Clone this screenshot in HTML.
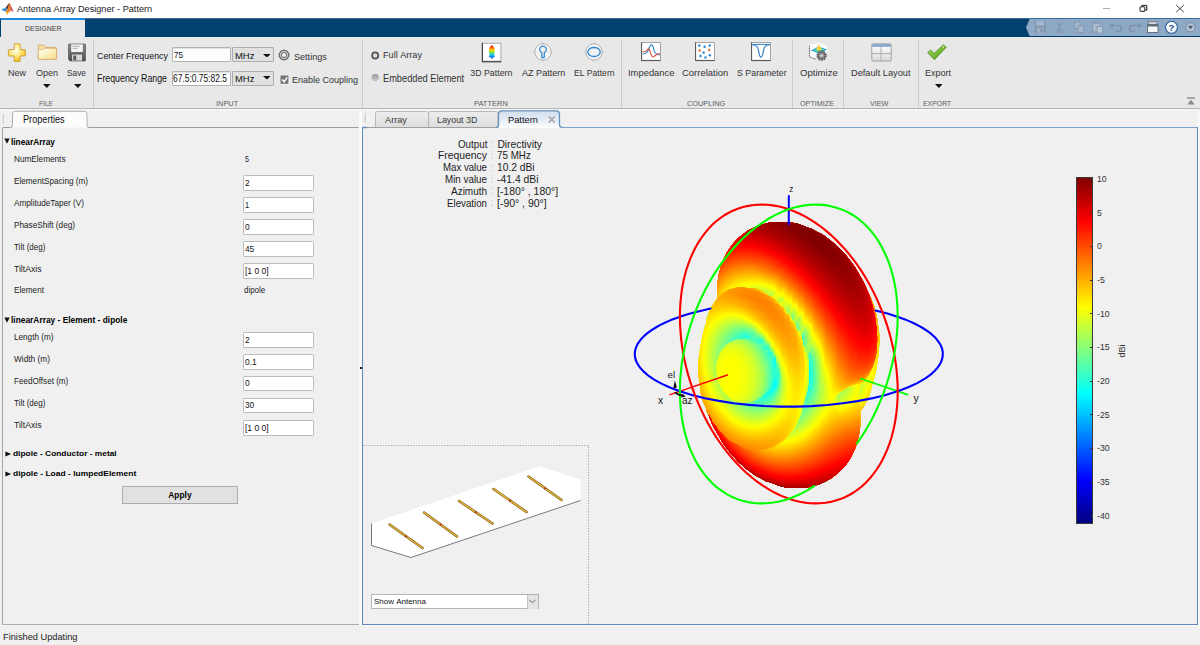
<!DOCTYPE html>
<html><head><meta charset="utf-8"><title>Antenna Array Designer - Pattern</title><style>html,body{margin:0;padding:0}body{width:1200px;height:645px;position:relative;overflow:hidden;background:#f0f0f0;font-family:"Liberation Sans",sans-serif}
.a{position:absolute;display:block}.t{position:absolute;white-space:nowrap;transform-origin:0 50%;font-family:"Liberation Sans",sans-serif}</style></head><body>
<div class="a" style="left:0px;top:0px;width:1200px;height:18px;background:#fff"></div>
<svg class="a" style="left:0;top:0" width="16" height="18" viewBox="0 0 16 18"><path d="M1.1 9.7L5.6 7.4L7.5 9.5L5.8 11.7Z" fill="#3d90d7"/><path d="M5.6 7.4C7.2 5.9 8.3 3.7 9.4 2.8L9.2 8L7.5 9.5Z" fill="#5a3a3a"/><path d="M9.4 2.8C10.2 4.5 10.4 8 10.6 10.5C9.6 11.5 8.6 12.7 7.2 14.7C6.6 13.4 6.2 12.4 5.8 11.7L7.5 9.5C8.3 7.3 8.8 4.8 9.4 2.8Z" fill="#ee8527"/><path d="M9.4 2.8C10.7 4.4 11.9 8.6 13.7 11.9C12.4 11.1 11.4 10.7 10.6 10.5C10.4 8 10.2 4.5 9.4 2.8Z" fill="#d5383b"/><path d="M5.8 11.7L7.2 14.7C7.6 13.7 8 13.1 8.5 12.4C7.4 12.4 6.6 12.1 5.8 11.7Z" fill="#f6c22e"/></svg>
<div class="t" style="left:17.0px;top:3.8px;font-size:8.90px;line-height:11px;color:#1a1a1a;transform:scaleX(1.0299);">Antenna&nbsp;Array&nbsp;Designer&nbsp;-&nbsp;Pattern</div>
<svg class="a" style="left:1095px;top:0" width="105" height="18" viewBox="1095 0 105 18" fill="none" stroke="#333" stroke-width="0.8"><path d="M1103 8.5h7.2" stroke="#999"/><rect x="1140.1" y="6.8" width="4.7" height="4.6" rx="0.5" stroke="#1a1a1a" stroke-width="1"/><path d="M1141.9 6.6v-1.2h4.9v4.8h-1.7" stroke="#1a1a1a" stroke-width="1"/><path d="M1176.2 5.1l7.6 7M1183.8 5.1l-7.6 7" stroke="#222" stroke-width="0.85"/></svg>
<div class="a" style="left:0px;top:18px;width:1200px;height:19px;background:#01406f"></div>
<div class="a" style="left:0px;top:17.7px;width:1200px;height:1.3px;background:#3d6f9e"></div>
<div class="a" style="left:1px;top:18.3px;width:84.3px;height:18.7px;background:#e8e8e8;border-top:2px solid #1f86dd;box-sizing:border-box"></div>
<div class="t" style="left:24.5px;top:23.8px;font-size:8.00px;line-height:10px;color:#3c3c3c;transform:scaleX(0.8735);">DESIGNER</div>
<svg class="a" style="left:1020px;top:18px" width="180" height="19" viewBox="1020 18 180 19"><path d="M1026 27.5 L1029.6 19 H1200 V36 H1029.6 Z" fill="#8ea9c6"/><g opacity="0.55"><rect x="1034.5" y="21.5" width="11.5" height="11.5" rx="1" fill="#7d8ea3"/><rect x="1036.5" y="21.5" width="7.5" height="4" fill="#b9c6d6"/><rect x="1037" y="28" width="6.5" height="5" fill="#a8b7c9"/><rect x="1040.5" y="29" width="2" height="3" fill="#6f8197"/></g><g stroke="#7f93ab" stroke-width="1" fill="none"><path d="M1057.5 22l3 8M1061.5 22l-3 8"/><circle cx="1057.6" cy="31.3" r="1.5"/><circle cx="1061.4" cy="31.3" r="1.5"/></g><g fill="#a9bace" stroke="#7f93ab" stroke-width="0.8"><rect x="1074.5" y="22" width="5.5" height="6.5"/><rect x="1078" y="26" width="5.5" height="6.5"/></g><g fill="#a9bace" stroke="#7f93ab" stroke-width="0.8"><rect x="1092.5" y="22.5" width="7.5" height="9.5"/><rect x="1094.5" y="21.3" width="3.5" height="2.2"/><rect x="1097" y="26.5" width="5.5" height="6.5" fill="#b9c8d9"/></g><g fill="none" stroke="#7f93ab" stroke-width="1.6"><path d="M1112 25.5h6.5a3 3 0 0 1 0 6h-3"/><path d="M1139 25.5h-6.5a3 3 0 0 0 0 6h3"/></g><path d="M1109 25.5l4-3.2v6.4z" fill="#7f93ab"/><path d="M1142 25.5l-4-3.2v6.4z" fill="#7f93ab"/><g><rect x="1148.5" y="21.5" width="8.5" height="7" fill="#c9d3df" stroke="#6b7785" stroke-width="0.8"/><rect x="1147.5" y="24.5" width="10.5" height="8" fill="#f4f6f8" stroke="#5d6a78" stroke-width="0.9"/><rect x="1147.5" y="24.5" width="10.5" height="2" fill="#5d6a78"/></g><circle cx="1171.5" cy="27.3" r="6" fill="#f4f7fb" stroke="#2d5f9a" stroke-width="1.1"/><text x="1171.5" y="30.6" font-family="Liberation Sans" font-weight="bold" font-size="9.5" fill="#1d4b85" text-anchor="middle">?</text><circle cx="1190.5" cy="27.3" r="4.6" fill="#b7c6d8" stroke="#6c7f96" stroke-width="0.9"/><path d="M1187.8 25.8h5.4l-2.7 3.6z" fill="#4b5b70"/></svg>
<div class="a" style="left:0px;top:37px;width:1200px;height:71px;background:#e8e8e8"></div>
<div class="a" style="left:0px;top:107.5px;width:1200px;height:1px;background:#b4b4b4"></div>
<div class="a" style="left:0px;top:108.5px;width:1200px;height:2px;background:#f5f5f5"></div>
<div class="a" style="left:93px;top:40px;width:1px;height:67.5px;background:#cbcbcb"></div>
<div class="a" style="left:361.5px;top:40px;width:1px;height:67.5px;background:#cbcbcb"></div>
<div class="a" style="left:621.2px;top:40px;width:1px;height:67.5px;background:#cbcbcb"></div>
<div class="a" style="left:792px;top:40px;width:1px;height:67.5px;background:#cbcbcb"></div>
<div class="a" style="left:842.8px;top:40px;width:1px;height:67.5px;background:#cbcbcb"></div>
<div class="a" style="left:917.8px;top:40px;width:1px;height:67.5px;background:#cbcbcb"></div>
<div class="t" style="left:8.0px;top:67.5px;font-size:8.80px;line-height:11px;color:#333333;transform:scaleX(1.0225);">New</div>
<div class="t" style="left:36.0px;top:67.5px;font-size:8.80px;line-height:11px;color:#333333;transform:scaleX(1.0218);">Open</div>
<div class="t" style="left:67.0px;top:67.5px;font-size:8.80px;line-height:11px;color:#333333;transform:scaleX(0.9472);">Save</div>
<svg class="a" style="left:43.2px;top:84px" width="7.6" height="4" viewBox="0 0 7.6 4"><path d="M0 0h7.6l-3.8 4z" fill="#111"/></svg>
<svg class="a" style="left:73.6px;top:84px" width="7.6" height="4" viewBox="0 0 7.6 4"><path d="M0 0h7.6l-3.8 4z" fill="#111"/></svg>
<div class="t" style="left:39.0px;top:98.6px;font-size:7.60px;line-height:10px;color:#5e5e5e;transform:scaleX(0.8722);">FILE</div>
<svg class="a" style="left:7px;top:42.5px" width="20" height="20" viewBox="0 0 20 20"><defs><radialGradient id="gn" cx="0.42" cy="0.36" r="0.7"><stop offset="0" stop-color="#fffef2"/><stop offset="0.35" stop-color="#fdf0a0"/><stop offset="0.75" stop-color="#f6cf3c"/><stop offset="1" stop-color="#e2a712"/></radialGradient></defs><path d="M7.2 1.3q0-0.5 0.5-0.5h5q0.5 0 0.5 0.5v5.3h4.6q0.5 0 0.5 0.5v5.4q0 0.5-0.5 0.5h-4.6v5q0 0.5-0.5 0.5h-5q-0.5 0-0.5-0.5v-5h-5.3q-0.5 0-0.5-0.5v-5.4q0-0.5 0.5-0.5h5.3z" fill="url(#gn)" stroke="#cf9d3a" stroke-width="0.9" stroke-linejoin="round"/></svg>
<svg class="a" style="left:37px;top:43.5px" width="22" height="17" viewBox="0 0 22 17"><defs><linearGradient id="gf" x1="0" y1="0" x2="1" y2="1"><stop offset="0" stop-color="#ffffff"/><stop offset="0.45" stop-color="#fdf3c4"/><stop offset="1" stop-color="#f3d983"/></linearGradient></defs><path d="M1.3 15V2.1q0-0.9 0.9-0.9h4.3q0.6 0 0.9 0.5l1 1.7h10.2q0.9 0 0.9 0.9V15z" fill="#f6e3a2" stroke="#d2a060" stroke-width="0.8" stroke-linejoin="round"/><path d="M1.6 15.3q-0.5-4.5-0.2-8.8q0.1-0.9 1-0.9h3.4l1.6-1.3h11.3q0.9 0 0.9 0.9v9.2q0 0.9-0.9 0.9z" fill="url(#gf)" stroke="#d6a868" stroke-width="0.8" stroke-linejoin="round"/></svg>
<svg class="a" style="left:67px;top:43px" width="20" height="20" viewBox="0 0 20 20"><defs><linearGradient id="gs" x1="0" y1="0" x2="0" y2="1"><stop offset="0" stop-color="#8a8a8a"/><stop offset="1" stop-color="#4f4f4f"/></linearGradient></defs><path d="M1.5 1.8q0-0.8 0.8-0.8h15.4q0.8 0 0.8 0.8v15.4q0 0.8-0.8 0.8h-14.6l-1.6-1.6z" fill="url(#gs)" stroke="#444" stroke-width="0.6"/><rect x="4.2" y="1.4" width="11.6" height="7.6" fill="#f4f4f4"/><path d="M5.6 3.4h7M5.6 5.4h5" stroke="#999" stroke-width="0.8"/><rect x="5" y="11.6" width="10" height="6" fill="#d8d8d8"/><rect x="6.2" y="12.6" width="3" height="4.6" fill="#5a5a5a"/></svg>
<div class="t" style="left:97.0px;top:50.5px;font-size:9.10px;line-height:11px;color:#111;transform:scaleX(0.9749);">Center&nbsp;Frequency</div>
<div class="t" style="left:97.0px;top:73.2px;font-size:10.00px;line-height:12px;color:#111;transform:scaleX(0.8805);">Frequency&nbsp;Range</div>
<div class="a" style="left:171.8px;top:47.2px;width:59px;height:14.6px;background:#fdfdfd;border:1px solid #b3b3b3;border-radius:1px;box-sizing:border-box;box-shadow:inset 0 1px 0 #e2e2e2"></div>
<div class="a" style="left:232px;top:47.2px;width:41.7px;height:14.6px;background:#e1e1e1;border:1px solid #adadad;border-radius:1px;box-sizing:border-box"></div>
<div class="t" style="left:234.8px;top:49.8px;font-size:9.80px;line-height:12px;color:#111;transform:scaleX(0.9633);">MHz</div>
<svg class="a" style="left:262.75px;top:53.85px" width="7.7" height="3.5" viewBox="0 0 7.7 3.5"><path d="M0 0h7.7l-3.85 3.5z" fill="#111"/></svg>
<div class="a" style="left:171.8px;top:71.2px;width:59px;height:14.6px;background:#fdfdfd;border:1px solid #b3b3b3;border-radius:1px;box-sizing:border-box;box-shadow:inset 0 1px 0 #e2e2e2"></div>
<div class="a" style="left:232px;top:71.2px;width:41.7px;height:14.6px;background:#e1e1e1;border:1px solid #adadad;border-radius:1px;box-sizing:border-box"></div>
<div class="t" style="left:234.8px;top:73.3px;font-size:9.80px;line-height:12px;color:#111;transform:scaleX(0.9633);">MHz</div>
<svg class="a" style="left:262.75px;top:76.45px" width="7.7" height="3.5" viewBox="0 0 7.7 3.5"><path d="M0 0h7.7l-3.85 3.5z" fill="#111"/></svg>
<div class="t" style="left:173.6px;top:49.0px;font-size:9.70px;line-height:12px;color:#111;transform:scaleX(0.8250);">75</div>
<div class="t" style="left:173.4px;top:71.8px;font-size:10.20px;line-height:13px;color:#111;transform:scaleX(0.8263);">67.5:0.75:82.5</div>
<svg class="a" style="left:278.4px;top:49.4px" width="12" height="12" viewBox="0 0 12 12"><circle cx="6" cy="6" r="4.7" fill="#c4c4c4" stroke="#646464" stroke-width="1.1"/><circle cx="6" cy="6" r="5.2" fill="none" stroke="#707070" stroke-width="0.7" stroke-dasharray="1.6 1.67"/><circle cx="6" cy="6" r="2.5" fill="#f4f4f4" stroke="#6a6a6a" stroke-width="1"/></svg>
<div class="t" style="left:293.8px;top:50.5px;font-size:9.30px;line-height:12px;color:#333333;transform:scaleX(0.9761);">Settings</div>
<svg class="a" style="left:279.5px;top:74.7px" width="10" height="10" viewBox="0 0 10 10"><rect x="0.5" y="0.5" width="8.2" height="8.4" rx="0.9" fill="#767676"/><path d="M0.9 9.2h8.1v-8" fill="none" stroke="#f6f6f6" stroke-width="0.7"/><path d="M2.2 4.6l1.9 2.2l3.1-4.4" fill="none" stroke="#fff" stroke-width="1.5"/></svg>
<div class="t" style="left:291.8px;top:74.1px;font-size:9.60px;line-height:12px;color:#333333;transform:scaleX(0.9381);">Enable&nbsp;Coupling</div>
<div class="t" style="left:215.8px;top:98.6px;font-size:7.60px;line-height:10px;color:#5e5e5e;transform:scaleX(0.9737);">INPUT</div>
<svg class="a" style="left:370px;top:50px" width="10" height="34" viewBox="0 0 10 34"><defs><linearGradient id="r2" x1="0" y1="0" x2="0" y2="1"><stop offset="0" stop-color="#9a9a9a"/><stop offset="1" stop-color="#cfcfcf"/></linearGradient></defs><circle cx="5.2" cy="6" r="3.6" fill="none" stroke="#f8f8f8" stroke-width="1"/><circle cx="5.2" cy="5.5" r="3.1" fill="#dedede" stroke="#505050" stroke-width="1.7"/><circle cx="5.2" cy="28.4" r="3.9" fill="#f8f8f8"/><circle cx="5.2" cy="27.9" r="3.8" fill="url(#r2)"/></svg>
<div class="t" style="left:382.8px;top:50.3px;font-size:8.80px;line-height:11px;color:#333333;transform:scaleX(1.0359);">Full&nbsp;Array</div>
<div class="t" style="left:382.8px;top:73.1px;font-size:10.00px;line-height:12px;color:#333333;transform:scaleX(0.9244);">Embedded&nbsp;Element</div>
<svg class="a" style="left:481px;top:42px" width="22" height="22" viewBox="0 0 22 22"><defs><linearGradient id="jet1" x1="0" y1="0" x2="0" y2="1"><stop offset="0" stop-color="#e00008"/><stop offset="0.2" stop-color="#ff6a00"/><stop offset="0.38" stop-color="#f0e000"/><stop offset="0.55" stop-color="#60e060"/><stop offset="0.72" stop-color="#20c8e8"/><stop offset="0.9" stop-color="#1070f0"/><stop offset="1" stop-color="#1040d0"/></linearGradient></defs><rect x="1.3" y="1.2" width="18.6" height="18.5" fill="#fff" stroke="#8a8a8a" stroke-width="0.7"/><path d="M1.3 0.9v18.9h18.9" fill="none" stroke="#2a2a2a" stroke-width="1"/><path d="M3.5 19v-0.9M6 19v-0.9M8.5 19v-0.9M11 19v-0.9M13.5 19v-0.9M16 19v-0.9M18.5 19v-0.9" stroke="#555" stroke-width="0.45"/><path d="M10.8 3.2c1.6 0.8 3 3.2 3 5.4c0 2-0.9 2.8-0.6 4.4c0.2 0.9 0.9 1.3 0.5 2c-0.4 0.6-1.4 0.4-1.9 0.3l-0.4 1.4h-1.2l-0.4-1.4c-0.5 0.1-1.5 0.3-1.9-0.3c-0.4-0.7 0.3-1.1 0.5-2c0.3-1.6-0.6-2.4-0.6-4.4c0-2.2 1.4-4.6 3-5.4z" fill="url(#jet1)"/></svg>
<div class="t" style="left:470.3px;top:67.5px;font-size:8.80px;line-height:11px;color:#333333;">3D&nbsp;Pattern</div>
<svg class="a" style="left:530.8px;top:39.8px" width="24" height="24" viewBox="-12 -12 24 24"><path d="M-9.8 0h19.6M0-9.8v19.6" stroke="#b0b0b0" stroke-width="0.6"/><circle r="8.2" fill="#f5f5f5" stroke="#a9a9a9" stroke-width="0.9"/><path d="M-8 0h16M0-8v16" stroke="#e1e1e1" stroke-width="0.5"/><circle r="4.6" fill="none" stroke="#e4e4e4" stroke-width="0.5"/><path d="M-1.25 5.6V0.5A3.3 3.3 0 1 1 1.25 0.5V5.6Z" fill="none" stroke="#2f86d1" stroke-width="1.25" stroke-linejoin="round"/></svg>
<svg class="a" style="left:581.5px;top:39.9px" width="24" height="24" viewBox="-12 -12 24 24"><path d="M-9.8 0h19.6M0-9.8v19.6" stroke="#b0b0b0" stroke-width="0.6"/><circle r="8.2" fill="#f5f5f5" stroke="#a9a9a9" stroke-width="0.9"/><path d="M-8 0h16M0-8v16" stroke="#e1e1e1" stroke-width="0.5"/><circle r="4.6" fill="none" stroke="#e4e4e4" stroke-width="0.5"/><ellipse rx="6.2" ry="4.5" fill="none" stroke="#2f86d1" stroke-width="1.3"/></svg>
<div class="t" style="left:521.7px;top:67.5px;font-size:8.80px;line-height:11px;color:#333333;transform:scaleX(1.0293);">AZ&nbsp;Pattern</div>
<div class="t" style="left:573.8px;top:67.5px;font-size:8.80px;line-height:11px;color:#333333;transform:scaleX(0.9743);">EL&nbsp;Pattern</div>
<div class="t" style="left:473.7px;top:98.6px;font-size:7.60px;line-height:10px;color:#5e5e5e;transform:scaleX(0.9843);">PATTERN</div>
<svg class="a" style="left:640.6px;top:42.4px" width="20.8" height="20" viewBox="0 0 20.8 20"><rect x="0.6" y="0.6" width="18.8" height="18" fill="#fff" stroke="#909090" stroke-width="0.8"/><path d="M0.6 0.4v18.2h19" fill="none" stroke="#4a4a4a" stroke-width="0.9"/><path d="M3 18.4v-1M6 18.4v-1M9 18.4v-1M12 18.4v-1M15 18.4v-1M18 18.4v-1" stroke="#666" stroke-width="0.45"/><path d="M1.5 12c3-0.3 4.6-0.6 6-4.5c1-3 1.9-4.6 2.9-4.6s1.9 1.8 2.5 5.1c0.6 3.3 2 4.6 6 5" fill="none" stroke="#2f7fc8" stroke-width="1.1"/><path d="M1.5 10c2.5 0 3.8-0.4 4.8-2.2c1-1.5 1.9-1.2 2.7 1.4c0.8 3.3 1.5 5.8 2.9 5.8c1.4 0 2.4-3.2 7-3.6" fill="none" stroke="#e34a33" stroke-width="1.05"/></svg>
<svg class="a" style="left:694.6px;top:42.4px" width="20.8" height="20" viewBox="0 0 20.8 20"><rect x="0.6" y="0.6" width="18.8" height="18" fill="#fff" stroke="#909090" stroke-width="0.8"/><path d="M0.6 0.4v18.2h19" fill="none" stroke="#4a4a4a" stroke-width="0.9"/><path d="M3 18.4v-1M6 18.4v-1M9 18.4v-1M12 18.4v-1M15 18.4v-1M18 18.4v-1" stroke="#666" stroke-width="0.45"/><circle cx="4.3" cy="3.4" r="1.25" fill="#2f86d1"/><circle cx="9.6" cy="4.8" r="1.25" fill="#2f86d1"/><circle cx="14.8" cy="3.6" r="1.25" fill="#2f86d1"/><circle cx="4.6" cy="8.6" r="1.25" fill="#e8743b"/><circle cx="8.6" cy="10.6" r="1.25" fill="#2f86d1"/><circle cx="14.2" cy="8" r="1.25" fill="#e8743b"/><circle cx="5.5" cy="14" r="1.25" fill="#2f86d1"/><circle cx="10.5" cy="15.4" r="1.25" fill="#2f86d1"/><circle cx="14.8" cy="13.2" r="1.25" fill="#2f86d1"/></svg>
<svg class="a" style="left:751px;top:42.4px" width="20.8" height="20" viewBox="0 0 20.8 20"><rect x="0.6" y="0.6" width="18.8" height="18" fill="#fff" stroke="#909090" stroke-width="0.8"/><path d="M0.6 0.4v18.2h19" fill="none" stroke="#4a4a4a" stroke-width="0.9"/><path d="M3 18.4v-1M6 18.4v-1M9 18.4v-1M12 18.4v-1M15 18.4v-1M18 18.4v-1" stroke="#666" stroke-width="0.45"/><path d="M1 2.4h18" stroke="#2f7fc8" stroke-width="1"/><path d="M1.5 3c4 0.1 5.4 1.6 6.2 6.6c0.6 3.6 1.2 5.6 2.3 5.6s1.7-2 2.3-5.6c0.8-5 2.2-6.5 6.2-6.6" fill="none" stroke="#2f7fc8" stroke-width="1.2"/></svg>
<div class="t" style="left:627.5px;top:67.5px;font-size:8.80px;line-height:11px;color:#333333;transform:scaleX(1.0678);">Impedance</div>
<div class="t" style="left:681.7px;top:67.5px;font-size:8.80px;line-height:11px;color:#333333;transform:scaleX(1.0756);">Correlation</div>
<div class="t" style="left:736.7px;top:67.5px;font-size:8.80px;line-height:11px;color:#333333;transform:scaleX(1.0040);">S&nbsp;Parameter</div>
<div class="t" style="left:686.7px;top:98.6px;font-size:7.60px;line-height:10px;color:#5e5e5e;transform:scaleX(0.9648);">COUPLING</div>
<svg class="a" style="left:806px;top:41px" width="24" height="23" viewBox="806 41 24 23"><path d="M809.5 45.8L818 42.6L827.2 45.6V56.5L818.5 60L809.5 57Z" fill="#fcfcfc"/><path d="M809.5 45.8V57L816.5 59.4" fill="none" stroke="#555" stroke-width="0.9" stroke-dasharray="1.6 0.7"/><path d="M810.8 50.4L818.6 46.4L827 49.4L819.4 53.6Z" fill="#2b9fd9"/><path d="M813 50.2L818.7 47.3L824.6 49.4L819.2 52.4Z" fill="#4fd0b0"/><path d="M816.2 49.6L818.8 44.2L821.8 49.4L819 50.8Z" fill="#f2d53a"/><circle cx="821.6" cy="55.6" r="4.5" fill="#9a9a9a" stroke="#5a5a5a" stroke-width="1.5" stroke-dasharray="1.75 1.05"/><circle cx="821.6" cy="55.6" r="3.3" fill="#a8a8a8" stroke="#4f4f4f" stroke-width="0.8"/><circle cx="821.6" cy="55.6" r="1.7" fill="#e0e0e0" stroke="#555" stroke-width="0.6"/></svg>
<div class="t" style="left:799.7px;top:67.5px;font-size:8.80px;line-height:11px;color:#333333;transform:scaleX(1.0887);">Optimize</div>
<div class="t" style="left:800.0px;top:98.6px;font-size:7.60px;line-height:10px;color:#5e5e5e;transform:scaleX(0.9473);">OPTIMIZE</div>
<svg class="a" style="left:870.5px;top:43px" width="21" height="19" viewBox="0 0 21 19"><defs><linearGradient id="gl" x1="0" y1="0" x2="0" y2="1"><stop offset="0" stop-color="#fdfdfd"/><stop offset="1" stop-color="#dcdcdc"/></linearGradient></defs><rect x="0.8" y="0.8" width="19.4" height="17.2" rx="1" fill="url(#gl)" stroke="#9a9a9a" stroke-width="0.9"/><rect x="1.2" y="1.2" width="18.6" height="2.6" fill="#7fa3d0"/><path d="M1 10.6h19M10 4v14" stroke="#a8a8a8" stroke-width="0.9"/></svg>
<div class="t" style="left:851.3px;top:67.5px;font-size:8.80px;line-height:11px;color:#333333;transform:scaleX(1.0483);">Default&nbsp;Layout</div>
<div class="t" style="left:870.3px;top:98.6px;font-size:7.60px;line-height:10px;color:#5e5e5e;transform:scaleX(0.9473);">VIEW</div>
<svg class="a" style="left:926px;top:43px" width="22" height="19" viewBox="0 0 22 19"><defs><linearGradient id="gc" x1="0" y1="0" x2="1" y2="1"><stop offset="0" stop-color="#a6e05a"/><stop offset="1" stop-color="#4f9a1e"/></linearGradient></defs><path d="M1.6 9.6l3-2.6l3.6 3.4l9-8.6l3 2.4l-11.8 12.6z" fill="url(#gc)" stroke="#4a8a20" stroke-width="0.8" stroke-linejoin="round"/><path d="M16.6 3.2l1.4 1.2" stroke="#e6f7c8" stroke-width="1.2"/></svg>
<div class="t" style="left:924.7px;top:67.5px;font-size:8.80px;line-height:11px;color:#333333;transform:scaleX(1.0261);">Export</div>
<svg class="a" style="left:934.9px;top:84px" width="7.6" height="4" viewBox="0 0 7.6 4"><path d="M0 0h7.6l-3.8 4z" fill="#111"/></svg>
<div class="t" style="left:922.5px;top:98.6px;font-size:7.60px;line-height:10px;color:#5e5e5e;transform:scaleX(0.9096);">EXPORT</div>
<svg class="a" style="left:1185.8px;top:96.6px" width="10" height="9" viewBox="0 0 10 9"><path d="M1 1h8" stroke="#777" stroke-width="1.2"/><path d="M5 2.8l3.6 4.6h-7.2z" fill="#8a8a8a"/></svg>
<div class="a" style="left:0px;top:110.5px;width:1200px;height:534.5px;background:#f0f0f0"></div>
<svg class="a" style="left:0;top:109px" width="362" height="20" viewBox="0 109 362 20"><path d="M2.5 127.5 H10.5 Q12.3 127.3 12.6 125.5 V114 Q12.8 111.3 15.5 111.3 H84 Q86.7 111.3 86.9 114 V125.5 Q87.2 127.3 89 127.5 H358.5" fill="none" stroke="#9d9d9d" stroke-width="1"/><path d="M12.9 127.5 V114 Q13 111.8 15.5 111.8 H84 Q86.4 111.8 86.5 114 V127.5 Z" fill="#fbfbfb"/><path d="M3.6 114v9.5" stroke="#cfcfcf" stroke-width="1.5"/><path d="M4.9 114v9.5" stroke="#fafafa" stroke-width="1"/></svg>
<div class="t" style="left:23.3px;top:114.0px;font-size:10.00px;line-height:12px;color:#111;transform:scaleX(0.9148);">Properties</div>
<div class="a" style="left:1.6px;top:127.5px;width:1.5px;height:497px;background:#a6a6a6"></div>
<div class="a" style="left:2px;top:623.8px;width:357px;height:1px;background:#adadad"></div>
<div class="a" style="left:358.5px;top:127.5px;width:1px;height:497px;background:#dcdcdc"></div>
<svg class="a" style="left:3.6px;top:138.4px" width="6" height="6" viewBox="0 0 6 6"><path d="M0.3 0.4h5.4l-2.7 5.4z" fill="#111"/></svg>
<div class="t" style="left:11.0px;top:136.7px;font-size:8.40px;line-height:10px;color:#000;font-weight:bold;transform:scaleX(0.9919);">linearArray</div>
<div class="t" style="left:13.5px;top:153.7px;font-size:8.80px;line-height:11px;color:#222;transform:scaleX(0.9319);">NumElements</div>
<div class="t" style="left:244.6px;top:153.7px;font-size:8.80px;line-height:11px;color:#222;transform:scaleX(0.8172);">5</div>
<div class="t" style="left:13.5px;top:175.9px;font-size:8.80px;line-height:11px;color:#222;transform:scaleX(0.9282);">ElementSpacing&nbsp;(m)</div>
<div class="a" style="left:243.3px;top:175.2px;width:70.5px;height:15.6px;background:#fff;border:1px solid #bcbcbc;border-radius:1.2px;box-sizing:border-box"></div>
<div class="t" style="left:244.8px;top:177.8px;font-size:9.00px;line-height:11px;color:#111;transform:scaleX(0.9389);">2</div>
<div class="t" style="left:13.5px;top:197.8px;font-size:8.80px;line-height:11px;color:#222;transform:scaleX(0.9293);">AmplitudeTaper&nbsp;(V)</div>
<div class="a" style="left:243.3px;top:197.2px;width:70.5px;height:15.6px;background:#fff;border:1px solid #bcbcbc;border-radius:1.2px;box-sizing:border-box"></div>
<div class="t" style="left:244.8px;top:199.8px;font-size:9.00px;line-height:11px;color:#111;transform:scaleX(0.8390);">1</div>
<div class="t" style="left:13.5px;top:219.8px;font-size:8.80px;line-height:11px;color:#222;transform:scaleX(0.9305);">PhaseShift&nbsp;(deg)</div>
<div class="a" style="left:243.3px;top:219.2px;width:70.5px;height:15.6px;background:#fff;border:1px solid #bcbcbc;border-radius:1.2px;box-sizing:border-box"></div>
<div class="t" style="left:244.8px;top:221.8px;font-size:9.00px;line-height:11px;color:#111;transform:scaleX(0.9389);">0</div>
<div class="t" style="left:13.5px;top:241.7px;font-size:8.80px;line-height:11px;color:#222;transform:scaleX(0.9158);">Tilt&nbsp;(deg)</div>
<div class="a" style="left:243.3px;top:241.2px;width:70.5px;height:15.6px;background:#fff;border:1px solid #bcbcbc;border-radius:1.2px;box-sizing:border-box"></div>
<div class="t" style="left:244.8px;top:243.8px;font-size:9.00px;line-height:11px;color:#111;transform:scaleX(0.9189);">45</div>
<div class="t" style="left:13.5px;top:263.5px;font-size:8.80px;line-height:11px;color:#222;transform:scaleX(0.9811);">TiltAxis</div>
<div class="a" style="left:243.3px;top:263.2px;width:70.5px;height:15.6px;background:#fff;border:1px solid #bcbcbc;border-radius:1.2px;box-sizing:border-box"></div>
<div class="t" style="left:244.8px;top:265.8px;font-size:9.00px;line-height:11px;color:#111;transform:scaleX(0.9473);">[1&nbsp;0&nbsp;0]</div>
<div class="t" style="left:13.5px;top:285.3px;font-size:8.80px;line-height:11px;color:#222;transform:scaleX(0.9292);">Element</div>
<div class="t" style="left:244.3px;top:285.3px;font-size:8.80px;line-height:11px;color:#222;transform:scaleX(0.9026);">dipole</div>
<svg class="a" style="left:3.6px;top:317px" width="6" height="6" viewBox="0 0 6 6"><path d="M0.3 0.4h5.4l-2.7 5.4z" fill="#111"/></svg>
<div class="t" style="left:11.0px;top:315.3px;font-size:8.40px;line-height:10px;color:#000;font-weight:bold;">linearArray&nbsp;-&nbsp;Element&nbsp;-&nbsp;dipole</div>
<div class="t" style="left:13.5px;top:332.3px;font-size:8.80px;line-height:11px;color:#222;transform:scaleX(0.9281);">Length&nbsp;(m)</div>
<div class="a" style="left:243.3px;top:332.2px;width:70.5px;height:15.6px;background:#fff;border:1px solid #bcbcbc;border-radius:1.2px;box-sizing:border-box"></div>
<div class="t" style="left:244.8px;top:334.8px;font-size:9.00px;line-height:11px;color:#111;transform:scaleX(0.9389);">2</div>
<div class="t" style="left:13.5px;top:354.0px;font-size:8.80px;line-height:11px;color:#222;transform:scaleX(0.9441);">Width&nbsp;(m)</div>
<div class="a" style="left:243.3px;top:354.2px;width:70.5px;height:15.6px;background:#fff;border:1px solid #bcbcbc;border-radius:1.2px;box-sizing:border-box"></div>
<div class="t" style="left:244.8px;top:356.8px;font-size:9.00px;line-height:11px;color:#111;transform:scaleX(0.9351);">0.1</div>
<div class="t" style="left:13.5px;top:376.1px;font-size:8.80px;line-height:11px;color:#222;transform:scaleX(0.9201);">FeedOffset&nbsp;(m)</div>
<div class="a" style="left:243.3px;top:375.7px;width:70.5px;height:15.6px;background:#fff;border:1px solid #bcbcbc;border-radius:1.2px;box-sizing:border-box"></div>
<div class="t" style="left:244.8px;top:378.3px;font-size:9.00px;line-height:11px;color:#111;transform:scaleX(0.9389);">0</div>
<div class="t" style="left:13.5px;top:397.9px;font-size:8.80px;line-height:11px;color:#222;transform:scaleX(0.9158);">Tilt&nbsp;(deg)</div>
<div class="a" style="left:243.3px;top:397.7px;width:70.5px;height:15.6px;background:#fff;border:1px solid #bcbcbc;border-radius:1.2px;box-sizing:border-box"></div>
<div class="t" style="left:244.8px;top:400.3px;font-size:9.00px;line-height:11px;color:#111;transform:scaleX(0.9189);">30</div>
<div class="t" style="left:13.5px;top:419.9px;font-size:8.80px;line-height:11px;color:#222;transform:scaleX(0.9811);">TiltAxis</div>
<div class="a" style="left:243.3px;top:420.2px;width:70.5px;height:15.6px;background:#fff;border:1px solid #bcbcbc;border-radius:1.2px;box-sizing:border-box"></div>
<div class="t" style="left:244.8px;top:422.8px;font-size:9.00px;line-height:11px;color:#111;transform:scaleX(0.9473);">[1&nbsp;0&nbsp;0]</div>
<svg class="a" style="left:4.6px;top:451.2px" width="7" height="6" viewBox="0 0 7 6"><path d="M0.4 0.5v5l5.8-2.5z" fill="#111"/></svg>
<div class="t" style="left:12.6px;top:449.2px;font-size:8.00px;line-height:10px;color:#000;font-weight:bold;transform:scaleX(1.0463);">dipole&nbsp;-&nbsp;Conductor&nbsp;-&nbsp;metal</div>
<svg class="a" style="left:4.6px;top:470.5px" width="7" height="6" viewBox="0 0 7 6"><path d="M0.4 0.5v5l5.8-2.5z" fill="#111"/></svg>
<div class="t" style="left:12.6px;top:468.5px;font-size:8.00px;line-height:10px;color:#000;font-weight:bold;transform:scaleX(1.0580);">dipole&nbsp;-&nbsp;Load&nbsp;-&nbsp;lumpedElement</div>
<div class="a" style="left:122.3px;top:485.5px;width:115.5px;height:18px;background:#e1e1e1;border:1px solid #adadad;box-sizing:border-box"></div>
<div class="t" style="left:168.3px;top:490.2px;font-size:8.40px;line-height:10px;color:#000;font-weight:bold;">Apply</div>
<div class="a" style="left:358.7px;top:110.5px;width:3.2px;height:515px;background:#fbfbfb"></div>
<div class="a" style="left:359.9px;top:367px;width:1.7px;height:1.7px;background:#222"></div>
<svg class="a" style="left:360px;top:108px" width="840" height="21" viewBox="360 108 840 21"><defs><linearGradient id="tg" x1="0" y1="0" x2="0" y2="1"><stop offset="0" stop-color="#ededed"/><stop offset="1" stop-color="#dddddd"/></linearGradient><linearGradient id="ta" x1="0" y1="0" x2="0" y2="1"><stop offset="0" stop-color="#d2dfee"/><stop offset="0.55" stop-color="#e6eef7"/><stop offset="1" stop-color="#ffffff"/></linearGradient></defs><path d="M375.5 127.5V113.5Q375.5 111.5 377.5 111.5H426.5Q428.6 111.5 428.6 113.5V127.5Z" fill="url(#tg)" stroke="#b2b2b2" stroke-width="0.9"/><path d="M428.6 127.5V113.5Q428.6 111.5 430.6 111.5H496Q498 111.5 498 113.5V127.5Z" fill="url(#tg)" stroke="#b2b2b2" stroke-width="0.9"/><path d="M367 127.5H498" stroke="#9f9f9f" stroke-width="1"/><path d="M499 128V114Q499.1 111.2 501.6 111.2H556.4Q558.9 111.2 559 114V128Z" fill="url(#ta)"/><path d="M362.6 127.5H367M496 127.5Q498.3 127.3 498.5 125.3V114Q498.7 110.8 501.6 110.8H556.4Q559.3 110.8 559.5 114V125Q559.8 127.3 562.5 127.5" fill="none" stroke="#6690bd" stroke-width="1.3"/><path d="M562 127.5H1197.5" stroke="#7da3cd" stroke-width="1.2"/><path d="M365.4 113.5v9" stroke="#d0d0d0" stroke-width="1.6"/><path d="M366.8 113.5v9" stroke="#fafafa" stroke-width="1"/><path d="M548.8 116.4l6 6.2M554.8 116.4l-6 6.2" stroke="#a9a9a9" stroke-width="1.6"/></svg>
<div class="t" style="left:384.6px;top:113.6px;font-size:9.40px;line-height:12px;color:#3a3a3a;transform:scaleX(0.9796);">Array</div>
<div class="t" style="left:436.6px;top:113.6px;font-size:9.40px;line-height:12px;color:#3a3a3a;transform:scaleX(0.9427);">Layout&nbsp;3D</div>
<div class="t" style="left:507.6px;top:113.6px;font-size:9.40px;line-height:12px;color:#111;transform:scaleX(0.9897);">Pattern</div>
<div class="a" style="left:362px;top:127px;width:1.2px;height:498px;background:#5d88b6"></div>
<div class="a" style="left:362px;top:623.8px;width:836.2px;height:1.3px;background:#5f8ab8"></div>
<div class="a" style="left:362px;top:625.1px;width:837px;height:1px;background:#fafafa"></div>
<div class="a" style="left:1197px;top:127px;width:1.3px;height:498px;background:#5f8ab8"></div>
<div class="a" style="left:1198.3px;top:110.5px;width:1.7px;height:516px;background:#f7f7f7"></div>
<div class="t" style="left:457.6px;top:137.8px;font-size:10.30px;line-height:13px;color:#1c1c1c;transform:scaleX(0.9508);">Output</div>
<div class="t" style="left:491.0px;top:138.2px;font-size:10.00px;line-height:12px;color:#b0b0b0;transform:scaleX(0.7196);">:</div>
<div class="t" style="left:497.4px;top:137.8px;font-size:10.30px;line-height:13px;color:#1c1c1c;">Directivity</div>
<div class="t" style="left:438.0px;top:149.0px;font-size:10.30px;line-height:13px;color:#1c1c1c;transform:scaleX(1.0068);">Frequency</div>
<div class="t" style="left:491.0px;top:149.5px;font-size:10.00px;line-height:12px;color:#b0b0b0;transform:scaleX(0.7196);">:</div>
<div class="t" style="left:497.4px;top:149.0px;font-size:10.30px;line-height:13px;color:#1c1c1c;transform:scaleX(0.9524);">75&nbsp;MHz</div>
<div class="t" style="left:443.0px;top:161.3px;font-size:10.30px;line-height:13px;color:#1c1c1c;transform:scaleX(0.9372);">Max&nbsp;value</div>
<div class="t" style="left:491.0px;top:161.8px;font-size:10.00px;line-height:12px;color:#b0b0b0;transform:scaleX(0.7196);">:</div>
<div class="t" style="left:497.4px;top:161.3px;font-size:10.30px;line-height:13px;color:#1c1c1c;transform:scaleX(0.9948);">10.2&nbsp;dBi</div>
<div class="t" style="left:445.0px;top:173.1px;font-size:10.30px;line-height:13px;color:#1c1c1c;transform:scaleX(0.9527);">Min&nbsp;value</div>
<div class="t" style="left:491.0px;top:173.6px;font-size:10.00px;line-height:12px;color:#b0b0b0;transform:scaleX(0.7196);">:</div>
<div class="t" style="left:497.4px;top:173.1px;font-size:10.30px;line-height:13px;color:#1c1c1c;transform:scaleX(1.0090);">-41.4&nbsp;dBi</div>
<div class="t" style="left:451.0px;top:184.6px;font-size:10.30px;line-height:13px;color:#1c1c1c;transform:scaleX(0.9675);">Azimuth</div>
<div class="t" style="left:491.0px;top:185.1px;font-size:10.00px;line-height:12px;color:#b0b0b0;transform:scaleX(0.7196);">:</div>
<div class="t" style="left:497.4px;top:184.6px;font-size:10.30px;line-height:13px;color:#1c1c1c;transform:scaleX(1.0124);">[-180°&nbsp;,&nbsp;180°]</div>
<div class="t" style="left:447.0px;top:196.6px;font-size:10.30px;line-height:13px;color:#1c1c1c;transform:scaleX(0.9440);">Elevation</div>
<div class="t" style="left:491.0px;top:197.1px;font-size:10.00px;line-height:12px;color:#b0b0b0;transform:scaleX(0.7196);">:</div>
<div class="t" style="left:497.4px;top:196.6px;font-size:10.30px;line-height:13px;color:#1c1c1c;transform:scaleX(1.0144);">[-90°&nbsp;,&nbsp;90°]</div>
<div class="a" style="left:1076px;top:177px;width:17px;height:347.3px;background:linear-gradient(to bottom,#800000 0.00%,#8f0000 1.56%,#9f0000 3.12%,#af0000 4.69%,#bf0000 6.25%,#cf0000 7.81%,#df0000 9.38%,#ef0000 10.94%,#ff0000 12.50%,#ff1000 14.06%,#ff2000 15.62%,#ff3000 17.19%,#ff4000 18.75%,#ff5000 20.31%,#ff6000 21.88%,#ff7000 23.44%,#ff8000 25.00%,#ff8f00 26.56%,#ff9f00 28.12%,#ffaf00 29.69%,#ffbf00 31.25%,#ffcf00 32.81%,#ffdf00 34.38%,#ffef00 35.94%,#ffff00 37.50%,#efff10 39.06%,#dfff20 40.62%,#cfff30 42.19%,#bfff40 43.75%,#afff50 45.31%,#9fff60 46.88%,#8fff70 48.44%,#80ff80 50.00%,#70ff8f 51.56%,#60ff9f 53.12%,#50ffaf 54.69%,#40ffbf 56.25%,#30ffcf 57.81%,#20ffdf 59.38%,#10ffef 60.94%,#00ffff 62.50%,#00efff 64.06%,#00dfff 65.62%,#00cfff 67.19%,#00bfff 68.75%,#00afff 70.31%,#009fff 71.88%,#008fff 73.44%,#0080ff 75.00%,#0070ff 76.56%,#0060ff 78.12%,#0050ff 79.69%,#0040ff 81.25%,#0030ff 82.81%,#0020ff 84.38%,#0010ff 85.94%,#0000ff 87.50%,#0000ef 89.06%,#0000df 90.62%,#0000cf 92.19%,#0000bf 93.75%,#0000af 95.31%,#00009f 96.88%,#00008f 98.44%,#000080 100.00%);border:1px solid #3a3a3a;border-top-width:0.6px;box-sizing:border-box"></div>
<div class="a" style="left:1089.6px;top:178.5px;width:3px;height:0.8px;background:#333"></div>
<div class="t" style="left:1097.2px;top:173.8px;font-size:9.00px;line-height:11px;color:#333;transform:scaleX(0.9650);">10</div>
<div class="a" style="left:1089.6px;top:212.18px;width:3px;height:0.8px;background:#333"></div>
<div class="t" style="left:1097.2px;top:207.5px;font-size:9.00px;line-height:11px;color:#333;transform:scaleX(0.9650);">5</div>
<div class="a" style="left:1089.6px;top:245.86px;width:3px;height:0.8px;background:#333"></div>
<div class="t" style="left:1097.2px;top:241.2px;font-size:9.00px;line-height:11px;color:#333;transform:scaleX(0.9650);">0</div>
<div class="a" style="left:1089.6px;top:279.54px;width:3px;height:0.8px;background:#333"></div>
<div class="t" style="left:1097.2px;top:274.8px;font-size:9.00px;line-height:11px;color:#333;transform:scaleX(0.9650);">-5</div>
<div class="a" style="left:1089.6px;top:313.22px;width:3px;height:0.8px;background:#333"></div>
<div class="t" style="left:1097.2px;top:308.5px;font-size:9.00px;line-height:11px;color:#333;transform:scaleX(0.9650);">-10</div>
<div class="a" style="left:1089.6px;top:346.9px;width:3px;height:0.8px;background:#333"></div>
<div class="t" style="left:1097.2px;top:342.2px;font-size:9.00px;line-height:11px;color:#333;transform:scaleX(0.9650);">-15</div>
<div class="a" style="left:1089.6px;top:380.58px;width:3px;height:0.8px;background:#333"></div>
<div class="t" style="left:1097.2px;top:375.9px;font-size:9.00px;line-height:11px;color:#333;transform:scaleX(0.9650);">-20</div>
<div class="a" style="left:1089.6px;top:414.26px;width:3px;height:0.8px;background:#333"></div>
<div class="t" style="left:1097.2px;top:409.6px;font-size:9.00px;line-height:11px;color:#333;transform:scaleX(0.9650);">-25</div>
<div class="a" style="left:1089.6px;top:447.94px;width:3px;height:0.8px;background:#333"></div>
<div class="t" style="left:1097.2px;top:443.2px;font-size:9.00px;line-height:11px;color:#333;transform:scaleX(0.9650);">-30</div>
<div class="a" style="left:1089.6px;top:481.62px;width:3px;height:0.8px;background:#333"></div>
<div class="t" style="left:1097.2px;top:476.9px;font-size:9.00px;line-height:11px;color:#333;transform:scaleX(0.9650);">-35</div>
<div class="a" style="left:1089.6px;top:515.3px;width:3px;height:0.8px;background:#333"></div>
<div class="t" style="left:1097.2px;top:510.6px;font-size:9.00px;line-height:11px;color:#333;transform:scaleX(0.9650);">-40</div>
<div class="t" style="left:1110px;top:344.5px;width:24px;height:12px;line-height:12px;font-size:9px;color:#333;text-align:center;transform:rotate(-90deg);transform-origin:center">dBi</div>
<div class="t" style="left:2.5px;top:631.7px;font-size:8.80px;line-height:11px;color:#222;transform:scaleX(1.0502);">Finished&nbsp;Updating</div>
<svg class="a" style="left:362px;top:440px" width="232" height="186" viewBox="362 440 232 186"><path d="M363 445.5H588.5V624" fill="none" stroke="#8c8c8c" stroke-width="0.8" stroke-dasharray="1.2 1.6"/><path d="M371.5 523.5 L540 466 L554 471 L580.5 479.5 V500.5 L411 557.5 L371.5 545.5 Z" fill="#fff"/><path d="M371.5 523.5V545.5L411 557.5L580.5 500.5" fill="none" stroke="#444" stroke-width="0.7"/><g stroke="#7a5a12" stroke-width="2.6" stroke-linecap="round"><path d="M389.5 524.5L422.5 548"/><path d="M424 512.5L457 536.5"/><path d="M459 501L492.5 523.5"/><path d="M493.5 489L526.5 512"/><path d="M528.5 476.5L561.5 500"/></g><g stroke="#e3b53c" stroke-width="1.5" stroke-linecap="round"><path d="M389.5 524.5L422.5 548"/><path d="M424 512.5L457 536.5"/><path d="M459 501L492.5 523.5"/><path d="M493.5 489L526.5 512"/><path d="M528.5 476.5L561.5 500"/></g><g fill="#c0281c"><circle cx="406" cy="536.3" r="1"/><circle cx="440.5" cy="524.5" r="1"/><circle cx="475.7" cy="512.2" r="1"/><circle cx="510" cy="500.5" r="1"/><circle cx="545" cy="488.2" r="1"/></g></svg>
<div class="a" style="left:370.5px;top:593.9px;width:168px;height:15.5px;background:#fff;border:1px solid #b5b5b5;box-sizing:border-box"></div>
<div class="a" style="left:526.5px;top:594.7px;width:11.3px;height:13.9px;background:#e4e4e4;border-left:1px solid #c4c4c4;box-sizing:border-box"></div>
<svg class="a" style="left:528px;top:598.4px" width="9" height="7" viewBox="0 0 9 7"><path d="M1.4 1.8l3 3l3-3" fill="none" stroke="#555" stroke-width="0.9"/></svg>
<div class="t" style="left:373.5px;top:596.8px;font-size:7.80px;line-height:10px;color:#111;transform:scaleX(1.0236);">Show&nbsp;Antenna</div>
<svg class="a" style="left:620px;top:165px" width="345" height="370" viewBox="620 165 345 370"><g fill-rule="evenodd" shape-rendering="geometricPrecision"><path fill="#00a7ff" d="M776.9 221.9l-9.5 1.2-8.5 2.5-3.3 1.3-8.2 4.2-7.5 5.8-3.3 3-5 5.5-5 7.5-4 8.5-1.5 4-2.7 10.7-0.5 5.8-0.5 2 0 13.2 0.2 1-4.7 7-3.3 6-2.5 7-1 5.5-1.7 5-1.8 6.8-2.2 11.5-1.8 13.5-0.2 15.2 0.5 2 0.5 5.5 1 4.3 0.7 7.7 2.3 7.5 2 3.3 1.7 6.7 1.5 2.3 3.8 9.5 5.5 10.2 1.5 2 4.2 7.5 6.8 9 4.2 4.3 3 3.7 9 8 8 5.8 11.3 6.2 16.2 5.5 6.3 1 12.5 0.5 9.2-1.2 7-2 4.3-1.5 8.7-4.5 7-5.3 5-4.7 3.3-3.5 5.5-8 4-8.5 1.5-4 2.7-10.3 0.3-3.7 0.7-4 0-4.8 0.3-0.2-0.3-10.3 4.8-7 0.5-1.7 2.5-3.8 2.7-7.7 1-5.5 2-5.8 1.8-7.2 2-10.8 1.5-11.5 0.2-7.7 0.3-0.3-0.3-9-2.5-18-2.2-8-4-10.5-2.3-4-2.5-6.5-5.7-11-5.5-9.2-6.8-9-6.5-7.3-9.5-8.7-7.5-5.5-12.2-7-7.3-2.3-6.2-2.5-4-1-5-0.7z"/><path fill="#00d9ff" d="M776.9 221.9l-9.5 1.2-8.5 2.5-3.3 1.3-8.2 4.2-7.5 5.8-3.3 3-5 5.5-5 7.5-4 8.5-1.5 4-2.7 10.7-0.5 5.8-0.5 2 0 13.2 0.2 1-4.7 7-3.3 6-2.5 7-1 5.5-1.7 5-1.8 6.8-2.2 11.5-1.8 13.5-0.2 15.2 0.5 2 0.5 5.5 1 4.3 0.7 7.7 2.3 7.5 2 3.3 1.7 6.7 1.5 2.3 3.8 9.5 5.5 10.2 1.5 2 4.2 7.5 6.8 9 4.2 4.3 3 3.7 9 8 8 5.8 11.3 6.2 16.2 5.5 6.3 1 12.5 0.5 9.2-1.2 7-2 4.3-1.5 8.7-4.5 7-5.3 5-4.7 3.3-3.5 5.5-8 4-8.5 1.5-4 2.7-10.3 0.3-3.7 0.7-4 0-4.8 0.3-0.2-0.3-10.3 4.8-7 0.5-1.7 2.5-3.8 2.7-7.7 1-5.5 2-5.8 1.8-7.2 2-10.8 1.5-11.5 0.2-7.7 0.3-0.3-0.3-9-2.5-18-2.2-8-4-10.5-2.3-4-2.5-6.5-5.7-11-5.5-9.2-6.8-9-6.5-7.3-9.5-8.7-7.5-5.5-12.2-7-7.3-2.3-6.2-2.5-4-1-5-0.7z"/><path fill="#00deff" d="M776.9 221.9l-9.5 1.2-8.5 2.5-3.3 1.3-8.2 4.2-7.5 5.8-3.3 3-5 5.5-5 7.5-4 8.5-1.5 4-2.7 10.7-0.5 5.8-0.5 2 0 13.2 0.2 1-4.7 7-3.3 6-2.5 7-1 5.5-1.7 5-1.8 6.8-2.2 11.5-1.8 13.5-0.2 15.2 0.5 2 0.5 5.5 1 4.3 0.7 7.7 2.3 7.5 2 3.3 1.7 6.7 1.5 2.3 3.8 9.5 5.5 10.2 1.5 2 4.2 7.5 6.8 9 4.2 4.3 3 3.7 9 8 8 5.8 11.3 6.2 16.2 5.5 6.3 1 12.5 0.5 9.2-1.2 7-2 4.3-1.5 8.7-4.5 7-5.3 5-4.7 3.3-3.5 5.5-8 4-8.5 1.5-4 2.7-10.3 0.3-3.7 0.7-4 0-4.8 0.3-0.2-0.3-10.3 4.8-7 0.5-1.7 2.5-3.8 2.7-7.7 1-5.5 2-5.8 1.8-7.2 2-10.8 1.5-11.5 0.2-7.7 0.3-0.3-0.3-9-2.5-18-2.2-8-4-10.5-2.3-4-2.5-6.5-5.7-11-5.5-9.2-6.8-9-6.5-7.3-9.5-8.7-7.5-5.5-12.2-7-7.3-2.3-6.2-2.5-4-1-5-0.7z"/><path fill="#00e3ff" d="M776.9 221.9l-9.5 1.2-8.5 2.5-3.3 1.3-8.2 4.2-7.5 5.8-3.3 3-5 5.5-5 7.5-4 8.5-1.5 4-2.7 10.7-0.5 5.8-0.5 2 0 13.2 0.2 1-4.7 7-3.3 6-2.5 7-1 5.5-1.7 5-1.8 6.8-2.2 11.5-1.8 13.5-0.2 15.2 0.5 2 0.5 5.5 1 4.3 0.7 7.7 2.3 7.5 2 3.3 1.7 6.7 1.5 2.3 3.8 9.5 5.5 10.2 1.5 2 4.2 7.5 6.8 9 4.2 4.3 3 3.7 9 8 8 5.8 11.3 6.2 16.2 5.5 6.3 1 12.5 0.5 9.2-1.2 7-2 4.3-1.5 8.7-4.5 7-5.3 5-4.7 3.3-3.5 5.5-8 4-8.5 1.5-4 2.7-10.3 0.3-3.7 0.7-4 0-4.8 0.3-0.2-0.3-10.3 4.8-7 0.5-1.7 2.5-3.8 2.7-7.7 1-5.5 2-5.8 1.8-7.2 2-10.8 1.5-11.5 0.2-7.7 0.3-0.3-0.3-9-2.5-18-2.2-8-4-10.5-2.3-4-2.5-6.5-5.7-11-5.5-9.2-6.8-9-6.5-7.3-9.5-8.7-7.5-5.5-12.2-7-7.3-2.3-6.2-2.5-4-1-5-0.7z"/><path fill="#00e8ff" d="M776.9 221.9l-9.5 1.2-8.5 2.5-3.3 1.3-8.2 4.2-7.5 5.8-3.3 3-5 5.5-5 7.5-4 8.5-1.5 4-2.7 10.7-0.5 5.8-0.5 2 0 13.2 0.2 1-4.7 7-3.3 6-2.5 7-1 5.5-1.7 5-1.8 6.8-2.2 11.5-1.8 13.5-0.2 15.2 0.5 2 0.5 5.5 1 4.3 0.7 7.7 2.3 7.5 2 3.3 1.7 6.7 1.5 2.3 3.8 9.5 5.5 10.2 1.5 2 4.2 7.5 6.8 9 4.2 4.3 3 3.7 9 8 8 5.8 11.3 6.2 16.2 5.5 6.3 1 12.5 0.5 9.2-1.2 7-2 4.3-1.5 8.7-4.5 7-5.3 5-4.7 3.3-3.5 5.5-8 4-8.5 1.5-4 2.7-10.3 0.3-3.7 0.7-4 0-4.8 0.3-0.2-0.3-10.3 4.8-7 0.5-1.7 2.5-3.8 2.7-7.7 1-5.5 2-5.8 1.8-7.2 2-10.8 1.5-11.5 0.2-7.7 0.3-0.3-0.3-9-2.5-18-2.2-8-4-10.5-2.3-4-2.5-6.5-5.7-11-5.5-9.2-6.8-9-6.5-7.3-9.5-8.7-7.5-5.5-12.2-7-7.3-2.3-6.2-2.5-4-1-5-0.7z"/><path fill="#00edff" d="M776.9 221.9l-9.5 1.2-8.5 2.5-3.3 1.3-8.2 4.2-7.5 5.8-3.3 3-5 5.5-5 7.5-4 8.5-1.5 4-2.7 10.7-0.5 5.8-0.5 2 0 13.2 0.2 1-4.7 7-3.3 6-2.5 7-1 5.5-1.7 5-1.8 6.8-2.2 11.5-1.8 13.5-0.2 15.2 0.5 2 0.5 5.5 1 4.3 0.7 7.7 2.3 7.5 2 3.3 1.7 6.7 1.5 2.3 3.8 9.5 5.5 10.2 1.5 2 4.2 7.5 6.8 9 4.2 4.3 3 3.7 9 8 8 5.8 11.3 6.2 16.2 5.5 6.3 1 12.5 0.5 9.2-1.2 7-2 4.3-1.5 8.7-4.5 7-5.3 5-4.7 3.3-3.5 5.5-8 4-8.5 1.5-4 2.7-10.3 0.3-3.7 0.7-4 0-4.8 0.3-0.2-0.3-10.3 4.8-7 0.5-1.7 2.5-3.8 2.7-7.7 1-5.5 2-5.8 1.8-7.2 2-10.8 1.5-11.5 0.2-7.7 0.3-0.3-0.3-9-2.5-18-2.2-8-4-10.5-2.3-4-2.5-6.5-5.7-11-5.5-9.2-6.8-9-6.5-7.3-9.5-8.7-7.5-5.5-12.2-7-7.3-2.3-6.2-2.5-4-1-5-0.7z"/><path fill="#00f2ff" d="M776.9 221.9l-9.5 1.2-8.5 2.5-3.3 1.3-8.2 4.2-7.5 5.8-3.3 3-5 5.5-5 7.5-4 8.5-1.5 4-2.7 10.7-0.5 5.8-0.5 2 0 13.2 0.2 1-4.7 7-3.3 6-2.5 7-1 5.5-1.7 5-1.8 6.8-2.2 11.5-1.8 13.5-0.2 15.2 0.5 2 0.5 5.5 1 4.3 0.7 7.7 2.3 7.5 2 3.3 1.7 6.7 1.5 2.3 3.8 9.5 5.5 10.2 1.5 2 4.2 7.5 6.8 9 4.2 4.3 3 3.7 9 8 8 5.8 11.3 6.2 16.2 5.5 6.3 1 12.5 0.5 9.2-1.2 7-2 4.3-1.5 8.7-4.5 7-5.3 5-4.7 3.3-3.5 5.5-8 4-8.5 1.5-4 2.7-10.3 0.3-3.7 0.7-4 0-4.8 0.3-0.2-0.3-10.3 4.8-7 0.5-1.7 2.5-3.8 2.7-7.7 1-5.5 2-5.8 1.8-7.2 2-10.8 1.5-11.5 0.2-7.7 0.3-0.3-0.3-9-2.5-18-2.2-8-4-10.5-2.3-4-2.5-6.5-5.7-11-5.5-9.2-6.8-9-6.5-7.3-9.5-8.7-7.5-5.5-12.2-7-7.3-2.3-6.2-2.5-4-1-5-0.7z"/><path fill="#00f7ff" d="M776.9 221.9l-9.5 1.2-8.5 2.5-3.3 1.3-8.2 4.2-7.5 5.8-3.3 3-5 5.5-5 7.5-4 8.5-1.5 4-2.7 10.7-0.5 5.8-0.5 2 0 13.2 0.2 1-4.7 7-3.3 6-2.5 7-1 5.5-1.7 5-1.8 6.8-2.2 11.5-1.8 13.5-0.2 15.2 0.5 2 0.5 5.5 1 4.3 0.7 7.7 2.3 7.5 2 3.3 1.7 6.7 1.5 2.3 3.8 9.5 5.5 10.2 1.5 2 4.2 7.5 6.8 9 4.2 4.3 3 3.7 9 8 8 5.8 11.3 6.2 16.2 5.5 6.3 1 12.5 0.5 9.2-1.2 7-2 4.3-1.5 8.7-4.5 7-5.3 5-4.7 3.3-3.5 5.5-8 4-8.5 1.5-4 2.7-10.3 0.3-3.7 0.7-4 0-4.8 0.3-0.2-0.3-10.3 4.8-7 0.5-1.7 2.5-3.8 2.7-7.7 1-5.5 2-5.8 1.8-7.2 2-10.8 1.5-11.5 0.2-7.7 0.3-0.3-0.3-9-2.5-18-2.2-8-4-10.5-2.3-4-2.5-6.5-5.7-11-5.5-9.2-6.8-9-6.5-7.3-9.5-8.7-7.5-5.5-12.2-7-7.3-2.3-6.2-2.5-4-1-5-0.7z"/><path fill="#00fcff" d="M776.9 221.9l-9.5 1.2-8.5 2.5-3.3 1.3-8.2 4.2-7.5 5.8-3.3 3-5 5.5-5 7.5-4 8.5-1.5 4-2.7 10.7-0.5 5.8-0.5 2 0 13.2 0.2 1-4.7 7-3.3 6-2.5 7-1 5.5-1.7 5-1.8 6.8-2.2 11.5-1.8 13.5-0.2 15.2 0.5 2 0.5 5.5 1 4.3 0.7 7.7 2.3 7.5 2 3.3 1.7 6.7 1.5 2.3 3.8 9.5 5.5 10.2 1.5 2 4.2 7.5 6.8 9 4.2 4.3 3 3.7 9 8 8 5.8 11.3 6.2 16.2 5.5 6.3 1 12.5 0.5 9.2-1.2 7-2 4.3-1.5 8.7-4.5 7-5.3 5-4.7 3.3-3.5 5.5-8 4-8.5 1.5-4 2.7-10.3 0.3-3.7 0.7-4 0-4.8 0.3-0.2-0.3-10.3 4.8-7 0.5-1.7 2.5-3.8 2.7-7.7 1-5.5 2-5.8 1.8-7.2 2-10.8 1.5-11.5 0.2-7.7 0.3-0.3-0.3-9-2.5-18-2.2-8-4-10.5-2.3-4-2.5-6.5-5.7-11-5.5-9.2-6.8-9-6.5-7.3-9.5-8.7-7.5-5.5-12.2-7-7.3-2.3-6.2-2.5-4-1-5-0.7z"/><path fill="#06fff9" d="M776.9 221.9l-9.5 1.2-8.5 2.5-3.3 1.3-8.2 4.2-7.5 5.8-3.3 3-5 5.5-5 7.5-4 8.5-1.5 4-2.7 10.7-0.5 5.8-0.5 2 0 13.2 0.2 1-4.7 7-3.3 6-2.5 7-1 5.5-1.7 5-1.8 6.8-2.2 11.5-1.8 13.5-0.2 15.2 0.5 2 0.5 5.5 1 4.3 0.7 7.7 2.3 7.5 2 3.3 1.7 6.7 1.5 2.3 3.8 9.5 5.5 10.2 1.5 2 4.2 7.5 6.8 9 4.2 4.3 3 3.7 9 8 8 5.8 11.3 6.2 16.2 5.5 6.3 1 12.5 0.5 9.2-1.2 7-2 4.3-1.5 8.7-4.5 7-5.3 5-4.7 3.3-3.5 5.5-8 4-8.5 1.5-4 2.7-10.3 0.3-3.7 0.7-4 0-4.8 0.3-0.2-0.3-10.3 4.8-7 0.5-1.7 2.5-3.8 2.7-7.7 1-5.5 2-5.8 1.8-7.2 2-10.8 1.5-11.5 0.2-7.7 0.3-0.3-0.3-9-2.5-18-2.2-8-4-10.5-2.3-4-2.5-6.5-5.7-11-5.5-9.2-6.8-9-6.5-7.3-9.5-8.7-7.5-5.5-12.2-7-7.3-2.3-6.2-2.5-4-1-5-0.7zM775.9 380.4l0.7 4-0.7 1-2 1.2-0.3-0.2 1.8-1.8 0-4zM808.9 376.4l0.2 0.2 0 3.3-0.2 0.2-0.3-0.2 0-3.3z"/><path fill="#10ffef" d="M776.9 221.9l-9.5 1.2-8.5 2.5-3.3 1.3-8.2 4.2-7.5 5.8-3.3 3-5 5.5-5 7.5-4 8.5-1.5 4-2.7 10.7-0.5 5.8-0.5 2 0 13.2 0.2 1-4.7 7-3.3 6-2.5 7-1 5.5-1.7 5-1.8 6.8-2.2 11.5-1.8 13.5-0.2 15.2 0.5 2 0.5 5.5 1 4.3 0.7 7.7 2.3 7.5 2 3.3 1.7 6.7 1.5 2.3 3.8 9.5 5.5 10.2 1.5 2 4.2 7.5 6.8 9 4.2 4.3 3 3.7 9 8 8 5.8 11.3 6.2 16.2 5.5 6.3 1 12.5 0.5 9.2-1.2 7-2 4.3-1.5 8.7-4.5 7-5.3 5-4.7 3.3-3.5 5.5-8 4-8.5 1.5-4 2.7-10.3 0.3-3.7 0.7-4 0-4.8 0.3-0.2-0.3-10.3 4.8-7 0.5-1.7 2.5-3.8 2.7-7.7 1-5.5 2-5.8 1.8-7.2 2-10.8 1.5-11.5 0.2-7.7 0.3-0.3-0.3-9-2.5-18-2.2-8-4-10.5-2.3-4-2.5-6.5-5.7-11-5.5-9.2-6.8-9-6.5-7.3-9.5-8.7-7.5-5.5-12.2-7-7.3-2.3-6.2-2.5-4-1-5-0.7zM775.6 379.6l1 0.8-0.2 0.5 0.2 4.5-1.2 1.5-6 4.2-0.3-0.2 5.3-5.5 0-3 0.5-2zM808.9 364.6l1 8.8 0 4.7-0.3 2.5-0.7 2 0 1.8-0.5 0.7-0.3-1 0.5-2.7 0-4.8 0.3-0.2 0-8.3-0.3-0.2 0-3zM808.6 363.1l0.3 0.3-0.3 1.2-0.2-0.2z"/><path fill="#1affe5" d="M776.9 221.9l-9.5 1.2-8.5 2.5-3.3 1.3-8.2 4.2-7.5 5.8-3.3 3-5 5.5-5 7.5-4 8.5-1.5 4-2.7 10.7-0.5 5.8-0.5 2 0 13.2 0.2 1-4.7 7-3.3 6-2.5 7-1 5.5-1.7 5-1.8 6.8-2.2 11.5-1.8 13.5-0.2 15.2 0.5 2 0.5 5.5 1 4.3 0.7 7.7 2.3 7.5 2 3.3 1.7 6.7 1.5 2.3 3.8 9.5 5.5 10.2 1.5 2 4.2 7.5 6.8 9 4.2 4.3 3 3.7 9 8 8 5.8 11.3 6.2 16.2 5.5 6.3 1 12.5 0.5 9.2-1.2 7-2 4.3-1.5 8.7-4.5 7-5.3 5-4.7 3.3-3.5 5.5-8 4-8.5 1.5-4 2.7-10.3 0.3-3.7 0.7-4 0-4.8 0.3-0.2-0.3-10.3 4.8-7 0.5-1.7 2.5-3.8 2.7-7.7 1-5.5 2-5.8 1.8-7.2 2-10.8 1.5-11.5 0.2-7.7 0.3-0.3-0.3-9-2.5-18-2.2-8-4-10.5-2.3-4-2.5-6.5-5.7-11-5.5-9.2-6.8-9-6.5-7.3-9.5-8.7-7.5-5.5-12.2-7-7.3-2.3-6.2-2.5-4-1-5-0.7zM775.1 378.9l2 1.5-0.5 1.2 0.3 3.8-0.5 1.2-1.5 1.8-1.8 1-1.7 2-3.5 2-1.5 1.5-1 0.5-0.3-0.3 8.5-9.2 0-3.3 1-3.5zM808.6 360.1l0.5 0.8 1 8 0.3 12.2-0.8 1.5-0.2 2.8-1.3 2-0.2-1 0.5-2.5 0.2-7.3 0.3-0.2 0-8.3-0.5-3.7 0-4zM775.4 358.4l0.5 0.7-0.3 5.5-0.2 0.8-0.5 0.2-0.5-1.5 0.2-5zM747.6 337.4l0.8-0.5 0.7 0.5-0.2 0.2z"/><path fill="#24ffdb" d="M776.9 221.9l-9.5 1.2-8.5 2.5-3.3 1.3-8.2 4.2-7.5 5.8-3.3 3-5 5.5-5 7.5-4 8.5-1.5 4-2.7 10.7-0.5 5.8-0.5 2 0 13.2 0.2 1-4.7 7-3.3 6-2.5 7-1 5.5-1.7 5-1.8 6.8-2.2 11.5-1.8 13.5-0.2 15.2 0.5 2 0.5 5.5 1 4.3 0.7 7.7 2.3 7.5 2 3.3 1.7 6.7 1.5 2.3 3.8 9.5 5.5 10.2 1.5 2 4.2 7.5 6.8 9 4.2 4.3 3 3.7 9 8 8 5.8 11.3 6.2 16.2 5.5 6.3 1 12.5 0.5 9.2-1.2 7-2 4.3-1.5 8.7-4.5 7-5.3 5-4.7 3.3-3.5 5.5-8 4-8.5 1.5-4 2.7-10.3 0.3-3.7 0.7-4 0-4.8 0.3-0.2-0.3-10.3 4.8-7 0.5-1.7 2.5-3.8 2.7-7.7 1-5.5 2-5.8 1.8-7.2 2-10.8 1.5-11.5 0.2-7.7 0.3-0.3-0.3-9-2.5-18-2.2-8-4-10.5-2.3-4-2.5-6.5-5.7-11-5.5-9.2-6.8-9-6.5-7.3-9.5-8.7-7.5-5.5-12.2-7-7.3-2.3-6.2-2.5-4-1-5-0.7zM774.6 377.9l3 2.5-0.7 2 0.2 3.2-0.5 1.5-1 1.5-2.2 1.8-2 2.5-2 1.2-1.3 0.3-2.7 2.2-1.8-0.2-0.2-0.3 1.7-1.2 7.5-8.3 0-2.5zM808.6 359.1l1 1.5 0.8 4.5 0.5 8.5 0.2 0.3 0 5.5-0.2 2.5-0.8 2.2 0 1.8-1.7 2.7 0 1-0.8 1.3-0.2-1.5 0.7-3.3 0.5-4.7 0-4.8 0.3-0.2 0-8.3-0.5-3.7 0-5zM775.1 357.9l0.8 1 0 3.2-0.3 0.3 0.3 2.5-1.3 3-1-3 0.3-2-0.3-3.8zM771.1 352.9l0.5 1.2-0.7 0.5-0.5-0.7zM744.9 337.9l2.5-1.8 0.7 0 1.5 1.5-0.2 0.5-1.8-0.2-2.5 0.2z"/><path fill="#2dffd2" d="M776.9 221.9l-9.5 1.2-8.5 2.5-3.3 1.3-8.2 4.2-7.5 5.8-3.3 3-5 5.5-5 7.5-4 8.5-1.5 4-2.7 10.7-0.5 5.8-0.5 2 0 13.2 0.2 1-4.7 7-3.3 6-2.5 7-1 5.5-1.7 5-1.8 6.8-2.2 11.5-1.8 13.5-0.2 15.2 0.5 2 0.5 5.5 1 4.3 0.7 7.7 2.3 7.5 2 3.3 1.7 6.7 1.5 2.3 3.8 9.5 5.5 10.2 1.5 2 4.2 7.5 6.8 9 4.2 4.3 3 3.7 9 8 8 5.8 11.3 6.2 16.2 5.5 6.3 1 12.5 0.5 9.2-1.2 7-2 4.3-1.5 8.7-4.5 7-5.3 5-4.7 3.3-3.5 5.5-8 4-8.5 1.5-4 2.7-10.3 0.3-3.7 0.7-4 0-4.8 0.3-0.2-0.3-10.3 4.8-7 0.5-1.7 2.5-3.8 2.7-7.7 1-5.5 2-5.8 1.8-7.2 2-10.8 1.5-11.5 0.2-7.7 0.3-0.3-0.3-9-2.5-18-2.2-8-4-10.5-2.3-4-2.5-6.5-5.7-11-5.5-9.2-6.8-9-6.5-7.3-9.5-8.7-7.5-5.5-12.2-7-7.3-2.3-6.2-2.5-4-1-5-0.7zM777.1 375.9l0.3 0.5-0.8 1.7 0 1 1.5 1.3-1 2.5 0.3 2.7-0.5 2-1.3 2-5.5 5.5-2.5 0.8-2.5 2-2.7-0.3-0.5-0.5 2-1.2 4.7-4.8 3-3.7 0-1.8 2-6.5 0.3-3.5 0.7-0.5zM774.9 357.4l1 1.2 0.2 6.5-1.5 3.8 0.5 0.5-0.5 2-0.5 0.2-0.2-0.2 0-2.5-1-3.3 0.2-5.2-0.5-1zM808.6 356.9l0.5 2 1.3 2 0 1.7 0.7 3.8 0.3 6.7 0.2 0.3 0 9-0.7 1.7-0.3 2.8-1.5 2.5-0.5 2-1.7 2.2-0.3-0.7 0.5-1 1-5.8 0.5-4.7 0-4.8 0.3-0.2 0-8.3-0.5-3.7 0-7.3zM770.9 351.9l1 2.2-1.5 1.3-0.8-1 0-0.8zM766.4 348.6l0-0.5 0.7-0.7 1.3 1-1.3 0.7zM760.1 341.6l0.5-0.2 3 0.5 0.3 0.5-0.5 0.5-0.8 0-2.2-0.8zM749.6 337.1l0 0.8-1.2 0.5-3.5-0.3-2.8 0.8-1.5-0.3 1.3-0.7 1.2-0.3 1.8-1.5 1.5-0.7 1.2 0z"/><path fill="#37ffc8" d="M776.9 221.9l-9.5 1.2-8.5 2.5-3.3 1.3-8.2 4.2-7.5 5.8-3.3 3-5 5.5-5 7.5-4 8.5-1.5 4-2.7 10.7-0.5 5.8-0.5 2 0 13.2 0.2 1-4.7 7-3.3 6-2.5 7-1 5.5-1.7 5-1.8 6.8-2.2 11.5-1.8 13.5-0.2 15.2 0.5 2 0.5 5.5 1 4.3 0.7 7.7 2.3 7.5 2 3.3 1.7 6.7 1.5 2.3 3.8 9.5 5.5 10.2 1.5 2 4.2 7.5 6.8 9 4.2 4.3 3 3.7 9 8 8 5.8 11.3 6.2 16.2 5.5 6.3 1 12.5 0.5 9.2-1.2 7-2 4.3-1.5 8.7-4.5 7-5.3 5-4.7 3.3-3.5 5.5-8 4-8.5 1.5-4 2.7-10.3 0.3-3.7 0.7-4 0-4.8 0.3-0.2-0.3-10.3 4.8-7 0.5-1.7 2.5-3.8 2.7-7.7 1-5.5 2-5.8 1.8-7.2 2-10.8 1.5-11.5 0.2-7.7 0.3-0.3-0.3-9-2.5-18-2.2-8-4-10.5-2.3-4-2.5-6.5-5.7-11-5.5-9.2-6.8-9-6.5-7.3-9.5-8.7-7.5-5.5-12.2-7-7.3-2.3-6.2-2.5-4-1-5-0.7zM774.6 356.9l1.3 1.5 0.2 1.2-0.2 3.8 0.5 0.7 0 1.3-1 3.2 1.2 1.3-1 3 2.8 0.7 0.7 1.3-0.2 2.5-0.8 1.7 0 0.8 0.5 0.2-1.2 3.5 0 3-0.5 2-2 3-1.3 0.8-3 3.7-3.5 1.3-1.7 1.5-3 0.2-2.3-1 3-1.7 5-5 2.8-3.5 0-1.8 1.7-5.5 0.8-5.2-0.3-5.8-1-3.5 0.3-5-0.5-1 0-1 1.7-1.7zM808.6 356.1l1 1.3 0 1.2 1.3 2 1.5 13.8 0 6.2-0.3 2.5-0.5 1-0.2 3.3-1.5 2.5-0.3 1.7-2.5 3.8-1 0.2-0.2-0.2 1.2-3.5 0.8-4 0.7-6.5 0-4.8 0.3-0.2 0-8.3-0.5-3.7 0-8zM770.6 350.9l1.5 3.2-2.2 2-0.8-0.7-0.5-1.8zM766.9 346.4l2 2-2.5 1.2-1-1-0.3-0.7zM758.1 341.1l1-0.5 1.3 0 1.2 0.5 2.3 0.3 0.5 0.5-1.5 1.5-3.3-1zM749.4 335.9l0.2 1.2-0.2 1-4 0.5-1.8-0.2-4 0.7-1.2-0.2 1-1.3 2.2-0.7 2.5-1.8 2-0.7 1 0.2 1 1z"/><path fill="#41ffbe" d="M776.9 221.9l-9.5 1.2-8.5 2.5-3.3 1.3-8.2 4.2-7.5 5.8-3.3 3-5 5.5-5 7.5-4 8.5-1.5 4-2.7 10.7-0.5 5.8-0.5 2 0 13.2 0.2 1-4.7 7-3.3 6-2.5 7-1 5.5-1.7 5-1.8 6.8-2.2 11.5-1.8 13.5-0.2 15.2 0.5 2 0.5 5.5 1 4.3 0.7 7.7 2.3 7.5 2 3.3 1.7 6.7 1.5 2.3 3.8 9.5 5.5 10.2 1.5 2 4.2 7.5 6.8 9 4.2 4.3 3 3.7 9 8 8 5.8 11.3 6.2 16.2 5.5 6.3 1 12.5 0.5 9.2-1.2 7-2 4.3-1.5 8.7-4.5 7-5.3 5-4.7 3.3-3.5 5.5-8 4-8.5 1.5-4 2.7-10.3 0.3-3.7 0.7-4 0-4.8 0.3-0.2-0.3-10.3 4.8-7 0.5-1.7 2.5-3.8 2.7-7.7 1-5.5 2-5.8 1.8-7.2 2-10.8 1.5-11.5 0.2-7.7 0.3-0.3-0.3-9-2.5-18-2.2-8-4-10.5-2.3-4-2.5-6.5-5.7-11-5.5-9.2-6.8-9-6.5-7.3-9.5-8.7-7.5-5.5-12.2-7-7.3-2.3-6.2-2.5-4-1-5-0.7zM774.1 356.1l1.3 1.3 0.7 1.7-0.2 3.8 1 2.2-1.3 3 2.5 2.3 0 0.7 0.8 0.8 0.2 1.7 0 5.5-0.2 1.8-1.3 3.5 0 2.2-0.7 2.8-2.3 3.5-4.5 4.7-3 1-1.5 1.3-1.5 0.5-2.5 0-2-0.8-1.2 0-0.3-0.2 0.3-0.5 3.5-1.8 3.5-3 4.5-5.2 0-1.3 1.7-5.5 0.8-5 0-5.2-0.3-0.3 0-2.5-0.7-2.2 0-5.8-0.5-2zM808.6 355.1l1.5 1.8 0.3 2 1.2 2.2 1.3 12 0 10.5-0.8 2 0 2-1.5 2.8-0.2 2-2.5 3.7-1 0.8 0.2 0.2-2 3.3 0 1-1 2-0.2-0.3 0.2-1.5 3-9.7 1.5-10.5 0-4.8 0.3-0.2 0-8.3-0.5-3.7 0-9zM770.4 349.9l1.2 3 1 1.2-3.2 2.8-1.5-1.8-0.3-1.5 2.3-3.5zM766.6 345.6l2.8 2.8-3.5 1.7-1.3-1-0.5-1.5zM756.1 340.4l3.8-0.8 1 0.8 2.5 0.2 1.2 1-2.5 2.3-1-0.8-2.7-0.7zM749.4 335.4l0.2 1.7-0.2 1-9.8 1-2.7 0-0.3-0.2 2-2.3 2.8-1 1.2-1 2.5-1 1.3 0 1.2 1.3 1.3 0z"/><path fill="#4bffb4" d="M776.9 221.9l-9.5 1.2-8.5 2.5-3.3 1.3-8.2 4.2-7.5 5.8-3.3 3-5 5.5-5 7.5-4 8.5-1.5 4-2.7 10.7-0.5 5.8-0.5 2 0 13.2 0.2 1-4.7 7-3.3 6-2.5 7-1 5.5-1.7 5-1.8 6.8-2.2 11.5-1.8 13.5-0.2 15.2 0.5 2 0.5 5.5 1 4.3 0.7 7.7 2.3 7.5 2 3.3 1.7 6.7 1.5 2.3 3.8 9.5 5.5 10.2 1.5 2 4.2 7.5 6.8 9 4.2 4.3 3 3.7 9 8 8 5.8 11.3 6.2 16.2 5.5 6.3 1 12.5 0.5 9.2-1.2 7-2 4.3-1.5 8.7-4.5 7-5.3 5-4.7 3.3-3.5 5.5-8 4-8.5 1.5-4 2.7-10.3 0.3-3.7 0.7-4 0-4.8 0.3-0.2-0.3-10.3 4.8-7 0.5-1.7 2.5-3.8 2.7-7.7 1-5.5 2-5.8 1.8-7.2 2-10.8 1.5-11.5 0.2-7.7 0.3-0.3-0.3-9-2.5-18-2.2-8-4-10.5-2.3-4-2.5-6.5-5.7-11-5.5-9.2-6.8-9-6.5-7.3-9.5-8.7-7.5-5.5-12.2-7-7.3-2.3-6.2-2.5-4-1-5-0.7zM774.1 355.6l1.8 2.3 0.2 1 0 4.2 1 2.3-1 2.2 2.5 2.3 0.8 4-0.3 7.5-1.2 3.7 0 1.8-0.8 3-3.7 5.5-3.5 3.5-6.3 2.7-2.7 0-1-0.5-2.3 0-1.2-1 4.2-2.2 3.8-3 4.5-5.3 2-7 0-1.7 0.7-3.8-0.2-7.2-0.8-2.5 0-5.5-0.7-2.5 2.7-2.8zM808.6 354.1l2.3 3 0 1.3 1.2 2.2 1.5 14.3-0.2 9.5-0.5 1-0.3 3.5-1.2 2-0.3 2-5.5 8.5 0 1-1 2.2-1.2 1.3-0.3-0.5 4-13.5 1.3-8 0.2-7.3 0.3-0.2 0-8.3-0.5-3.7 0-10zM770.1 348.9l1.3 3.2 1.5 2-4 3.5-1.8-2-0.2-2.5 2.5-3.7zM766.1 344.6l1.3 1.8 2.5 2-4.8 2.2-1.5-1.5-0.7-1.7zM753.1 339.4l2.3-0.5 0.2 0.5 3.8-0.5 1 0.7 2.5 0.3 1 0.5 0.7 1.2-2 2-1.2 0.8-1-1-3.3-1-2-2zM801.6 336.9l1 1 0.3 5 0.2 0.2-0.2 1-0.5-0.7-0.3-3.5-0.7-2.5zM750.9 336.6l0.2 1.8-0.2 0.2-5.3-0.2-3 0.5-5.7 0.2-2.5 1.3-0.8-0.3 4.3-4.5 6.2-2.7 1.8 0 1 1 2 0 0.5 2.2 1 0z"/><path fill="#55ffaa" d="M776.9 221.9l-9.5 1.2-8.5 2.5-3.3 1.3-8.2 4.2-7.5 5.8-3.3 3-5 5.5-5 7.5-4 8.5-1.5 4-2.7 10.7-0.5 5.8-0.5 2 0 13.2 0.2 1-4.7 7-3.3 6-2.5 7-1 5.5-1.7 5-1.8 6.8-2.2 11.5-1.8 13.5-0.2 15.2 0.5 2 0.5 5.5 1 4.3 0.7 7.7 2.3 7.5 2 3.3 1.7 6.7 1.5 2.3 3.8 9.5 5.5 10.2 1.5 2 4.2 7.5 6.8 9 4.2 4.3 3 3.7 9 8 8 5.8 11.3 6.2 16.2 5.5 6.3 1 12.5 0.5 9.2-1.2 7-2 4.3-1.5 8.7-4.5 7-5.3 5-4.7 3.3-3.5 5.5-8 4-8.5 1.5-4 2.7-10.3 0.3-3.7 0.7-4 0-4.8 0.3-0.2-0.3-10.3 4.8-7 0.5-1.7 2.5-3.8 2.7-7.7 1-5.5 2-5.8 1.8-7.2 2-10.8 1.5-11.5 0.2-7.7 0.3-0.3-0.3-9-2.5-18-2.2-8-4-10.5-2.3-4-2.5-6.5-5.7-11-5.5-9.2-6.8-9-6.5-7.3-9.5-8.7-7.5-5.5-12.2-7-7.3-2.3-6.2-2.5-4-1-5-0.7zM773.9 355.1l2 2.5 0.5 2.5-0.3 2.5 1.3 3-0.8 1.5 1.8 1.8 0.5 1 0.7 4.5-0.2 7.7-1.3 3.8-1 5-3.2 5-4.3 4.2-6.5 2.8-3 0-1-0.5-2.5 0-1.2-1-1.5-0.3 6.7-3.2 4.5-3.8 3-4 1.8-6.2 0.7-5 0-8.5-0.7-2.3 0-5.5-1-3.2 4.5-4.3zM808.6 353.1l2.5 3 0.5 2.8 1.3 2.2 1.2 12 0 11.8-0.5 0.7-0.2 3.8-1.3 2-0.5 2.7-5.5 8.5 0 1-1.2 2.5-2 1.5-0.3-0.2 4.5-15.5 1.3-8 0.2-7.3 0.3-0.2 0-8.3-0.5-3.7 0-10.3-0.3-0.2zM765.6 343.9l2.3 2.5 2.2 1.7 1 3.3 2 2.7-4.5 4.3-2.2-2.3-0.5-2 0-1 2.7-4-3.5 1.8-0.7 0-1.8-1.5-0.7-2 1.2-1.5zM801.6 335.9l1.3 0.7 0.5 2.5 0.2 4.8-0.7 1.5-0.8-3.8 0-1.7-0.7-2.5zM731.6 341.1l1.5-2.5 3.8-3.7 6.2-2.8 2.3 0 1 0.8 2.2 0 0.5 0.7 0 0.8 2.3 0 0.5 0.7 0.2 2.3 3-0.3 0.5 1.3 3.3-0.5 1 1 2.2 0.2 1.3 0.5 0.7 0.8 0.5 1.2-3.7 3.5-1.5-1.5-3-1-2.3-2-3.5-1.7-5-0.5-3 0.5-5.7 0.2-4.8 2.3z"/><path fill="#5fffa0" d="M776.9 221.9l-9.5 1.2-8.5 2.5-3.3 1.3-8.2 4.2-7.5 5.8-3.3 3-5 5.5-5 7.5-4 8.5-1.5 4-2.7 10.7-0.5 5.8-0.5 2 0 13.2 0.2 1-4.7 7-3.3 6-2.5 7-1 5.5-1.7 5-1.8 6.8-2.2 11.5-1.8 13.5-0.2 15.2 0.5 2 0.5 5.5 1 4.3 0.7 7.7 2.3 7.5 2 3.3 1.7 6.7 1.5 2.3 3.8 9.5 5.5 10.2 1.5 2 4.2 7.5 6.8 9 4.2 4.3 3 3.7 9 8 8 5.8 11.3 6.2 16.2 5.5 6.3 1 12.5 0.5 9.2-1.2 7-2 4.3-1.5 8.7-4.5 7-5.3 5-4.7 3.3-3.5 5.5-8 4-8.5 1.5-4 2.7-10.3 0.3-3.7 0.7-4 0-4.8 0.3-0.2-0.3-10.3 4.8-7 0.5-1.7 2.5-3.8 2.7-7.7 1-5.5 2-5.8 1.8-7.2 2-10.8 1.5-11.5 0.2-7.7 0.3-0.3-0.3-9-2.5-18-2.2-8-4-10.5-2.3-4-2.5-6.5-5.7-11-5.5-9.2-6.8-9-6.5-7.3-9.5-8.7-7.5-5.5-12.2-7-7.3-2.3-6.2-2.5-4-1-5-0.7zM773.4 354.4l2.5 3 0.5 2.5-0.3 2.2 1.5 3.8-0.2 1 0.7 0.7 1 2.5 0.8 4.5-0.3 8-2.5 9-2 3-0.5 1.5-3.2 3.8-2 1.5-2.5 1.2-4 1.5-7-0.2-0.8-0.5-2.7-0.3-1-0.7 0.5-0.5 8.2-3.8 3-2.2 2.5-2.8 2.3-4 1.2-4.7 0.8-5.8-0.3-8.5-0.5-1.5 0-2.7-0.2-0.3 0.2-2.2-1.2-4zM809.1 352.6l2.8 3.5 0.5 3 1 1.5 0.2 3.3 0.5 1.7 0.5 9.5 0.3 0.3-0.3 10.2-0.5 1.5-0.2 3.3-1 1.5-0.8 3.5-5.5 8.2 0 1-1.2 2.5-3 2.5-0.3-0.2 0.3-1.5 4.7-16 1-5.8 0.5-4.7 0-4.8 0.3-0.2 0-8.3-0.5-3.7 0-9.8-0.3-1zM765.4 342.9l1.2 1.7 3.5 3.3 0.8 2.5 2.2 3.5 0 0.5-5.2 5-2.5-3.3-0.5-3 2-3-3 1.3-2.3-2-0.7-2 0-0.8zM801.9 335.1l1.5 1 0.5 2.8 0 3 0.5 0.7-0.8 2.8-0.5 0.5-0.5-0.8-0.5-5.2-1-3.5zM729.6 342.1l1.8-3.5 4-4.2 3.7-2 3.8-1.3 2 0.3 0.7 0.5 3 0 0.3 0.5 3.2 0.2 0.8 0.5 0.5 2.5 1.5-0.2 1 2 2.7-0.3 1.5 1.3 2.3 0.2 1.5 1.3 0.7 1.2 0 0.5-4.2 4-1.8-1.7-3.5-1.3-2.2-2-3.3-1.5-3-0.5-9.7 0.5-7 3.3zM796.6 326.9l0.3 0.2-0.3 1.5-0.5-1z"/><path fill="#69ff96" d="M776.9 221.9l-9.5 1.2-8.5 2.5-3.3 1.3-8.2 4.2-7.5 5.8-3.3 3-5 5.5-5 7.5-4 8.5-1.5 4-2.7 10.7-0.5 5.8-0.5 2 0 13.2 0.2 1-4.7 7-3.3 6-2.5 7-1 5.5-1.7 5-1.8 6.8-2.2 11.5-1.8 13.5-0.2 15.2 0.5 2 0.5 5.5 1 4.3 0.7 7.7 2.3 7.5 2 3.3 1.7 6.7 1.5 2.3 3.8 9.5 5.5 10.2 1.5 2 4.2 7.5 6.8 9 4.2 4.3 3 3.7 9 8 8 5.8 11.3 6.2 16.2 5.5 6.3 1 12.5 0.5 9.2-1.2 7-2 4.3-1.5 8.7-4.5 7-5.3 5-4.7 3.3-3.5 5.5-8 4-8.5 1.5-4 2.7-10.3 0.3-3.7 0.7-4 0-4.8 0.3-0.2-0.3-10.3 4.8-7 0.5-1.7 2.5-3.8 2.7-7.7 1-5.5 2-5.8 1.8-7.2 2-10.8 1.5-11.5 0.2-7.7 0.3-0.3-0.3-9-2.5-18-2.2-8-4-10.5-2.3-4-2.5-6.5-5.7-11-5.5-9.2-6.8-9-6.5-7.3-9.5-8.7-7.5-5.5-12.2-7-7.3-2.3-6.2-2.5-4-1-5-0.7zM809.4 351.9l1 1 0 0.7 2.2 2.5 0.3 2.5 1.2 2.8 1.3 11.7 0 8 0.2 0.3-0.2 0.2 0 4.5-0.5 0.8-0.3 4-1 1.5-0.5 3.2-2 2.8-0.7 2-2.8 3.5-0.2 1.2-1.5 3-3.8 3-0.2-0.7 0.5-2.5 4.7-16 1-5.8 0.5-4.7 0-4.8 0.3-0.2 0-8.3-0.5-3.7-0.3-10.8zM765.1 342.1l1.8 2.5 3.2 2.8 0 0.7 1.3 3 4.5 6 0.5 2.5 0 2.8 3 7.7 0.7 4.8-0.2 8.5-1 2.7-0.3 2-1 2-0.5 2.5-1.2 1.8-1 2.5-4 4.5-5.3 3-3.2 1-7.8-0.3-3-0.7-3-1.8 3-0.5 8-3.7 3.5-2.5 3.8-6 1.2-4 1-8.8-0.2-6.5-0.5-1.2 0-2.8-0.3-0.2 0-3.3-1.2-3.7-1.8-2-0.7-1.5-0.5-2.8 1.5-2-2.3 0.8-2.2-2-1.3-3.3zM802.1 334.4l1.3 0.7 0.5 0.8 0.5 2.7 0 2.8 0.5 0.7 0 1-1.3 3.3-1-1.3-0.5-5.2-1-3.5zM727.4 343.6l2.5-5.2 3.5-4 1.2-1 4-2 3.3-1 1.5 0 1.5 0.5 3.5 0 3 0.7 2.5 1.3 1 1 1 2.5 2-0.3 1.7 1.5 2 0.3 1.5 0.7 1.8 2.8-5.3 4.7-2.2-2.2-1.3-0.3-2.5-1.2-2.2-1.8-3.5-1.5-4-0.5-7 0.5-8.3 3.8-1 1zM796.6 326.1l0.8 0.8 0 1.2-0.5 1.3-1-2.5z"/><path fill="#73ff8c" d="M776.9 221.9l-9.5 1.2-8.5 2.5-3.3 1.3-8.2 4.2-7.5 5.8-3.3 3-5 5.5-5 7.5-4 8.5-1.5 4-2.7 10.7-0.5 5.8-0.5 2 0 13.2 0.2 1-4.7 7-3.3 6-2.5 7-1 5.5-1.7 5-1.8 6.8-2.2 11.5-1.8 13.5-0.2 15.2 0.5 2 0.5 5.5 1 4.3 0.7 7.7 2.3 7.5 2 3.3 1.7 6.7 1.5 2.3 3.8 9.5 5.5 10.2 1.5 2 4.2 7.5 6.8 9 4.2 4.3 3 3.7 9 8 8 5.8 11.3 6.2 16.2 5.5 6.3 1 12.5 0.5 9.2-1.2 7-2 4.3-1.5 8.7-4.5 7-5.3 5-4.7 3.3-3.5 5.5-8 4-8.5 1.5-4 2.7-10.3 0.3-3.7 0.7-4 0-4.8 0.3-0.2-0.3-10.3 4.8-7 0.5-1.7 2.5-3.8 2.7-7.7 1-5.5 2-5.8 1.8-7.2 2-10.8 1.5-11.5 0.2-7.7 0.3-0.3-0.3-9-2.5-18-2.2-8-4-10.5-2.3-4-2.5-6.5-5.7-11-5.5-9.2-6.8-9-6.5-7.3-9.5-8.7-7.5-5.5-12.2-7-7.3-2.3-6.2-2.5-4-1-5-0.7zM809.6 351.1l1.3 1.3 0.2 1.2 2 2.3 0.5 3.2 1 1.5 1.5 15 0 9-0.7 4.3 0 2-1 2-0.5 3.2-2.3 3.3-0.7 2.2-3 3.8 0 0.7-1.5 3-4.5 3.8-0.3-1.3 0.8-3.7 4.7-16 1-5.8 0.5-4.7 0-4.8 0.3-0.2 0-8.3-0.5-3.7 0-8.5-0.5-2zM802.1 333.9l1.5 0.5 0.8 1 0.5 2.7 0 2.5 0.7 1.8-1.2 3.7-0.5 0.5-1.3-1.5-0.5-5.2-1-3.5 0-0.8zM737.4 330.6l1 0 2.5-1 2.5 0 1 0.5 4 0 2 0.5 4 2 0.7 0.8 0.8 2 1.7 0 1.8 1.5 1.7 0.2 1.5 0.8 1.3 1.5 0.7 1.7 1.8 2.5 3.5 3 1.2 3.8 2.5 3.2 0.5 1.3 1.8 2 0.5 2.5 0 2.7 3.2 8 0.8 5.3-0.3 8.5-1 3 0 1.5-1.2 2.2-0.5 2.5-1.3 1.8-1 3-4.5 4.7-1.7 1.3-4 2-1.3 0-1.7 0.7-8-0.2-4-1.3-2.5-1.2-0.8-0.8 1-0.5 4.8-0.7 5.2-2.5 4.3-2.8 1-1 3.7-6.5 0.8-2.7 0.7-6 0-9-0.5-1.3-0.2-6.2-0.5-1.8-1-1.5-0.3-1.5-2-2.5-0.5-3.7 0.8-1-1.3 0.5-2.7-2.3-1-3.2-2.8-3-0.7 0-2.5-1.3-1.8-1.5-5.5-2-5.7-0.2-3.8 0.5-7.5 3.5-3.2 3.2-0.3-0.5 1-3 2.3-4.5 4.2-4.7 1.3-1zM796.6 325.1l1 0.8 0 4.5-0.2 0.2-1.5-3.7 0-1zM792.4 319.1l1.2 0.5 0.3 0.5-0.3 1.3-1.5-2z"/><path fill="#7dff82" d="M776.9 221.9l-9.5 1.2-8.5 2.5-3.3 1.3-8.2 4.2-7.5 5.8-3.3 3-5 5.5-5 7.5-4 8.5-1.5 4-2.7 10.7-0.5 5.8-0.5 2 0 13.2 0.2 1-4.7 7-3.3 6-2.5 7-1 5.5-1.7 5-1.8 6.8-2.2 11.5-1.8 13.5-0.2 15.2 0.5 2 0.5 5.5 1 4.3 0.7 7.7 2.3 7.5 2 3.3 1.7 6.7 1.5 2.3 3.8 9.5 5.5 10.2 1.5 2 4.2 7.5 6.8 9 4.2 4.3 3 3.7 9 8 8 5.8 11.3 6.2 16.2 5.5 6.3 1 12.5 0.5 9.2-1.2 7-2 4.3-1.5 8.7-4.5 7-5.3 5-4.7 3.3-3.5 5.5-8 4-8.5 1.5-4 2.7-10.3 0.3-3.7 0.7-4 0-4.8 0.3-0.2-0.3-10.3 4.8-7 0.5-1.7 2.5-3.8 2.7-7.7 1-5.5 2-5.8 1.8-7.2 2-10.8 1.5-11.5 0.2-7.7 0.3-0.3-0.3-9-2.5-18-2.2-8-4-10.5-2.3-4-2.5-6.5-5.7-11-5.5-9.2-6.8-9-6.5-7.3-9.5-8.7-7.5-5.5-12.2-7-7.3-2.3-6.2-2.5-4-1-5-0.7zM810.1 350.4l1.5 1.7 0.3 1.5 2 2.3 0.5 3.5 1 2 1 8.5 0.2 7 0.3 0.2-0.3 10.3-0.5 1.2-0.2 3.8-0.8 1.2-0.5 3-0.5 1.3-1.2 1.5-1 2.7-3.3 4-1.7 4-4.5 3.8-1.8 2-0.2-0.5 1.2-2.8 0.8-4.7 4.7-16 0.8-4 0.7-6.5 0-4.8 0.3-0.2-0.5-20-0.5-2.8 1.7-3zM802.4 333.1l2.2 1 0.5 1.8 0.3 4.2 0.7 1.8-1.7 5.2-1.8-2-0.5-5.2-1-3.5 0-1.3zM736.6 329.6l1.5 0 1.8-0.7 3.5 0 0.2 0.2 3.8 0 3 0.8 3.7 2 1.5 1.5 0.5 1.2 1-0.2 1.5 1.5 1 0.5 1 0 2 1 4 6.2 3.3 2.5 1.2 4 2.5 3 0.3 1.3 2 2.2 0.7 3.8 0 2 1.8 3.5 0.2 1.5 1.3 2.7 0.7 6-0.2 8.3-1 3 0 2-1.8 3.2-0.2 1.5-1 1.5-1 3-5 5.3-2 1.5-3.8 1.7-1.2 0-2 0.8-7 0-4-1-2.8-1.3-3.5-2.5 0.3-0.2 1.5 0.2 6.5-1.2 3.7-1.8 4-2.5 1.8-1.5 4.2-7.5 1.3-10-0.8-14-1.7-3.2-0.3-2-1.7-2.3-0.8-4.2-3.2-2.8-0.8-2.5-1-0.7-0.2-1-1.8-1.8-3.5-1.5-1-1-2.2-0.7-1.5-1-3.8-0.8-3.2-0.2-3.8 0.5-7.5 3.5-5.2 5.2-0.3-0.2 1.8-5.8 2-4.2 3.7-4.5 2.5-2zM796.9 324.1l1 0.8 0.2 0.7 0 4-0.5 1.5-0.7-1.2-1.3-3.8 0-0.7zM792.4 318.1l1.5 0.5 0.2 1.8-0.5 1-2-2.5z"/><path fill="#86ff79" d="M776.9 221.9l-9.5 1.2-8.5 2.5-3.3 1.3-8.2 4.2-7.5 5.8-3.3 3-5 5.5-5 7.5-4 8.5-1.5 4-2.7 10.7-0.5 5.8-0.5 2 0 13.2 0.2 1-4.7 7-3.3 6-2.5 7-1 5.5-1.7 5-1.8 6.8-2.2 11.5-1.8 13.5-0.2 15.2 0.5 2 0.5 5.5 1 4.3 0.7 7.7 2.3 7.5 2 3.3 1.7 6.7 1.5 2.3 3.8 9.5 5.5 10.2 1.5 2 4.2 7.5 6.8 9 4.2 4.3 3 3.7 9 8 8 5.8 11.3 6.2 16.2 5.5 6.3 1 12.5 0.5 9.2-1.2 7-2 4.3-1.5 8.7-4.5 7-5.3 5-4.7 3.3-3.5 5.5-8 4-8.5 1.5-4 2.7-10.3 0.3-3.7 0.7-4 0-4.8 0.3-0.2-0.3-10.3 4.8-7 0.5-1.7 2.5-3.8 2.7-7.7 1-5.5 2-5.8 1.8-7.2 2-10.8 1.5-11.5 0.2-7.7 0.3-0.3-0.3-9-2.5-18-2.2-8-4-10.5-2.3-4-2.5-6.5-5.7-11-5.5-9.2-6.8-9-6.5-7.3-9.5-8.7-7.5-5.5-12.2-7-7.3-2.3-6.2-2.5-4-1-5-0.7zM810.4 349.6l1.7 2 0.3 1.5 1.7 2 0.5 1.3 0.3 2.5 1 1.7 1.5 15 0 10.3-0.8 6.5-0.7 1.7-0.8 4-1.5 2-1.2 3.3-3.5 4.2-1.5 3.8-3.5 2.7-4.5 4.5-0.3-0.7 2.5-5.3 0.8-4.7 4.7-16 0.8-4 0.7-6.5 0.3-13.3-0.5-3.7 0-7.3-0.8-3zM802.6 332.4l2 0.7 1 2.3 0.3 4.2 0.7 1.8 0 1-1.5 4.5-0.5 0.5-2-2.3-0.5-5.2-1.2-4.5zM736.1 328.6l1.8 0 2.2-0.7 0.3 0.2 6.2 0 2.8 0.8 4.2 2 2.3 2 0.2 0.7 0.3-0.2 2.5 2.2 1.2 0 2 1 1.3 1.5 0.5 1.3 1 0.7 0.2 1 1.3 1.8 3.5 2.7 0.5 2.3 1 2.2 1 1.5 1.5 1.3 0.2 1.5 1.8 2 0.7 3.7 0 1.8 2 3.7 0 1 1.5 3.5 0 2 0.8 4.8-0.3 8.2-0.7 2-0.3 3-2.5 5-1.5 4.3-5.5 5.7-2 1.5-3.5 1.8-2.5 0.2-1.7 0.8-0.5-0.3-6.5 0-4.3-1.2-3.5-1.8-3-2-1.2-1.2 1.5-0.3 3 0.5 5.7-1 5.5-2.7 2.3-1.5 1.7-1.8 4.3-7.5 1-6.5 0-10.5-0.5-3 0-3.2-2.3-3.8 0-1.7-1.5-2.3-0.5-3-0.7-1.7-2.8-2.3-0.7-2.2-1.5-1.3-0.8-1.7-1.2-1.3-8-4-5.5-1-3.5 0-8.3 3.8-6.2 6.2-0.8 1.5-0.2-0.2 0.5-3.8 1.5-4.5 2.7-5.5 2.3-2.7 2.7-2.5zM796.9 323.4l1 0.2 0.5 1 0 5.5 0.5 0.5-0.8 1-1-1-1.7-5.7zM792.4 317.1l1.2 0.3 0.8 1.2 0 1.3-0.8 1.5-2.2-3zM788.4 313.9l0.5-0.3 0.2 0.8-0.5 0.2z"/><path fill="#90ff6f" d="M776.9 221.9l-9.5 1.2-8.5 2.5-3.3 1.3-8.2 4.2-7.5 5.8-3.3 3-5 5.5-5 7.5-4 8.5-1.5 4-2.7 10.7-0.5 5.8-0.5 2 0 13.2 0.2 1-4.7 7-3.3 6-2.5 7-1 5.5-1.7 5-1.8 6.8-2.2 11.5-1.8 13.5-0.2 15.2 0.5 2 0.5 5.5 1 4.3 0.7 7.7 2.3 7.5 2 3.3 1.7 6.7 1.5 2.3 3.8 9.5 5.5 10.2 1.5 2 4.2 7.5 6.8 9 4.2 4.3 3 3.7 9 8 8 5.8 11.3 6.2 16.2 5.5 6.3 1 12.5 0.5 9.2-1.2 7-2 4.3-1.5 8.7-4.5 7-5.3 5-4.7 3.3-3.5 5.5-8 4-8.5 1.5-4 2.7-10.3 0.3-3.7 0.7-4 0-4.8 0.3-0.2-0.3-10.3 4.8-7 0.5-1.7 2.5-3.8 2.7-7.7 1-5.5 2-5.8 1.8-7.2 2-10.8 1.5-11.5 0.2-7.7 0.3-0.3-0.3-9-2.5-18-2.2-8-4-10.5-2.3-4-2.5-6.5-5.7-11-5.5-9.2-6.8-9-6.5-7.3-9.5-8.7-7.5-5.5-12.2-7-7.3-2.3-6.2-2.5-4-1-5-0.7zM810.6 348.9l2.3 2.5 0.2 1.7 2 2.5 0.5 3.8 0.8 1 1.5 12.7 0 4.3 0.2 0.2-0.2 11-0.5 1.8-0.3 3.5-0.5 0.7-0.7 4-1.5 2.3-0.8 2.5-4 5-1.7 4-3.8 3-4 4.2-1.7 1-0.3-0.5 3.5-7.5 0.8-4.7 4.7-16 0.8-4 0.7-6.5 0.3-13.3-0.5-3.7 0-6.8-0.8-3.7zM802.9 331.6l2.2 1 0.5 0.8 0.5 1.7 0.3 4 1 2.3-2.3 6.5-2.5-2.8-0.5-5.2-1.2-5zM735.4 327.6l2.2 0 1-0.5 1.8 0.3 3-0.3 0.2 0.3 2.8 0 3 0.7 4.5 2.3 4.7 4.5 1.5 0.2 2.3 1.3 1 2 1.5 1.2 1 2.3 2 2 2 1.2 1.2 4.3 1 1.5 1.8 1.5 0.5 2 1.5 2 0.7 5 2.3 4 0.2 2 1.3 3 0.7 10.2-0.2 0.3 0 4.7-0.8 2.3 0 2.7-2.2 4.3-2.3 5.7-4.5 4.8-3.2 2.5-4 2-1.8 0-2.2 0.7-1-0.2-3.3 0.2-0.2-0.2-2.8 0-2.7-0.8-5-2.2-7-5.3 1-0.2 2 0.7 5 0.5 5.7-1 3.5-1.7 2.8-1.8 2.7-2.7 3-5.5 1.5-4.3 0.3-5.7 0.2-0.3 0-8-0.7-6.2-2.3-3.5-0.2-3-1.3-1.8-0.5-2.7-1-1-0.2-1.3-2.3-2-0.5-1.5-2-1.7-1-2.3-0.7-0.7-3.3-1.5-1.2-1-1.8-0.5-1.7-1-2.8-0.8-5.2-0.5-8.3 3.8-6.2 6.2-2.5 4.8-0.3-0.3 0-2.2 1-5.5 1.3-3 0.2-1.5 2.3-4.8 4.5-5 2.5-2zM797.1 322.4l0.8 0.2 1 1.5 0 5.3 0.7 0.7-1.2 1.5-1.3-0.7 0-0.8-2-5.2 0-0.5zM792.4 316.4l1.5 0.2 1 2-1.3 2.8-2.5-3.3 0-0.5zM788.4 312.6l1 0.3-0.5 1.7-1.3-1.2z"/><path fill="#9aff65" d="M776.9 221.9l-9.5 1.2-8.5 2.5-3.3 1.3-8.2 4.2-7.5 5.8-3.3 3-5 5.5-5 7.5-4 8.5-1.5 4-2.7 10.7-0.5 5.8-0.5 2 0 13.2 0.2 1-4.7 7-3.3 6-2.5 7-1 5.5-1.7 5-1.8 6.8-2.2 11.5-1.8 13.5-0.2 15.2 0.5 2 0.5 5.5 1 4.3 0.7 7.7 2.3 7.5 2 3.3 1.7 6.7 1.5 2.3 3.8 9.5 5.5 10.2 1.5 2 4.2 7.5 6.8 9 4.2 4.3 3 3.7 9 8 8 5.8 11.3 6.2 16.2 5.5 6.3 1 12.5 0.5 9.2-1.2 7-2 4.3-1.5 8.7-4.5 7-5.3 5-4.7 3.3-3.5 5.5-8 4-8.5 1.5-4 2.7-10.3 0.3-3.7 0.7-4 0-4.8 0.3-0.2-0.3-10.3 4.8-7 0.5-1.7 2.5-3.8 2.7-7.7 1-5.5 2-5.8 1.8-7.2 2-10.8 1.5-11.5 0.2-7.7 0.3-0.3-0.3-9-2.5-18-2.2-8-4-10.5-2.3-4-2.5-6.5-5.7-11-5.5-9.2-6.8-9-6.5-7.3-9.5-8.7-7.5-5.5-12.2-7-7.3-2.3-6.2-2.5-4-1-5-0.7zM811.1 348.4l2.3 2.5 0.5 2.2 1.7 2 0.5 3.5 1 2 1.5 15 0 11.5-0.7 7-0.5 1-1 4.8-1.5 2.5-0.8 2.5-4.5 5.5-1.2 3-2.8 2.2-1.7 2-1.3 0.8-2.5 2.7-2.7 1.5-0.3-0.5 4.5-9.5 0.8-4.7 5-17.3 1-6.7 0.2-7.3 0.3-0.2 0-8.3-0.5-3.7 0-6.3-0.5-1.5-0.3-2.7 2.5-4.5zM803.1 330.9l2.8 1.5 0.7 2.2 0.3 4 1 2.3 0 0.7-2 5.5 0.7 0.8-1 1-0.5-1-2.2-2-0.8-6-1.2-4.5 0-0.8zM734.6 326.6l7.5-0.5 0.3 0.3 3.2 0 1.8 0.7 1 0 5.2 2.5 4.8 4.5 3.5 1.5 1.2 2 1.8 1.5 1.2 2.8 3.8 2.7 0.5 2.5 1 2.3 2.7 2.7 0.5 2.5 1 1 0.5 1.3 0.8 4.7 2.2 3.5 0.3 2.3 1.2 3.5 0.8 7.7-0.3 7.8-0.5 1-0.2 4-2 4 0 1-1.3 1.7-1.2 3.3-5 5.2-3.3 2.5-4 2-3.2 0.3-1 0.5-1.3-0.3-4.2 0.3-5.5-1.3-3.8-1.7-3.7-2.5-5.8-5 1-0.3 4.8 1.5 4.5 0.5 4.7-0.7 3-1 4-2.5 2.8-3 1.7-3 3-9.3 0-13-1-2.7-0.2-2-1.8-2.8-0.2-3.2-1-1.5-0.3-2-1.7-2-0.5-2-1.8-1.5-0.2-1.3-2.5-1.7-1.3-3-4.2-2.5-4.8-2-6-1-2 0.5-6.5 3-6.2 6.2-2.3 4-2 5.3-0.2-0.3 0.2-6 1-6 1.5-4 0-0.7 2.5-5.3 3.8-4.5 3.7-3zM797.4 321.4l1 0.5 0.7 1.2 0 5.3 1.3 1.2-1.8 2.3-1.5-1 0-0.8-2.2-6zM792.4 315.4l1.7 0.2 1 2.3-1.5 3.5-3-4zM787.4 311.9l2-0.3 0.5 0.5-1 2.5-1.8-2z"/><path fill="#a2ff5d" d="M776.9 221.9l-9.5 1.2-8.5 2.5-3.3 1.3-8.2 4.2-7.5 5.8-3.3 3-5 5.5-5 7.5-4 8.5-1.5 4-2.7 10.7-0.5 5.8-0.5 2 0 13.2 0.2 1-4.7 7-3.3 6-2.5 7-1 5.5-1.7 5-1.8 6.8-2.2 11.5-1.8 13.5-0.2 15.2 0.5 2 0.5 5.5 1 4.3 0.7 7.7 2.3 7.5 2 3.3 1.7 6.7 1.5 2.3 3.8 9.5 5.5 10.2 1.5 2 4.2 7.5 6.8 9 4.2 4.3 3 3.7 9 8 8 5.8 11.3 6.2 16.2 5.5 6.3 1 12.5 0.5 9.2-1.2 7-2 4.3-1.5 8.7-4.5 7-5.3 5-4.7 3.3-3.5 5.5-8 4-8.5 1.5-4 2.7-10.3 0.3-3.7 0.7-4 0-4.8 0.3-0.2-0.3-10.3 4.8-7 0.5-1.7 2.5-3.8 2.7-7.7 1-5.5 2-5.8 1.8-7.2 2-10.8 1.5-11.5 0.2-7.7 0.3-0.3-0.3-9-2.5-18-2.2-8-4-10.5-2.3-4-2.5-6.5-5.7-11-5.5-9.2-6.8-9-6.5-7.3-9.5-8.7-7.5-5.5-12.2-7-7.3-2.3-6.2-2.5-4-1-5-0.7zM838.6 393.1l0.3 0.5-0.8 0.8-0.2-0.5zM811.4 347.6l2.7 3 0.5 2.5 1.8 2.3 0.5 3.7 0.7 1.3 1.3 9.7 0.2 7.8 0.3 0.2-0.3 11.8-0.7 5.5-0.8 2.2-0.2 2.3-0.5 1.2-0.8 0.8-1 3.2-3.5 4.5-0.2 0.8-1.5 1.5-1 2.5-3 2.5-1.3 1.7-1.2 0.8-2.5 2.7-4.5 2.5-0.3-0.5 3-5.7 2.5-5.8 0.8-4.7 2.7-9 0.3-2.3 2-6 1-6.7 0.2-7.3 0.3-0.2 0-8.3-0.5-3.7 0-5.8-1-4.5 3.2-5.7zM803.4 330.1l2.2 1 0.8 0.8 0.7 2.5 0.3 3.7 1.2 2.8-2 5.5 3 1-3.5 3-1-1.5-0.2-1.3-2-1.7-0.8-6-1.5-5.3zM733.4 325.9l8-0.8 0.2 0.3 3.3 0 1.5 0.7 1.7 0.3 5 2.2 2.3 2.3 0.5 0 1.7 2.2 4.3 2 1 2 1.7 1 1.3 3 1.2 1.3 2.8 1.7 0.7 3.5 0.8 1.5 2.7 2.5 0.5 2.5 1.5 2.5 0.5 3.8 2.8 4.5 0.2 2.5 0.8 1.5 0.5 2.2 0 2 0.5 2.3 0 3.7 0.2 0.3-0.2 7.5-0.5 1.5-0.3 4-1.5 2.7-0.2 2-1.8 2.5-1 2.8-5.5 5.5-3.2 2.5-4.3 2.2-8 0.8-0.2-0.3-2.8 0-5-1.5-4-2-7-5.2-4-4.3 0.5-0.2 2 1 6.3 1.7 4.5 0.5 3.2-0.5 4-1.2 2.8-1.5 3.7-4 0.8-1.3 2-6.5 0.5-0.7 1.5-7.8 0-3.2-0.3-0.3 0-3.5-1.5-4.5 0-2-1.5-2.2-0.5-4.5-0.5-0.5-0.2-1.5-2.3-2.3-0.5-2.7-1.5-1.5 0-0.5-3-2.3-1.2-3-1.5-1.2-2.8-1.5-2.5-0.8-1.2-0.7-3.8-1-2.7 0-5.8 2-2 1-6.2 6.2-2.3 4-2.5 6.5-0.2 2.5-0.3 0.3-0.2-0.3-0.3-2 0.3-9 0.7-3.2 0-1.5 1.8-5.8 2.2-4.7 2.8-3.5 5.2-4.5zM797.1 320.6l1.3 0.3 1 1.2 0.2 5.5 1.3 1.3 0 0.5-2 2.5-1.8-1-0.2-1.5-2.3-6zM792.6 314.4l1.8 0.5 1 2.2-1.8 4.3-3.2-4.3zM786.6 311.1l1.5-0.5 1.8 0.3 0.2 0.5-1.2 3.2-2.5-3z"/><path fill="#a7ff58" d="M776.9 221.9l-9.5 1.2-8.5 2.5-3.3 1.3-8.2 4.2-7.5 5.8-3.3 3-5 5.5-5 7.5-4 8.5-1.5 4-2.7 10.7-0.5 5.8-0.5 2 0 13.2 0.2 1-4.7 7-3.3 6-2.5 7-1 5.5-1.7 5-1.8 6.8-2.2 11.5-1.8 13.5-0.2 15.2 0.5 2 0.5 5.5 1 4.3 0.7 7.7 2.3 7.5 2 3.3 1.7 6.7 1.5 2.3 3.8 9.5 5.5 10.2 1.5 2 4.2 7.5 6.8 9 4.2 4.3 3 3.7 9 8 8 5.8 11.3 6.2 16.2 5.5 6.3 1 12.5 0.5 9.2-1.2 7-2 4.3-1.5 8.7-4.5 7-5.3 5-4.7 3.3-3.5 5.5-8 4-8.5 1.5-4 2.7-10.3 0.3-3.7 0.7-4 0-4.8 0.3-0.2-0.3-10.3 4.8-7 0.5-1.7 2.5-3.8 2.7-7.7 1-5.5 2-5.8 1.8-7.2 2-10.8 1.5-11.5 0.2-7.7 0.3-0.3-0.3-9-2.5-18-2.2-8-4-10.5-2.3-4-2.5-6.5-5.7-11-5.5-9.2-6.8-9-6.5-7.3-9.5-8.7-7.5-5.5-12.2-7-7.3-2.3-6.2-2.5-4-1-5-0.7zM840.4 391.9l0.2 0.5-2.7 3.5-1 0.5-0.3-0.3 1.3-2.2zM811.6 347.1l2.8 3.3 0.5 2.5 1.7 2.2 0.5 3.8 1 2.5 1.5 15.5 0 10-1 9.2-1 4.5-1 1.5-1.5 4.3-5 6.2-1 2.3-8 7.7-5.2 3-0.3-0.5 3.5-6.7 2.5-5.8 0.8-4.7 2.7-9 0-1.5 2.3-7 1-6.5 0.2-7.3 0.3-0.2 0-8.3-0.5-3.7 0-5.5-1-5 3.5-6zM803.4 329.9l2.5 1 0.7 0.7 0.8 2.5 0.2 3.8 1.3 3-1.8 5.2 2.8 0.5 1 0.5-4.3 3.8-0.7-0.3-1-2 0-1-2-1.7-0.8-6-1.5-5.3zM733.1 325.4l8-0.8 0.3 0.3 3 0 3.2 1 5.5 2.5 2 2 0.5 0 2 2.5 3.8 1.7 1.5 2.3 1.7 1 1 2.7 1.5 1.5 2.8 1.8 1 4.2 3.2 3.3 0.5 2.5 1.3 1.7 0.7 4.5 2.8 4.3 0.5 3.5 1 2.2 0.7 7.5 0 9-0.5 1.3-0.2 4.5-1.5 3-0.3 2.2-2 2.8-1 2.5-5 5.2-4 3-4 2-8 1-1.7-0.5-2.3 0-4-1.2-3.2-1.5-4.3-2.8-4.2-3.5-4.8-5.2 0.5-0.3 3.5 1.8 6.3 1.7 5 0.5 4-1 4.5-1.7 3.5-3.5 1.2-1.8 3-9 1-6.2-0.2-7-1.3-3.8-0.2-3-1.3-2-0.5-4.7-0.5-0.5 0-0.8-2.5-2.7-0.7-3.3-1-0.7-0.8-1.3-2.5-1.7-1.2-2.8-2.5-2.2-2-1-2.5-0.8-1.3-0.7-4-1-1.2 0-8.3 3-6.2 6.2-2.3 4-2.5 6.5-0.7 5.8-0.3 0.2-0.2-0.2-0.3-6.3-0.2-0.2 0.2-7.5 1-6 1.8-5.5 2.2-4.5 3-3.8 4.8-4zM797.4 320.1l1.5 0.5 1 2 0 4.5 1.5 1.8-2.5 3.2-2-1.5 0-1.2-2.3-6 0-0.5zM792.6 313.9l1.8 0.5 1 2-0.3 1.7-1.5 3.3-3.5-4.5zM788.9 309.9l1.2 0.7 0 0.8-1 3-0.5 0.2-2.5-3.7z"/><path fill="#abff54" d="M776.9 221.9l-9.5 1.2-8.5 2.5-3.3 1.3-8.2 4.2-7.5 5.8-3.3 3-5 5.5-5 7.5-4 8.5-1.5 4-2.7 10.7-0.5 5.8-0.5 2 0 13.2 0.2 1-4.7 7-3.3 6-2.5 7-1 5.5-1.7 5-1.8 6.8-2.2 11.5-1.8 13.5-0.2 15.2 0.5 2 0.5 5.5 1 4.3 0.7 7.7 2.3 7.5 2 3.3 1.7 6.7 1.5 2.3 3.8 9.5 5.5 10.2 1.5 2 4.2 7.5 6.8 9 4.2 4.3 3 3.7 9 8 8 5.8 11.3 6.2 16.2 5.5 6.3 1 12.5 0.5 9.2-1.2 7-2 4.3-1.5 8.7-4.5 7-5.3 5-4.7 3.3-3.5 5.5-8 4-8.5 1.5-4 2.7-10.3 0.3-3.7 0.7-4 0-4.8 0.3-0.2-0.3-10.3 4.8-7 0.5-1.7 2.5-3.8 2.7-7.7 1-5.5 2-5.8 1.8-7.2 2-10.8 1.5-11.5 0.2-7.7 0.3-0.3-0.3-9-2.5-18-2.2-8-4-10.5-2.3-4-2.5-6.5-5.7-11-5.5-9.2-6.8-9-6.5-7.3-9.5-8.7-7.5-5.5-12.2-7-7.3-2.3-6.2-2.5-4-1-5-0.7zM842.9 390.4l0.2 0.2-2.7 2.8-2 2.7-1.8 1-0.2-0.5 1.5-2.7 1-1zM803.9 329.4l2.2 1.2 0.8 1 0.7 2.3 0.3 3.7 1.2 2.8-1.7 5.2 4.2 1 3 3.5 0.8 3 1.5 1.8 0.5 3.5 1 2.5 1.2 10.7 0 3.8 0.3 0.2-0.3 16-0.5 2.3 0 2-0.7 2.2-0.5 3.3-1 1.5-1.3 3.7-2.7 3.3-0.8 1.5-1.7 1.7-1 2.3-3.3 3-1 1.5-2 1.2-2 2.3-5.7 3.2-0.3-0.5 4-7.7 2.5-5.8 0.8-4.7 5.2-18.8 1-7.7 0.3-13.3-0.5-3.7 0-5-1-5.5 3.5-5.8-3.8 3.3-0.7 0.2-1.5-2.5 0-1.2-2-2-0.8-6-1.5-5.5 2.5-4.5zM732.9 324.9l8-0.8 0.2 0.3 2.8 0 4.7 1.5 4.3 2 2 2 0.5 0 2.2 2.7 4 2 1 1.8 1.3 0.5 0.7 0.7 1.5 3.5 3.8 2.5 1 4.3 3.5 3.5 0.5 3 1.2 2 0.5 3.2 0.8 0.8 0.2 1.2 2 3 0.3 2.5 1 2.5 1 11.5-0.3 0.3 0 6-0.5 2.7 0 2.5-1.2 2.3-0.5 3.2-2.5 3.5-0.5 1.5-5 5.5-4.3 3-4.2 2.3-4 0.2-2.3 0.5-5.2-0.2-5.5-1.8-3-1.5-3.8-2.5-4.2-3.5-2.8-2.7-4.2-5.3 0.2-0.5 2.3 2.3 4.2 2 6.3 1.7 5 0.5 8.2-2.7 4.5-5.5 2.5-7.3 1-6 0.3-3-0.3-0.2-0.2-6.3-1-2.7-0.3-3.5-1.2-2.3-0.3-3.7-0.5-1.5-2.7-2.8-0.8-3.5-1.5-1.7-2.7-2-1-2.3-1-0.5-2.3-2.5-4.7-2-3.8-1-1.2 0-8.3 2.8-6.2 6.2-2.3 4-2.5 6.5-1 6.3 0 2.5-0.2 0.2-0.3-0.2-0.7-6 0-10.3 1-6.7 1-2.3 0.7-3.2 2.5-5 2.8-3.5 1.7-1.8 3.8-2.7zM797.4 319.6l1.5 0.5 0.7 1 0.5 1.5-0.2 4 1.7 1.8 0 0.5-2.5 3.2-2.2-1.5-0.3-2-2.2-5.7zM792.6 313.4l2 0.5 1 2.5-2 5-3.5-4.5 0-0.8zM788.6 309.4l1 0.2 0.8 1-1.5 4-0.5-0.2-2.8-3.8z"/><path fill="#b0ff4f" d="M776.9 221.9l-9.5 1.2-8.5 2.5-3.3 1.3-8.2 4.2-7.5 5.8-3.3 3-5 5.5-5 7.5-4 8.5-1.5 4-2.7 10.7-0.5 5.8-0.5 2 0 13.2 0.2 1-4.7 7-3.3 6-2.5 7-1 5.5-1.7 5-1.8 6.8-2.2 11.5-1.8 13.5-0.2 15.2 0.5 2 0.5 5.5 1 4.3 0.7 7.7 2.3 7.5 2 3.3 1.7 6.7 1.5 2.3 3.8 9.5 5.5 10.2 1.5 2 4.2 7.5 6.8 9 4.2 4.3 3 3.7 9 8 8 5.8 11.3 6.2 16.2 5.5 6.3 1 12.5 0.5 9.2-1.2 7-2 4.3-1.5 8.7-4.5 7-5.3 5-4.7 3.3-3.5 5.5-8 4-8.5 1.5-4 2.7-10.3 0.3-3.7 0.7-4 0-4.8 0.3-0.2-0.3-10.3 4.8-7 0.5-1.7 2.5-3.8 2.7-7.7 1-5.5 2-5.8 1.8-7.2 2-10.8 1.5-11.5 0.2-7.7 0.3-0.3-0.3-9-2.5-18-2.2-8-4-10.5-2.3-4-2.5-6.5-5.7-11-5.5-9.2-6.8-9-6.5-7.3-9.5-8.7-7.5-5.5-12.2-7-7.3-2.3-6.2-2.5-4-1-5-0.7zM844.4 389.4l0.2 0.2-0.7 1.3-5.8 6.2-1.7 0.5-0.3-0.5 1.8-3.2 1-1zM804.1 329.1l2.8 1.5 1 3 0.2 3.5 1.3 3-1.5 5 4.2 1.3 0.3 0.7 2.7 3 0.5 2.8 1.5 1.7 0.8 4.8 0.7 1.2 1.3 10.5 0.2 8.3 0.3 0.2 0 5.3-0.3 0.2 0.3 5.8-2 10.2-1.3 2.5-1 3.3-2.7 3.2-0.8 1.8-2.2 2.2-1 2.3-1.8 1.2-2.5 3-2.2 1.5-1.8 2-4.7 2.8-1.5 0.5-0.3-0.3 4.5-8.7 2.5-5.8 0.8-4.7 2.2-7.3 0.3-2.5 1.5-4.2 0.2-2.3 1.3-4 0.7-6.2 0.3-13.3-0.5-3.7 0-4.8-1-5.7 2.2-3.8-2.7 2.3-0.5-0.3-1.5-2.7 0-1.5-2-2-0.8-6-1.5-5.3 2.3-4.5 0.7-1zM732.4 324.4l2.7 0 5.5-0.8 1 0.5 2.8 0 1.5 0.8 1.7 0.2 5 2.3 2 2 1 0.2 2.3 3 3.2 1.5 1 1 0.3 0.8 2.2 1.2 1.3 3.5 4 2.8 1 4.2 1.5 1.8 2 1.5 0.5 3.2 1 1.3 0.5 3.2 1.2 1.8 0.3 1.2 1.7 2.5 0.5 3.5 1 2.8 0.5 7.7 0.3 0.3 0 9-0.5 2 0 3-1.3 2.7-0.5 3.3-2.7 4-0.5 1.2-1.8 1.8-2.2 3.2-5 3.5-4.8 2.5-2 0-2.2 0.5-0.3-0.2-2.2 0.5-4-0.3-4.8-1.2-5.2-2.5-6-4.5-4-3.8-4.5-5.5-2-3 0.2-0.5 4.8 4.8 4.2 2 6.3 1.7 5.5 0.3 6.7-2.3 4-4.5 1.3-2.2 1.7-5 1.3-7.3-0.3-9.2-1-2.8 0-3.2-1.2-2.3-0.5-5-3-3-1-4.2-1.3-1.3-2.5-1.5-1-2.2-1.2-0.8-3-3.2-4.3-1.8-4.5-0.7-8.2 2.7-6 6-2.3 4-2.5 6.5-1 6.3 0.3 7-0.3 0.2-0.2-0.2-1.5-8.5-0.3-10.8 1-8 1-2.5 0.8-3.5 2.2-4.5 3.5-4.7 5.3-4zM797.4 319.1l1.5 0.5 0.7 0.8 0.5 1.5 0 4.2 2 2.3-3 3.7-2.2-1.5-0.3-2-2.2-5.7 0-0.5zM792.6 312.9l2.3 0.7 1 2.8-2.3 5-3.7-5zM785.1 309.1l0.8 0.8 2.7-1 1.5 0.5 0.3 1.2-1.5 4-0.5-0.2-3.5-4.8zM779.6 303.4l0.3-0.3 0.7 0.8-0.5 0.2zM769.4 295.9l0.7-0.3 1.3 0.8-0.8 0.5z"/><path fill="#b5ff4a" d="M776.9 221.9l-9.5 1.2-8.5 2.5-3.3 1.3-8.2 4.2-7.5 5.8-3.3 3-5 5.5-5 7.5-4 8.5-1.5 4-2.7 10.7-0.5 5.8-0.5 2 0 13.2 0.2 1-4.7 7-3.3 6-2.5 7-1 5.5-1.7 5-1.8 6.8-2.2 11.5-1.8 13.5-0.2 15.2 0.5 2 0.5 5.5 1 4.3 0.7 7.7 2.3 7.5 2 3.3 1.7 6.7 1.5 2.3 3.8 9.5 5.5 10.2 1.5 2 4.2 7.5 6.8 9 4.2 4.3 3 3.7 9 8 8 5.8 11.3 6.2 16.2 5.5 6.3 1 12.5 0.5 9.2-1.2 7-2 4.3-1.5 8.7-4.5 7-5.3 5-4.7 3.3-3.5 5.5-8 4-8.5 1.5-4 2.7-10.3 0.3-3.7 0.7-4 0-4.8 0.3-0.2-0.3-10.3 4.8-7 0.5-1.7 2.5-3.8 2.7-7.7 1-5.5 2-5.8 1.8-7.2 2-10.8 1.5-11.5 0.2-7.7 0.3-0.3-0.3-9-2.5-18-2.2-8-4-10.5-2.3-4-2.5-6.5-5.7-11-5.5-9.2-6.8-9-6.5-7.3-9.5-8.7-7.5-5.5-12.2-7-7.3-2.3-6.2-2.5-4-1-5-0.7zM845.4 388.6l0.2 0.8-1.5 2.5-5.2 5.5-2.8 0.7-0.2-0.5 2-3.7 1-1zM803.9 328.6l3.2 1.8 1 3.2 0.3 3.3 1.2 3 0 1-1.2 3.7 3 0.8 1.2 1 0.3 0.7 2.5 2.8 0.7 3.2 1.5 2 0.5 3.8 0.8 1.5 1.5 12.7 0.5 18.8-2.3 10-2.5 6-2 2.2-1 2-2.7 3-0.8 1.8-2 1.5-2.7 3.2-4.3 3.5-6.5 3.5-0.2-0.5 0.7-0.7 7-14.8 0.8-4.7 1.7-5.5 0.5-3.5 1.5-4.3 0.3-2.5 1.5-5 0.7-5.7 0.3-13.3-0.5-3.7 0-4.5-1.3-5.8 1.5-2.2-1.5 1.2-0.5-0.2-1.7-3.3-0.3-2-1.7-1.7-0.8-6-1.5-5.3 0.8-2zM732.1 323.9l2.8 0 5.5-0.8 1 0.5 2.5 0 4 1.3 4.7 2.2 1.8 1.8 1 0.2 2.2 3 3.5 1.8 1.3 1.7 1.7 0.8 0.5 0.5 1.3 3.5 4 3 1 4.2 3.5 3 0.5 3 1.2 2.5 0.3 2.3 1.2 1.5 0.3 1.2 2 3.3 0.5 3.7 0.7 1.5 0.8 7 0 4.3 0.2 0.2-0.2 0.3-0.3 10.2-0.2 1.8-1 2-0.5 3.5-3.3 5-4 5.2-5.2 3.8-5.5 2.5-2.3 0-4.5 0.7-4.5-0.5-4.7-1.5-4.5-2.2-3-2-6.8-6-5.2-6.5-3-4.8 0.2-0.5 6.8 6.8 5 2.2 5.5 1.5 2.5 0 0.2 0.3 2.3 0 6.2-2 4.3-4.8 1.5-2.5 1.5-4.5 1.2-7.5-0.2-9.2-0.8-1.8-0.2-4.2-1-1.8-0.5-4.7-3.3-3.8-1-4.2-3.5-2.5-1-2-1.7-1-2.5-3-4.8-2.3-6.2 0.3-6 2.2-5.5 5.5-2.3 4-2.7 7.5-0.8 5.3 0.3 7.2 0.2 0.3 0 3.2-0.2 0.3-0.3-0.3-1.7-7.5-1-9.5 0.2-8.7 0.5-1.8 0.3-3.2 1.7-6.3 2.5-5 1-1 2.3-3.5 5.5-4.2zM797.6 318.6l2 1 0.8 2 0 4.3 2 2-0.3 0.7-2.7 3.5-0.5 0-2-1.5-0.3-2-1.7-5-0.8-1.2zM792.6 312.6l2.3 0.5 1 2.5 0 0.8-2.3 5-4-5.3zM785.1 308.4l0.8 0.7 2.7-0.7 1.5 0.5 0.5 1.2-1.7 4.5-0.5-0.2-3.8-5.3zM779.1 303.1l0.8-0.5 1.2 0.8-1 0.7zM768.1 294.9l0.5-0.3 3.5 1.3-1.5 1z"/><path fill="#baff45" d="M776.9 221.9l-9.5 1.2-8.5 2.5-3.3 1.3-8.2 4.2-7.5 5.8-3.3 3-5 5.5-5 7.5-4 8.5-1.5 4-2.7 10.7-0.5 5.8-0.5 2 0 13.2 0.2 1-4.7 7-3.3 6-2.5 7-1 5.5-1.7 5-1.8 6.8-2.2 11.5-1.8 13.5-0.2 15.2 0.5 2 0.5 5.5 1 4.3 0.7 7.7 2.3 7.5 2 3.3 1.7 6.7 1.5 2.3 3.8 9.5 5.5 10.2 1.5 2 4.2 7.5 6.8 9 4.2 4.3 3 3.7 9 8 8 5.8 11.3 6.2 16.2 5.5 6.3 1 12.5 0.5 9.2-1.2 7-2 4.3-1.5 8.7-4.5 7-5.3 5-4.7 3.3-3.5 5.5-8 4-8.5 1.5-4 2.7-10.3 0.3-3.7 0.7-4 0-4.8 0.3-0.2-0.3-10.3 4.8-7 0.5-1.7 2.5-3.8 2.7-7.7 1-5.5 2-5.8 1.8-7.2 2-10.8 1.5-11.5 0.2-7.7 0.3-0.3-0.3-9-2.5-18-2.2-8-4-10.5-2.3-4-2.5-6.5-5.7-11-5.5-9.2-6.8-9-6.5-7.3-9.5-8.7-7.5-5.5-12.2-7-7.3-2.3-6.2-2.5-4-1-5-0.7zM846.1 388.1l0.3 0.3-0.3 1.7-2.2 3.3-4.8 4.7-2.7 0.5-0.5-1 2-3.7 1-1zM804.4 328.4l3 1.7 1 3.3 0.2 3.2 1.5 3.8-1.2 4 2.7 0.5 1 0.7 0.5 1.3 2.5 2.7 0.8 3.3 1.5 1.7 0.5 4 1 2.8 0.2 3.7 0.5 2 1.5 24.5-1 5.5-1.2 2.5-0.5 3-0.5 0.5-1.8 5-2 2.3-1.2 2.5-2.8 2.7-0.7 1.8-2.5 2.2-1.8 2.3-2 1.2-2.2 2.3-8 4.2-0.3-0.5 1.5-1.7 7-14.8 0.8-4.7 1.7-5.5 0.5-3.8 1.3-3.2 0.2-2.5 2.3-9 0.2-7.3 0.3-0.2 0-8.3-0.5-3.7 0-4.3-1.3-5.7 0.3-0.5-0.5-0.3-2-3.7-0.3-2.3-1.7-1.7-0.8-6-1.5-5.3 0-0.7 3.3-5.5zM731.9 323.4l2.5 0 1.2-0.5 1 0.2 3.5-0.5 1 0.5 2.3 0 4 1.3 5 2.2 1.7 1.8 1 0.2 1.3 1.3 1.2 2 3.5 1.7 1 1.5 2 1 0.5 0.5 1.3 3.5 4 3 1 4.3 3.5 3 0.7 3.7 0.8 1 0.5 2.8 1.5 1.7 0.2 1.8 2 3 0.3 3 1 3.2 0.5 8.5 0.2 0.3 0 8.5-0.2 0.2-0.3 5.5-0.7 1.3-0.8 4.5-7.5 10.5-5.2 3.7-1.8 0.5-3.2 1.8-7.8 1-1.7-0.5-2.3 0-6-2-3-1.5-3.7-2.5-6.5-5.8-5.5-6.7-3.8-6-3.7-8 0.2-0.8 0.5 0.5 4 8 7.3 7.3 4.2 2 5.3 1.5 6.5 0.2 4.5-1.5 2.7-2.5 3.8-5.2 1.2-4 1.3-8.5-0.3-8.3-0.7-1.7-0.3-4.8-0.7-1-0.3-3.5-1-1.7 0-0.8-2.5-2.5-1-4.2-0.5-0.8-3-2-1-1.7-2-1.3-2.5-2.7-5-2.3-5.5 0-5.2 1.8-6 5.7-2.3 4-2.5 6.5-1 6.3 0.5 11 1.5 6.2-0.2 0.3-2.3-6-2-8.8-0.7-5.5 0-4.7-0.3-0.3 0.3-7 1-6.2 0.7-1.8 0.8-3.5 2.7-5.5 3-4.2 5.3-4.3 1.7-0.5zM797.6 318.1l2.3 1.3 0.7 2 0 4 2.3 2.5-3.5 4.5-2.5-1.8-1.3-5-1.7-3.5zM792.6 312.1l2.3 0.5 1.2 3-2.5 5.8-4-5.3 0-0.7zM785.1 307.6l1 1 2.3-0.7 1.5 0.2 0.5 0.5 0.2 1.5-1.7 4.5-0.5-0.2-4-5.5zM778.9 302.9l0.7-0.8 2.5 0.5-1.7 1.5zM766.1 293.4l0.5-0.3 2.5 1.3 4 1.2-2.5 1.3z"/><path fill="#bfff40" d="M732.9 342.1l-4 1.3-2.5 1.7-4 4-2.3 4-2.5 6.5-1 6.3 0.5 11 1.5 6.2 3 5 1.5 3.5 7.3 7.3 4.2 2 5.5 1.5 2.3 0.2 4.2-0.2 3.5-1.3 3-2.7 3-4.3 1.5-3.2 1.3-7.3 0.2-4.5-0.2-0.2 0-6-0.8-2.3 0-3.2-0.7-2-0.3-2.8-1.2-1.7-0.3-1.8-2.2-2.2-0.8-3.8-1.5-2-2.7-2-0.3-1-2.5-1.2-1.7-2.3-4.5-2.2zM776.9 221.9l-9.5 1.2-8.5 2.5-3.3 1.3-8.2 4.2-7.5 5.8-3.3 3-5 5.5-5 7.5-4 8.5-1.5 4-2.7 10.7-0.5 5.8-0.5 2 0 13.2 0.2 1-4.7 7-3.3 6-2.5 7-1 5.5-1.7 5-1.8 6.8-2.2 11.5-1.8 13.5-0.2 15.2 0.5 2 0.5 5.5 1 4.3 0.7 7.7 2.3 7.5 2 3.3 1.7 6.7 1.5 2.3 3.8 9.5 5.5 10.2 1.5 2 4.2 7.5 6.8 9 4.2 4.3 3 3.7 9 8 8 5.8 11.3 6.2 16.2 5.5 6.3 1 12.5 0.5 9.2-1.2 7-2 4.3-1.5 8.7-4.5 7-5.3 5-4.7 3.3-3.5 5.5-8 4-8.5 1.5-4 2.7-10.3 0.3-3.7 0.7-4 0-4.8 0.3-0.2-0.3-10.3 4.8-7 0.5-1.7 2.5-3.8 2.7-7.7 1-5.5 2-5.8 1.8-7.2 2-10.8 1.5-11.5 0.2-7.7 0.3-0.3-0.3-9-2.5-18-2.2-8-4-10.5-2.3-4-2.5-6.5-5.7-11-5.5-9.2-6.8-9-6.5-7.3-9.5-8.7-7.5-5.5-12.2-7-7.3-2.3-6.2-2.5-4-1-5-0.7zM847.1 388.4l-0.2 2-2 3-2.8 3-2.7 2.5-1.5-0.3-1.3 0.5-0.7-1.5 2-3.7 1-1 7.5-5zM804.1 327.9l3.5 2 1 3.2 0.3 3.3 1.5 3.7-1.3 3.8 2.8 0.5 1.2 1.2 0.3 1 2.5 2.8 0.7 3.2 1.5 2 0.8 4.8 0.7 1.7 0.3 3.5 0.5 2 0.5 8.8 0.2 0.2 0 5.3 1 4.5 0 5.7 0.3 0.5-1 4 0 1.8-1.5 2.7-2.5 7.8-2.5 3.2-0.8 1.8-3.5 3.7-0.5 1.3-2 1.7-0.7 1.3-1.8 1.7-2 1.3-1.5 1.7-4.2 2.5-5.3 2.5-0.2-0.5 2.2-2.7 7-14.8 0.8-4.7 1.7-5.5 0.3-3 1.2-3.5 0.3-2.5 1.5-5.3 0-1.2 1.2-5.5 0.3-13.3-0.5-3.7 0-4-1.3-6.3-2.5-4.2 0-2.3-1.7-1.7-0.8-6-1.5-5.3 0.3-1.5zM731.4 322.9l2.2 0 1.3-0.5 1.5 0.2 1.7-0.5 5 0.5 5.8 2 3.5 1.8 1.5 1.5 1.5 0.5 2.7 3.5 3 1.5 1 1.5 1.8 0.7 0.7 0.8 1.3 3.5 4 3 1 4.2 3.5 3 0.7 3.8 0.8 1.2 0.5 2.5 1.7 2 0.3 1.8 1.7 2.7 0.5 3.8 0.8 1.7 0.7 7.8 0 13-0.2 0.2 0 2.8-0.8 1.7-0.7 4.5-3.5 5.5-4.3 5.5-5.7 4-2.3 0.5-2.5 1.5-6.2 0.8-2.8 0-1.7-0.5-1.5 0-3.5-1-5.8-2.8-4.7-3.5-3.5-3-3.8-4-4.7-6.5-2.3-3.7-3.5-7.3-2.7-8-1.8-7.2-1-8.3 0.3-11.7 0.7-5 0.8-1.8 0.7-3.5 2.8-5.7 3-4.3 1.7-1.7 3.8-2.8 2.5-0.7zM797.6 317.9l1.3 0.2 1 0.8 1 2.5 0 3.7 2.2 2.5-3.5 4.8-3-2-0.2-2.5-1.5-4.3-1-1.5 0-0.5zM792.6 311.6l2.3 0.5 0.5 0.5 0.7 2.3-0.2 1.5-2.3 5-4.2-5.8zM785.1 307.1l1 1 2.3-0.7 1 0 1 0.5 0.5 1.5-2 5.2-0.5-0.2-4.3-5.8zM778.4 302.4l1.2-1 1 0.5 1.5-0.3 1 0.3-2.7 2.2zM764.4 292.4l1-0.3 3.7 1.8 4 1 0.5 0.5-3 1.5-3.7-3z"/><path fill="#c4ff3b" d="M729.9 343.1l-1.8 0.8-5.7 5.2-2.3 4-2.5 6.5-1 6.3 0 3 0.3 0.2 0.2 7.8 1.5 6.2 3 5 1.5 3.5 7.3 7.3 4.2 2 5.8 1.5 2.5 0 0.2 0.2 4-0.5 1.5-0.5 3.8-3.2 4.2-6.3 1.5-9.2 0-9.8-0.5-1.2-0.2-5.3-0.5-0.7 0-1.5-1.8-2.8-0.5-2.7-2-2.3-0.5-2.5-1.2-1.2-0.5-1.5-2.5-2-0.3-0.8-2.7-1.5-1.8-2-4.7-2.2-5.5-0.3zM776.9 221.9l-9.5 1.2-8.5 2.5-3.3 1.3-8.2 4.2-7.5 5.8-3.3 3-5 5.5-5 7.5-4 8.5-1.5 4-2.7 10.7-0.5 5.8-0.5 2 0 13.2 0.2 1-4.7 7-3.3 6-2.5 7-1 5.5-1.7 5-1.8 6.8-2.2 11.5-1.8 13.5-0.2 15.2 0.5 2 0.5 5.5 1 4.3 0.7 7.7 2.3 7.5 2 3.3 1.7 6.7 1.5 2.3 3.8 9.5 5.5 10.2 1.5 2 4.2 7.5 6.8 9 4.2 4.3 3 3.7 9 8 8 5.8 11.3 6.2 16.2 5.5 6.3 1 12.5 0.5 9.2-1.2 7-2 4.3-1.5 8.7-4.5 7-5.3 5-4.7 3.3-3.5 5.5-8 4-8.5 1.5-4 2.7-10.3 0.3-3.7 0.7-4 0-4.8 0.3-0.2-0.3-10.3 4.8-7 0.5-1.7 2.5-3.8 2.7-7.7 1-5.5 2-5.8 1.8-7.2 2-10.8 1.5-11.5 0.2-7.7 0.3-0.3-0.3-9-2.5-18-2.2-8-4-10.5-2.3-4-2.5-6.5-5.7-11-5.5-9.2-6.8-9-6.5-7.3-9.5-8.7-7.5-5.5-12.2-7-7.3-2.3-6.2-2.5-4-1-5-0.7zM847.9 388.1l-0.3 2.3-2.5 4-5.2 5-0.8 0.2-1.2-0.5-1 0.5-1-2 2-3.7 1-1 8-5.3zM804.4 327.6l3 1.5 0.5 0.8 1 3 0.2 3.2 1.5 3.5-1 3.8 2.5 0.5 1.3 1.2 0.5 1.5 2.5 2.8 0.7 3.5 1.5 2.2 0.5 4 0.8 1.5 0.7 5.8 0.5 7.7 0.3 0.3 0 4.5 1.2 6.2 0.3 7.5-0.8 2.8 0 2.2-2 3.8-2.5 7.2-1.7 2-1.5 3-3 3-1 1.8-1.5 1.2-1.8 2.5-3.7 2.8-1.3 1.5-4.7 2.7-5.8 2.5-0.2-0.2 3.2-4 7-14.8 0.8-4.7 1.5-4.8 0.2-2.7 1.3-3.8 0.2-2.7 1.3-4.3 1.7-9.5 0.3-12-0.5-3.7 0-3.8-1.5-6.5-2.3-4-0.2-2.7-1.5-1.5-0.8-6-1.5-5.3 0-1.2 3-5.3zM731.1 322.4l6.8-0.8 4.7 0.5 5.3 1.8 4.2 2 2 1.7 1 0.3 3.3 4 2.2 1 1.3 1.5 2 1 0.7 0.7 1.3 3.8 3 1.7 1 1 1 4.3 3.5 3 1.7 6.7 2.3 2.8 0.2 2 1.8 2.7 0.5 4.5 0.5 0.8 0.7 6.2 0 3.8 0.5 1.7 0 7.5-0.5 1.3-0.2 4.7-0.5 0.8-0.8 4.7-2.5 3.5-1.2 2.5-4 5-6.5 4.5-2.5 0.5-2.3 1.3-2 0-1.2 0.5-3 0-0.3 0.2-5.2-0.5-7-2.5-5.8-3.5-6.2-5.5-4.5-5.2-3-4.3-2.3-3.7-3.5-7.3-2.7-7.7-1.8-7-1.2-10.5 0.2-10.3 0.5-1.7 0.3-3.3 1.5-5.5 2.7-6 3-4.2 2.3-2.3 3-2.2 1.7-1 1.8-0.3zM797.6 317.4l1.3 0.2 1.2 0.8 1 2.7-0.2 3.3 2.5 2.7 0 0.5-3.8 5-3-2.2-0.2-2.5-0.8-2.3-2-4zM792.6 311.1l2.5 0.5 1.3 3.3-2.8 6.5-4.5-6zM785.1 306.4l1.3 1.2 2-0.7 1.7 0.2 0.5 0.8 0.3 1.5-2 5.2-0.5-0.2-4.5-6.3zM777.9 302.1l1.7-1.2 1 0.5 1-0.3 2 0.3-3.2 2.7zM763.6 291.9l1.8-0.3 3.2 1.5 4.5 1.3 0.8 0.7-3.3 1.8-3.7-3z"/><path fill="#c9ff36" d="M729.9 343.4l-2.5 1.2-5 4.5-2.8 5.3-2 5.2-1 6.3 0 3 0.3 0.2 0.2 7.8 1.5 6.2 3 5 1.5 3.5 7.3 7.3 4.2 2 6.3 1.5 5.7-0.3 1.3-0.5 4-3.5 2.5-3.7 2-4.8 1-7.2 0-9.3-0.5-1-0.3-5.7-2.5-4.5-0.5-3-1.5-1.5-0.5-2.5-1.7-1.5-0.8-2.3-1.5-1-0.7-1.2-2.5-1.3-2-2-4.3-2-3.2-0.5zM776.9 221.9l-9.5 1.2-8.5 2.5-3.3 1.3-8.2 4.2-7.5 5.8-3.3 3-5 5.5-5 7.5-4 8.5-1.5 4-2.7 10.7-0.5 5.8-0.5 2 0 13.2 0.2 1-4.7 7-3.3 6-2.5 7-1 5.5-1.7 5-1.8 6.8-2.2 11.5-1.8 13.5-0.2 15.2 0.5 2 0.5 5.5 1 4.3 0.7 7.7 2.3 7.5 2 3.3 1.7 6.7 1.5 2.3 3.8 9.5 5.5 10.2 1.5 2 4.2 7.5 6.8 9 4.2 4.3 3 3.7 9 8 8 5.8 11.3 6.2 16.2 5.5 6.3 1 12.5 0.5 9.2-1.2 7-2 4.3-1.5 8.7-4.5 7-5.3 5-4.7 3.3-3.5 5.5-8 4-8.5 1.5-4 2.7-10.3 0.3-3.7 0.7-4 0-4.8 0.3-0.2-0.3-10.3 4.8-7 0.5-1.7 2.5-3.8 2.7-7.7 1-5.5 2-5.8 1.8-7.2 2-10.8 1.5-11.5 0.2-7.7 0.3-0.3-0.3-9-2.5-18-2.2-8-4-10.5-2.3-4-2.5-6.5-5.7-11-5.5-9.2-6.8-9-6.5-7.3-9.5-8.7-7.5-5.5-12.2-7-7.3-2.3-6.2-2.5-4-1-5-0.7zM848.4 387.9l0.2 1.7-0.5 1.5-2.2 3.5-2.3 2.5-3.7 3-1 0-0.8-0.5-1.2 0.5-1-2.5 2-3.7 1-1 8.2-5.5zM804.4 327.1l3 1.5 0.7 1 1 3.3 0.3 3 1.5 3.5 0 1-1 2.5 2.7 0.7 1.3 1.5 0.2 1.3 2.5 2.7 0.8 3.5 1.5 2.3 0.7 4.7 0.5 0.8 1.5 13 0 4.5 1.8 8 0.2 6.5-1.2 6.5-3 6-1.3 4-2 2.5-1.5 3-3.7 3.7-0.3 0.8-2.7 3.2-5.5 4.8-5.5 3.2-5.8 2.3-0.2-0.3 3.7-4.7 7-14.8 0.8-4.7 1.2-3.8 0.5-4 1-2.7 0.3-3 1.2-4.3 2.3-13.7 0-8.3-0.5-3.7 0-3.5-1.5-5 0-1.5-2.3-4-0.2-3-1.5-1.3-0.8-6.2-1.7-6.3zM730.9 321.9l1.7 0 2-0.8 0.5 0.3 4-0.3 1.3 0.5 2 0 6.2 2.3 1 0.7 2.3 0.8 2 1.7 1.5 0.5 3 4 2.2 1 1.3 1.5 2.5 1.3 1.5 4 4 3 1 4 1.2 1.5 2.5 2 1.5 6.5 2.3 2.5 0.5 2.5 1.5 2.5 0.5 3.7 0.7 2.5 0.5 7 1 4.3 0 7.5-1 3.7 0 2-1.2 5.8-2.3 3.2-0.7 2.3-5 6-5.3 3.7-2.2 1-1.8 0.3-1.7 1-2.3 0.2-1.2 0.5-3.8 0-0.2 0.3-4.5-0.5-4.8-1.5-4.7-2.3-5.3-3.7-4-3.5-3.2-3.5-5-6.8-2.3-3.7-3.7-7.8-2.8-8-2-8.7-0.2-3.3-0.5-1.7 0-4.8-0.3-0.2 0.3-8.5 1-6.3 1-2.7 0.2-1.8 2.8-6.2 3-4.3 2.7-2.7 4.5-3 2.5-0.5zM792.9 310.6l2.2 0.5 1.3 3 0 1-2.5 5.8 3.7-4 2.3 0.7 1.2 2.8 0 3.7 2.8 3-4.3 5.5-3-2.2-0.5-3.3-1.7-4.5-5.5-7.5zM785.1 305.6l1.3 1.5 1.7-0.7 1.3 0 1.2 0.7 0.5 1.5-2.2 6-0.5-0.2-4.8-6.5zM777.6 301.9l0.5-0.8 1.3-0.7 1.5 0.5 2.5-0.3 0.7 0.5-3.7 3zM762.1 291.1l0.3-0.2 3.2 0.2 3 1.5 4.8 1.3 1 1-3.8 2-3.7-3z"/><path fill="#ceff31" d="M728.4 344.1l-6 5-2.8 5.3-2 5.2-1 6.3 0 3 0.3 0.2 0.2 7.8 1.5 6.2 3 5 1.5 3.5 7.3 7.3 4.2 2 5 1.2 2.8 0.3 4.2-0.5 4.8-4 1.7-3 2.8-6.5 0.7-6.8 0-8.2-0.5-1.8-0.2-4.5-2.8-5-0.2-2.5-1.5-2.5-0.3-1.2-2.2-2.3-1-2.7-1.5-1.5-3.3-1.8-1-1.2-5-2.3-3.7-0.5zM776.9 221.9l-9.5 1.2-8.5 2.5-3.3 1.3-8.2 4.2-7.5 5.8-3.3 3-5 5.5-5 7.5-4 8.5-1.5 4-2.7 10.7-0.5 5.8-0.5 2 0 13.2 0.2 1-4.7 7-3.3 6-2.5 7-1 5.5-1.7 5-1.8 6.8-2.2 11.5-1.8 13.5-0.2 15.2 0.5 2 0.5 5.5 1 4.3 0.7 7.7 2.3 7.5 2 3.3 1.7 6.7 1.5 2.3 3.8 9.5 5.5 10.2 1.5 2 4.2 7.5 6.8 9 4.2 4.3 3 3.7 9 8 8 5.8 11.3 6.2 16.2 5.5 6.3 1 12.5 0.5 9.2-1.2 7-2 4.3-1.5 8.7-4.5 7-5.3 5-4.7 3.3-3.5 5.5-8 4-8.5 1.5-4 2.7-10.3 0.3-3.7 0.7-4 0-4.8 0.3-0.2-0.3-10.3 4.8-7 0.5-1.7 2.5-3.8 2.7-7.7 1-5.5 2-5.8 1.8-7.2 2-10.8 1.5-11.5 0.2-7.7 0.3-0.3-0.3-9-2.5-18-2.2-8-4-10.5-2.3-4-2.5-6.5-5.7-11-5.5-9.2-6.8-9-6.5-7.3-9.5-8.7-7.5-5.5-12.2-7-7.3-2.3-6.2-2.5-4-1-5-0.7zM848.9 387.6l0.5 0.5-0.3 2.8-3.2 5-3 3-2.3 1.7-1.5 0.3-1-0.8-1 0.3-0.5-1-1.2-0.8 2.5-4.7 1-1 8.7-5.8zM861.6 383.4l0.3 0.7-1.5 3.5-0.3-0.7 1-3zM804.6 326.9l3.5 2 1.3 3.7 0.2 3 1.5 3.5 0 1.3-0.7 2 2 0.5 1.5 1.5 0.7 2 2.3 2.5 1 4 1.2 1.5 0.8 5.2 0.7 2 0 1.8 0.8 4 0.5 9.2 1 3.3 0.5 4.2 0.5 1.5 0.2 7.8-0.5 1.5-0.2 3.5-2.8 6-1 1.2-1.2 4-1.5 1.8-1.5 3-4.5 4.7-3.3 4.3-3.5 2.5-1.7 1.7-7.3 4-4.7 1.8-0.3-0.3 4.5-5.7 6.8-14 0.7-4.5 1.3-3.8 0.5-4.2 1-2.8 0.2-3 1.3-4.5 0.2-3 1.3-5.5 1-9.2-0.5-11-1.8-6 0-1.8-2-3.5-0.2-3.2-1.5-1.3-0.8-6.2-1.7-6.3 3.5-6.2zM726.6 322.6l1.8-0.2 2-1 1.5 0 2.2-0.8 1 0.3 3.8-0.3 2 0.8 1.7 0 1.5 0.7 2.3 0.5 5.7 2.5 1.5 1.5 1.5 0.5 3.8 4.5 1.7 0.8 1 1.2 2.8 1.5 1.7 4.3 3.5 2.5 1 3.7 0.8 0.5 0.2 1 3 2.5 1.3 5.8 2.7 3.5 0.5 2.7 1.5 2.3 0.5 4.5 0.5 1 0.3 4 1.7 8.5 0 5.2-0.2 0.3 0.2 1.7-1.2 4.8-1 6-0.5 1.5-2 3-0.5 1.7-2.3 2.5-1.2 2-4.3 3.8-4.5 2.7-2.5 0.5-2 1-1.2 0-2.3 0.8-4.7 0.2-2.5-0.7-1.8 0-3.2-1-6-2.8-6.8-5-5.7-5.7-5-6.8-2.3-3.7-4-8.3-2.5-7.2-1.7-7-1-6.3-0.3-7.5-0.2-0.2 0.5-8.5 2-9.3 2.7-6.5 3-4.2 3.3-3.3zM792.9 310.1l2.7 1 1 3-2.5 6 3.8-3.7 2 0.7 1.5 3 0 3.5 2.7 3-0.7 1.5-3.5 4.5-3.3-2.2-0.5-3.3-1.7-4.5-5.5-7.5 0.7-1.5zM785.1 304.9l1.3 1.5 1.7-0.5 1.5 0 1 0.5 0.5 2.2-2.2 6-0.5-0.2-5-6.8zM777.1 301.4l2.5-1.8 1.3 0.8 1.7-0.5 1 0.2 0.8 0.8-4 3.2zM761.1 290.6l1.3-0.5 2.7 0.3 3 1.5 5.3 1.5 0.5 0.7 1.2 0.5-4.5 2.3-5.2-4z"/><path fill="#d3ff2c" d="M729.4 344.4l-1.8 0.7-5 3.8-3 5.5-2 5.2-1 6.3 0 3 0.3 0.2 0.2 7.8 1.5 6.2 3 5 1.5 3.5 7.3 7.3 4.2 2 5.3 1.2 5-0.2 5.7-4 4.8-11.3 0.2-5.5 0.3-0.2 0-6.5-0.3-0.3 0-3-1.2-3.5 0-1.5-2-3-0.5-3.7-1-1.5 0-0.8-3-3-1-3-1-1.2-2.5-1.3-2-1.7-4.5-2-2.5-0.5zM776.9 221.9l-9.5 1.2-8.5 2.5-3.3 1.3-8.2 4.2-7.5 5.8-3.3 3-5 5.5-5 7.5-4 8.5-1.5 4-2.7 10.7-0.5 5.8-0.5 2 0 13.2 0.2 1-4.7 7-3.3 6-2.5 7-1 5.5-1.7 5-1.8 6.8-2.2 11.5-1.8 13.5-0.2 15.2 0.5 2 0.5 5.5 1 4.3 0.7 7.7 2.3 7.5 2 3.3 1.7 6.7 1.5 2.3 3.8 9.5 5.5 10.2 1.5 2 4.2 7.5 6.8 9 4.2 4.3 3 3.7 9 8 8 5.8 11.3 6.2 16.2 5.5 6.3 1 12.5 0.5 9.2-1.2 7-2 4.3-1.5 8.7-4.5 7-5.3 5-4.7 3.3-3.5 5.5-8 4-8.5 1.5-4 2.7-10.3 0.3-3.7 0.7-4 0-4.8 0.3-0.2-0.3-10.3 4.8-7 0.5-1.7 2.5-3.8 2.7-7.7 1-5.5 2-5.8 1.8-7.2 2-10.8 1.5-11.5 0.2-7.7 0.3-0.3-0.3-9-2.5-18-2.2-8-4-10.5-2.3-4-2.5-6.5-5.7-11-5.5-9.2-6.8-9-6.5-7.3-9.5-8.7-7.5-5.5-12.2-7-7.3-2.3-6.2-2.5-4-1-5-0.7zM850.1 387.9l0 2-0.7 2-4 5.7-4.8 3.8-1.2 0.2-1-0.7-1 0-0.8-1-1.5-0.8 2-4 1.8-2.2 9.2-6zM862.6 382.4l0.3 0.7-1.3 3.8-2.2 4.7-0.3-1.7 2-6zM725.9 322.1l7.7-2 1.8 0.3 3.2-0.3 7.3 2 5.2 2.3 2.3 1.7 1.5 0.5 1.7 2.3 1.8 1.5 0.5 1 1.2 0.5 1.5 1.5 2.8 1.5 1 3 1 1 0 0.5 3.2 2.2 0.8 3 1.2 1.3 0.3 1.2 2.7 2.3 1.3 5.7 3 3.5 0.5 3 1.5 3 0.5 4.3 0.5 1.5 0 2 1 2.7 1.2 7.3 0 2.5-0.2 0.2 0.2 4.3-1.2 4.7 0 1.3-0.8 1.5-0.7 4.5-1.5 2-1.3 3.5-5.5 6.2-2.5 2-4.5 2.8-8.2 2.2-2.5-0.2-3 0.2-1.5-0.5-1.8 0-4-1.2-6.2-3-6-4.5-6-6-5-6.8-2.5-4.2-3.8-7.8-3.2-9.7 0-1-1.3-4.3-1-6.7-0.2-12 0.7-6.5 2-8 2.8-5.8 3.5-4.7 2.7-2.5zM785.1 304.4l0.8 0.5 0.5 1 2.5-0.8 1.5 0.5 1 2.3-2.3 6 3.8-4.3 2.5 0.8 1.2 3 0 1-2.2 5 3.5-3.5 2 0.7 0.7 0.8 1 2.5 0 3.5 2.8 3 3.5 1.7 0.7 1 1 3.3 0.3 3 1.7 4.2-0.7 2.3 1.7 0.5 2 2.2 0.3 1.5 2.5 2.8 0.7 4 1.3 1.2 0.7 5.3 0.8 1.7 1.2 11 0 3.3 1.3 4.2 1 5.5 0.2 6 0.3 0.3 0 1.7-0.8 3.3 0 2.2-2.7 6-1.8 2.5-1 3-1.2 1.5-1.8 3.5-4.2 4.3-3 4-6 5-5.8 3.2-6.7 2.8-0.5-0.3 5.2-6.7 7-14.8 0.3-2.5 1.5-5.2 0.2-3 1-3 0.3-3.3 1.2-4.5 0.3-3.2 1-4 1-7.8 0.2-9-0.7-6.5-1.5-4.7 0-1.8-2-3.7-0.3-3.3-1.2-1-0.8-6.2-1.7-6.3 3.2-5.7-3.5 4.7-0.5 0-3-2.2-0.5-3.3-1.7-4.5-10.3-14.2-1.2-1zM776.9 301.1l0.2-0.5 2.3-1.5 1.2 0.5 2-0.2 1.3 0.2 0.5 0.5 0 0.8-4 3.2zM759.4 289.9l0.2-0.3 5.5 0.3 3.8 1.7 4 1 1 1 1 0.3 0.2 0.7-4.5 2.3-5.2-4z"/><path fill="#d8ff27" d="M729.6 344.9l-3 1.5-4 3-1.2 1.7-3 6.5-1 3.3-0.3 3.2-0.5 1.8 0.5 11 1.5 6.2 3 5 1.5 3.5 7.3 7.3 6 2.5 4 0.7 2.7-0.2 2-1 4-3 2-3.5 2.5-6.3 1.5-8-0.2-0.2 0-6.3-1.5-4.5-0.3-3-1.5-2.2-1.2-6-3.3-3-1.2-3.5-1.3-1.5-3-1.5-0.5-0.8-4.5-2-3.5-0.7zM776.9 221.9l-9.5 1.2-8.5 2.5-3.3 1.3-8.2 4.2-7.5 5.8-3.3 3-5 5.5-5 7.5-4 8.5-1.5 4-2.7 10.7-0.5 5.8-0.5 2 0 13.2 0.2 1-4.7 7-3.3 6-2.5 7-1 5.5-1.7 5-1.8 6.8-2.2 11.5-1.8 13.5-0.2 15.2 0.5 2 0.5 5.5 1 4.3 0.7 7.7 2.3 7.5 2 3.3 1.7 6.7 1.5 2.3 3.8 9.5 5.5 10.2 1.5 2 4.2 7.5 6.8 9 4.2 4.3 3 3.7 9 8 8 5.8 11.3 6.2 16.2 5.5 6.3 1 12.5 0.5 9.2-1.2 7-2 4.3-1.5 8.7-4.5 7-5.3 5-4.7 3.3-3.5 5.5-8 4-8.5 1.5-4 2.7-10.3 0.3-3.7 0.7-4 0-4.8 0.3-0.2-0.3-10.3 4.8-7 0.5-1.7 2.5-3.8 2.7-7.7 1-5.5 2-5.8 1.8-7.2 2-10.8 1.5-11.5 0.2-7.7 0.3-0.3-0.3-9-2.5-18-2.2-8-4-10.5-2.3-4-2.5-6.5-5.7-11-5.5-9.2-6.8-9-6.5-7.3-9.5-8.7-7.5-5.5-12.2-7-7.3-2.3-6.2-2.5-4-1-5-0.7zM850.9 387.9l-0.3 3.2-4 6.3-4 3.5-3 1.5-4.5-2.5 0-1 2-3.8 1.8-2.2 9.7-6.3zM863.9 381.1l0.2 0.5-1.7 5.3-3.3 6.7-0.2-0.2 0.2-3.5 2-6zM725.9 321.4l3-0.5 5-1.5 1.5 0.5 3-0.3 2 0.8 1.5 0 5.5 2 4.5 2 1.2 1.2 2 0.8 4.3 5 5 3.2 1 3 1 0.8 1 1.5 2.2 1.5 0.8 3 1.5 1.2 0.2 1.3 2.8 2.7 1 5 3.2 4 0.5 3 1.3 2 0.5 4.5 0.5 1.3 0 2 1.5 4 1 5.5 0.2 8.7-1.2 4.8 0 1.7-1.3 2.5-0.5 3-3.2 6.5-2.3 2.3-1.5 2.2-4 3.3-4.5 2.7-8.5 2.3-2.2-0.3-3 0.3-7.3-1.8-6.7-3.2-6-4.5-5.8-5.8-2-2.5-4.7-7-5-10-3.5-11 0-1-1-3.2-1-7-0.3-10.3 1-9 1.8-6.7 3.2-6.8 2.5-3.5 3.8-3.5zM785.1 303.6l1.5 1.8 2.3-0.8 1.5 0.5 0.7 1.3 0.3 1.5-2 5.2 3.5-4 2 0.5 1 0.8 1 3.5-2.3 5 3.3-3.3 2.5 0.8 1.5 3.5 0 3 3.2 3.5 3.5 1.7 1.3 4 0.2 3 1.8 4.3-0.8 2.2 1.8 0.3 2 2.5 0.5 1.7 2.2 2.5 0.8 3.8 1.5 2.5 0.5 4 0.7 1.7 0.3 3.8 0.5 2 0.5 7.7 1.7 6.3 0.5 4.2 0.5 1.5 0 4 0.5 2.3-0.7 3.5 0 3-2.3 4.5-0.2 1.2-2.5 3.3-0.8 2.5-3.7 6-4.3 4.2-3.5 4.5-3.7 2.5-1.3 1.3-7.7 4.2-5.3 2-0.7-0.2 5.7-7.5 7-14.8 0.5-3.7 1-3 0.5-4.5 0.8-1.8 0.5-4.7 0.7-2.3 0.5-4.5 1-4 0-2 1-6 0.3-8.5-0.8-7-1.2-4 0-2.2-2-3.5-0.3-3.5-1.2-1.3-0.8-6.2-1.7-6.8 2.5-4-2.8 3.8-3.7-2.8-0.5-3.7-1.5-3.8-1.5-1.5 0-0.7-8.8-12-1.5-1.3zM776.4 300.6l3-2 1.2 0.5 1.3-0.2 2 0.2 0.7 1.3-0.7 1-3.5 2.7zM758.1 289.4l2-0.5 0.5 0.2 2.3-0.2 1 0.5 1.2 0 3.3 1.5 5 1.5 0.2 0.5 1.5 0.7 0.3 1-4.8 2.3-5.2-4z"/><path fill="#ddff22" d="M730.4 345.4l-4.3 2-2.5 1.7-2.5 2.8-1.7 3.2-2 6.3-0.8 5 0.5 10.5 1.5 6.2 3 5 1.5 3.5 7.3 7.3 5 2.2 4 0.8 1.7 0 3.5-1.8 2.8-2 2.7-4 1.8-4.5 1.7-9-0.2-7.2-1.3-3.8-0.2-3.5-1.3-2-0.7-5-3.8-3.7-1-3-1.7-1.5-1-1.5-3-1.8-3.8-1.5zM776.9 221.9l-9.5 1.2-8.5 2.5-3.3 1.3-8.2 4.2-7.5 5.8-3.3 3-5 5.5-5 7.5-4 8.5-1.5 4-2.7 10.7-0.5 5.8-0.5 2 0 13.2 0.2 1-4.7 7-3.3 6-2.5 7-1 5.5-1.7 5-1.8 6.8-2.2 11.5-1.8 13.5-0.2 15.2 0.5 2 0.5 5.5 1 4.3 0.7 7.7 2.3 7.5 2 3.3 1.7 6.7 1.5 2.3 3.8 9.5 5.5 10.2 1.5 2 4.2 7.5 6.8 9 4.2 4.3 3 3.7 9 8 8 5.8 11.3 6.2 16.2 5.5 6.3 1 12.5 0.5 9.2-1.2 7-2 4.3-1.5 8.7-4.5 7-5.3 5-4.7 3.3-3.5 5.5-8 4-8.5 1.5-4 2.7-10.3 0.3-3.7 0.7-4 0-4.8 0.3-0.2-0.3-10.3 4.8-7 0.5-1.7 2.5-3.8 2.7-7.7 1-5.5 2-5.8 1.8-7.2 2-10.8 1.5-11.5 0.2-7.7 0.3-0.3-0.3-9-2.5-18-2.2-8-4-10.5-2.3-4-2.5-6.5-5.7-11-5.5-9.2-6.8-9-6.5-7.3-9.5-8.7-7.5-5.5-12.2-7-7.3-2.3-6.2-2.5-4-1-5-0.7zM851.6 387.6l-0.2 3.8-5 7.5-4.5 3.5-1.3 0.5-1.2 0-4.3-2.5 0-1.5 2.8-5 1-1 9.7-6.3 0.8-0.2zM864.9 379.6l0.2 1-1.7 5.5-2 4.8-2.3 4-0.2-0.3 0.2-4.7 2-6 2.8-2.8zM725.4 320.9l8-2 2.2 0.5 2.5-0.3 2 0.8 1.3 0 6.2 2.2 4.3 2 1 1 2 0.8 1.5 2 2 1.5 1.2 2 4.8 2.7 1 3 1.2 1 0.8 1.5 2.2 1.5 0.8 2.8 1.5 1.2 0.5 1.8 2.5 2.5 0.7 4 0.8 1.5 2.5 2.7 0.5 1 0.5 3 1.2 2.5 0.8 6.3 1.7 4.2 1.3 6.8 0 8 0.2 0.5-1 3.7-0.2 3-1.8 3.8-0.2 1.7-0.8 1-1.7 4.8-4.8 5.5-4 3.2-5.2 3-8 2-2-0.2-3 0.2-7.3-1.7-6.5-3-6.5-4.8-6-6-5.5-7.5-2.2-3.7-4-8.3-3-8.7-1.8-7.5-0.7-5.3-0.5-10.2 0.2-0.3 0-5 0.5-1.7 0.5-4.8 1.5-5.2 3.3-7 2.5-3.5 5-4.5zM785.1 302.9l1.5 2 2.3-0.8 1.5 0.5 0.7 1 0.5 1.5-2 5.3 3.3-3.5 2.7 0.5 1.5 4-2 4.5 2.8-2.8 2.5 0.8 0.7 1 1 2.7-0.2 2.8 3.5 3.7 2.7 1.3 0.8 0.7 1.2 4 0 2 2 5-0.5 2 1.3 0.3 2.2 2.5 0.8 2.2 2 2.3 1 4.2 1.2 2 0.3 2.5 1.2 5 1 11 2.3 8.3 1.2 10 0 2.5-0.5 1.7 0 3.5-1.7 3.3-1 3-2.8 3.5-0.7 2.2-0.8 0.8-2.2 4.2-5.5 5.8-2 2.7-1.3 1.3-4 2.7-0.5 0.8-6.7 3.7-3.3 1.5-4.5 1.5-0.7-0.2 6.7-8.5 3.8-7.5 0.5-2 2.7-5.3 0-1.2 1.3-4.5 0.5-4.5 0.7-2.3 0.5-4.7 0.8-2 0.2-3.5 1.3-5.8 0-2 1-6.2 0.2-8-0.7-5 0.2-1.5-1.5-4.8 0-2.5-1.7-3-0.3-3.7-1.2-1.3-0.8-6.2-1.7-6.3 1.5-3-1.8 2.3-3.7-2.5-0.5-3.8-1.5-4-1.5-1.5-0.5-1.5-3.5-4.7-0.8-0.5 0-0.5-4-5.5-1.7-1.5zM784.1 298.6l0.5 2-4.2 3.5-4.3-3.7 0.3-0.5 3-2 1.5 0.7 0.7-0.2zM756.6 288.9l2.3-0.5 5.7 0.2 4.5 2 4 1 0.5 0.8 1 0.2 0.8 1.5 0.5 0.3-5.3 2.5-5.2-4-4.8-2.5z"/><path fill="#e2ff1d" d="M730.1 346.4l-5 2.2-1.7 1.3-4 5.2-2 6.5-0.8 5.8 0.5 9.5 1.5 6.2 2.5 4 2 4.5 7.3 7.3 4.2 2 2.3 0.5 3 0 5.7-3 3.5-4.5 0.8-1.8 1.5-6.2 0.7-5.3-0.2-7.5-1-2.7-0.3-4.5-1-1.8-0.2-2.5-1.3-1.7-0.5-1.8-2.5-2.5-0.5-1.7-2.2-1.8-2.3-3.2-5.2-2.3zM776.9 221.9l-9.5 1.2-8.5 2.5-3.3 1.3-8.2 4.2-7.5 5.8-3.3 3-5 5.5-5 7.5-4 8.5-1.5 4-2.7 10.7-0.5 5.8-0.5 2 0 13.2 0.2 1-4.7 7-3.3 6-2.5 7-1 5.5-1.7 5-1.8 6.8-2.2 11.5-1.8 13.5-0.2 15.2 0.5 2 0.5 5.5 1 4.3 0.7 7.7 2.3 7.5 2 3.3 1.7 6.7 1.5 2.3 3.8 9.5 5.5 10.2 1.5 2 4.2 7.5 6.8 9 4.2 4.3 3 3.7 9 8 8 5.8 11.3 6.2 16.2 5.5 6.3 1 12.5 0.5 9.2-1.2 7-2 4.3-1.5 8.7-4.5 7-5.3 5-4.7 3.3-3.5 5.5-8 4-8.5 1.5-4 2.7-10.3 0.3-3.7 0.7-4 0-4.8 0.3-0.2-0.3-10.3 4.8-7 0.5-1.7 2.5-3.8 2.7-7.7 1-5.5 2-5.8 1.8-7.2 2-10.8 1.5-11.5 0.2-7.7 0.3-0.3-0.3-9-2.5-18-2.2-8-4-10.5-2.3-4-2.5-6.5-5.7-11-5.5-9.2-6.8-9-6.5-7.3-9.5-8.7-7.5-5.5-12.2-7-7.3-2.3-6.2-2.5-4-1-5-0.7zM852.4 387.6l-0.3 4-4.5 7-5.2 4.3-1.8 0.7-1 0-1.7-1.2-2.8-1.3 0-2.2 2.8-5 1-1 9.7-6.3 1.5-0.2zM865.9 378.4l0.2 1-2.5 8-2.7 6-1.8 2.7-0.2-0.2 0.2-6 2-6 2.8-2.8zM725.1 320.1l2-0.2 2-0.8 0.5 0.3 3-1 1.5 0 1.5 0.5 2.3-0.3 9.2 3 7.5 3.8 2.3 2.5 1.5 1 1.2 2.2 4.8 2.8 0.7 2.5 1.5 1.2 0.5 1.5 2.5 1.8 0.5 2.2 2 1.8 0.5 2 2.3 2 0.7 4 1 1.7 2.8 3.3 0.7 4 1 1.5 0.8 5.7 2.2 5.5 1 5.5 0.3 11-0.8 2.8 0 2.5-2.2 5-2.3 6.2-1.2 1.8-4 4.5-4.3 3.5-5.2 3-8.3 2-1.7-0.3-2.8 0.3-5-1-3.7-1.3-6.3-3-6-4.5-6-6-5.5-7.5-2.5-4.2-3.7-7.8-3.3-9.5-1.5-6.2-1-7-0.2-13.8 1-7.5 1.7-6 2-4.7 3.5-5.3 4.5-4.2zM785.1 302.1l1.8 2.3 1.7-0.8 2.3 0.8 0.7 2.7-1.7 4.5 3-3.2 1 0 2 0.7 1.2 4.3-1.7 3.7 2.5-2.5 2.5 0.8 0.7 0.7 1 2.8 0 3 3.3 3.7 3 1.5 0.7 0.8 1.3 4 0 2 2 5-0.5 1.7 1.2 0.3 2.5 3 0.5 2 2.3 2.7 0.7 3.8 1.3 1.7 0.5 4 1 3.5 0.2 3.8 0.5 2 0.3 5.2 0.5 0.8 1.7 6.5 1.3 6.7 0 3.5 0.5 2.3-0.8 7.5-1.2 2.2-1.3 3.5-3.2 4.3-0.5 1.5-1 1.2-2 4-4.5 4.5-4 5-5 3.8-6 3.5-4.5 2-4.8 1.5-1-0.3 2-2 5.5-7.2 7-15 1.3-6 0.5-4.5 0.5-1 0.5-5 0.7-2 0.5-5.3 0.8-2.5 0-2 1.2-8.7 0.3-7-0.5-2.8 0-4.2-1.3-3.8-0.2-3.5-1.5-2.7-0.3-3.8-1.2-1.5-0.8-6.2-1.7-6.3 0.2-1-0.2 0.3-0.8-0.3-3.2-2.2-0.5-3.8-1.5-4-0.5-0.7-1.3-0.8-0.2-1.5-3.5-4.7-1-0.8-0.3-1-3.5-4.7-2.2-1.8zM775.9 298.1l0.2 0.3-0.2 1.2 3.5-2.2 1.5 0.7 2.5-0.2 1 0.5 0.5 2-4.8 3.7-5.2-4.7zM750.6 287.9l3.3-0.8 0.7 0.8 1 0.2 4.3-0.5 0.5 0.3 2.2-0.3 0.8 0.5 1.5 0 3 1.5 5.2 1.5 0.5 0.8 0.8 0 1.7 2.2-5.5 2.8-5.2-4-4.8-2.5-4.7-1.8z"/><path fill="#e7ff18" d="M729.4 347.9l-5.3 2-3.5 4-1.5 2.2-1.7 6-0.8 6 0.5 8.8 1.5 6.2 2.8 4.3 1.7 4.2 3.5 3 3.3 3.5 4.5 2.5 5-0.2 3-1 1.7-1 4.3-5.8 1.5-6.2 0.7-6-0.2-0.5 0-7-0.8-2.3-0.2-4.7-0.5-0.5-0.5-2.3-1.8-2.2-0.7-3-1.5-1.5-0.5-1.3-3.3-2.7-1.5-2.3-4.7-2.5zM776.9 221.9l-9.5 1.2-8.5 2.5-3.3 1.3-8.2 4.2-7.5 5.8-3.3 3-5 5.5-5 7.5-4 8.5-1.5 4-2.7 10.7-0.5 5.8-0.5 2 0 13.2 0.2 1-4.7 7-3.3 6-2.5 7-1 5.5-1.7 5-1.8 6.8-2.2 11.5-1.8 13.5-0.2 15.2 0.5 2 0.5 5.5 1 4.3 0.7 7.7 2.3 7.5 2 3.3 1.7 6.7 1.5 2.3 3.8 9.5 5.5 10.2 1.5 2 4.2 7.5 6.8 9 4.2 4.3 3 3.7 9 8 8 5.8 11.3 6.2 16.2 5.5 6.3 1 12.5 0.5 9.2-1.2 7-2 4.3-1.5 8.7-4.5 7-5.3 5-4.7 3.3-3.5 5.5-8 4-8.5 1.5-4 2.7-10.3 0.3-3.7 0.7-4 0-4.8 0.3-0.2-0.3-10.3 4.8-7 0.5-1.7 2.5-3.8 2.7-7.7 1-5.5 2-5.8 1.8-7.2 2-10.8 1.5-11.5 0.2-7.7 0.3-0.3-0.3-9-2.5-18-2.2-8-4-10.5-2.3-4-2.5-6.5-5.7-11-5.5-9.2-6.8-9-6.5-7.3-9.5-8.7-7.5-5.5-12.2-7-7.3-2.3-6.2-2.5-4-1-5-0.7zM853.1 387.4l-0.2 4.2-3 4.5-1.3 2.5-1.5 1.5-5 3.8-1.7 0.5-5.3-2.5 0-3 2.8-5 1-1 8.2-5.5 2.8-1.3 1 0zM866.9 377.1l0.2 1-2.5 8.5-2.7 6.3-2.8 4.5-0.2-0.3 0.2-7.2 2-6 2.8-2.8zM724.6 319.6l2.8-0.5 1-0.5 1.5 0 3.2-1 1.5 0.5 3 0 1.8 0.8 1.2 0 6.8 2.5 7.5 3.7 1.5 2 1.2 0.5 0.8 0.8 1 2 1 1 4 2.2 0.7 2.5 1.8 1.3 0.7 2 2 1.2 0.5 2.3 2.3 1.7 0.7 2.5 1.8 1.5 0.7 3.8 1 1 0.5 1.5 2.5 3 0.8 4 1 2 0.5 4.2 0.5 0.5 2 5.3 1.2 6.5 0.3 11-0.8 3 0 2.7-1.5 3-0.7 2.5-1 1.5-1.8 4.8-5.2 5.7-5 4-4.5 2.5-8.5 2-5.5-0.2-7.5-2-6.8-3.3-6-4.5-6-6-5.5-7.5-2.5-4.2-3.7-7.8-3.3-9.2-1.7-7.5-1-7.3-0.3-11.5 1-8.7 1.8-6.5 2-4.8 3.5-5.2 5-4.8zM785.1 301.6l1.8 2 2.2-0.5 1.8 0.8 1 2.5-1.8 4.5 2.8-3 2.5 0.5 0.7 0.7 1.3 3.5-1.8 4 2.5-2.5 2.8 1 1.5 3.5 0 3 3.7 4 2.8 1.3 0.5 0.7 1.2 4 0 2 2 5-0.2 1.5 0.7 0.3 2.8 3 0.7 2.5 2 2.2 1 4.5 1 1.3 0.8 5.2 0.5 1 0.5 3 0.7 8.5 0.8 1.5 2 7.5 0.2 2.8 0.8 2.7 0.2 5 0.5 2-0.5 2-0.2 4.8-2.8 6.5-4 5.2-2.7 5.3-6 6.2-1.8 2.5-1.5 1.5-4.7 3.5-2.5 1.3-2 1.5-6 2.7-5.3 1.5-1.2-0.2 2.7-2.8 5.5-7.2 3-6 0.5-2.3 2.5-4.5 0-0.7 1.3-3 1-5 0.2-3.3 0.8-2.5 0.2-3.7 0.8-2 0.2-4 1-4.3 0-2 1-6.2 0.3-8.8 0.2-0.2-0.5-2.8 0-4.7-1.2-3.8 0-3.2-1.5-2.5-0.5-4.8-1-1-0.8-6.2-1.7-6.8-4-2.7-0.5-3.8-1.5-4-2-1.7-0.3-1.5-3.2-4.5-1.3-0.8 0-1-3.5-4.7-2.5-1.8zM774.4 298.9l1.7-2 0.3 0.2-0.3 1.8 3-2 1.5 0.5 2.8 0 1 0.5 0.5 2.5-4.8 3.7zM746.9 287.6l2.5-0.5 0.5 0.3 3.2-1 0.8 0.2 0.5 0.8 8.2-0.3 0.8 0.5 1.5 0 3.2 1.5 4.5 1.3 1.3 1 0.7 0 0.5 1.2 1 0.8 0.3 0.7-5.8 2.8-5.2-4-6.5-3.3-5-1.5-6.8-0.2z"/><path fill="#ecff13" d="M728.6 349.4l-4.5 1.5-3.7 4.7-2 3.8-1 3-0.5 4.5 0.2 10 1.5 6.2 2.8 4 1.7 4.5 6 5.5 4.5 2.3 5 0 3.8-1.3 0.7-0.7 2.8-4.3 2-4.2 1.2-8.5-0.2-0.3 0-7.5-0.5-2-0.3-4.7-2.7-3.8-1-4-1.3-2-2.7-1.7-2.3-2.8-4.5-2.2zM776.9 221.9l-9.5 1.2-8.5 2.5-3.3 1.3-8.2 4.2-7.5 5.8-3.3 3-5 5.5-5 7.5-4 8.5-1.5 4-2.7 10.7-0.5 5.8-0.5 2 0 13.2 0.2 1-4.7 7-3.3 6-2.5 7-1 5.5-1.7 5-1.8 6.8-2.2 11.5-1.8 13.5-0.2 15.2 0.5 2 0.5 5.5 1 4.3 0.7 7.7 2.3 7.5 2 3.3 1.7 6.7 1.5 2.3 3.8 9.5 5.5 10.2 1.5 2 4.2 7.5 6.8 9 4.2 4.3 3 3.7 9 8 8 5.8 11.3 6.2 16.2 5.5 6.3 1 12.5 0.5 9.2-1.2 7-2 4.3-1.5 8.7-4.5 7-5.3 5-4.7 3.3-3.5 5.5-8 4-8.5 1.5-4 2.7-10.3 0.3-3.7 0.7-4 0-4.8 0.3-0.2-0.3-10.3 4.8-7 0.5-1.7 2.5-3.8 2.7-7.7 1-5.5 2-5.8 1.8-7.2 2-10.8 1.5-11.5 0.2-7.7 0.3-0.3-0.3-9-2.5-18-2.2-8-4-10.5-2.3-4-2.5-6.5-5.7-11-5.5-9.2-6.8-9-6.5-7.3-9.5-8.7-7.5-5.5-12.2-7-7.3-2.3-6.2-2.5-4-1-5-0.7zM853.9 387.4l-0.3 4.5-2.5 3.7-1.7 3.5-1.5 1.5-1.5 0.8-3.3 2.7-2.7 1-2-1.2-0.8 0.2-0.5-0.7-2-1 0-3.5 2.8-5 1-1 8.2-5.5 3.3-1.5 0.7 0.2 0.5-0.2zM867.9 375.9l0.2 1-2.7 9.7-2.8 6.3-3.5 5.7-0.2-0.2 0.2-8.5 2-6 2.8-2.8zM724.6 318.9l1.8-0.3 1.7-0.7 2.3 0 2-0.8 2.2 0.5 2.5 0 9.3 3 8.2 4 1.8 2 2 1.3 2 3.2 2.2 1 1.8 1.3 0.7 2.2 1.8 1.3 0.7 2 2 1.5 0.5 2 2.3 1.7 1 3 1.5 1.3 0.7 3.5 1.5 1.5 0.3 1.2 2.5 3.3 0.7 4 0.8 1.2 0.5 3.8 1 1.5 0.2 1.5 1.8 4 1.5 9.2 0 8.5-0.5 1.5-0.3 4.5-2 4.3 0 1.2-1.2 1.8-1.8 4.2-5.5 6-4.2 3.5-5.5 3.3-2.5 0.5-1.8 0.7-2 0-2.2 0.8-5.3-0.3-7.7-2-6.5-3-6.5-4.7-6-6-5.8-7.8-2.5-4.2-4.5-9.5-3.7-12.3-1.8-11-0.2-9.5 0.2-0.2 0-4.8 0.5-1.7 0.5-4.8 1.8-6 2-4.7 2.5-3.8 6-6zM785.1 300.9l1.8 2.2 2.5-0.5 1.7 1 0.8 2.8-1.3 3.5 2.3-2.5 2.5 0.5 0.7 0.5 1.3 4.2-1.5 3.3 2.2-2.3 2.8 1 0.5 0.5 1.2 3.5 0 2.5 3.3 3.3 0.5 1 2.7 1.2 0.5 0.8 1.3 4 0 2 2.2 5.5-0.2 0.7 2.7 2.8 0.8 1.2 0.5 2 2 2.3 1 4.7 1 1 1 6.3 0.5 1 1 9.7 1 2.3 2 7.5 0.5 4 0.7 2.5 0 3.5 0.5 2-0.5 7.7-0.7 1.3-1.5 4.5-5.3 7-2.5 4.7-3.5 3.5-0.7 1.3-2.3 2-2.2 3-5.5 4-6 3.5-4.8 2-5.5 1.5-1.5-0.3 3.5-3.5 5.5-7.2 2.5-5 0.8-2.8 2.2-4.2 0.3-1.8 1.7-4 0.8-6 0.7-2.7 0.3-3.8 0.7-2.5 0.3-4 0.7-2.7 1-8 0.3-6.8 0.2-0.2 0-6.3-0.2-0.2 0-5-1.3-4.3 0-3-1.5-2.5-0.2-4.5-1-1-0.8-6.2-1.5-6-0.7-1.3-3.5-2.2-0.8-4.5-1.2-3.3-2-1.5-0.3-1.7-3.2-4.5-1.3-0.8-0.5-1.7-3-4-2.7-2zM773.6 298.6l2.8-3.2 0.2 0.2-0.2 2.5 3-2 1.2 0.8 1.5-0.3 1.5 0.3 0.8 0.5 0.7 2.7-5 4-4-3.7zM744.9 287.4l1-0.5 4.5-0.3 2.2-0.7 0.8 0 0.7 0.7 1 0.3 4.5-0.5 4.8 0.5 3.7 1.7 4.8 1.3 0.5 0.7 1.5 0.5 0.2 1 1 0.5 0.5 1.3-6 3-5.2-4-6.5-3.3-5-1.5-6.8-0.2z"/><path fill="#f1ff0e" d="M727.9 350.9l-2.3 0.7-3.5 3-1.7 2.5-2.3 4.8-1.2 5.7 0.2 9.3 2 5.2 0.3 1.8 1.5 2.2 2.2 5.3 3.3 2.7 1.5 1.8 5.7 2.5 4.3 0 1.5-0.5 3-2.8 1.5-2.2 2-4.3 1.5-6 0-6.5 0.2-0.2-0.2-4-1.5-4-0.3-2.5-2-3-0.7-3.5-0.8-1.5-2.7-2-1.8-2-2.7-1-2-1.3zM776.9 221.9l-9.5 1.2-8.5 2.5-3.3 1.3-8.2 4.2-7.5 5.8-3.3 3-5 5.5-5 7.5-4 8.5-1.5 4-2.7 10.7-0.5 5.8-0.5 2 0 13.2 0.2 1-4.7 7-3.3 6-2.5 7-1 5.5-1.7 5-1.8 6.8-2.2 11.5-1.8 13.5-0.2 15.2 0.5 2 0.5 5.5 1 4.3 0.7 7.7 2.3 7.5 2 3.3 1.7 6.7 1.5 2.3 3.8 9.5 5.5 10.2 1.5 2 4.2 7.5 6.8 9 4.2 4.3 3 3.7 9 8 8 5.8 11.3 6.2 16.2 5.5 6.3 1 12.5 0.5 9.2-1.2 7-2 4.3-1.5 8.7-4.5 7-5.3 5-4.7 3.3-3.5 5.5-8 4-8.5 1.5-4 2.7-10.3 0.3-3.7 0.7-4 0-4.8 0.3-0.2-0.3-10.3 4.8-7 0.5-1.7 2.5-3.8 2.7-7.7 1-5.5 2-5.8 1.8-7.2 2-10.8 1.5-11.5 0.2-7.7 0.3-0.3-0.3-9-2.5-18-2.2-8-4-10.5-2.3-4-2.5-6.5-5.7-11-5.5-9.2-6.8-9-6.5-7.3-9.5-8.7-7.5-5.5-12.2-7-7.3-2.3-6.2-2.5-4-1-5-0.7zM854.6 387.1l-0.2 5-1.3 1.8-2.5 5-2.5 2.5-1.5 0.7-3.7 3-2.5 0.8-1.8-1.3-1 0.3-1-1-1.5-0.8 0-4.2 3-5.5 9-6 3.3-1.5 2.2-0.3 0.8 1zM868.9 374.4l0.2 1-0.7 3.5-2.5 8.2-3 6.5-2.5 4.5-1.3 1.5-0.2-0.2 0.2-9.5 2-6 2.8-2.8zM724.6 318.1l1 0 2.5-1 1.5 0.3 2.3-0.8 5 0.5 10.2 3.5 7.8 3.8 1.2 1.7 2.3 1.3 1.7 3.2 3.5 1.8 0.8 0.7 0.5 1.8 2.2 1.7 0.8 2.3 1.7 1.2 0.3 1.5 2.7 2.3 0.8 2.7 1.7 2 0.5 2.5 1.8 1.8 0.5 2 2 2.2 1 5 0.7 1.5 0.3 2.3 1.5 2.2 0.2 1.8 1.5 3.2 1.3 6.5 0.5 4.3 0 8-0.5 1.5 0 4-1.5 3.2-0.5 2.8-2 3-1.3 3.2-5 5.8-5.2 4.2-1.5 0.5-4 2.5-2.5 0.5-1.8 0.8-2.2 0-2.3 0.7-5-0.2-3.7-0.8-4.8-1.5-6.7-3.2-6-4.5-6-6-5.8-7.8-3.7-6.5-3.3-7.2-2.7-8-1-4-1.8-10.5-0.5-9.5 0.3-0.3 0-5.5 1-7 1.7-6.2 2-4.8 3.5-5.2 5-4.8zM776.6 294.1l0.3 0.8-0.5 2.7 2.7-2 1.8 0.8 1-0.3 2 0.3 0.7 1 0.8 3 1.7 2.2 1.3-0.5 2.5 0.5 1.2 3.3-1.5 3.7 2.3-2.7 3 0.7 1.7 4.3-1.5 3.5 2-2.3 2.8 1 0.7 0.8 1.3 3.5 0 2.5 3.2 3 0.3 1 3.2 1.7 1.5 4.8 0 1.7 2.3 5.5-0.3 0.8 0.5 0 3 3.5 0.8 2.7 2 2.5 0.7 4 1.3 2.3 0.7 5.2 0.5 0.8 1 9.5 1.3 2.7 1.7 6.3 1.5 7.7 0 2.8 0.8 4-0.5 7-2.5 6.2-5.8 7.5-1.7 3.5-3.8 4-0.7 1.3-2.8 2.5-2.2 2.7-9.5 6.5-6.3 2.8-4.5 1.5-2 0.2-1.7-0.2 4.2-4.3 5.5-7.2 2.3-4.5 0.7-3 1.8-3 0.2-2 2-4.8 0-1 0.8-1.7 1.2-7.8 0-1.7 0.8-3 0.2-4 0.8-2.8 0.2-4.2 1-6.8 0-5 0.3-0.2-0.3-10.5-1-3 0-3.5-1.5-3-0.2-4.8-1-1-0.8-6.2-1.5-5.8-0.7-0.7 0-0.8-3.5-2.2-0.8-4.5-1.2-3.3-2.3-1.7-0.5-2.3-2.7-3.7-1.5-1-0.3-1.5-3-4-3-2.3 0-0.5 3.8-5.2-4.8 3.7-5.5-5-1.5-0.7zM743.6 287.1l2.5-1 1 0.3 1.8-0.5 0.7 0.2 2.3-0.7 1.5 0 0.7 0.7 8.3-0.2 0.7 0.5 1.3 0 3.2 1.5 5.3 1.5 0.5 0.7 0.7 0 0.8 0.5 0.2 1 1 0.5 0.8 1.8-6.3 3-5.2-4-6.5-3.3-5-1.5-9-0.5z"/><path fill="#f6ff09" d="M726.9 352.6l-5.5 4.5-2.8 7-1 5.5 0.3 7.3 1.5 4 0.7 4 1.8 3.5 2.2 2.5 1.3 2.2 1.7 1.8 3.3 1.2 1.5 1 5 0.3 4.7-4.5 1-2.5 2-7.5 0.3-10.3-1.3-3.2-0.2-4.3-1-1.2-0.5-2.3-2-2-1.3-3-2-1.7-4-1.5-0.5-0.5zM776.9 221.9l-9.5 1.2-8.5 2.5-3.3 1.3-8.2 4.2-7.5 5.8-3.3 3-5 5.5-5 7.5-4 8.5-1.5 4-2.7 10.7-0.5 5.8-0.5 2 0 13.2 0.2 1-4.7 7-3.3 6-2.5 7-1 5.5-1.7 5-1.8 6.8-2.2 11.5-1.8 13.5-0.2 15.2 0.5 2 0.5 5.5 1 4.3 0.7 7.7 2.3 7.5 2 3.3 1.7 6.7 1.5 2.3 3.8 9.5 5.5 10.2 1.5 2 4.2 7.5 6.8 9 4.2 4.3 3 3.7 9 8 8 5.8 11.3 6.2 16.2 5.5 6.3 1 12.5 0.5 9.2-1.2 7-2 4.3-1.5 8.7-4.5 7-5.3 5-4.7 3.3-3.5 5.5-8 4-8.5 1.5-4 2.7-10.3 0.3-3.7 0.7-4 0-4.8 0.3-0.2-0.3-10.3 4.8-7 0.5-1.7 2.5-3.8 2.7-7.7 1-5.5 2-5.8 1.8-7.2 2-10.8 1.5-11.5 0.2-7.7 0.3-0.3-0.3-9-2.5-18-2.2-8-4-10.5-2.3-4-2.5-6.5-5.7-11-5.5-9.2-6.8-9-6.5-7.3-9.5-8.7-7.5-5.5-12.2-7-7.3-2.3-6.2-2.5-4-1-5-0.7zM855.6 387.1l-0.2 0.3-0.3 5-3.7 7-3.3 3-1 0.2-3.7 3-2.3 0.8-0.7 0-1.5-1-1.5 0.2-0.8-1-1.2-0.7-0.3-5 3-5.5 9-6 4.5-2 0.8 0.2 1-0.5 1 1.5zM869.9 372.4l0.2 0.2-0.2 2.8-1.3 5.5-1.7 5.5-3.3 7.2-2.2 4-2 2.8-0.5-0.8 0.2-9.7 2-6 2.8-2.8 4-5.2zM723.9 317.6l1.7-0.2 2.5-1 2 0.2 1.3-0.5 2 0 1.5 0.5 1.7 0 10.8 3.8 7.2 3.5 1.5 1.7 2.3 1.3 2.2 3.7 3 1.5 0.8 0.8 0.2 1.2 2.5 1.8 1.3 3.2 0.7 0.3 0.5 0.5 0.3 1.2 3 2.5 0.7 2.8 1.5 1.7 0.5 2.5 1.8 1.5 0.7 2.5 2 2.3 1 5.2 0.5 0.8 0 1.2 2.3 4 0.2 1.8 1.5 3.2 1 5.3 0.8 6-0.3 1.2 0.3 6.5-0.5 3 0 2.8-1.3 2.7-0.5 3.3-2.7 4-0.8 2-2.5 2.7-1.7 2.8-7 5.5-1.8 0.5-3.5 2-4.7 1.5-2.8 0-1.2 0.5-3.8-0.5-0.7 0.2-8.8-2.2-5.5-2.5-4.7-3-2.8-2.3-6.2-6.2-5.3-7-4.2-7.3-3.8-8.5-3.2-10.5-2-12-0.3-13 1-8.2 2.3-8 2-4.5 3-4.5 5-4.8 3.2-1.5zM745.6 285.6l4.5-0.2 2.3-0.8 2.2 1 1.3-0.2 1 0.2 2.5-0.5 1 0.5 2-0.2 0.7 0.5 2 0.2 4 1.8 3.3 0.7 1.2 1 0.8 0 0.7 1.5 1 0.5 0.8 1.5-0.3 3.5 2.5-1.5 1.8 0.8 0.7-0.3 2.3 0.3 0.7 1 0.5 2.5 2 2.7 1-0.5 2.8 0.5 1.2 2.8 0 1-1.2 3 2.2-2.5 2.8 0.7 0.5 0.5 1.2 3.5 0 1-1.2 2.5 2-2 3 1.3 1.7 4.2-0.2 2 3.5 3.5 0.7 1.3 2.8 1.5 1.5 4.7 0 1.8 2.2 6 3.3 3.7 0.7 2.8 2 2.5 1 4.7 1 1.3 0.5 4 1 4 0.8 7 1.5 3.5 1.7 6.2 1.8 8.8 0 3 0.7 3.7-0.5 3.3 0 3.2-2.5 6.3-4.2 6-1.8 1.7-2 3.8-2.7 2.7-1.8 2.5-3.2 3-1.3 1.8-10.5 7.2-6 2.5-4 1.3-3 0.5-2-0.3 5-5 5.5-7.2 1.8-3.5 0.7-3 1.8-3.3 0.2-2.2 1.8-4.3 0-1.2 2-6 3.5-27 0-5 0.2-0.3-0.2-10.2-1-3 0-4-1.3-2.3-0.2-4.2-1.3-2.8-0.5-5.2-1.2-5-1.3-1.3 0-1-3.5-2.5-0.5-4-1.2-3.5-2.5-1.7-0.3-2.3-2.7-3.7-1.8-1-0.2-1.8-2.8-3.7-3.2-2.3 0-0.7 3-4-3.8 2.7-4-3.7-3.5-2.5 2.8-3.3-4.8 2.3-5.2-4-6.5-3.3-5-1.5-11.5-0.7-0.3-0.3 0.5-0.5z"/><path fill="#fbff04" d="M729.9 355.4l-4 1.2-1.8 1.3-1.2 1.2-2.8 4.3-1.2 6.5 0 6.2 0.2 0.3 0 2.5 0.5 0.7 0.5 3.3 1 3.2 3 3 2 3.3 5.3 3 4.2-1.3 2.5-2.2 2.5-4.3 0.5-1.5 0.8-5.5 0-8.7-0.5-1.5-0.5-5.5-3.5-3.8-1.5-3-1.3-0.5-3.2-2.2zM776.9 221.9l-9.5 1.2-8.5 2.5-3.3 1.3-8.2 4.2-7.5 5.8-3.3 3-5 5.5-5 7.5-4 8.5-1.5 4-2.7 10.7-0.5 5.8-0.5 2 0 13.2 0.2 1-4.7 7-3.3 6-2.5 7-1 5.5-1.7 5-1.8 6.8-2.2 11.5-1.8 13.5-0.2 15.2 0.5 2 0.5 5.5 1 4.3 0.7 7.7 2.3 7.5 2 3.3 1.7 6.7 1.5 2.3 3.8 9.5 5.5 10.2 1.5 2 4.2 7.5 6.8 9 4.2 4.3 3 3.7 9 8 8 5.8 11.3 6.2 16.2 5.5 6.3 1 12.5 0.5 9.2-1.2 7-2 4.3-1.5 8.7-4.5 7-5.3 5-4.7 3.3-3.5 5.5-8 4-8.5 1.5-4 2.7-10.3 0.3-3.7 0.7-4 0-4.8 0.3-0.2-0.3-10.3 4.8-7 0.5-1.7 2.5-3.8 2.7-7.7 1-5.5 2-5.8 1.8-7.2 2-10.8 1.5-11.5 0.2-7.7 0.3-0.3-0.3-9-2.5-18-2.2-8-4-10.5-2.3-4-2.5-6.5-5.7-11-5.5-9.2-6.8-9-6.5-7.3-9.5-8.7-7.5-5.5-12.2-7-7.3-2.3-6.2-2.5-4-1-5-0.7zM727.9 315.6l2.5 0.3 2-0.5 2.5 0.7 0.7-0.2 7.5 2.2 11.3 5.3 1.2 1.5 2.3 1 3 4.5 3 1.5 0.7 2 2.5 1.5 1 2.7 1.5 1.5 0 0.8 3.3 2.7 1 3.3 1.2 1.5 0.3 1.7 2.5 2.5 0.7 2.8 1.8 2 1.5 7 2.5 4 0.2 1.7 1.5 3.8 1.5 9.5 0.3 9.5-0.3 0.2-0.2 6-1 2-0.5 3.8-8 11.7-7.3 5.5-3.5 1.3-2 1.2-4.5 1.5-3.2 0-2 0.5-4.8-0.5-6.2-1.5-8.3-3.7-6.5-4.8-6-6-6-8-4.7-8.5-2.8-6.5-2.7-8.2-1.8-8-0.2-3.5-0.8-3.8 0-4.2-0.2-0.3 0.2-10.7 0.8-3.8 0-1.7 1.7-7 2.5-5.8 3.3-5 2.5-2.5 3.7-3 2.3-0.7 2-1.3zM745.9 284.9l1 0.2 1.5-0.5 2 0 1.2-0.5 1.3 0 0.7 0.8 4.3 0 0.2-0.3 3.5 0.3 0.3-0.3 2.7 0.8 2.5 1.2 5.3 1.5 0.7 0.8 1.3 0.2 0.5 1 1.2 0.8 1 2-0.2 3 2.2-1.5 1.5 0.7 3.5 0.3 1 3.2 2 2.8 2.5-0.3 1.8 1 1 3-1.3 3 2-2.2 3 0.7 1.8 4.5-1 2.5 1.5-1.5 3.5 1.8 1.2 3.5 0 2.5 3.5 3.2 0.8 1.5 2.7 1.5 1.5 4.8 0 1.7 2 5.3 3.5 4.2 1 3.3 1.8 2 1 4.7 1 1.5 0.7 5.3 0.8 2.5 0.5 5.5 2.2 6 2.3 9 1.7 11.5 0 3.2-0.2 0.3 0.2 3 5.5-2 2.5-4.5 9-6 5.3-2.3 0.7 0.3 1-0.5 1 1.5 1.3 0.7-0.3 0.3 0 3 2-2.3 0.8 0 0.7 0.5 1.5-4.7 2.8-2.8 4-5.2 3-5.5 0.2 0.2-0.2 3-1.3 6.3-2.2 7-2.8 6.2-3 5.3-2.2 3-0.5-1.8 0-6.7 0.2-0.3 0-1.5-4 3-2.7 5.3-3.5 3.5-1.8 0.7-3.5 2.8-2.5 0.7-1.7-0.7-1.8 0.2-1.2-1.5-1-0.5-0.3-3.7-1.5 0.7-4.2 0-2.3 6-3 4.3-3.7 4.2-1.5 3-2.5 2.5-1.8 2.5-2.5 2-2.5 3-11 7.5-9.5 3.5-3.2 0.5-2.5-0.2 5.7-5.8 5.5-7.2 1.3-2.5 1-3.8 1.5-2.5 0.2-2.7 1.5-3.5 0-2 1.8-4.8 0-1.2 1.2-3.5 3-24.3 0.3-8.7-0.3-0.3 0-6.2-0.7-2-0.3-5.3-1-1.5-0.5-5.7-0.7-0.8-1-7.5-0.8-3-1.7-2 0-1.2-3.3-2.3-0.7-5-1-2.5-2.5-1.7-0.5-2.5-2.5-3.5-2-1-0.3-2-2.5-3.5-3.2-2.3-0.3-1 2-2.7-2.5 1.7-5.5-5-2-1-0.5-0.5 2-2.5-3.5 1.8-3.7-3-3.3-2-4.7-2.3-5-1.5-6.8-0.2-6.7-0.8-0.3-0.2z"/><path fill="#ffff00" d="M727.1 360.6l-2.7 2.5-1.8 3.5-1.2 5.3 0 8 1.5 2.7 0.7 3.3 1 2.5 5 2.7 2.5-0.2 2.5-2.5 1-2.3 1.3-4 0.5-3.5 0-7.5-1.3-2.5-0.7-5.2-0.8-0.8-4.5-2.2zM776.9 221.9l-9.5 1.2-8.5 2.5-3.3 1.3-8.2 4.2-7.5 5.8-3.3 3-5 5.5-5 7.5-4 8.5-1.5 4-2.7 10.7-0.5 5.8-0.5 2 0 13.2 0.2 1-4.7 7-3.3 6-2.5 7-1 5.5-1.7 5-1.8 6.8-2.2 11.5-1.8 13.5-0.2 15.2 0.5 2 0.5 5.5 1 4.3 0.7 7.7 2.3 7.5 2 3.3 1.7 6.7 1.5 2.3 3.8 9.5 5.5 10.2 1.5 2 4.2 7.5 6.8 9 4.2 4.3 3 3.7 9 8 8 5.8 11.3 6.2 16.2 5.5 6.3 1 12.5 0.5 9.2-1.2 7-2 4.3-1.5 8.7-4.5 7-5.3 5-4.7 3.3-3.5 5.5-8 4-8.5 1.5-4 2.7-10.3 0.3-3.7 0.7-4 0-4.8 0.3-0.2-0.3-10.3 4.8-7 0.5-1.7 2.5-3.8 2.7-7.7 1-5.5 2-5.8 1.8-7.2 2-10.8 1.5-11.5 0.2-7.7 0.3-0.3-0.3-9-2.5-18-2.2-8-4-10.5-2.3-4-2.5-6.5-5.7-11-5.5-9.2-6.8-9-6.5-7.3-9.5-8.7-7.5-5.5-12.2-7-7.3-2.3-6.2-2.5-4-1-5-0.7zM727.1 315.1l5.3-0.2 5 1.2 1.7 0 4.5 1.5 3.8 2.3 7.2 3.2 1.3 1.5 2.2 1 1.5 2.8 1.5 1.2 0.3 0.8 2.5 1.2 0.7 1.8 2.8 1.7 1.2 3.5 1 0.8 0 0.7 3.5 2.8 1 3.5 1 1.2 0.3 1.3 2.7 2.7 0.8 3 1.7 2.3 1 5.2 3 5 0.5 2.5 1.3 3 1.2 6.5 0.5 4.3 0 3.7 0.3 0.3-0.3 11-0.7 1.5-0.8 4.7-3.5 5.3-0.2 1-5.3 6.5-5 4-2.5 1.5-9.5 3.5-3.5 0-1.7 0.5-7.8-1-3.5-1-8.5-4-6.2-4.5-6-6-5.8-7.5-5.2-9.3-3-7-2.5-7.5-2-9.2-1-7.8 0-4.7-0.3-0.3 0.3-9.2 1-6.8 1.5-5.7 2.7-6.5 3-4.8 2.8-2.7 4.2-3.3zM745.1 284.4l2 0 1.5-0.5 1.3 0.2 2.2-0.7 1.8 1 5-0.3 0.2-0.2 1 0.5 2-0.3 0.8 0.5 1.2 0 3.8 1.8 4.7 1.2 0.5 0.8 1.3 0.2 0.5 1 1.2 0.8 0.5 1.5 0.8 0.7-0.5 2.8 2.2-1.5 1.5 0.7 3.5 0.3 0.5 0.7 0.5 2.5 2 2.8 2.5-0.3 1 0.3 0.8 0.7 1 2.8 0 0.7-1 2.3 1.7-2 2.8 0.7 0.7 0.8 1.3 3.5 0 1-0.8 1.7 1.3-1.2 0.5 0 3 1.5 1.5 3.7 0 2.3 1.7 2 1.8 1.2 0.5 1.5 1.7 0.8 1.3 1 1.5 4.7 0 1.5 2 5.5 3.7 4.5 0.8 3 1.7 2 1.3 5.5 0.7 0.8 0.8 5 0.7 2.5 0.5 5.5 2.3 5.5 2 7.2 1.7 8.8 0.5 6 2 4 3.8-1.3 1.7-3.2 9-6 5.8-2.5 1 0.2 1.2-0.5 0.5 0.5 0.3 0.8 1.2 1-0.2 2.2 4-5 3-3 4.7-6.2 3.3-6.5 0.2 0.2-1.5 10-2.5 8.3-2.7 6.2-1.3 1.8-2 4-2.7 3.7-0.5-3 0-6-0.8 0-2.7 2-2.5 4.5-3.8 3.5-2.2 1-3 2.5-3 0.8-1.3-0.8-2.2 0.3-1.3-1.8-0.7-0.2-0.3-2.5-2.5 1-3 0-1.5 3.7-4.2 6-3.5 3.8-0.8 1.7-1.7 1.8-2.8 3.7-2.5 2-3.2 3.5-9.3 6.5-6.2 2.8-1.8 0.2-3.2 1.3-5.8 0.7-1-0.2 7-6.8 5.5-7.2 0.8-1.5 1.2-4.3 1.3-2.5 0.2-2.7 1.3-2.8 0.2-3.5 1.3-3.2 0.2-2.8 2.3-6.5 2.2-18.7 0.5-10.5-0.2-0.3 0-6.7-0.8-2 0-5-1.2-2.3-0.3-5.2-0.7-0.5-1-7.8-0.8-2.5-1.7-2-0.3-2-3-2-0.7-5-1-2.5-2.8-1.7-0.7-3.3-2.3-3-2-1-0.2-2-2.3-3.2-3.5-2.5-0.2-1 1.2-1.8-1.5 1-5.5-5-3.2-1.7 1.2-1.5-2 1-5.2-4-6.5-3.3-5-1.5-6.8-0.2-8-1-0.2-0.3 2.2-1 1 0z"/><path fill="#fffa00" d="M776.9 221.9l-9.5 1.2-8.5 2.5-3.3 1.3-8.2 4.2-7.5 5.8-3.3 3-5 5.5-5 7.5-4 8.5-1.5 4-2.7 10.7-0.5 5.8-0.5 2 0 13.2 0.2 1-4.7 7-3.3 6-2.5 7-1 5.5-1.7 5-1.8 6.8-2.2 11.5-1.8 13.5-0.2 15.2 0.5 2 0.5 5.5 1 4.3 0.7 7.7 2.3 7.5 2 3.3 1.7 6.7 1.5 2.3 3.8 9.5 5.5 10.2 1.5 2 4.2 7.5 6.8 9 4.2 4.3 3 3.7 9 8 8 5.8 11.3 6.2 16.2 5.5 6.3 1 12.5 0.5 9.2-1.2 7-2 4.3-1.5 8.7-4.5 7-5.3 5-4.7 3.3-3.5 5.5-8 4-8.5 1.5-4 2.7-10.3 0.3-3.7 0.7-4 0-4.8 0.3-0.2-0.3-10.3 4.8-7 0.5-1.7 2.5-3.8 2.7-7.7 1-5.5 2-5.8 1.8-7.2 2-10.8 1.5-11.5 0.2-7.7 0.3-0.3-0.3-9-2.5-18-2.2-8-4-10.5-2.3-4-2.5-6.5-5.7-11-5.5-9.2-6.8-9-6.5-7.3-9.5-8.7-7.5-5.5-12.2-7-7.3-2.3-6.2-2.5-4-1-5-0.7zM722.4 315.9l0.7 0 4-1.5 3 0.2 1.3-0.5 4 1 4.2 0.5 5.3 2 3.7 2.5 5.8 2.5 1 1.3 2.7 1.2 1.5 2.8 1.5 1 0.5 1.2 2 1 1 1.8 2.8 1.7 2.2 5 3.5 2.5 1.3 4.3 1 2 3 3 1 3.5 1.2 1.2 1 5 0.8 0.8 0.5 1.5 2.2 3.5 0.5 2.7 1.3 3 1 5.3 1 10-0.3 11-0.5 1.2-0.7 5-2.3 3.3-1.2 3-2.3 2.2-1.7 2.8-1.5 1.5-5 4-3.5 2-9.3 3.2-3.7 0-1.5 0.5-8.3-1-4-1.2-4.5-2-7-4.3-2.7-2.2-5.8-5.8-6.7-9-4.8-8.5-2.7-6.5-2.8-8.2-1.7-8.3-1-7-0.3-8-0.2-0.2 0.5-9 0.7-5.3 1.5-6 2.8-6.7 3.2-5 4.8-4.5zM744.6 283.9l5.8-0.5 1.2-0.5 1.3 0.2 0.5 0.5 2.5 0 0.2-0.2 0.5 0.2 1.3-0.2 4.2 0.2 0.8 0.5 1.2 0 3.3 1.5 5.2 1.5 0.8 0.8 0.7 0 0.8 1.2 1.2 0.8 1.3 2.2-0.3 2.5 1.8-1.2 2 0.7 1.5-0.2 1.7 0.5 0.5 0.7 0.5 2.3 2.3 3 1.5-0.5 2.5 1 1.2 3.2-1 2.5 1.5-1.7 3.5 1.2 1.5 4.3-0.7 2 1-1 3 1 0.7 0.7 1.5 4 0 2 3.5 3.3 0.5 1.5 2.3 1 0.7 0.7 1.5 4.8 0 1.5 1.8 4.7 1.2 2 2.8 3 0.7 3 2 2.8 1 5 0.8 0.7 1 6.3 0.5 1.2 0.5 5 2.5 6 2 7.3 1.7 8.7 0.5 5.5 0.5 0.8 2.3 0.2 1 1.8 2-0.5 0.5-1.3 0.7-0.7 9-6 5.8-2.5 1 0.2 2-0.7 2 2.5-0.3 1 1.8-2.3 4.5-4.5 4.7-6.2 4-8 0.3 0.2-0.8 8-1.2 5.5-2 6-3.5 7.8-2.5 4.5-3.3 4.5-0.5-1-0.2-6.3-1 0-1.8 0.8-1 1-0.7 1.7-5.3 5-2 0.8-2.7 2.2-2.5 0.8-1.3 0-0.7-0.5-2.5 0.2-2-2.2 0-1.3-4.8 1.8-1.2 0-0.5 1.5-3.8 5.5-4.2 4.5-1 2-1.8 1.7-2.5 3.5-2.5 2-3 3.3-2.7 1.7-2.5 2.3-4.3 2.7-7.7 3.3-1.8 0.2-2.5 1-1.5 0-1.7 0.5-2.5 0-0.3 0.3-1.5-0.3 1.5-1 6.5-6.5 6-8.2 1.3-4.5 0.7-1 0.5-4 1-2.3 0.3-3.7 1.2-3.8 0-2.5 1.5-4 0.3-2.5 1.7-4.2 1.8-15.3 0.5-9.7-0.3-0.3 0-7.2-0.5-1-0.2-2 0-4-1-1.8-0.3-5-0.7-1.2-1-7.8-0.5-1.7-2.3-2.5-0.2-2.3-2.3-1.5-0.7-1-0.5-4.2-1-2.8-2-1-1-1-0.5-3-2.3-3-2-1-0.5-2.5-2-2.7-3.7-2.8-0.3-1.2 0.5-0.5-0.5 0.2-5.5-5-3.7-2 0.5-0.7-0.8 0.5-5.2-4-6.5-3.3-5-1.5-6.8-0.2-7.2-1-2 0-1.5 0.5-0.3-0.3 3.5-1.7 2.5-0.5z"/><path fill="#fff500" d="M776.9 221.9l-9.5 1.2-8.5 2.5-3.3 1.3-8.2 4.2-7.5 5.8-3.3 3-5 5.5-5 7.5-4 8.5-1.5 4-2.7 10.7-0.5 5.8-0.5 2 0 13.2 0.2 1-4.7 7-3.3 6-2.5 7-1 5.5-1.7 5-1.8 6.8-2.2 11.5-1.8 13.5-0.2 15.2 0.5 2 0.5 5.5 1 4.3 0.7 7.7 2.3 7.5 2 3.3 1.7 6.7 1.5 2.3 3.8 9.5 5.5 10.2 1.5 2 4.2 7.5 6.8 9 4.2 4.3 3 3.7 9 8 8 5.8 11.3 6.2 16.2 5.5 6.3 1 12.5 0.5 9.2-1.2 7-2 4.3-1.5 8.7-4.5 7-5.3 5-4.7 3.3-3.5 5.5-8 4-8.5 1.5-4 2.7-10.3 0.3-3.7 0.7-4 0-4.8 0.3-0.2-0.3-10.3 4.8-7 0.5-1.7 2.5-3.8 2.7-7.7 1-5.5 2-5.8 1.8-7.2 2-10.8 1.5-11.5 0.2-7.7 0.3-0.3-0.3-9-2.5-18-2.2-8-4-10.5-2.3-4-2.5-6.5-5.7-11-5.5-9.2-6.8-9-6.5-7.3-9.5-8.7-7.5-5.5-12.2-7-7.3-2.3-6.2-2.5-4-1-5-0.7zM719.4 316.1l7.7-2.5 1.5 0.3 2.8-0.3 1.5 0.5 5.5 0.5 4.7 1.5 4.3 2.3 1.7 1.5 5.5 2.5 0.8 1 2.7 1.2 1.3 2.3 1.7 1.2 1 2 1.5 0.8 1 1.5 3 2 1.5 4 0.5 0.7 3.8 2.8 1.7 5.5 3.5 3.5 1 3.7 1.3 1.5 0.7 4 1.3 1.3 0.5 1.7 2 3 1 4.3 0.7 1.5 1.3 6.5 0.5 5.5 0.7 1.5 0.5 5.5 0.5 2-0.7 3.5-0.3 3.2-0.7 1.3-0.8 4.7-1.5 2-1.5 4-3.5 3.5-2.2 3-5 4-5.3 3-9 3-4.5 0-0.2 0.3-8.5-1-4-1.3-4.5-2-7.3-4.5-2.7-2.2-5.3-5.3-5.7-7.2-6.3-10.8-3.2-7.7-1.8-5.3-2.5-10.7-1.2-11.3 0.2-12.2 1-7 0.5-1 1-4.8 2.5-6.2 3-4.5 5-5zM740.4 284.4l2-0.3 2.5-1 1.7 0 1.5-0.5 1.5 0.3 1.3-0.5 1.5 0 1 0.7 5.5-0.2 0.2-0.3 1 0.5 1.5-0.2 0.8 0.5 1.2 0 3.8 1.7 4.7 1.3 1.5 1 0.8 0 0.5 1.2 1.2 0.5 0.5 1.5 1 1-0.2 2.3 1.7-1.3 1.8 1 1-0.2 1.7 0.2 1 0.8 0.5 2.5 0.8 0.5 1.5 2.5 1.2-0.5 2.3 0.5 1 1.5 0.7 2.2-0.5 2 1-1 1 0 2.5 1 1.8 4.8-0.8 1.2 0.8-0.7 0.5 0 3.2 1.5 1.8 4.5 0 1.7 1.2 1.5 2.3 1.8 1 2 1.7 0.7 0.8 0.8 1.5 5 0 1.2 1.7 4.8 4 5 1 3.5 1.8 2 1 5 1 1.7 1.7 11 2.8 6.8 2.2 8.2 1.8 8.8 0.2 3.5 1.3 1.5 3.2 0.2 1.3 0.5 9.7-6.7 6.5-2.8 0.8 0.3 2.5-0.8 1.2 2 0.5 0.3 5.3-5.3 4.7-6.2 4-8 0.8-2.3 0.2 0.3 0 5-0.5 4-1.2 5.7-2.3 7-2.5 5.8-3.5 6.5-4 5.5-0.5-2-0.2-4.3-1 0.5-2.3 0.5-5.7 6-2.5 1-2.8 2.3-3.7 0.7-0.8-0.5-2.7 0.5-2-2.7-5.8 2-4 5.7-4.7 5-4 5.5-5 4.5-1 1.5-2.8 1.8-2.7 2.5-4.8 3-7.7 3.2-1 0-2.5 1-2.8 0.5-2.2 0-2.3 0.5-1.7-0.5 2.2-1.5 6.5-6.5 4.8-6.2 1.2-2.5 0.8-3 0.7-1.3 0.5-4.2 0.8-1.5 0.2-4.5 1-2.8 0-3.5 1.3-3.2 0-3 3.2-7.8 1.5-12.7 0-3.8 0.5-4-0.2-9.2-0.5-1-0.3-6.3-0.7-1-0.3-4.7-1-3.3-1-7.5-2.7-3.2-0.3-2.5-2.7-2-0.5-4.3-0.8-2.5-3.2-2.2-0.8-3.5-2-2.8-2.2-1-0.5-2.7-1.8-2.5-1.5-1.3-2-1-0.5-1 0-1-5.5-5-4-2-0.5-0.7-4.7-3.5-4.8-2.5-6.7-2.3-6.8-0.2-7.2-1-2 0-4.5 1.5-0.3-0.3 1.5-1.2z"/><path fill="#fff000" d="M776.9 221.9l-9.5 1.2-8.5 2.5-3.3 1.3-8.2 4.2-7.5 5.8-3.3 3-5 5.5-5 7.5-4 8.5-1.5 4-2.7 10.7-0.5 5.8-0.5 2 0 13.2 0.2 1-4.7 7-3.3 6-2.5 7-1 5.5-1.7 5-1.8 6.8-2.2 11.5-1.8 13.5-0.2 15.2 0.5 2 0.5 5.5 1 4.3 0.7 7.7 2.3 7.5 2 3.3 1.7 6.7 1.5 2.3 3.8 9.5 5.5 10.2 1.5 2 4.2 7.5 6.8 9 4.2 4.3 3 3.7 9 8 8 5.8 11.3 6.2 16.2 5.5 6.3 1 12.5 0.5 9.2-1.2 7-2 4.3-1.5 8.7-4.5 7-5.3 5-4.7 3.3-3.5 5.5-8 4-8.5 1.5-4 2.7-10.3 0.3-3.7 0.7-4 0-4.8 0.3-0.2-0.3-10.3 4.8-7 0.5-1.7 2.5-3.8 2.7-7.7 1-5.5 2-5.8 1.8-7.2 2-10.8 1.5-11.5 0.2-7.7 0.3-0.3-0.3-9-2.5-18-2.2-8-4-10.5-2.3-4-2.5-6.5-5.7-11-5.5-9.2-6.8-9-6.5-7.3-9.5-8.7-7.5-5.5-12.2-7-7.3-2.3-6.2-2.5-4-1-5-0.7zM718.9 315.4l8-2.5 8 0.5 1.5 0.5 1.7 0 4.8 1.5 4.5 2.2 3 2.5 4 1.8 0.5 0.7 3.2 1.5 1.3 2.3 2.2 1.7 0.8 1.8 1.5 0.7 0.7 1.3 2.3 1.2 1 1 1.7 4.5 3.8 2.8 1.7 5.5 3.8 3.5 1.2 4.5 1 1.2 0.5 2.8 1.8 2 0.5 2 2 3 1 4.5 0.7 1.5 1.3 8.2 2.2 5.5 0.3 3.8 0.7 2.5 0 2.2-0.5 2 0.3 3.8-3 5.2 0 0.8-2.8 6.5-4.5 4.2-1.5 2-5.7 4.5-4.8 2.8-4.7 1.7-2.3 0.3-2.5 1-9.2 0-6.8-1.5-6-2.5-7.5-4.8-2.5-2-5.5-5.5-6.2-8-5.8-10-3.2-7.7-1.8-5.3-2.7-11.7 0-1.8-1-5.7 0-7.3-0.3-0.2 0.5-9.3 0.8-3.7 0-1.8 1.5-6.2 2.5-6.5 3-4.5 5-5zM740.6 283.6l7.8-1.7 1.7 0.2 1.3-0.5 1.7 0.8 6.3-0.3 4.2 0.8 3.3 1.5 5.2 1.5 1 0.7 1.3 0.3 0.2 0.7 1.5 1 0.5 1.5 1 1-0.2 2 1.7-1 2 1 1.5-0.2 1.5 0.5 0.5 0.5 0.5 2.5 0.8 0.2 1.7 2.8 1.5-0.5 1.8 0.5 0.7 0.7 1.3 3.5-0.5 1.3 0.7-0.8 0.8 0 2.5 0.8 0.5 0.5 1.5 4.2 0 0.8-0.5 0.7 1-0.7 3.5 1.7 1.5 4 0.2 2.3 3.5 3 0.8 2 1.7 0.7 0.8 0.8 3 10 1.5 2 0.2 1 2.8 3 1.2 4 1.5 1.7 1.3 5.8 0.7 0.7 1.5 10 3.3 8 1.5 5.3 2.5 11.5 0.2 2.7 1.8 2.3 4.2 0.5 9-6 7.5-3 0.5 0.2 2.5-1 1.5 2.3 4.8-4.8 4.7-6.2 4-8 1.5-5.3 0.3-0.2 0.2 0.2 0 6.5-0.7 5.8-1.5 6.5-2.3 6.7-2.5 5.8-4.7 8.2-3.3 4-0.5-2.7 0-2.5-0.2-0.5-0.5 0-2.8 1.2-5.5 5.3-3.2 1.5-1.8 1.5-3.5 1-1.2-0.5-3 0.5-1.8-2-0.5 0-0.7 0.5-5 1.5-3.5 5.2-5 5.3-3.5 4.7-6.5 6.3-2.3 1.5-2.7 2.5-4.8 3-8.2 3.5-6.8 1.5-2.7 0-0.3 0.2-3.5 0-0.2-0.2 3.2-2.3 6.5-6.5 4-5.2 0.3-1.3 1.7-3 1-3 0.3-3 0.7-2.2 0.3-4.8 0.7-2 0-4.7 0.8-1.8 0.2-4.5 1.8-4 0.2-2.5 2.8-5.2 1-9.3 0.2-7.5 0.3-0.2-0.3-9-0.5-1.3 0-5.7-0.7-1-0.5-6.5-0.5-0.5-1-7.8-3.3-4-0.2-3-2.5-1.7-0.8-5.5-0.5-1.3-3.5-2.2-0.5-3.5-2-2.8-2.5-1.2-0.5-2.8-2.2-3-3.3-2 0-1-0.5-1-5-4.5-4-2-5.2-4.2-4.8-2.5-6.7-2.3-6.8-0.2-2.5-0.5-6.7-0.5-4 1.5-2.5 0.5-0.3-0.3 3-2.2z"/><path fill="#ffeb00" d="M776.9 221.9l-9.5 1.2-8.5 2.5-3.3 1.3-8.2 4.2-7.5 5.8-3.3 3-5 5.5-5 7.5-4 8.5-1.5 4-2.7 10.7-0.5 5.8-0.5 2 0 13.2 0.2 1-4.7 7-3.3 6-2.5 7-1 5.5-1.7 5-1.8 6.8-2.2 11.5-1.8 13.5-0.2 15.2 0.5 2 0.5 5.5 1 4.3 0.7 7.7 2.3 7.5 2 3.3 1.7 6.7 1.5 2.3 3.8 9.5 5.5 10.2 1.5 2 4.2 7.5 6.8 9 4.2 4.3 3 3.7 9 8 8 5.8 11.3 6.2 16.2 5.5 6.3 1 12.5 0.5 9.2-1.2 7-2 4.3-1.5 8.7-4.5 7-5.3 5-4.7 3.3-3.5 5.5-8 4-8.5 1.5-4 2.7-10.3 0.3-3.7 0.7-4 0-4.8 0.3-0.2-0.3-10.3 4.8-7 0.5-1.7 2.5-3.8 2.7-7.7 1-5.5 2-5.8 1.8-7.2 2-10.8 1.5-11.5 0.2-7.7 0.3-0.3-0.3-9-2.5-18-2.2-8-4-10.5-2.3-4-2.5-6.5-5.7-11-5.5-9.2-6.8-9-6.5-7.3-9.5-8.7-7.5-5.5-12.2-7-7.3-2.3-6.2-2.5-4-1-5-0.7zM718.4 314.6l4-1.5 2 0 2.5-1 3 0.5 5 0 1.2 0.5 2.8 0.3 5 1.7 3.7 2 3.5 3 3 1.3 1 1 2.8 1.2 1.5 2.3 2.2 1.5 1.3 2.5 1 0.5 0.2 0.7 2.8 1.5 1 1 0.7 2.3 1.5 2.5 3.5 2.7 1.5 4.8 4 4.2 1.3 4.3 1 1.7 0.2 1.8 2.3 2.5 0.5 2 2 3.2 1 4.8 0.7 1.7 0.8 4.8 0.7 1 3 8.2 0.3 3.3 1 3-0.5 3.5 0.5 1.5 0.2 2.7-2 3.5 0 3-3.2 2-1.5 4-6.3 6.3-6 4.7-5.7 3.3-4.8 1.7-1.7 0-2.5 1-9.8 0-6.7-1.5-5.5-2.2-8-5-2.8-2.3-5.2-5.2-6.5-8.3-5.8-10-4.5-11.2-3.2-13.3-1-7 0-5.5-0.3-0.2 0.3-11.3 1-7.7 1.5-6.3 2.7-6.5 2.8-4 4.7-4.7zM740.6 282.9l1.3 0 2.7-1 1.5 0 1.5-0.5 1.8 0.2 1.2-0.5 1 0 1.3 0.8 5.7-0.3 0.3-0.2 1 0.5 1.5-0.3 0.7 0.5 1 0 4.5 2 4.8 1.3 0.7 0.7 1.3 0.3 0.5 1 1.2 0.5 0.5 1.5 0.8 0.5 0.5 1-0.3 1.5 1.8-0.8 1.2 0.8 3.3 0.2 0.7 0.8 0.5 2.2 1 0.8 1.5 2.2 1.5-0.2 2.5 1 1.3 3.5-0.3 1.2 0.5-0.5 0.8 0 3 1 1.7 5-0.2 0.5 0.2-0.2 2.8 1 1.2 1 1.5 4 0 1.7 3.5 3 1 2.5 2.5 1.3 2.8 9.5 2.7 4.5 2.3 2.5 1 3.5 1.5 2 1.2 5.5 1 2.2 1.3 8.3 1.5 3 3.5 10.7 2.5 12.5 2.5 3.8 1.5 0.2 3.5-0.2 7.2-5 6.5-2.8 2.3-0.2 2.5-1 1.5 1.7 4-4 4.7-6.2 4-8 2.3-7.5 0.2-0.3 0.3 0.3 0.2 7-0.7 6.5-1.5 6.5-2.3 7-3 7-3.5 6.2-4.7 6-0.5-0.5-0.3-4.2-0.7-0.3-3.3 1.5-5 4.8-3 1.2-2 1.5-3.5 1-1-0.5-3.5 0.5-1.5-1.7-1.7 1-4.3 1.2-2.5 3.8-5.7 6-3.8 5-6.7 6.2-5.3 4.3-1.2 0.5-3.5 2.5-7.3 3-7.7 1.7-6.5 0.3-0.8-0.5 4-2.8 6.5-6.5 3-4 0.5-1.7 2.8-5 1.2-7.5 0-3.8 0.5-1 0-5.7 0.5-2 0-4.3 1-2 0.8-5 4.5-8.5 0.7-6.2 0-3.8 0.5-4-0.2-0.2 0.2-7.5-0.5-1.3-0.2-6.7-0.8-2-0.2-5.3-0.8-2-0.5-5.2-0.7-1.8-3-3.5-0.3-3-2.2-1.7-1.3-6.8-3.5-2.2-1-4.3-1.5-2-2.7-1.2-0.5-3.3-1.3-1.7-1.5-1.3-2-1-0.7-1 0-1-0.8-0.2 0-0.8-4.5-4-4-2-2.7-2.5-4.3-2.7-4.7-2.3-5-1.5-6.8-0.2-2.5-0.5-6.7-0.5-4 1.5-4.5 1-0.3-0.3 4.5-3.2z"/><path fill="#ffe600" d="M701.6 340.1l-1.7 10-1.3 10.3-0.2 15.2 0.5 2 0.5 5.5 1 4.3 0.5 6.5 2.5 8.7 2 3.3 1.7 6.7 1.5 2.3 3.8 9.5 5.5 10.2 1.5 2 3.7 6.8 7.3 9.7 4.2 4.3 3 3.7 9 8 8.8 6.3 5.5 2.7 4.5 2.8 7 2.2 5.5 2.3 8.2 2 9.3 0.5 0.2 0.2 5.3 0 7.7-1 4.5-1 8.3-2.7 9.5-5 6.2-4.8 8.3-8.2 5.5-8 4-8.5 1.7-4.8 2.5-9.5 0.3-3.7 0.7-4 0-4.8 0.3-0.2-0.3-10.3 4.8-7 0.5-1.7 2.5-3.8 2.7-7.7 0.8-4.3-2 5-4 7.3-2.8 3.2-1.2 2.3-1.5 1.2-0.5-1 0-2.5-0.5-0.7-0.8 0-3.5 1.7-3.7 3.8-4 1.7-1 1-3.5 1-2.3-0.2-2.7 0.7-1.5-1.7-3 1.7-2.8 0.8-1 0.7-1.5 2.5-7 7.3-2.5 3.5-2.2 2.2-9 7.8-5.5 3.5-6.3 2.7-6.5 1.8-6.2 0.7-4.8-0.2-0.2-0.3 5.2-3.5 6.5-6.5 2.3-3 0.5-2 2.5-4.5-0.3-0.7 1.5-4.8 0.5-10-0.7-2-6.5 4.3-0.3 1-6 6.2-0.7 0.3-5.5 4.5-6.5 3.7-5.5 2-2 0-2 0.8-3.5 0-0.3 0.2-3.2 0-6.5-0.7-6-2-4.5-2.3-6.5-4.2-2.5-2-5.5-5.5-5.8-7.3-4.7-7.7-5.5-12.3-2.8-9.5-0.2-2.2-1.3-4.8-0.7-6-0.3-15zM739.9 236.9l-3.3 3-5 5.5-5 7.5-4 8.5-1.5 4-2.7 10.7-0.5 5.8-0.5 2 0 13.2 0.2 1-4.7 7-3.3 6-2.5 7-1 5.5-1.7 5.5 1.5-3.5 3-4.5 4.7-4.5 5-3 4-1.5 2.5 0 1-0.5 8.8 0.3 1 0.5 2.7 0.2 1.5 0.8 2.3 0.5 5.5 2.7 3 2.3 1 1.2 6 3 1.7 2.3 2 1.2 1.5 3 1 1 3.8 2.3 1.2 3.5 1.3 1 0.5 1.2 3 2.3 1.2 4 4.5 5.2 2 6.5 2.8 3.3 0.7 2.7 1.5 2.3 1.8 6.2 0.5 3.5 1.7 2.3 3.3 8.5 0.2 2.7 1.5 5-0.2 1.8 1 4.5 0 2 0-2 1.2-6.5 1.8-3.3 1.5-4.2 3.2-5.3 0.3-6.2 0.2-0.3 0.3-11.2-0.5-1.3 0-5.7-0.8-2.3-0.2-5.2-0.8-2.8-0.5-4.7-0.5-0.8 0-0.7-3.2-3.8-0.5-3.7-2-1.5-1.3-6.8-3.7-2.2-0.5-3.3-0.8-1.7-0.7-1-3.3-1.8-0.7-3.7-1.5-1.8-3.5-2 0-1-1-1-0.3-1-4-3.5-5.2-2.7-2.5-2.5-6.3-3.5-6.7-2.3-6.8-0.2-7.2-1-2 0-4 1.5-4.8 1-1.5 1-0.5-0.3 4.5-3.7 5-2.8 4-1.5 1.5 0 1.8-0.7 1.2 0 2.8-0.8 2 0.3 1.2-0.5 1.5 0.7 2-0.2 2 0.2 2.5-0.2 0.8 0.5 1.5-0.3 5.7 2.3 5.3 1.5 1 0.7 0.7 0 0.8 1.3 1.2 0.5 0.5 1.5 0.5 0 0.8 1.2 0 1.5 1-0.7 2 1 3.2 0.2 0.5 0.5 0.5 2.5 1 0.5 1.5 2.5 1.5-0.2 2 0.5 0.5 0.5 1.5 4-0.2 0.5 1-0.3 1.7 0.5 1.5 1 1.5 4.3-0.2 1 1-0.3 3.2 1.5 1.8 4.8 0.2 1.7 3.5 3 1.3 2.5 2 1 2.7 9.5 2 2.5 0.5 1.5 2.5 2.8 1.3 4.2 1.5 2 1.2 5.8 0.8 1.5 1.2 7.7 2 4 3.3 10.3 2.5 12.2 2.7 3.5 2 0.5 1.5 0 1.8-0.5 7.7-5 4.3-1.7 2.5-0.8 1.2 0 2.3-1 0.5 0 1 1.5 3.5-3.5 4.7-6.2 4-8 3-10.3 0.5 0.5 0.3 1.5 0 8.5-0.5 3.3 2-11.5 1-8.3 0.2-7.7 0.3-0.3-0.3-9-2.5-18-2.2-8-4-10.5-2.3-4-2.5-6.5-5.7-11-5.5-9.2-6.8-9-6.5-7.3-9.5-8.7-9.2-6.8-8.3-4.2-2.2-1.5-7.3-2.3-6.2-2.5-4-1-5-0.7-12.5-0.5-11.5 1.7-8 2.5-10 5z"/><path fill="#ffe100" d="M700.1 348.6l-1.5 11.8-0.2 15.2 0.5 2 0.5 5.5 1 4.3 0.7 7.7 2.3 7.5 2 3.3 1.7 6.7 1.5 2.3 4 10 5.3 9.7 1.5 2 4.2 7.5 6.8 9 4.2 4.3 3 3.7 9 8 8.8 6.3 5.5 2.7 4.5 2.8 7 2.2 5.5 2.3 8.2 2 9.3 0.5 0.2 0.2 5.3 0 7.7-1 4.5-1 8.3-2.7 9.5-5 6.2-4.8 8.3-8.2 5.5-8 4-8.5 1.7-4.8 2.5-9.5 0.3-3.7 0.7-4 0-4.8 0.3-0.2-0.3-10.3 4.8-7 0.5-1.7 2.5-3.8 2.7-7.7 0.8-4.3-1.5 4.8-4 7.5-1.8 2-2.2 3.7-2 2-0.5-3.5-0.8-0.5-0.7 0-3.8 2-3 3-4 1.8-1.2 1-3.5 1-1.8-0.3-3.5 0.8-1-1.3-0.5 0-3.7 2.3-2 0.5-13.5 15.2-9 7.8-5.5 3.5-5.5 2.5-8 2.2-6.3 0.8-0.2-0.3-4.5 0-1-0.5 6.2-4 6.5-6.5 1.3-1.7 0.7-2.5 2-3.8 0-2.5 1-3-0.7-1.5 0-4-4.5-0.5-4 4.5-3.8 2-4 3.3-4.2 1.7-2.3 1.5-3.5 1.5-3.2 1-2.3 0-2 0.8-9 0-1.2-0.5-2.8-0.3-6-2-4.5-2.2-5.7-3.8-3.5-2.7-5.5-5.5-5.8-7.3-5-8.2-4.7-10.5-3.3-10.5-1.7-8.3-0.3-5-0.5-2.7 0-6.8-0.2-0.2zM738.4 238.1l-6.8 7.3-5 7.5-4 8.5-1.5 4-2.7 10.7-0.5 5.8-0.5 2 0 13.2 0.2 1-4.7 7-3.3 6-2.5 7-1.2 5.8 2.2-3.8 5-4.5 3.3-1.5 1.7-1.2 3.3-1.3 3.5-0.2 1-0.5 9 0.2 0.7 0.5 3 0.3 2 1 1.5 0.2 5.8 2.8 2.2 2 0.8 0.2 2 2 5 2.5 1.5 2 2.5 1.5 1 2.3 1.2 1.7 4 2.5 1 3 1.5 1.3 0.5 1.2 2.8 2.3 1.2 3.7 1.3 1 0.5 1.5 2.7 2.8 2 6.2 3.3 3.8 1 3.5 1.2 1.7 1.8 7.5 3 4.3 3.5 9.5 1.2 5.2 1.8-5 5.7-9.7 0.3-11 0.2-0.3 0-2.7-0.5-3 0-5-0.5-0.5-0.2-5.3-1-6.2-1.3-2.3 0-1.2-3-3.5-0.5-4.3-1-0.5-1-1.2-0.7-5.8-4.3-3-0.5-3.5-0.5-1.2-0.7-1-2.8-1.3-0.7-0.7-0.5-3.3-0.8-1.2-1.5-1.3-2.5-1.2-0.5-0.8 0-1-1.2-0.5-0.3-1.2-2-2-3.2-2.3-4.3-2-0.7-1.2-2.5-2-6.5-3.3-5-1.5-6.8-0.2-2.5-0.5-6.7-0.5-4 1.5-4.8 1-4.2 2.7-0.5-0.2 5-4.8 4-2.7 6.5-2.8 2.5-0.2 1-0.5 3.7-0.8 4-0.2 1.5 0.7 3-0.5 0.8 0.3 2.5-0.3 0.7 0.5 2 0 0.8 0.5 1 0 4.5 2 4 1 1 0.8 1.2 0.2 0.5 1 1.5 0.8 0.5 1.2 1 0.8 0.5 1-0.2 1.2 1.2-0.7 1.8 1 1.2-0.3 2 0.5 0.5 0.5 0.5 2.3 1 0.5 0.5 1.2 1.3 1.5 1.5-0.2 1.7 0.5 0.8 0.7 1.2 3.5-0.2 1 0.7-0.5 3.5 1.3 1.8 5.2 3 1 1 0.8 1.7 4.7 0 1.3 3.8 3.2 1 2.5 2.2 1.3 2.8 9.5 2 2.2 1 2.3 2.2 2.5 1 3.7 1.5 2 1.3 5.8 0.7 1.5 1 6.7 2.5 5.3 0.5 2.2 1.8 4.3 2.5 10 0.7 4.7 0.5 1 1.8 1.5 1.2 2 2.8 0.5 2.5-0.7 6.7-4.3 7.5-2.7 0.5 0.2 3.5-1.5 1 1.3 2.8-2.8 4.7-6.2 4-8 2.8-8.8 0.7-4.7 0.3-0.3 0.2 0.3 0.5 3 0.3 5.7 1.7-15.2 0-4 0.3-0.3-0.3-9-2.5-18-2.2-8-4-10.5-2.3-4-2.5-6.5-5.7-11-5.5-9.2-6.8-9-6.5-7.3-9.5-8.7-9.2-6.8-8.3-4.2-2.2-1.5-7.3-2.3-6.2-2.5-4-1-5-0.7-12.5-0.5-11.5 1.7-8 2.5-10 5z"/><path fill="#ffdc00" d="M699.4 353.6l-0.8 6.8 0 4.2-0.2 0.3 0 10.7 0.5 2 0.5 5.5 1 4.3 0.7 7.7 2.3 7.5 2 3.3 1.7 6.7 1.5 2.3 4 10 5.3 9.7 1.5 2 4.2 7.5 6.8 9 4.2 4.3 3 3.7 9 8 8.8 6.3 5.5 2.7 4.5 2.8 7 2.2 5.5 2.3 8.2 2 9.3 0.5 0.2 0.2 5.3 0 7.7-1 4.5-1 8.3-2.7 9.5-5 6.2-4.8 8.3-8.2 5.5-8 4-8.5 1.5-4 2.7-10.3 0.3-3.7 0.7-4 0-4.8 0.3-0.2-0.3-10.3 4.8-7 0.5-1.7 2.5-3.8 2.7-7.7 0-0.8-0.5 1.8-3.5 6.7-1.5 1.8-2.5 4-2.7 3-0.5-3-0.8-0.5-1 0-3.5 2-3 2.7-5.2 2.5-3.8 1-1.2-0.2-2.8 0.7-1 0-1-1-6.5 3.3-0.5 1-5 5.5-3.5 3.2-1.5 2.3-2 2-9.5 8.2-7.2 4.3-7 2.7-5.5 1.3-3.8 0.5-8.2-0.3-0.3-0.5 0.5-0.5 2.5-1.2 4-2.8 6.5-6.5 1.5-4.2 1.5-2.5-0.2-3 0.7-2.5-1.7-2.3 0-1.7-2-0.3-2.3 2.3-5 2.5-3 2.5-3.5 1.7-10.2 4.3-4 0.2-1 0.5-5.5 0.3-0.3-0.3-4 0-1.2-0.5-2.5-0.2-6.5-2.3-7.3-4-6.2-4.7-7.3-7.5-6.2-8.8-4.8-8.7-3.7-9.3-0.8-3.5-1.5-4.2-1.5-6.8-1-9.2zM738.4 238.1l-6.8 7.3-5 7.5-4 8.5-1.5 4-2.7 10.7-0.5 5.8-0.5 2 0 13.2 0.2 1-4.7 7-3.3 6-2.5 7-0.5 2.5 0.8-1.5 1.7-1.2 2.8-2.8 5.7-3 4.8-1.7 8.2-0.3 0.3 0.3 4 0 0.7 0.5 2.8 0.2 2 1 2.7 0.8 5 2.5 2 1.7 0.8 0.3 2.7 2.7 4.5 2.3 1 1.5 2.8 1.5 1.7 3.5 1.3 1.2 3.2 2 1 2.8 1.8 1.2 1 2.3 2.2 1.7 0.8 2.8 2 1.7 0.7 2 2.3 2.3 2 6 3.5 4 1 3.5 1.2 2 1.3 5.5 4 5.5 2.2 5.5 1.5 5 7.5-13.5 0.3-10-0.3-0.3 0-5-0.7-5-0.3-5.5-0.5-2.5-2-3.5 0-2-2.7-3.2-0.5-4.3-1.8-1.5-0.7-5.7-0.5-0.8-3.8-2.2-1-5-0.7-1-3.5-1.8-0.8-3.7-0.5-1-1.5-1.3-2.5-1.2-0.5-0.5-0.2-1.3-1.3-0.5-0.5-1.7-3-2.8-6.5-3.2-1.2-2-3.3-2-4.7-2.3-5-1.5-6.8-0.2-2.5-0.5-6.7-0.5-4 1.5-4.8 1-5.5 3.5-0.5-0.3 1-1.5 4.8-4.5 4-2.7 5.5-2.5 9-2 1.2 0.2 2.5-0.2 1 0.5 4.3-0.3 0.2 0.3 2.3-0.3 1 0.5 1.2-0.2 5.5 2.2 5.5 1.5 0.8 0.8 1.2 0.2 0.5 1 1.5 0.5 0.5 1.5 0.5 0 1 1.5 0 1.3 1-0.5 2 1 1-0.3 2.3 0.5 0.7 2.8 0.5 0 0.8 0.7 1.5 2.5 1.5-0.2 2.5 1 1.5 4.2-0.3 0.3 0.5-0.3 3.5 1.3 1.8 5.2 3 1 1.2 1 2 6.3 3.3 2.5 1.2 3 2.3 1.2 2.5 8.8 2.2 2.7 0.8 2 2.5 2.8 1.2 4.5 1.3 1.5 1.2 5.7 0.8 1.3 1 6.5 2.7 5.7 1.8 5 2.7 10.3 1 5.5 1.3 2 1 0.5 2 2.5 2.5 0 3.2-1 3.5-2.5 5.8-2.5 3.2-1 1 0 3.5-1.5 0.5 0 0.5 1 2.3-2.3 4.7-6.2 4-8 2.8-8.8 1-7.5 0.5-0.2 0.5 1 0.7 5.7 0-2 0.8-4.5 0.2-7.7 0.3-0.3-0.3-9-2.5-18-2.2-8-4-10.5-2.3-4-2.5-6.5-5.7-11-5.5-9.2-6.8-9-6.5-7.3-9.5-8.7-9.2-6.8-8.3-4.2-2.2-1.5-7.3-2.3-6.2-2.5-4-1-5-0.7-12.5-0.5-11.5 1.7-8 2.5-10 5z"/><path fill="#ffd700" d="M698.9 358.1l-0.3 6.5-0.2 0.3 0 10.7 0.5 2 0.5 5.5 1 4.3 0.5 6.5 2.5 8.7 2 3.3 1.7 6.7 1.5 2.3 4 10 5.3 9.7 1.5 2 4.2 7.5 6.8 9 4.2 4.3 3 3.7 9 8 8.8 6.3 5.5 2.7 4.5 2.8 7 2.2 5.5 2.3 8.2 2 9.3 0.5 0.2 0.2 5.3 0 7.7-1 4.5-1 8.3-2.7 9.5-5 7.7-6 7.5-8 4.8-7 4-8.5 1.5-4 2.7-10.3 0.3-3.7 0.7-4 0-4.8 0.3-0.2-0.3-10.3 4.8-7 0.5-1.7 2.5-3.8 2-5.7-2.8 5.7-4 6-3 3.5-0.5-0.5 0-2-1.5-0.7-4.5 2.5-1.7 1.7-5.3 2.5-4.5 1.3-0.7-0.3-4 1-1-1-6.5 3.5-5.5 6.3-3.3 2.7-1.7 2.5-11.3 10-5.7 3.5-6 2.8-8.8 2.2-5 0.5-8.2-0.5-0.3-0.2 4.5-2.5 4-2.8 6-6 1.3-4 1-1.7-0.3-3.8 0.5-1.5-2.5-3-0.5 0-6.2 3.3-1.8 1.5-5.5 2.7-10 3.8-7 0.7-6 0-5.7-1-6.3-2.2-7.2-4-6.3-4.8-7.5-7.7-6.2-8.8-5.5-10.5-2.8-6.7-1-4.3-1.7-5-1.5-8zM738.4 238.1l-6.8 7.3-5 7.5-4 8.5-1.5 4-2.7 10.7-0.5 5.8-0.5 2 0 13.2 0.2 1-4.7 7-2.5 4.5-3 8 4.5-3.7 5.5-2.8 0.7 0 3.8-1.5 3.7 0 4.8-0.5 1 0.5 3.2 0 2 0.8 1.5 0 2 1 2.8 0.7 5.2 2.5 1.3 1.3 2 1 3 3.2 3.7 1.8 0.8 1.2 2.5 1.3 0.7 0.7 1.5 3 1 0.8 0.3 0.7 2.7 1.5 0.8 0.8 0.7 2.2 2 1.3 1 2.5 2.3 2 0.7 2.5 2.3 1.7 0.7 2.3 2.3 2.5 1.2 4.2 1 0.8 0.3 1 3 3.5 1.2 4.2 1 1.8 0.8 3.5 2 1.7 0.5 1.3 2.2 3 2.3 5.2 0.7 2.8 4-7.5 2.3-3.5 1.2-3.8-0.2-12.5-0.5-1.7-0.5-6.8-2.5-4.7-0.3-2.8-2.5-3-0.5-4.7-1.5-1-0.7-5.8-1-1.2-3.5-2-0.8-4.8-0.7-1.2-3.8-1.8-1-4.7-1.5-1.3-2.5-1.2-0.7-0.8 0-0.7-1.8-1-0.2-1.5-1.3-1.5-3.2-2.3-3.8-2-1.2-0.2-1.8-2.5-5.5-3-6.7-2.3-6.8-0.2-2.5-0.5-6.7-0.5-4 1.5-4.8 1-6.7 4.2-0.5-0.2 1.5-2.3 5-5 4-2.7 3.5-1.8 4.2-1.5 2.5-0.2 5-1.3 0.5 0.3 2.5-0.3 0.8 0.5 3.2 0 0.3-0.2 3.2 0.2 0.5-0.2 0.8 0.5 1.7 0 0.8 0.5 1 0 3.2 1.5 6 1.7 1 0.8 0.8 0 1 1.2 0.7 0 1 1.8 1.3 1 0.5 1.5 0.5-0.3 1.7 1 1.8 0 2 0.5 0.7 2.5 1.3 0.8 1.5 2.5 1.7 0 1.8 0.5 0.5 0.5 1.5 4.2 3.5 1 0.5 0.5 1.5 4.8 0.5 0.5 3.7 1.5 1.8 4.7 0 1.3 3.7 3 1.3 3 2 1.2 2.7 9 2.5 2.8 0.8 2.2 2.2 2.5 1.3 4.3 1.5 2.2 1.2 6 0.5 0.5 0.8 5.3 2.7 5.7 2.3 6.3 2.7 10.2 0.8 4.5 1.7 2.8 2 1.2 1.3 1.8 1.7 0 4-1.3 2.5-1.7 5.8-2.5 5.7-1.5 3-1.5 0.8 0.7 1.5-1.5 4.7-6.2 4-8 2.8-8.8 1.5-9.2 0-1.8 0.2-0.2 0.3 0.2 0.2 1.8 0.8 1.7 0.2 2.3 0.5-10 0.3-0.3-0.3-9-2.5-18-2.2-8-4-10.5-2.3-4-2.5-6.5-5.7-11-5.5-9.2-8.3-10.8-5-5.5-7.5-7-11.2-8.5-8.3-4.2-2.2-1.5-7.3-2.3-6.2-2.5-7-1.5-6.5-0.2-2.8-0.5-5.2 0-11.5 1.7-8 2.5-10 5z"/><path fill="#ffd200" d="M698.6 361.1l-0.2 14.5 0.5 2 0.5 5.5 1 4.3 0.7 7.7 2.3 7.5 2 3.3 1.7 6.7 1.5 2.3 3.8 9.5 5.5 10.2 1.5 2 3.7 6.8 7.3 9.7 4.2 4.3 3.3 4 8.7 7.7 8.8 6.3 5.5 2.7 5 3 16.2 5.5 4 0.8 9.3 0.5 0.2 0.2 5.3 0 9.2-1.2 11.3-3.5 9.5-5 7.7-6 6.8-7 5.5-8 4-8.5 1.5-4 2.7-10.3 0.3-3.7 0.7-4 0-4.8 0.3-0.2-0.3-10.3 4.8-7 0.5-1.7 2.5-3.8 0.2-1-4.5 7.3-3.5 3.7-0.5-1.7-1.7-0.8-4 2.3-1.8 1.5-5.2 2.5-9.3 2-1.5-0.5-6.2 3.5-3 3.5-6.3 6-2.5 3-9.5 8.2-5.7 3.5-6.5 3-7.5 2-6.5 0.8-8.8-0.8-0.2-0.2 5.2-3 4-2.8 4.3-4.2 3-6.3-0.5-5.2-0.5-0.5-5.3 0.2-2.2 1.5-9.8 4.5-2.5 0.8-1.2 0-3.5 1.5-7.8 0.7-6.2-0.2-1.3-0.5-3.5-0.5-6.2-2.3-7.3-4-6.5-5-5.5-5.5-4.5-5.5-5.5-8.5-5.5-11.7-4-12.8-0.7-6-0.8-3zM738.4 238.1l-6.8 7.3-5 7.5-4 8.5-1.5 4-2.7 10.7-0.5 5.8-0.5 2 0 13.2 0.2 1-4.7 7-2.5 4.5-1.5 3.5 0.2 1 0.5 0.3 1-1 5.5-3 1.5-0.5 1.5 0 3-1.3 8.5-0.2 1.5 0.5 2.5 0 1.8 0.7 2.2 0.3 5.8 2.2 4 2 1 1 2 1 4 4 2.7 1.3 1.3 1.5 2.2 1 0.8 0.7 1 2.3 1.5 1.2 0.5 1.3 2.2 1.2 0.8 0.8 0.7 2 2.5 1.7 1.3 3 1.5 1.3 0.5 1.7 2.7 2.3 1.3 3.2 1.7 1.8 1 3.5 1.5 1.2 1.3 2.5 2 2.3 2.5 7.7 3 2.8 1.5 3 1.5 2 1.7 4.5 4.5-7.5 0.3-1.5 2.2-6 0-3 0.3-0.3-0.3-5.7-1.5-6.3 0.3-1-2.5-4.7-0.3-3.5-2-2.3-0.7-5.5-1.3-0.7-0.7-5-1-1 0-0.8-3.5-2.2-1-5.3-0.5-0.7-4-2-1-4.8-3.8-2.2-0.7-0.8-0.3-1-1.2-0.2-0.8-1-0.5-2-2-1.8-5.5-3-1.7-0.5-1-1-0.3-0.7-2.5-2-4.7-2.3-5-1.5-6.8-0.2-2.5-0.5-6.7-0.5-4 1.5-4.8 1-7 4.2-1.7 1.8-0.3-0.3 3.3-5 4.2-4.2 4.3-3 4-2 4.2-1.5 2.8-0.3 4-1 2 0.3 1.7-0.3 1 0.5 0.3-0.2 1 0.2 0.2-0.2 3.3 0 0.2 0.2 2-0.2 1 0.5 1-0.3 5.5 2.3 8 2.5 0.5 1 1.5 0.5 0.3 1 1.2 1 1 1.7 2.3 1 1.7 0 1.8 0.5 0.7 2.5 1.3 0.5 1.5 2.8 1.7 0 1.8 0.5 0.7 0.7 1.5 4.3 3.8 1 1.5 4.7 0.7 0.8 2.8 1 1 0.7 1.7 4.8 0 1 0.5 0.7 3.3 2.3 1.2 3.2 2 1.3 2.5 8.2 2.8 3.3 0.7 2.2 2.3 2.5 1.5 5 1.2 1.5 0 1 2 7 0.5 3.5 3.3 6.8 2.5 7.2 3 12.8 2 3 3.5 2.7 0.7 0.3 5-1.5 3-1.8 4.3-1.7 5.7-1.5 3.8-1.8 0.7 0.3 5.5-7 4-8 2.8-8.8 1.5-9.2 0-5.5 0.2-0.3 0.5 0.8 1.3 5 0.5-7.8-0.3-0.2 0-7.3-0.5-2-0.5-5.5-1.5-10.5-2.2-8-4-10.5-2.3-4-2.5-6.5-5.7-11-5.5-9.2-8.3-10.8-5-5.5-7.5-7-11.2-8.5-8.3-4.2-2.2-1.5-7.3-2.3-6.2-2.5-7-1.5-6.5-0.2-2.8-0.5-5.2 0-11.5 1.7-8 2.5-10 5z"/><path fill="#ffcd00" d="M698.4 364.9l0 10.7 0.5 2 0.5 5.5 1 4.3 0.7 7.7 2.3 7.5 2 3.3 1.7 6.7 1.5 2.3 4 10 5.3 9.7 1.5 2 3.7 6.8 7.3 9.7 4.2 4.3 3.3 4 8.7 7.7 8.8 6.3 5.5 2.7 5 3 16.2 5.5 4 0.8 9.3 0.5 0.2 0.2 5.3 0 9.2-1.2 11.3-3.5 9.5-5 7.7-6 6.8-7 5.5-8 4-8.5 1.5-4 2.7-10.3 0.3-3.7 0.7-4 0-4.8 0.3-0.2-0.3-10.3 1.3-1.5 3.7-6.2-1 1.7-2.7 2.3-1.3 1.5-0.5-1-1 0-1-0.5-5.5 3.5-4.7 2.2-9.3 2-1.5-0.2-6.7 3.7-2.8 3.3-5.7 5.2-1 1.5-5.5 5.3-2.5 1.7-3.3 3-8.7 5-7.3 2.8-7.5 1.5-8.2 0-5-0.8-0.3-0.2 1.8-0.8 7.7-4.7 3.8-3.5 3.2-6.3-0.7-4.2-6 0-1.8 0.5-6 3-4.2 1.5-2.8 0.2-3.5 1.3-9 0.7-1.7-0.5-3 0-2.3-0.7-1.5 0-5.2-1.8-5.8-2.7-3.2-2-6.5-5-5.8-5.8-3.7-4.5-6.3-9.5-3.7-7.5-3.3-8.5-2.7-9.5-0.3-4-1-4.5zM738.4 238.1l-6.8 7.3-5 7.5-4 8.5-1.5 4-2.7 10.7-0.5 5.8-0.5 2 0 13.2 0.2 1-4.7 7-2.5 4.5-0.3 1 0.5 1.3 0.8 0 1.7-1.3 4.8-2 2 0 1.7-0.7 8.5-0.5 1 0.5 2.8 0 8.5 2.7 6.2 3 1.8 1.5 1 0.3 4.5 4.5 2.2 1 1 1.2 3 1.5 1.5 2.8 1.8 1.2 0.7 1.8 2.5 1.7 0.5 1.5 2.8 1.8 1.5 3.7 1.2 1 0.3 1.3 3.2 2.5 1.3 3.5 1.5 1.7 0.7 2.5 2.3 1.8 1 2.7 2 2.3 2 6.2 4.2 3.8 1.8 3.7 2 3.3 2-3.3 1-3.7 2.2-4.5 0-4.5 0.5-4.8-1.2-4.5 0.2-2.7-2.2-4 0-3.8-2-2.5-0.8-5.5-1-0.7-0.5-3.8-1.5-1.7-0.2-1.5-3.3-2-1.2-6-3.5-1.5-0.8-0.8-1-4.7-4.2-2.5-0.5-1.3-1.5-0.5-0.5-0.5-0.8-2.7-1.5-1.3-5.5-3-2.5-0.7-1-1.8-2-1.7-4.7-2.3-5-1.5-6.8-0.2-2.5-0.5-6.7-0.5-4 1.5-4.8 1-7 4.2-2.7 2.8-0.3-0.3 0.3-1.2 3-4.5 4.7-5 4.3-3 4.5-2.3 4.5-1.5 3-0.2 3.7-1 1.3 0.2 1.7-0.2 0.8 0.5 3 0 0.2-0.3 3.8 0.3 0.5-0.3 0.7 0.5 1.8 0 5.5 2.3 5.2 1.5 1 0.7 1.5 0.3 0.5 1 0.8 0 0.7 0.5 0.3 1 1.2 0.7 1 2 2.5 1 1.5 0 1.8 0.5 0.7 2.3 1.3 0.5 1.7 3 0.8-0.3 3 1 1.5 4.3 0.5 0.5 3 0.7 0.7 0.8 1.3 4 0.7 0.5 0.3 0.7 2.5 0.8 1 0.7 1.5 3.8 0.5 2.2 3.7 3 1.5 3.5 1.8 1 2.5 8.3 2.7 3 1 2.7 2.3 2.5 1.5 5.3 1 1 1.5 6.7 0.5 1 0.2 2.5 4 8.5 3 9.5 2 9 2.5 3.8 3.8 2.7 0.7 0 5.8-1.7 6.2-3 5-1 4.8-2.3 0.2 0.3 5-6.5 4-8 2.8-8.8 1.5-9.2 0.2-8.3 0.3-0.2 1.2 2.7 0.5 2.5 0-2.7 0.3-0.3-0.3-9-2-13 0-1.7-0.5-3.3-2.2-8-4-10.5-2.3-4-2.5-6.5-5.7-11-5.5-9.2-8.3-10.8-5-5.5-7.5-7-11.2-8.5-8.3-4.2-2.2-1.5-7.3-2.3-6.2-2.5-7-1.5-6.5-0.2-2.8-0.5-5.2 0-11.5 1.7-8 2.5-10 5z"/><path fill="#ffc800" d="M698.4 368.6l0 7 0.5 2 0.5 5.5 1 4.3 0.7 7.7 2.3 7.5 2 3.3 1.7 6.7 1.5 2.3 3.8 9.5 4 7.5 7.2 12.2 6.8 9 4.2 4.3 3 3.7 9 8 10 7 4.3 2 5 3 16.2 5.5 4 0.8 9.3 0.5 0.2 0.2 5.3 0 9.2-1.2 11.3-3.5 9.5-5 7.7-6 6.8-7 5.5-8 4-8.5 1.5-4 2.7-10.3 0.3-3.7 0.7-4 0-4.8 0.3-0.2-0.3-10.3 1.3-1.5 3.7-6.2-0.7 1.5-2.5 2.2-1.8 2.5-0.5-0.7-2-0.3-5 3-5.2 2.5-4.5 0.8-1 0.5-1.8 0-3 0.7-0.2-0.2-6.3 3.5-5 5.2-3 2.5-8 8-2 1.3-3.7 3.2-5.8 3.5-5.5 2.5-4.5 1.5-8 1.5-6.7 0-6.8-1-0.5-0.5 0.3-0.2 1.5-0.3 4.5-2.5 4.2-2.7 2-1.8 3.5-6.5-1-1.2-0.2-2.3-0.3-0.2-3.2 0-5.3 1.2-1.7 1-5.8 2-3 0.3-2 0.7-3.2 0.3-1.8 0.5-0.7-0.3-5.3 0.3-0.2-0.3-3 0-8.5-2.2-7-3.3-3.3-2-6.7-5.2-5.5-5.5-4.5-5.5-5-7.5-4.5-8.8-3.8-10.2-2-7.3zM738.4 238.1l-6.8 7.3-5 7.5-4 8.5-1.5 4-2.7 10.7-0.5 5.8-0.5 2 0 13.2 0.2 1-5.7 8.8-0.8 1.5 0.3 1.2 1.5 0 1.7-1 3.5-1.2 2.8 0 0.7-0.5 2.8 0 0.2-0.3 2 0.3 4-0.3 1 0.5 2.3 0 8.2 2.8 6 2.7 1.8 1.5 2 0.8 2.2 2.5 0.8 0.2 1 1 0.7 1.3 5.3 3 1.2 1.5 0.5 1.2 2 1.3 1 2.2 1.8 1 0.5 1.3 3.5 2.7 1.2 3.3 1.3 1.5 0 0.5 3.7 3 1.3 3.7 1.2 1.5 0.5 1.8 3 2.5 1.3 3.2 1.7 2.3 1.3 4.2 0.7 0.3 1.8 2 2.7 2.2 2.8 5 3.7-8.5 0-4.5 1-3-0.5-3.2-0.7-2.3 0.5-3.2-2-3.8 0-4.2-1.8-2-0.7-6-0.8-0.5-0.5-3.3-2-2-0.2-2-3-2-1-5.7-4.3-2-1-5-4.2-2.5-0.8-1.3-1.7-0.5-1-3.2-1.3-1.3-5.5-3-3-1-0.7-1.2-2.8-2.5-3.7-1.8-5-1.5-6.8-0.2-7.2-1-2 0-4 1.5-4.8 1-7 4.2-3.5 3.5-0.2-0.2 0.7-2.8 4.3-6 2.7-2.7 5.5-4 4.8-2.3 3.2-1 4-0.5 2.8-0.7 2.5 0.2 0.5-0.2 1 0.2 5.2-0.2 1 0.5 2-0.3 0.8 0.5 1-0.2 6 2.5 7.2 2.2 0.8 0.5 0 0.5 1.2 0.3 0.8 1.2 1.2 0.8 1.3 2.2 2.2 1 0.8-0.2 2.5 0.7 0.5 0.8 0.2 1.5 1.5 0.7 1.5 2.8 0.8-0.3 2.7 0.8 0.5 0.5 1.3 3.7 1 1 3 0.8 1.5 4.2 1 0.8 0.2 0.7 3.5 1.5 2 6 3.8 3 1.5 3.5 1.7 1.3 2.3 7.5 3.2 3.7 1 2.8 2.3 3 1.2 4.5 1.3 2 1.2 5.7 0.5 1 0.3 2.5 2 3.5 0.2 1.3 2 4 0.8 3 1.5 3.7 1.7 6.5 0.8 4.3 3 4.5 3.2 2.5 1 0.2 6.5-2 6.3-3 4.2-0.7 1.8-1 3-1 4.7-6 4-8 2.3-7 2-11 0.2-11.8 0.3-0.2 0.2 0.2 0 0.8 1.8 4.5-0.3-8.8-2-13 0-1.7-0.5-3.3-2.2-8-4-10.5-2.3-4-2.5-6.5-5.7-11-5.5-9.2-8.3-10.8-5-5.5-7.5-7-11.2-8.5-8.3-4.2-2.2-1.5-7.3-2.3-6.2-2.5-7-1.5-6.5-0.2-2.8-0.5-5.2 0-11.5 1.7-8 2.5-10 5z"/><path fill="#ffc300" d="M698.4 371.6l0 4 0.5 2 0.5 5.5 1 4.3 0.5 6.5 2 7.2 1 2.5 1.5 2.3 1.7 6.7 1.5 2.3 3.8 9.5 5.5 10.2 1.5 2 4.2 7.5 6.8 9 4.2 4.3 3 3.7 9 8 10 7 4.3 2 5 3 16.2 5.5 4 0.8 9.3 0.5 0.2 0.2 5.3 0 9.2-1.2 11.3-3.5 9.5-5 7.7-6 6.8-7 5.5-8 4-8.5 1.5-4 2.7-10.3 0.3-3.7 0.7-4 0-4.8 0.3-0.2-0.3-10.3 4.3-6.2-4.3 5.5-0.7-0.5-2 0-3.8 2.2-5.7 2.8-7.3 1.7-3.2 0.3-6.8 3.7-3.5 3.8-5.5 4.7-6.7 6.8-2.8 1.7-2.7 2.5-5.8 3.5-3.7 1.8-6.8 2.5-9 1.5-7.7-0.3-6.8-1.2-0.2-0.3 0.2-0.2 2.5-0.5 1.8-0.8 5.7-3.5 3-2.5 2.8-5 0-0.5-1.5-2-0.3-1.2-2.5 0.2-3.5 1-3 0.3-5.5 2-3.2 0.2-6.3 1.3-0.7-0.3-4.5 0.3-2-0.5-3.5-0.3-7.3-2-7-3.2-3.2-2-6.8-5.3-5.5-5.5-4.7-5.7-5-7.5-5-10-1.3-4.3-2-4.7-0.5-2.5-0.7-1.8 0-1.7-1-3.8zM738.4 238.1l-6.8 7.3-5 7.5-4 8.5-1.5 4-2.7 10.7-0.5 5.8-0.5 2 0 13.2 0.2 1-5.7 8.8 0.2 0.5 1.3-0.3 1.2 0.5 4.3-1.5 3.2 0 2.3-0.5 2.5 0.3 3.2-0.3 1.8 0.8 2 0 8 2.7 10 5 2.5 2.5 0.7 0.3 2.5 3 4.5 2.5 0.8 0.7 0.5 1.3 2.5 1.7 1.5 3 1 0.5 1 1.5 3.2 2.3 2 4.7 4.3 3.5 1.7 4.8 0.8 0.7 0.2 1 3.5 2.8 1.3 3.5 1.7 2.5 0.8 2.7 1.7 0.5 1.3 1 1 1.8 2.2 2 1.5 3 2.3-4.5 0.2-3.8 1.5-5-1-3.5 0.5-4.7-1.5-2.8-0.2-5.5-1.5-1.5-0.8-6.5-0.7-0.7-0.3-2-2.5-2.5-0.2-2.5-2.5-1.5-1.3-6-4.2-2.3-0.8-3.7-1-1.8-3.2-1.7-0.8-1.3-1.7-0.5-0.8-0.7-0.7-3-0.8-0.8-5.5-3-3.5-1.2-0.7-1.3-1.3-0.5-1.7-2-3-1.5-5-1.5-6.8-0.2-7.2-1-2 0-4 1.5-4.8 1-7 4.2-4 4-0.2-0.2 0-0.8 1.7-4.5 5-6.2 2.5-2.3 4-2.7 5.3-2.5 3.2-1 4.3-0.5 2.7-0.8 3.8 0.5 0.5-0.2 2 0.2 0.5-0.2 2.7 0 0.3 0.2 1.7-0.2 0.8 0.5 1.5 0 5.5 2.2 8 2.5 0.5 1 1.7 0.5 0.3 1 1.5 1 1.2 2 2.3 1 0.5-0.2 2.2 0.5 0.8 1 0.2 1.2 1.5 0.8 1.8 3 0.7-0.3 2.5 0.8 0.5 0.5 1.3 3.5 1.2 1.2 2.8 0.8 1.5 4 1.2 1 0.3 0.7 3.2 1.5 2.3 6.3 3.7 2.7 1.5 3.8 1.8 1 2.2 7.5 3.3 3.7 1.2 3.3 2 2.5 1.5 5.2 1 1.3 2 8.7 2.3 4 4.5 12.3 2.5 10.2 3.2 4.8 3.3 2.5 1.7 0 5.8-1.8 6.2-3 4.3-0.7 1-1 3.5-1.3 4.2-5.2 4-8 2.8-8.8 1.5-9.2 0-5.5 0.2-0.3-0.2-9.5 0.2-0.2 2 5.2 0-5-0.5-2-1.7-14.5-2.5-9.5-4-10.5-2.3-4-2.5-6.5-5.7-11-5.5-9.2-8.3-10.8-5-5.5-7.5-7-11.2-8.5-8.3-4.2-2.2-1.5-7.3-2.3-6.2-2.5-7-1.5-6.5-0.2-2.8-0.5-5.2 0-11.5 1.7-8 2.5-10 5z"/><path fill="#ffbe00" d="M698.6 376.1l0.8 7 1 4.3 0.5 6.5 2.5 8.7 2 3.3 1.7 6.7 1.5 2.3 3.8 9.5 5.5 10.2 1.5 2 3.7 6.8 7.3 9.7 4.2 4.3 3 3.7 7 6.3 10.8 8 5.5 2.7 4.5 2.8 7 2.2 7.7 3 6 1.3 9.3 0.5 0.2 0.2 5.3 0 10.5-1.5 10-3.2 9.5-5 7.7-6 6.8-7 5.5-8 4-8.5 1.5-4 2.7-10.3 0.3-3.7 0.7-4 0-4.8 0.3-0.2 0-7-0.3-0.3 0-2.5-0.5-0.5-2.2-0.2-3.3 2-7.7 3.5-3.5 0.5-1.5 0.7-3.3 0.3-2 0.7-6.2 3.8-4 4.2-3 2.5-5.8 5.8-7.2 5.7-5.8 3.5-6.5 3-4.5 1.5-7 1.3-3.7 0-0.3 0.2-5.5-0.2-5.7-1-2.8-1 0.3-0.3 3.7-0.7 4.8-2.5 4.5-3.5 2.5-4.3-2.3-3-1.2 0-3.3 0.8-4.2 0.2-3 1.3-3 0.5-3.8 0.2-3.2 0.8-1-0.3-3.8 0-0.2 0.3-1.8-0.5-3.5-0.3-8.2-2.2-7-3.3-4.3-2.7-6-4.8-5.2-5.2-4.3-5-6-9-4.7-9.5-1-3.8-1.8-4-1.2-4-0.3-3.2zM716.9 298.9l-3.5 5.5-0.3 0.7 0.5 0.3 1.3 0 1.2 0.5 1.8-0.8 6-0.2 2-0.5 1.2 0.5 3.3 0 1.7 0.7 1.8 0 7.7 2.8 10.8 5.2 1.7 2 1.3 0.5 1.2 1.3 1.5 2.2 4.3 2.3 1.5 2.2 1.7 0.8 0.8 0.7 1.5 3.3 1.5 1.5 3.5 2.2 2 4.8 4.5 3.7 2 5.3 4.5 4 1.2 3.5 1.5 2.5 0.3 1.2 3.7 1.3 3 4.5 0.8 0.5 0.2 0.7 0.3-0.2 2.5-9 0-1.5-0.5-1.3 0.5-6.2-1.3-2.3-0.2-6-1.3-1.7-0.5-5.3-0.7-1.5 0-1.2-3-3-0.5-3.3-2.3-1.5-0.7-4.5-1-1.2 0-0.5-3.8-1.8-0.7-4-1-0.5-0.3-1.2-3.2-1.8-0.5-1-2.5-1-1.3-4-5.5-3-3.7-1.2-1.5-1.8-1-0.2-1.8-1.8-3.7-2-4.5-1-5.8-0.2-7.2-1-2 0-4 1.5-4.8 1-7 4.2zM738.4 238.1l-6.8 7.3-5 7.5-4 8.5-1.5 4-2.5 9.5-1.2 9 0 13.2 2-5.7 2.7-3.8 4.5-4.5 3.5-2.5 5-2.5 4.5-1.5 4.8-0.5 2.5-0.7 2 0.5 0.2-0.3 0.8 0.3 6-0.3 0.7 0.5 1.8-0.2 0.7 0.5 3 0.5 4.5 2 7.3 2.2 0.5 0.8 1.5 0.5 0.5 1 1.5 1 1.5 2.2 1.5 0.8 3.5 0.5 0.7 2 1.5 0.7 1.8 3.3 0.7-0.3 2.8 0.8 1.5 3.7 1 0.8 0.2 0.7 2.8 0.8 0.5 0.5 1 3.2 1.5 1.3 0.7 1.2 1.8 0.5 1 0.8 2 5.7 4 3 1.7 4.3 1.5 1 2 6.7 3.5 4 1.5 3.8 1.8 2 1.5 5.2 1 1.3 1.7 8 2.8 5 0.5 2 2 4 0.7 3.2 1.8 4.8 1.7 7.5 4 5.7 2.5 2 2 0.3 6-1.8 5.8-2.7 4.5-1 1.7-1.5 3.3-1.3 3.2-4.2 4-8 2.8-8.8 1.5-9.2 0.2-12.5-0.2-0.3-0.3-5.5 0.3-0.2 2.2 5-2.2-18.3-2.5-9.5-4-10.5-2.3-4-2.5-6.5-5.7-11-5.5-9.2-8.3-10.8-5-5.5-7.5-7-11.2-8.5-8.3-4.2-2.2-1.5-7.3-2.3-6.2-2.5-7-1.5-6.5-0.2-2.8-0.5-5.2 0-11.5 1.7-8 2.5-10 5z"/><path fill="#ffb900" d="M700.1 386.1l1 9 2.3 7.5 2 3.3 1.7 6.7 1.5 2.3 4 10 5.3 9.7 1.5 2 4.2 7.5 6.8 9 4.2 4.3 3 3.7 7 6.3 10.8 8 5.5 2.7 5 3 16.2 5.5 4 0.8 9.3 0.5 0.2 0.2 5.3 0 9.2-1.2 10-3 10.8-5.5 7.7-6 6.8-7 5.5-8 4-8.5 1.7-4.8 2.5-9.5 0.3-3.7 0.7-4 0.3-12-0.3-1.5-0.7-0.8-1-0.2-1.3 0.2-4.5 2.5-6.5 2.8-2.2 0.2-3.3 1.3-3.2 0.2-3 2-3.8 2-14.2 13.5-2.8 1.8-3.2 2.7-6.3 3.8-4.7 2.2-6.5 2.3-7 1.2-8.3 0-4-0.5-6.2-1.5-0.3-0.5 5.8-1.5 2.7-1.5 2.3-2 1.7-1 2.5-3.7-2.2-2.8-8.5 0.8-2 0.7-4.5 0.8-1.8-0.3-3.2 0.8-6-0.3-1.8-0.5-2 0-9-2.5-9-4.5-5-3.5-3.2-2.7-5.3-5.3-5-6-4.5-6.7-5.5-10.8zM717.1 298.6l-2.7 4.8 1.5 0.2 1.2 0.8 1-0.5 2.3-0.3 3.2 0.3 2.8-0.5 1.7 0.7 2-0.2 2.5 1 1.3 0 1.5 0.7 2.2 0.5 10 4.3 2.3 1.5 2.7 1.2 1.8 1.8 1.2 0.5 3.5 4.2 3.5 1.8 1 1.7 1.8 0.8 1.2 1 1.3 2.7 1.2 1.8 3.3 2 1 1 1.5 3.7 0.7 0.3 0.8 1.5 3.5 2.7 1.5 4.3 5 4.5 2.5 6 5.2 2 2.5 3.7 1.8-6-0.5-2.5 0.7-6.5-1-1.7-0.2-6.5-1-1.5-0.5-5.5-0.5-1.8-3.5-3.2-0.5-4-1.8-1-0.7-4-1.5-1.5 0-1.3-3.5-1.7-0.5-3-1.5-1-0.5-2-2.5-1.3-0.3-0.7-3-1.3-1-3.5-1-1-4.5-2.5-4.2-1.5-1.3-1.5-1.2-0.2-1.8-1.8-1-0.2-1.7-1.3-3-1-2.8-0.2-1.5-0.5-3.5 0-7.2-1-2 0-4 1.5-4.8 1-7 4.2zM738.4 238.1l-6.8 7.3-5 7.5-4 8.5-1.5 4-2.5 9.5-1.2 9 0 12.5 1.5-5.3 3.2-4.5 3.8-3.7 3.7-2.8 5.5-2.7 4.5-1.5 5-0.5 1.5-0.5 2.3 0.2 6.7 0 0.3-0.2 1 0.5 1.5-0.3 1.5 0.8 0.7-0.3 5.3 2.3 6 1.7 2.5 1 0.5 0.8 1.5 0.2 0.5 1.3 1.5 0.7 1.5 2.5 1.7 0.8 3.3 0.5 0.7 2 1 0.2 1 1 1.3 2.5 2.7 0.5 1.3 0.8 1 3.2 0.7 0.3 1 1.5 2.8 0.7 1 3.5 1.5 1 0.7 1.5 2.3 0.8 0.7 0.7 2 5.8 4 3 1.5 3.7 1.8 1.5 1.7 6.3 4 4.5 1.3 3.5 1.7 2 1.8 6 1 1.5 1.5 6.7 3 5.3 0.7 2.7 1.8 3.5 1 4 1.5 4 1.5 6.5 4.5 6.5 1.7 1.5 2.8 0.8 4.2-1.5 1.8-0.3 5.7-2.7 4.3-1 2.2-2 2.8-1 2.7-3.5 4-8 2.8-8.8 1.5-9.2 0-5.5 0.2-0.3 0-6.7-0.2-0.3-0.5-9 0.2-0.2 2.3 5.2-2-15-2.5-9.5-4-10.5-2.3-4-2.5-6.5-5.7-11-5.5-9.2-8.3-10.8-5-5.5-7.5-7-11.2-8.5-8.3-4.2-2.2-1.5-7.3-2.3-6.2-2.5-7-1.5-6.5-0.2-2.8-0.5-5.2 0-11.5 1.7-8 2.5-10 5z"/><path fill="#ffb400" d="M700.4 388.4l0.7 6.7 2.3 7.5 2 3.3 1.7 6.7 1.5 2.3 4 10 5.3 9.7 1.5 2 4.2 7.5 6.8 9 4.2 4.3 3 3.7 7 6.3 10.8 8 5.5 2.7 5 3 16.2 5.5 4 0.8 9.3 0.5 0.2 0.2 5.3 0 9.2-1.2 10-3 10.8-5.5 7.7-6 6.8-7 5.5-8 4-8.5 1.7-4.8 2.5-9.5 0.3-3.7 0.5-2 0.2-6.8 0.3-0.2 0-7-1-1.3-2.8 0.3-3.2 2-1.3 0.2-2.7 1.5-3.5 1.3-3 0.5-2.3 1-3.5 0.5-6.5 4-8 7.5-1.5 1-4.5 4.5-2.7 1.7-3 2.5-5.8 3.5-5.7 2.8-6.5 2.2-7.5 1.3-7 0-4.3-0.5-5.7-1.3-2.5-1 1.5-0.7 5.5-1.3 2.2-1.2 2.8-2.3 2.2-2.7-2.5-3-2 0.5-6.5 0.2-4.2 1-3.3-0.2-1.7 0.5-3.8-0.5-1.7 0.2-3.3-0.7-1.5 0-8-2.3-6.7-3-5.3-3.2-6-4.8-5.2-5.2-4.5-5.3-5-7.5-4.8-9zM718.9 296.9l-2.8 4-0.2 0.7 2.2 1 4-0.5 1.3 0.5 3.2-0.2 1.8 0.7 2 0 2.5 1 1 0 13 5.3 5.7 3 1.5 1.5 2.3 1 1.7 2.5 2.5 2.5 1.8 0.7 1.5 1.8 3 1.7 2 4 1 1 3.7 2.5 1.3 3.3 1.2 0.5 1.3 2.2 2.7 2.3 1.3 3.5 1.7 0.7 1 2 3 2.5 1.8 4.5 2-0.2 1.7 2 3 1 1 1.5 0.8-2.5-0.3-2 0.8-6.8-0.8-1.2 0-6.3-1-2.5-0.5-5.2-0.5-1.3-3.7-3.5-0.5-4.5-1.5-1-0.5-3-2-1.7-0.3-2-2.2-1-0.8-0.8-0.5-2.7-1.2-0.5-0.8-0.8-0.2-2-2-1-0.8-1-2.5-0.7-0.5-0.5-0.7-3-1-0.5-0.5-1.3-3.8-2-5-1.7-0.7-1.3-1.5-0.2-1.5-1.5-1.5-0.5-1.8-1.3-0.7 0-2.3-1-2.7-0.2-1.5-0.5-3.3 0-6.7-1-2 0-4 1.5-4.8 1-7 4.2zM738.4 238.1l-6.8 7.3-5 7.5-4 8.5-1.5 4-2.5 9.5-1.2 9 0 11 1.5-4.8 2.5-3.5 4-4.2 4.5-3.3 5.2-2.5 4.8-1.5 5-0.5 1.5-0.5 3 0.5 0.7-0.2 8 0.2 0.8 0.5 1.2 0 1.3 0.8 1.5 0.2 4 1.8 4.7 1.2 0.5 0.5 1.5 0.3 1 1 1.3 0.2 0.5 1.3 1 0.2 2.2 3 1.5 0.8 3.3 0.5 0.7 1.7 1.3 0.5 0.7 0.8 1.5 2.7 3.8 1 1 3.3 0.7 0.2 1.3 1.8 2 0.5 0.7 0.7 0.8 2.8 1.7 1.2 1 1.8 2.5 1 2 5.7 4.3 3.3 1.7 4.2 1 0.5 0.5 0.8 1.5 5.5 4.3 5 1.5 4 1.7 2 1.8 6 0.7 1.2 1.3 5.5 3.5 6.5 1 3.3 1.2 2.2 2.5 7.8 1.5 6.5 5 7.2 2 1.8 3.3 0.2 2.5-1 3.5-0.7 6.2-3 2.3-0.3 3.5-2.7 1.7-0.5 2.5-3 4-8 2.8-8.8 1.5-9.2 0-5.5 0.2-0.3-0.2-10.7-1-8.5 0.2-0.3 2.3 5-1.8-13-2.2-8-4-10.5-2.3-4-2.5-6.5-5.7-11-5.5-9.2-6.8-9-6.5-7.3-9.5-8.7-7.5-5.5-12.2-7-7.3-2.3-6.2-2.5-9-1.7-12.5-0.5-9.5 1.2-4.5 1.3-7.3 2.5-8.2 4.2z"/><path fill="#ffaf00" d="M700.6 390.6l0.5 4.5 2.3 7.5 2 3.3 1.7 6.7 1.5 2.3 3.8 9.5 5.5 10.2 1.5 2 3.7 6.8 7.3 9.7 4.2 4.3 3.3 4 8.7 7.7 8 5.8 11.3 6.2 6.5 2 5.5 2.3 8.2 2 9.3 0.5 0.2 0.2 5.3 0 7.7-1 4.5-1 8.3-2.7 9.5-5 6.2-4.8 8.3-8.2 5.5-8 4-8.5 1.5-4 2.7-10.3 0.3-3.7 0.7-4 0-4.8 0.3-0.2 0-6-1.3-1.3-1.2 0-9.8 4.5-2.2 0.8-2.3 0.2-3.5 1.5-2.7 0.3-7.5 4.7-13 12-4.5 3-1.3 1.3-5.5 3.2-7.5 3.5-5.2 1.8-7.8 1.2-6.2 0-4.5-0.5-9-2.2-0.5-0.5 0.2-0.3 7.8-2 5-4 0-0.5-2.3-2.7-8 0.2-1.7 0.5-5.8 0-0.2 0.3-8-0.8-6.3-1.2-4.5-1.5-9.5-4.8-8.5-6.5-5-5-5.7-7-5.5-8.7-2.8-5.5zM717.4 299.6l0.5 0.5 1.2 0.3 0.8 0.7 3.2-0.2 1.5 0.7 2-0.2 11.5 3.2 3.5 1.5 1.8 1.3 5.5 2.2 4.2 2.3 0.8 1 2.7 1.2 1.3 1.8 2.2 1.7 1.3 2 1.2 0.5 1 1.3 3 1.5 0.8 0.7 1.2 2.8 1.5 1 0.5 1.2 3.3 2.3 0.7 2.2 2.8 1.8 1 2.5 2.2 2 0.8 2.2 3 1.5 1.5 3.3 2 1.7 1 2.8 4.5-1 3.2 3 0.5-5-0.5-4.3 0-5.7-0.5-0.5-0.5-3.8-1.7-2.2 0.2-2-3-2.8-0.7-5.2-1.3-0.8-0.5-2.7-2.2-1.5-0.3-2.5-2.5-1.5-0.5-2.5-1.7-0.8-0.8-0.7-0.2-2-0.8-1-0.7-0.3-1-1-3-1.2-0.8-2.8-1.2-0.5-0.5-1.7-3.3-1.8-5.5-2-0.7-1-1.8-0.5-1.2-1.2-1.3-0.3-1.7-1.2-3.8-1.3-2.7-0.2-1.3-0.5-3 0-1.5-0.5-6.7-0.5-4.8 1.7-1 0-4 1.3-6 3.7zM738.4 238.1l-6.8 7.3-5 7.5-4 8.5-1.5 4-2.7 10.7-0.5 5.8-0.5 2 0 9.7 1.7-5 2-2.7 3.8-4 4.5-3.3 5.7-2.7 4-1.3 4-0.7 1 0.2 2.8-0.7 1.5 0.5 2.5-0.3 2 0.3 2.5-0.3 1 0.5 1.2-0.2 1.5 0.7 0.5-0.2 6 2.5 8.3 2.5 0.2 0.7 1.5 0.3 1 1.5 0.8 0 1.2 2 1.5 1.5 4.3 1 0.5 0.5 0.2 1.2 2 1 1.5 3 3.5 0.8 1.3 3.2 1 0.5 1.5 2 2 0.5 1 3 2 1.5 1 1.8 2.5 1.2 1.7 5.3 4.5 3.5 1.8 4.5 1 0.5 0.5 0.7 1.2 4.8 1 1 0.8 1.5 3 3.2 1.2 3.8 1.8 2 1.7 6 0.8 1.2 1 4.8 4.2 8 0.5 2 1.5 3 2.5 7.7 1.3 5.5 5.5 8 1.7 1.5 3.3 0.5 3.5-1.2 2.7-0.5 6.3-3 2-0.3 1-0.5 2.7-2.5 1.5-0.5 2-2.2 4-8 2.8-8.8 0.7-4.5 0-1.5 0.8-3.2 0.2-12.5-0.2-0.3-0.3-7.5-1.2-8 0.2-0.2 2.3 4.5-1.3-9.3-2.2-8-4-10.5-2.3-4-2.5-6.5-5.7-11-5.5-9.2-6.8-9-6.5-7.3-9.5-8.7-7.5-5.5-12.2-7-7.3-2.3-6.2-2.5-9-1.7-12.5-0.5-9.5 1.2-4.5 1.3-7.3 2.5-8.2 4.2z"/><path fill="#ffaa00" d="M700.9 392.9l0.2 2.2 2.3 7.5 2 3.3 1.7 6.7 1.5 2.3 3.8 9.5 5.5 10.2 1.5 2 3.7 6.8 7.3 9.7 4.2 4.3 3.3 4 8.7 7.7 8.8 6.3 5.5 2.7 5 3 6.5 2 7.7 3 6 1.3 9.3 0.5 0.2 0.2 5.3 0 10.5-1.5 8.7-2.7 10-5 8.5-6.5 6.8-7 5.5-8 4-8.5 1.7-4.8 2.5-9.5 0.3-3.7 0.7-4 0.3-10-1-1-1-0.3-2 0.5-3 1.8-2 0.5-2.8 1.5-3 1-2 0.2-4.2 1.8-1.8 0-7.5 4.7-12 11-6.5 4.8-5.7 3.5-7 3.2-6.3 2-8.5 1.3-7.5-0.3-8.7-1.7-3.8-1.3-0.2-0.5 3.5-1.2 4.7-1 1.8-1 1.7-2.3-1.7-2.5-4.3 0.3-2.2-0.5-1.5 0.5-3.3 0-0.2-0.3-3.3 0.3-9-1-4.2-1-5.8-2-4.7-2.3-6.3-3.7-6.2-5-5-5-6.3-7.8-6-9.7zM719.1 298.1l1.3 0.3 0.7 1.2 2-0.2 2 1 1.8 0 2.7 1 3.8 0.5 0.7 0.5 3.5 0.7 4.5 2 4.5 3 6.5 3 1 1 2.8 1.3 2 2.5 1 0.2 1 1 1.2 2.3 0.8 0.2 0.5 0.8 3.5 1.7 0.7 0.8 1 2.2 2.3 1.5 0.7 1.8 2.5 2 1 2 2.3 1 0.7 0.7 1.5 3.5 1.3 1 0.5 1.5 4 1.8 2 4.5 1 0.7 0.5 1.5 6.2-1.7 0.8 0 0.5 0.5-0.3-9.5-0.2-1-3-4.3 0.2-3.2-2.5-2.5-0.7-5.8-0.8-0.5-0.5-2-2.7-1.7-0.5-3.5-2-1.3-0.3-1.5-0.5-0.5-1.7-0.7-0.8-0.8-0.5-3.2-2.5-1.5-2.2-0.8-0.5-0.5-0.5-2.2-1.3-0.3-0.5-0.5-0.7-2.2-2.3-1.3-5.7-2-0.8-1-2-0.5-1.2-1.2-1.3-0.3-2-1.2-1.5-0.3-1.5-0.7-5-1-2.7 0-1.3-0.5-6.2-0.5-5.5 2-2.3 0.2-2 0.8-6 4zM738.4 238.1l-6.8 7.3-5 7.5-4 8.5-1.5 4-2.7 10.7-0.5 5.8-0.5 2 0 8.5 1-3.3 1.2-2.2 1.5-2 4.3-4.3 3.5-2.5 5-2.5 5.2-1.7 4-0.8 1.3 0.3 1.5-0.5 2 0.2 4.5-0.2 0.2 0.2 5.3 0.3 0.7 0.5 1.3 0 7.2 3 6.8 2 0.5 0.7 1.5 0.3 0.5 1.2 1.2 0.3 1 1.7 1.8 1.8 1 0.5 0.2-0.3 2.3 0.5 1 0.8 0.5 1.2 1.2 0.3 2.3 3.7 2.5 0.5 1.2 0.8 0.8 2.5 1.7 1.2 0.8 1.5 1.5 0.3 0.7 0.5 0.8 2.5 2.2 1.7 1 2 1.8 0.5 0.7 0.8 1.5 4.5 1.5 1.7 3.3 2.5 1.7 4.3 1.3 1 1.5 5 4.7 5.7 1.5 4.3 1.8 2.2 1.7 6 0.5 0.5 1 4.5 1.3 1.8 3 6 1 3.2 1.5 3 0.7 3.3 1.5 4 1 4.5 3.3 5.2 3.2 4.3 1.8 0.7 3.5 0.3 1.7-0.8 3.8-0.7 6.2-3 2.5-0.5 4-3.5 1-0.3 1-1.2 4-8 2.8-8.8 1.5-9.2 0.2-12.5-0.2-0.3-0.3-7.5-1.5-9.5 0.3-1.5 0.7 1.8 1 0.5-0.5-4.3-2.2-8-4-10.5-2.3-4-2.5-6.5-5.7-11-5.5-9.2-6.8-9-6.5-7.3-9.5-8.7-7.5-5.5-12.2-7-7.3-2.3-6.2-2.5-9-1.7-12.5-0.5-9.5 1.2-4.5 1.3-7.3 2.5-8.2 4.2z"/><path fill="#ffa600" d="M701.4 395.6l2 7 2 3.3 1.7 6.7 1.5 2.3 4 10 5.3 9.7 1.5 2 3.7 6.8 7.3 9.7 4.2 4.3 3.3 4 8.7 7.7 8.8 6.3 5.5 2.7 5 3 6.5 2 7.7 3 6 1.3 9.3 0.5 0.2 0.2 5.3 0 10.5-1.5 8.7-2.7 10-5 8.5-6.5 6.8-7 5.5-8 4-8.5 1.7-4.8 2.5-9.5 0.3-3.7 0.7-4 0-4.8 0.3-0.2 0-3.8-1.3-1.2-1.5 0-9.7 4.2-4.3 1-3.5 1.5-3.5 1-6.2 4-5.3 5-3.7 2.8-3 3-6.3 4.5-6 3.7-7.7 3.5-5.8 1.8-6.5 1-8.5 0-4-0.5-6.5-1.5-3.5-1.3-1-0.7 4.8-1.5 3.7-0.8 0.5-0.5 0.3-1.2 1-1.3-0.5-1-2 0-3.3-0.7-3.7 0.2-0.3-0.2-8.2-0.3-9-1.7-4.5-1.5-5-2.3-6-3.5-6-4.5-6.8-6.5-7-8.7-6.2-10.8-0.8-2.7zM721.6 295.1l-0.5 1.3 0.8 0.5 0.5 1.5 1.2-0.3 2.5 1.3 7.8 1.2 1.2 0.8 2.5 0.5 5.5 2.5 3 1.7 2.5 2.3 8.5 4.2 1.5 2 2.5 1.3 2 3.5 4.3 2.2 1.7 2.8 2.3 1 1.5 3.2 1.5 1 0.5 1.3 3.7 2 2 4.5 1.3 1.5 3.5 1.2 1 0.8 2.5 5.2 5.5-8.5-2.8-3.7 0.5-4.8-2-2-0.7-6.2-0.5-0.3-0.3-1.2-3.5-2.3-0.5-4.2-1.5-0.8-0.2-1.5-3.3-1.7-0.7-3.8-1.3-1-3-1-0.7-1-0.3-1.2-2.2-1.3-0.5-2-0.8-1-6.7-2.5-1.3-1-2.2-0.7-1-1-1.5-0.3-2-1.2-8-2-2.3 0-5.2-1-2 0-6 2.2-3 0.5zM738.4 238.1l-6.8 7.3-5 7.5-4 8.5-1.5 4-2.7 10.7-0.5 5.8-0.5 2 0 7.2 0.7-2.5 1.5-2.7 5.3-5.8 4.2-3 5.3-2.5 0.7 0 4-1.5 3-0.5 2.8 0 1.5-0.5 6.7 0.3 0.3 0.2 2-0.2 1 0.5 1-0.3 1.5 0.8 1 0 5.2 2.2 6.3 1.8 0.5 0.5 2 0.5 0.7 0.7 1.3 0.3 0.5 1 1 0.2 3 3.8 3.7 0.7 0.8 0.5 0.2 1.3 1.8 0.5 2 3.7 3.2 0.8 0.8 1 0.5 2 1.2 0.5 1.5 2.2 1.8 0.5 0.5 0.5 0.5 2 2.5 2 1 2 2.2 1 1.5 4.5 1 0.8 1 1.5 3 2.2 2 4.8 1 0.7 1.3 4.3 1.5 1.5 0.7 1.7 2.8 3 1.2 3.5 2 3 0.8 3 1.7 4.5 0.5 2.8 2 3 3 6.2 0.8 2.8 1.5 3 3 10.7 4.2 6.8 2.8 3.5 1 0.5 4 0.5 5.5-1.5 6-2.8 2.7-0.7 4-3.5 1-0.5 4.5-8.5 2.8-8.8 1.5-9.2 0.2-12.5-0.2-0.3-0.3-7.5-0.5-2-1-9-0.7-2.7 0.2-0.8 1 1.8 0.8-0.5 0-0.8-2-7-4-10.5-2.3-4-2.5-6.5-5.7-11-5.5-9.2-6.8-9-6.5-7.3-9.5-8.7-7.5-5.5-12.2-7-7.3-2.3-6.2-2.5-9-1.7-12.5-0.5-9.5 1.2-4.5 1.3-7.3 2.5-8.2 4.2z"/><path fill="#ffa100" d="M702.4 398.9l1 3.7 2 3.3 1.7 6.7 1.5 2.3 3.8 9.5 5.5 10.2 1.5 2 4.2 7.5 6.8 9 4.2 4.3 3 3.7 9 8 10 7 4.3 2 5 3 16.2 5.5 4 0.8 9.3 0.5 0.2 0.2 5.3 0 9.2-1.2 11.3-3.5 9.5-5 7.7-6 6.8-7 5.5-8 4-8.5 1.5-4 2.7-10.3 0.3-3.7 0.7-4 0.3-7.5-1.3-1.5-1 0-2 0.5-2 1.2-2 0.5-3 1.5-5.5 1.5-4.7 2-1 0-7.5 4.8-4.5 4.2-4.8 3.5-2.5 2.5-6.2 4.5-6 3.8-7.3 3.2-6.7 2-6.5 1-7.5 0-7-1-7-2-3-1.5 8.2-2.2 0.8-2.3-0.5-0.5-5.8-1-8.7-0.2-1.3-0.5-3.5-0.3-1.7-0.7-2.3-0.3-5.7-2-5.8-2.7-5-3-4.5-3.3-8.2-7.7-7-8.8-3-5.5-2.5-3.7zM723.1 294.4l0.3 1.7 0.5 0.8 2.7 0.5 1.3 0.7 3 0.3 1 0.7 2.5 0.3 1.7 1 1.8 0.2 9 4.5 4 3.5 6.5 3.3 1.5 1.7 2 0.8 1 1 1.5 2.7 1.2 1.3 3 1.5 1.5 2.2 3 1.5 1.8 3.8 1 1.2 4.5 2.3 2 4.7 0.7 0 0.3 0.8 4.5 1.7 0.5 0.5 1.5 3.3 3.2-5-0.2-1-1.3-1.5 0.5-6.5-1.5-1.8-0.5-5.7-1.2-1.8-3.3-2.2-0.5-4.8-0.5 0-0.7-0.7 0-0.8-3.8-2-0.7-4.5-4.5-1.7-0.5-1.8-2-0.7-0.8-0.8-1-3.2-7-2.5-1.2-1-2-0.5-1-1-2.3-0.5-2.5-1.3-4.5-1.2-9.2-1.5-1.5 0-0.8 0.5-2.7 0.5-3.8 1.5-2 0.2zM738.4 238.1l-6.8 7.3-5 7.5-4 8.5-1.5 4-2.7 10.7-0.5 5.8-0.5 2 0 6.2 0.5-2 2.2-4 4.3-4.5 4.2-3 5-2.5 5.8-1.7 2.7-0.5 3 0 1.5-0.5 1.3 0.5 2.2-0.3 4.5 0.3 0.5-0.3 1 0.5 1.5 0 0.8 0.5 1 0 5.2 2.3 9 2.7 0.5 0.8 1.5 0.2 0.8 1.3 0.7 0 1 0.7 0.3 0.8 1.5 1.2 0.7 1.3 3.8 0.7 1 1.8 1.2 0.2 0.8 0.8 1.7 3.2 3.3 0.8 1 2.7 1.2 0.5 0.8 0.8 1 2 2 0.5 0.7 2.5 1.5 0.7 1 1 1.3 2.3 2 1 1.2 4 1.5 1.2 1 1.5 2.8 2 2 5 1 0.8 1 3.5 2 2.2 0.7 1.8 2.8 3 1.2 3.7 1.8 2.5 1 3.8 1.5 3.7 0.2 1.8 1.8 2.7 3.5 7 1.2 4 1.3 2.5 2.7 9.8 4.5 7.2 3 3.8 3.5 0.7 2.3 0 1-0.5 3.7-0.7 7.3-3.3 1 0 5.5-4.7 3.7-7.5 2.8-8.8 1.5-9.2 0.2-12.5-0.2-0.3-0.3-7.5-0.5-2-1-9-1.5-6.2 0.3-1 1 2 0.5 0.2 0.2-0.5-1.2-4.5-4-10.5-2.3-4-2.5-6.5-5.7-11-5.5-9.2-6.8-9-6.5-7.3-9.5-8.7-7.5-5.5-12.2-7-7.3-2.3-6.2-2.5-9-1.7-12.5-0.5-9.5 1.2-4.5 1.3-7.3 2.5-8.2 4.2z"/><path fill="#ff9c00" d="M705.9 407.9l1.2 4.7 1.5 2.3 3.8 9.5 5.5 10.2 1.5 2 4.2 7.5 6.8 9 4.2 4.3 3 3.7 9 8 10 7 4.3 2 5 3 6.5 2 7.7 3 4.5 1 3.8 0.5 7 0.3 0.2 0.2 5.3 0 9.2-1.2 11.3-3.5 9.5-5 7.7-6 6.8-7 5.5-8 4-8.5 1.5-4 2.7-10.3 0.3-3.7 0.7-4 0.3-6.3-1.8-1.7-2.7 0.7-6.3 2.8-6 1.7-6.5 2.5-6.5 4.3-4 3.7-4.7 3.5-2 2-6.5 4.8-6 3.7-7.5 3.5-7.5 2.3-7 1-6.5 0-4.5-0.5-8.5-2-5.8-2.5 0.3-0.3 1 0 2.7-1.2 2 0 1.8-0.5 0.2-0.8-1.5-0.2-2.2-1.5-4.5-0.3-1-0.5-3.3 0-2-0.7-1.7 0-4.3-1.3-1 0-8.5-3.2-4.7-2.5-5-3.3-4.5-3.5-7-6.7-7.3-9.3zM727.4 291.4l0 1-1.3 2.2 0.3 0.5 1.7 0.3 0.8 1.2 2 0 1.7 1.3 2.3 0.2 1.5 1 2.2 0.5 1.5 1 3.8 1.5 1.7 1.3 2.3 1 2.2 2 0.5 0 2.3 2.5 4.7 2.2 1 1.3 3 1.2 1.8 2.8 1.7 1 1 2 1.8 0.7 1.2 1.8 3.5 1.5 2.8 5.2 4.7 2.5 1.5 3.3 3-0.8 0.8 1.3 0.7 2.5 2 0.7 0.8 1.5 1.2-2-0.7-1.2 1-7.5-1-0.8-0.5-5-1.3-1.2 0.3-1.3-3.8-2.7-0.7-5.5-1-1-3.5-1.8-1.3-5.2-4-1.5-0.7-1.8-2.5-0.7-1-3-1-1 0-0.5-6.5-2.3-0.8-0.7-2.7-0.8-0.5-0.7-2.5-0.5-1.8-1-5.5-1.5-8.2-1.5-1.5 0.2-4 1.8-3 0.2-2.3 0.8zM738.4 238.1l-6.8 7.3-5 7.5-4 8.5-1.5 4-2.7 10.7-0.5 5.8-0.5 2 0 5 0.2-1.3 1.8-3.5 5.5-5.7 3.5-2.5 3.5-1.8 3.2-1.2 5.8-1.5 4.7-0.5 1.8 0.2 5.2-0.2 0.3 0.2 2.5 0 1 0.5 0.7-0.2 8.3 3.2 8.2 2.5 0.8 0.8 1.5 0.2 0.5 1 1.7 0.8 0.5 1.2 0.8 0.3 1.5 2 3.5 0.7 0.7 1.5 1.8 0.5 1.7 3.3 0.8 0.7 3 0.8 0.7 1.2 0.3 1.3 2.2 1.5 1 2 1.3 0.2 0.7 0.8 0.5 1.7 1.5 0.8 1.3 1.2 0.7 1.8 2.3 1.5 1.2 3.5 1.8 1.7 0.5 1 3 2.3 2.2 5.2 1 1 0.8 3 2.2 2.3 0.8 2 2.7 3 1.5 4.2 1.5 2 1.3 4.5 1.2 3 0 1 2.5 4 3.5 7.3 1 3.5 2 4.7 1.8 6.8 5 7.7 2.7 3.5 1.5 0.5 4.5 0.5 5.5-1.5 6.5-3 0.8 0 4-3.2 1.2-1.5 3.5-7 2.8-8.8 1.5-9.2 0.2-12.5-0.2-0.3-0.3-7.5-0.5-2-1-9-2.2-10 0.2-0.5 1.5 2.5 0.3-0.2-4.5-12.3-2.3-4-2.5-6.5-5.7-11-5.5-9.2-6.8-9-6.5-7.3-9.5-8.7-7.5-5.5-12.2-7-7.3-2.3-6.2-2.5-9-1.7-12.5-0.5-9.5 1.2-4.5 1.3-7.3 2.5-8.2 4.2z"/><path fill="#ff9700" d="M706.4 409.9l0.7 2.7 1.5 2.3 3.8 9.5 5.5 10.2 1.5 2 3.7 6.8 7.3 9.7 4.2 4.3 3.3 4 8.7 7.7 8 5.8 10.8 6 7 2.2 7.7 3 6 1.3 9.3 0.5 0.2 0.2 5.3 0 10.5-1.5 10-3.2 9.5-5 7.7-6 6.8-7 5.5-8 4-8.5 1.5-4 2.7-10.3 0.3-3.7 0.7-4 0-4.8 0.3-0.2-1.3-1.8-1 0-20.2 7.3-7.8 5-2.7 2.7-13.3 10.3-6.5 4-7 3.2-8.2 2.5-5 0.8-7 0.2-0.3-0.2-5.2-0.3-8-1.7-4.3-1.5-3.2-1.8 3.5-1.7 2.2-0.3-2-1.2-2 0-2.7-1-2.3 0-3.2-1-1.5 0-9.8-3-7.2-3.5-6.3-4-7.7-6.5-5.3-5.5-4.7-6.3zM729.6 290.4l-1.2 2.7 1 0 1 2 1.5 0 1.7 1.5 1.8 0.3 2 1.2 4.5 1.8 6.2 3.2 2 1.8 1.5 0.5 3 3.5 3.3 1.5 1 1 3 1.2 2 2.8 1.5 0.2 0.7 0.8 1.3 2.7 1 0.5 0.7 1 3.8 1.5 2.2 4 1.5-0.2 0.5 0.5 0.5 2 2.8 1.2 1.2 2.5 5.5-1.7 1.5 3.7 0.3-0.2 0-2.3 0.5-2.5-0.5-0.7 0-1.5-0.8-1-2.7-1.5 1-4-2.8-2-1-6.5-3.7-1.8-0.8-0.7-0.5-3-0.5-0.8-0.7-0.2-0.3-1.5-2.7-1-0.8-1.5-2.7-0.8-1-2.7-1.5-0.8-0.5-1.7-2.3-1-3-0.8-0.7-0.7-3-0.8-0.8-0.7-2.5-0.5-1.7-1-1.8-0.3-2.7-1-8.8-1.7-6.7 3zM738.4 238.1l-6.8 7.3-5 7.5-4 8.5-1.5 4-2.5 9.5-1.2 9 0 3.7 2-4.5 5-5.2 2.7-2 6.3-3.3 9-2.2 3.5 0 0.2-0.3 0.8 0.3 5.5-0.3 1 0.5 1.7-0.2 1 0.5 1.3 0 1.5 0.7 0.2-0.2 5 2.2 9 2.8 1 0.7 1.8 0.5 0.7 1 1 0.3 1 1.5 0.8 0.2 2 2.5 3.2 0.5 0.8 1.5 1.7 0.5 1.5 3 1 1 2.8 0.8 0.5 0.5 0.5 1.7 2.2 1.5 1.5 2.5 0.8 0 0.7 0.5 0.5 1.8 2.5 1.5 1.5 3 2 1 1 3.2 2 1.8 0.5 1.2 3.3 2.8 2 5 1 1 0.5 2.2 2.7 3 0.8 2 2.5 2.8 1.7 4.7 1.5 2.3 2.3 7.5 2.7 4.2 1.3 3.3 2 3.5 3.5 9.7 1.2 5 7 10.5 1.8 1.5 5.2 1 6.5-1.7 6.8-3 1.5-1.3 3.2-3.7 3-6 2.8-8.8 1.5-9.2 0.2-12.5-0.2-0.3-0.3-7.5-0.5-2-1-9-2-9.7-1-3 0.3-0.8 1.2 1.5-3.2-8.5-2.3-4-2.5-6.5-5.7-11-5.5-9.2-6.8-9-6.5-7.3-9.5-8.7-7.5-5.5-12.2-7-7.3-2.3-6.2-2.5-9-1.7-12.5-0.5-9.5 1.2-4.5 1.3-7.3 2.5-8.2 4.2z"/><path fill="#ff9200" d="M707.1 412.1l0 0.5 1.5 2.3 4 10 5.3 9.7 1.5 2 3.7 6.8 7.3 9.7 4.2 4.3 3.3 4 8.7 7.7 8 5.8 10.8 6 7 2.2 7.7 3 8.3 1.5 12.5 0.5 7.7-1 4.5-1 8.3-2.7 9.5-5 7.7-6 6.8-7 5.7-8.5 3.8-8 1.7-4.8 2.5-9.5 0.3-3.7 0.7-4 0-4.3-1.2-1.5-3.3 0.8-5.5 2.2-6.5 2-5.5 2.3-8 5.2-1.7 1.8-13.3 10.2-8.7 5.3-6.3 2.7-6.7 2-9.3 1.3-6.5-0.3-7.7-1.2-5.3-1.5-6.7-3.3 0.7-1.2 3.3-0.5-4-1.3-1.5 0-9.8-2.5-7.2-2.7-7.5-4-7-5-10-9.8-3.5-4.7-1.3-2.5-2.2-2.8zM730.6 290.9l1 2.7 0.8 0 1.7 1.5 1.3 0.3 2.2 1.5 1.3 0.2 10 5 1.7 1.5 1.8 0.5 2 2.5 1.5 0.8 1 1.7 1.2 0.5 0.8 0.8 3.7 1.5 1.3 2 2.7 0.7 2.5 4.8 4.5 1.7 1.5 2.8 3.5 0 0.3 0.2 1 3.8 1.7 1.5 0 0.5 1.8-0.8 2.5-0.5-2.8-2 1.8-6.5-2-1.7-0.5-4.3-0.8 0-0.7-0.5 0.2-2-2.7-1.2-0.8-0.8-0.5-2.7-1.5-0.3-0.7-0.7 0-2.5-1.8-0.5-0.5-1-3.5-1.3-0.7-2-0.5-0.5-1 0-0.8-0.5-1-3-4.2-1.2-0.3-0.5-3.2-0.8-0.8-0.7-2.5-0.5-1.2-0.8-11.3-2.7-1 0-4.5 2.5-4.2 0.5zM738.4 238.1l-6.8 7.3-5 7.5-4 8.5-1.5 4-2.5 9.5-1.2 9 0 2.7 2-4.5 4.2-4.5 4-3 5-2.5 6-1.7 4-0.8 10.3 0 2.5 0.3 1 0.5 0.7-0.3 7.8 3.3 8.5 2.5 0.7 0.7 1.8 0.3 0.2 0.7 0.8 0.5 0.7 0 1 1.5 1 0.5 2 2.5 3 0.5 0.5 1.3 1.8 0.5 0.7 0.7 1 2.3 1.5 1.5 2.5 0.5 0.8 2 2.5 1.7 1 2 1.7 1 0.8 1.8 2.5 1.5 1.5 3 1.7 1 1 3 2.3 2 0.7 1.5 3 2.5 1.8 4.5 1.2 2 0.3 1.2 3 3.3 1 2.5 2.5 2.7 2 5.5 1 1 2 7 3.5 5.5 0.7 2.3 2.5 4.7 1 3.5 1.5 3.3 1.8 6.5 7.2 11 1 1 1.8 0.7 5.2 0.8 5.8-1.5 6.2-2.8 5-5.7 2.5-5 2.8-8.8 1.5-9.2 0.2-12.5-0.2-0.3-0.3-7.5-0.5-2-1-9-2.5-11.7-2-5.8 0.3-0.5 0.7 0.8-1.2-3.3-2.3-4-2.5-6.5-5.7-11-5.5-9.2-8.3-10.8-5-5.5-7.5-7-11.2-8.5-8.3-4.2-2.2-1.5-7.3-2.3-6.2-2.5-7-1.5-6.5-0.2-2.8-0.5-5.2 0-11.5 1.7-8 2.5-10 5z"/><path fill="#ff8d00" d="M708.6 415.1l4 9.8 5.3 9.7 1.5 2 3.7 6.8 7.3 9.7 4.2 4.3 3.3 4 8.7 7.7 8 5.8 10.8 6 7 2.2 7.7 3 8.3 1.5 12.5 0.5 7.7-1 4.5-1 8.3-2.7 9.5-5 7.7-6 6.8-7 5.7-8.5 3.8-8 1.7-4.8 2.5-9.5 0.3-3.7 0.7-4 0-3-1.2-1.5-3.8 0.7-10 3.5-7.5 3.3-7.2 4.7-15.3 12-7 4.3-3.7 1.7-6.5 2.5-7.3 1.8-4 0.5-8.2 0-8.3-1.3-6-1.7-7.5-3.8-1.2 0-0.8-1 1.3-1-0.3-0.2-3.7-0.8-8.8-2.7-4.7-2-6-3.3-7.8-5.5-7.2-7-6-7.2-0.5-1.8zM733.6 292.4l1.8 1.7 14.2 7 1 1 2.3 0.8 1.7 2 2 0.5 2 3.7 4.3 1.8 1.7 1.7 2.8 0.8 2 3.5 1.5-0.3 0.5 0.8 0 1.5 2.7 1.2 0.8 0.8 0.2 1 5.3-0.3 1.2 4 0.3 0 1.5-5.7-1-1-0.3-2-2.7-0.5-1-0.5 1.2-4.5-1.7-0.8-0.8-0.7-0.2-1.8-3.3-1 0-4-1.7-1.2-3.3-1-1-2-1.7-0.3-1-0.7-0.8-2.8-0.7-0.2-0.3-1-1.5-0.3-10.5-3.7-9-2.3-2.2 2zM738.4 238.1l-6.8 7.3-5 7.5-4 8.5-1.5 4-2.5 9.5-1.2 10.5 2-4.3 3.7-4 4-3 5.5-2.7 3-1 7.3-1.5 12.2 0.2 4.8 1.5 4.5 2 9.2 2.8 0.3 0.5 2 0.5 0.7 1 1.3 0.2 0.7 1.3 1.8 1.2 1 1.8 3.2 0.7 0.8 1.3 1.7 0.5 1.8 3 1.5 1.5 2.2 0.5 0.8 1.7 2.7 2 1.3 2.5 1 0.3 1.2 2 2.5 1.5 1.8 3.5 1.5 0.7 1 2.8 1.7 1.2 1.3 2.3 2.7 2.2 2.5 6 0.5 0.3 0.5 1.7 3 3.3 1.3 2.7 2.5 3 1.5 4.3 1.5 2.5 1.5 5.5 0.7 0.7 0.8 1.8 2.5 3.7 1.2 3.5 1.8 3 1.7 5.5 1.3 2.8 1.2 4.7 7.5 11.5 0.8 0.8 2.2 1 3.8 0.7 1.7 0 5.5-1.2 6-3 5-6 2-4 2.8-8.8 0.7-4.5 0-1.5 0.8-3.2 0.2-12.5-0.2-0.3-0.3-7.5-0.5-2-1-9-2-9.7-4-13-5.5-12.3-9.2-16.2-6.8-9-6.5-7.3-9.5-8.7-7.5-5.5-12.2-7-7.3-2.3-6.2-2.5-9-1.7-12.5-0.5-9.5 1.2-4.5 1.3-7.3 2.5-8.2 4.2z"/><path fill="#ff8800" d="M708.6 415.1l4 9.8 5.3 9.7 1.5 2 3.7 6.8 7.3 9.7 4.2 4.3 3.3 4 8.7 7.7 8 5.8 10.8 6 7 2.2 7.7 3 8.3 1.5 12.5 0.5 7.7-1 4.5-1 8.3-2.7 9.5-5 7.7-6 6.8-7 5.7-8.5 3.8-8 1.7-4.8 2.5-9.5 0.3-3.7 0.7-4 0-1.8-0.7-1.2-1.8-0.3-10.7 3.5-9 3.8-8.3 5.5-13.7 10.7-6.3 3.8-8 3.7-5.5 1.8-7.2 1.5-10 0.2-8.5-1.2-7.5-2.3-4.3-2-3-2-4-0.2-3.7-2.5-3.5-1.8-4.8-1.7-6.7-3.5-6.5-4.5-7-6.3-7.3-8.2-1-3zM741.6 293.4l0 2.5 8.3 4 1.2 1 2.8 1 1.5 1.5 2.2 0.5 1.8 3 1-0.3 0.7 0.3 0.5 2.5 2 0.7 1 1 3.8 1 1.2 2.5 3.8-1 0.5 0.8 0.2 4 0.3 0.7 0.7 0.3 0.3 0.5 5.7-0.5-3-0.5-2-0.8 1.8-6.2 0-1-1.3-0.8 0-0.7-4.2-1.5 0-5.3-4.3-1.5-1-1.5-3-0.7-1-2.5-2-0.3-0.5-2.5-0.7-0.7-15.5-4.5zM738.4 238.1l-6.8 7.3-5 7.5-4 8.5-1.5 4-2.5 9.5-1.2 9.5 2.5-4.8 3.7-3.7 3.8-2.8 5-2.5 2.2-0.7 8.3-1.8 1.7 0.3 8-0.3 1 0.5 1.3-0.2 1.5 0.7 0.5-0.2 5 2.2 1.5 0.3 2.5 1.2 9.7 3 0.8 1 1.2 0.3 1.5 1.7 0.5 0 2.5 3 2 0.3 0.8 0.5 0.2 0.7 2.3 0.8 1.5 2.7 1.7 1.8 2 0.5 0.5 0.5 0.3 1.2 2 1 1.2 1.5 1 2 1.3 0.5 0.2 1.3 3.3 2 1.7 3.5 1.5 1 0.8 2.2 2.5 2 1.2 2.5 2.3 1.5 3.2 7.5 3.3 3.5 1.5 3.3 2 2.2 2 5.3 1.2 2 1.3 4.5 4.7 7.7 1 3 2 3.8 3.5 10.7 8 12.8 3.3 1.7 3.5 0.8 1.7 0 5.5-1.3 5.5-2.7 5.5-6.5 1.5-3 2.8-8.8 0.7-4.5 0-1.5 0.8-3.2 0.2-12.5-0.2-0.3-0.3-7.5-0.5-2-1-9-2-9.7-2.7-9.3-4-10.2-2.8-5.8-9.2-16.2-6.8-9-6.5-7.3-9.5-8.7-7.5-5.5-12.2-7-7.3-2.3-6.2-2.5-9-1.7-12.5-0.5-9.5 1.2-4.5 1.3-7.3 2.5-8.2 4.2z"/><path fill="#ff8300" d="M708.6 415.1l4 9.8 5.3 9.7 1.5 2 3.7 6.8 7.3 9.7 4.2 4.3 3.3 4 8.7 7.7 8 5.8 10.8 6 7 2.2 7.7 3 8.3 1.5 12.5 0.5 7.7-1 4.5-1 8.3-2.7 9.5-5 7.7-6 6.8-7 5.7-8.5 3.8-8 1.7-4.8 2.5-9.5 0.3-3.7 0.7-4-0.2-1-1-1.3-1.8 0.3-12 4-6.2 2.7-8.8 5.5-5.7 4.8-3.5 2.2-4.8 3.8-6.2 3.7-8 3.8-7.5 2.2-5.5 1-3 0-0.3 0.3-8.7-0.3-6.3-1-6.7-2-4.3-1.7-5.5-3.3-4.5-0.5-4-1-3.7-2.2-1 0-3-2.5-5.8-3-5-3.5-5.7-4.8-3.8-4-0.7-1.7-4.8-5.3-0.7-2.7zM750.1 290.1l0.3 1.3-0.8 2 4-1.3 0.8 0.3-5.3 4.2-1 1.3 3.5 1.7 3 1 0.8 1 3.2 0.8 1.5 2 3-0.3 0.5 0.8 0.5 4.5 4.5 1.2 1 0.8 0.3 0.7 5-1.2 1.2 0.2 0.3-0.2-0.3-0.5-4.7-1.3-0.3-0.2 0-3.3-5.7 3-0.3-0.2 4.8-6.5-2.8-0.8-0.2-0.7-4-1-0.5-1.5-3.3-0.3-0.5-0.5-0.2-2-3 0.8-0.3-0.3 0.3-4zM738.4 238.1l-6.8 7.3-5 7.5-2.5 5.2-3 7.3-2.7 10.7-0.8 6.8 1.3-2.8 2-2.5 2-2 4-3 3.7-2 4.8-1.7 7.7-1.5 1 0.2 3.5 0 0.3-0.2 3.7 0.2 0.8-0.2 1 0.5 1.7 0 2.5 0.7 2.5 1.3 4 1 3.5 1.7 8.3 2.5 0.7 1 1.3 0.3 1 1.5 1 0.2 2.5 3 1.7 0.3 1.3 1.2 2 0.5 1.5 2.8 0.7 0.2 1.3 1.8 2 0.5 0.7 1.7 2.3 1 2 3.5 1.2 1 0 0.5 3.5 2.3 1.8 3.5 1.2 0.7 0.5 1.8 3.3 3 1.2 2.5 2.3 1.7 2.7 6.5 3.8 4.3 1.5 3.2 2 2.3 2 5.5 1 1.5 1 3.7 4.5 7.3 2 5 1.5 2.5 3.5 10 0 0.7 8.2 13 4.3 2 4 0.5 5.7-1.2 5.8-3 5.2-6.5 1-2 2.8-8.8 1.5-9.2 0.2-12.5-0.2-0.3-0.3-7.5-2.5-16-1.5-6.7-3.2-10.3-5.8-13-9.2-16.2-6.8-9-6.5-7.3-9.5-8.7-7.5-5.5-12.2-7-7.3-2.3-6.2-2.5-9-1.7-12.5-0.5-9.5 1.2-4.5 1.3-7.3 2.5-8.2 4.2z"/><path fill="#ff7e00" d="M708.6 415.1l4 9.8 5.3 9.7 1.5 2 3.7 6.8 7.3 9.7 4.2 4.3 3.3 4 8.7 7.7 8 5.8 10.8 6 7 2.2 7.7 3 8.3 1.5 12.5 0.5 7.7-1 4.5-1 8.3-2.7 9.5-5 6.2-4.8 8.3-8.2 5.5-8 4-8.5 1.7-4.8 2.5-9.5 0.3-3.7 0.5-2 0-1.5-1-1.5-1.3 0-3 0.7-9.7 3.5-4.5 2.3-2.3 0.7-7.7 5-4.5 3.8-5.3 3.5-3.7 3-4.3 2.2-2.5 1.8-7.5 3.5-7.2 2.2-6.8 1.3-3 0-0.2 0.2-7.8-0.2-7.7-1.3-7.8-2.5-4.2-2-5-3.2-3.3-0.3-5.5-1.5-8-4.5-2.7-1-5.8-4-6.7-6.5-2.3-1.7-1.7-3.5-4.8-5.3-0.7-2.7zM753.9 298.9l2.5 1.2 3.2 0.8 1 1 5-0.3 0.3 1 1-1.2-0.8-0.5-4-0.8-1-1-4.2 0-0.5-0.7zM738.4 238.1l-6.8 7.3-5.5 8.5-5 11.5-2.5 9.5-0.7 6.5 1.2-2.5 3-3.5 4.5-3.5 5-2.5 3.8-1.3 8-1.5 0.2 0.3 6-0.3 0.3 0.3 5 0.2 5 2 1 0 4 1.3 3.7 2 4.8 1.2 0.5 0.5 2 0.5 0.5 0.8 1.7 0.5 0.5 1 1.3 0.5 2.7 3.2 1.8 0.3 0.7 1 2.3 0.7 1.5 2.5 0.7 0.3 1.5 2 1.8 0.5 0.7 1.5 2.5 1.2 2 3.5 1 0.8 0 0.5 3.5 2.2 2.3 4.3 1 0.5 0.5 1.5 3 2.5 1.5 3 2 1.5 2.7 6.5 4 4.2 1.8 3.8 1.7 2 2.3 6 0.7 1 0.8 3 2 2.7 1.2 2.8 2 3 1.8 4.5 1.7 3.2 3 9.3 2 2.7 6.5 10.8 4.3 2 3.7 0.5 6-1.3 1.8-1.2 4-1.8 5.7-7.7 2.8-8.8 1.5-9.2 0.2-12.5-0.2-0.3-0.3-7.5-2.5-16-1.5-6.7-3.2-10.3-5.8-13-9.2-16.2-6.8-9-6.5-7.3-9.5-8.7-7.5-5.5-12.2-7-7.3-2.3-6.2-2.5-9-1.7-12.5-0.5-9.5 1.2-4.5 1.3-7.3 2.5-8.2 4.2z"/><path fill="#ff7900" d="M708.6 415.1l4 9.8 5.3 9.7 1.5 2 3.7 6.8 7.3 9.7 4.2 4.3 3.3 4 8.7 7.7 8 5.8 10.8 6 7 2.2 7.7 3 8.3 1.5 12.5 0.5 7.7-1 4.5-1 8.3-2.7 9.5-5 6.2-4.8 8.3-8.2 5.5-8 4-8.5 1.7-4.8 2.5-9.5 0.5-4 0-2.7-0.5-0.8-2 0-12 4-7.5 3.5-7.7 5-4.5 3.8-4.8 3-3.5 2.7-6.7 4-7 3.3-7 2.2-6.5 1.3-11.8 0.2-8.7-1.5-9-3-9.5-5.5-2.5-0.2-4.3-1.3-8-4.5-6.2-2.7-9-8.8-2.3-1.7-1.7-3.5-4.8-5.3-0.7-2.7zM738.4 238.1l-6.8 7.3-5.5 8.5-5 11.5-2.5 9.5-0.7 5.7 1-2.2 1.2-1.8 2.8-2.7 3.2-2.5 4.8-2.5 3.5-1.3 7.7-1.5 7.5-0.2 0.3 0.2 3 0 0.7 0.5 1-0.2 4.3 1.7 4 0.8 3.7 1.5 2.3 1.5 4 1 1.2 0.7 1.5 0.3 0.5 0.7 2 0.5 0.5 1 1.3 0.5 3 3.5 1.7 0.3 0.8 1 2 0.5 1.5 2.5 0.7 0.2 2 2.5 1.3 0.3 1 1.5 2.5 1.2 2.2 4 4.3 3 2.2 4.3 1 0.7 0.3 1 3.2 2.8 1.8 3.2 1.7 1.3 2.3 5.5 4.7 5.5 2 4.2 1.3 1.3 3.5 9 3 4.5 1 2.5 2.5 4 1.5 4.2 1.5 2.8 2.2 7 8.8 14.2 4.7 2.5 3 0.5 6.3-1.2 5.7-3 5.5-7 2.8-8.8 1.5-9.2 0.2-12.5-0.2-0.3-0.3-7.5-2.5-16-1.5-6.7-3.2-10.3-5.8-13-9.2-16.2-6.8-9-6.5-7.3-9.5-8.7-7.5-5.5-12.2-7-7.3-2.3-6.2-2.5-9-1.7-12.5-0.5-9.5 1.2-4.5 1.3-7.3 2.5-8.2 4.2z"/><path fill="#ff7400" d="M708.6 415.1l4 9.8 5.3 9.7 1.5 2 3.7 6.8 7.3 9.7 4.2 4.3 3.3 4 8.7 7.7 8 5.8 10.8 6 7 2.2 7.7 3 8.3 1.5 12.5 0.5 7.7-1 4.5-1 8.3-2.7 9.5-5 6.2-4.8 8.3-8.2 5.5-8 4-8.5 1.7-4.8 2.5-9.5 0.5-4-0.5-2.2-2.5 0-11.7 4-6.5 3-8.3 5.2-4.2 3.5-5.5 3.5-1.8 1.5-6.7 4-8.5 4-9 2.8-6.5 1-11.5-0.3-6.8-1.2-10.2-3.5-3.3-1.8-6-4-6-1.5-8-4.5-4.5-1.7-2.5-1.5-8.2-8.3-2.3-1.7-1.7-3.5-4.8-5.3-0.7-2.7zM738.4 238.1l-6.8 7.3-5.5 8.5-5 11.5-2.5 9.5-0.5 4.2 2.3-3.7 6-5 5-2.5 3.7-1.3 7.3-1.2 6.7 0 0.5-0.3 1.3 0.5 1.7-0.2 1 0.5 1.3 0 2.7 1.2 6 1.3 4 1.7 2.3 1.5 3.2 0.8 0.5 0.5 2.3 0.5 0.5 0.7 1.5 0.3 1 1.2 1.2 0.5 3 3.5 1.5 0.3 0.5 0.7 2.5 0.8 1.3 2.2 1.2 0.5 1.8 2.5 1 0.3 1 1.2 2.2 1 2.5 4.3 1 1 2.8 1.5 0.7 0.7 2.3 4.3 0.7 0.5 0.3 1 3.5 2.7 1.7 3.5 1.8 1.3 2 5 5 5.7 1.7 4 1.8 2 3.5 9 2.7 3.8 1.3 3 2.2 3.5 1.5 4.2 1.5 2.8 2.3 7 2 2.7 6.7 11.3 3 2 2.3 1 2.5 0.5 6.5-1.3 6-3.2 3.7-4.8 1.5-2.7 2.3-7.3 1.5-9.2 0.2-12.5-0.2-0.3-0.3-7.5-0.5-2-1-9-2-9.7-4.2-13.5-3.3-7.8-5.7-11-5.5-9.2-6.8-9-6.5-7.3-9.5-8.7-7.5-5.5-12.2-7-7.3-2.3-6.2-2.5-9-1.7-12.5-0.5-9.5 1.2-4.5 1.3-7.3 2.5-8.2 4.2z"/><path fill="#ff6f00" d="M708.6 415.1l4 9.8 5.3 9.7 1.5 2 3.7 6.8 7.3 9.7 4.2 4.3 3.3 4 8.7 7.7 8 5.8 10.8 6 7 2.2 7.7 3 6 1.3 9.3 0.5 0.2 0.2 5.3 0 10.5-1.5 10-3.2 9.5-5 7.7-6 6.8-7 5.5-8 4-8.5 1.5-4 2.7-10.3 0.3-2-0.3-3-0.5-0.2-2.5 0.2-3.5 1-8 3-7.2 3.5-7.8 5-2.2 2-9.3 6.3-6 3.5-8.5 4-8 2.5-4.5 0.5-1.5 0.5-2.2 0.2-10.5-0.2-7.8-1.5-11.2-4-10-6.3-3.8-1-8-4.5-4.5-1.7-2.5-1.5-8.2-8.3-2.3-1.7-1.7-3.5-4.8-5.3-0.7-2.7zM738.4 238.1l-6.8 7.3-5 7.5-4 8.5-1.5 4-2.5 9.5-0.2 2.7 3-4.2 4.5-3.5 4.7-2.5 5.3-1.8 6.5-1 8 0 0.2 0.3 1.8-0.3 1 0.5 1.2 0 2.8 1.3 2.5 0.2 4.5 1.3 4.7 2.2 1.8 1.3 2.5 0.5 0.5 0.5 2 0.5 0.2 0.5 2 0.5 1 1.2 1 0.3 1.3 1.7 1 0.5 1.2 1.5 1 0.3 0.8 0.7 2 0.5 1.5 2.3 1.2 0.5 1.8 2.5 1.2 0.5 0.5 1 2.8 1.2 2.5 4.3 4.5 3.2 3 5.3 3.7 3.2 2 3.8 1.5 1.2 1.8 4.3 5.5 6.5 2 4.5 1.2 1.2 3 7.8 3.5 5 1.5 3.5 2 3 1.5 4.2 1.8 3.5 1.5 5 3.2 4.8 5.8 9.7 2.2 1.8 3 1.5 2.5 0.7 6.8-1.2 6-3.3 3-4 2.2-4.2 1.8-5.8 1.5-9.2 0.2-12.5-0.2-0.3-0.3-7.5-0.5-2-1-9-2-9.7-4.2-13.5-3.3-7.8-5.7-11-5.5-9.2-6.8-9-6.5-7.3-9.5-8.7-7.5-5.5-12.2-7-7.3-2.3-6.2-2.5-9-1.7-12.5-0.5-9.5 1.2-4.5 1.3-7.3 2.5-8.2 4.2z"/><path fill="#ff6a00" d="M708.6 415.1l4 9.8 5.3 9.7 1.5 2 3.7 6.8 7.3 9.7 4.2 4.3 3.3 4 8.7 7.7 8 5.8 10.8 6 7 2.2 7.7 3 6 1.3 9.3 0.5 0.2 0.2 5.3 0 10.5-1.5 10-3.2 9.5-5 7.7-6 6.8-7 5.5-8 4-8.5 1.5-4 2.7-10.3-0.2-4-3.3 0.3-10.7 3.7-8 4-17.3 11.8-7.2 4.2-8 3.8-6.8 2.2-10.7 1.8-5.8 0-0.2-0.3-5.5-0.2-6.8-1.5-10.5-3.8-12-7.5-2-0.5-8-4.5-4.5-1.7-2.5-1.5-8.2-8.3-2.3-1.7-1.7-3.5-4.8-5.3-0.7-2.7zM738.4 238.1l-6.8 7.3-5 7.5-4 8.5-1.5 4-2.7 11.5 2-3.3 5.2-4.5 5.5-2.7 7-2 4.5-0.5 10.3 0.2 3.5 1.3 5.7 1 5.3 2 3.7 2.5 4.8 1.2 0.2 0.5 1.8 0.5 1 1.3 1.2 0.2 1.5 2 0.5 0 2 2.3 3.5 1.2 1.3 2 1.2 0.5 2 2.8 1 0.5 0.5 0.7 2.8 1.3 2.7 4.5 1.5 1.2 2 1 1 1 2.5 4.8 4.3 3.5 2 4 1.5 1.2 1.5 3.8 5.7 6.7 2.3 5 1.2 1.3 2.5 6.7 3.8 5.3 1.7 4 2 3 2 5.5 1 1.7 1.5 4.8 5 7.5 4 7 2.3 1.7 4.7 2.5 2.5 0 4.5-0.7 6.5-3.5 2.3-2.8 3-5.7 1.5-4.8 1.5-9.2 0.2-12.5-0.2-0.3-0.3-7.5-0.5-2-1-9-2-9.7-4.2-13.5-3.3-7.8-5.7-11-5.5-9.2-6.8-9-6.5-7.3-9.5-8.7-7.5-5.5-12.2-7-7.3-2.3-6.2-2.5-9-1.7-12.5-0.5-9.5 1.2-4.5 1.3-7.3 2.5-8.2 4.2z"/><path fill="#ff6500" d="M708.6 415.1l4 9.8 5.3 9.7 1.5 2 3.7 6.8 7.3 9.7 4.2 4.3 3.3 4 8.7 7.7 8 5.8 10.8 6 7 2.2 7.7 3 6 1.3 9.3 0.5 0.2 0.2 5.3 0 10.5-1.5 10-3.2 9.5-5 7.7-6 6.8-7 5.5-8 4-8.5 1.5-4 2.7-10.3-0.5-2.7-2.5 0-5 1.5-6.5 2.5-8.2 4.2-16 10.8-5 3-10.8 5.2-8 2.5-7.5 1.3-7.2 0.2-0.3-0.2-5.7-0.3-7.8-1.7-9.7-3.5-2.5-1.3-1.5-1.2-0.5 0-1.5-1.3-1.3-0.5-1-1-2.2-1-4-2.7-3.8-1.8-4-2.5-4.5-1.7-2.5-1.5-8.2-8.3-2.3-1.7-1.7-3.5-4.8-5.3-0.7-2.7zM738.4 238.1l-6.8 7.3-5 7.5-4 8.5-1.5 4-2.5 10 2.8-3.8 5-3.7 4-2 5.2-1.8 7-1 10 0.3 3.5 1.2 1.5 0 5.5 1.3 6.3 2.7 2.7 2 0.8 0 0.7 0.5 2.3 0.5 0.2 0.5 2 0.5 0.8 1 1.5 0.5 1.2 1.8 1 0.2 1.8 2.3 3.5 1.2 1 1.8 2 1 2 3 3.7 2 2.5 4.2 4.8 3.5 2.5 4.8 4.2 3.5 2.3 4.2 1.2 1 1.3 3.3 2.2 2.2 1 2 3 3.3 2.3 5 1.2 1.5 1.8 5 4.5 6.5 2 4.5 2 3.2 1.5 4.3 1.5 3 0.7 2.7 5 7.5 4.3 7.5 1 1 6.5 3.8 6.7-0.8 6.5-3.5 1.8-2.5 3.5-6.7 1-3.3 1.5-9.2 0.2-12.5-0.2-0.3-0.3-7.5-0.5-2-1-9-2-9.7-4.2-13.5-3.3-7.8-5.7-11-5.5-9.2-6.8-9-6.5-7.3-9.5-8.7-7.5-5.5-12.2-7-7.3-2.3-6.2-2.5-9-1.7-12.5-0.5-9.5 1.2-4.5 1.3-7.3 2.5-8.2 4.2z"/><path fill="#ff6000" d="M708.6 415.1l4 9.8 5.3 9.7 1.5 2 3.7 6.8 7.3 9.7 4.2 4.3 3.3 4 8.7 7.7 8 5.8 10.8 6 7 2.2 7.7 3 6 1.3 9.3 0.5 0.2 0.2 5.3 0 10.5-1.5 10-3.2 9.5-5 7.7-6 6.8-7 5.5-8 4-8.5 1.5-4 2.5-9.3-0.5-2.5-2.8 0-10.7 3.8-7 3.5-16.3 10.7-8 4.8-8.2 3.7-6.8 2.3-5.7 1.2-4 0.5-12.5-0.2-8.8-2-10.7-4-9.5-6.3-3-1.5-1.5-1.7-2.8-1.3-4-2.5-4.5-1.7-2.5-1.5-8.2-8.3-2.3-1.7-1.7-3.5-4.8-5.3-0.7-2.7zM738.4 238.1l-6.8 7.3-5 7.5-4 8.5-1.5 4-2.2 8.7 3.2-4 3.3-2.5 4.7-2.5 6.5-2 6.3-0.7 9.7 0.2 2.5 1 4 0.5 4 1 4.5 1.8 3.8 2.2 1 1 3.2 0.8 1 0.7 1.8 0.5 0.5 0.8 1.5 0.5 1.5 1.7 1.5 1 1.2 1.8 3.3 1 1 1.7 2.2 1.3 2 3 3.5 1.7 2.5 4 1.8 1.8 2 1 1.2 1.2 2 4 5 4.5 2 4 1.3 1 1 2.8 2.5 2.5 1 2 3 3.2 2.5 5.5 1.2 1.8 1.3 3.7 1.5 1.8 0.5 1.2 3.5 5 1.5 3.8 2 3.2 3.5 9.3 5.5 8.2 3.7 6.8 1.8 1.5 6.5 3.7 7-1 5.5-3.2 5.5-10 2-11 0.2-12.5-0.2-0.3-0.3-7.5-0.5-2-1-9-2-9.7-4.2-13.5-3.3-7.8-5.7-11-5.5-9.2-6.8-9-6.5-7.3-9.5-8.7-7.5-5.5-12.2-7-7.3-2.3-6.2-2.5-9-1.7-12.5-0.5-9.5 1.2-4.5 1.3-7.3 2.5-8.2 4.2z"/><path fill="#ff5b00" d="M708.6 415.1l4 9.8 5.3 9.7 1.5 2 3.7 6.8 7.3 9.7 4.2 4.3 3.3 4 8.7 7.7 8 5.8 10.8 6 7 2.2 7.7 3 6 1.3 9.3 0.5 0.2 0.2 5.3 0 10.5-1.5 10-3.2 9.5-5 7.7-6 6.8-7 5.5-8 4-8.5 1.5-4 2.2-8.3-0.2-2-3-0.2-5 1.5-5 2-8 4-15.3 10-7.2 4.2-8.5 4-8.5 2.8-9 1.5-9.3 0-4.5-0.5-9.5-2.5-9-3.5-3-1.8-1-1-1.2-0.5-1-1-2.3-1-1-1-3-1.5-2-2.2-2.5-1.8-10.5-5.2-8.2-8.3-2.3-1.7-1.7-3.5-4.8-5.3-0.7-2.7zM738.4 238.1l-6.8 7.3-5 7.5-4 8.5-1.5 4-2 7.7 1.3-2 2.2-2.2 3-2.3 4.3-2.2 6.7-2 6.5-0.8 7.3 0 1.2 0.5 0.8-0.2 2.5 1 3 0.2 5.2 1.3 6.5 2.7 3.8 2.8 2.5 0.5 0.2 0.5 2.3 0.5 0.7 1 1.3 0.2 1.5 1.8 0.7 0.2 1.3 1.3 1 1.5 3 1 1 1.5 1.7 0.7 3 4 3.3 1.5 2.2 3.8 1.8 1.7 3 1.8 2.2 4.2 1.5 1.8 3.5 2.7 2.5 4.8 1 1 0.8 2 3 3 1.2 2.5 2.8 3 2.5 5.5 0.7 0.7 1.5 4 1.5 1.8 1.3 2.5 2.7 3.7 2 4.8 1.8 2.7 3 8 2.7 3.8 6.8 11.7 2.5 2 5.5 3.3 7.5-0.5 5.7-4 5.3-10.3 1.5-9.2 0-5.5 0.2-0.3 0-6.7-0.2-0.3-0.3-7.5-0.5-2-1-9-2.5-11.7-3.2-10.3-3-7.2-6.5-12.8-5.5-9.2-6.8-9-8.7-9.5-7.3-6.5-9.2-6.8-8.3-4.2-2.2-1.5-7.3-2.3-6.2-2.5-9-1.7-12.5-0.5-9.5 1.2-4.5 1.3-7.3 2.5-8.2 4.2z"/><path fill="#ff5600" d="M708.6 415.1l4 9.8 5.3 9.7 1.5 2 3.7 6.8 7.3 9.7 4.2 4.3 3.3 4 8.7 7.7 8 5.8 10.8 6 7 2.2 7.7 3 6 1.3 9.3 0.5 0.2 0.2 5.3 0 10.5-1.5 10-3.2 9.5-5 7.7-6 6.8-7 4.5-6.5 5-10 1.7-4.8 1.8-7-0.3-1.2-2.7-0.3-5.8 1.8-5 2-7.7 4-4 2.7-3.8 2-6.5 4.5-3.5 1.8-3 2-9.5 4.5-8.7 2.7-9.3 1.5-8 0-5-0.5-5.5-1.2-7-2.3-8.2-3.5-3-2.2-0.5 0-1.3-1.3-6.5-3.7-4.5-4.5-10-5-8.2-8.3-2.3-1.7-1.7-3.5-4.8-5.3-0.7-2.7zM738.4 238.1l-6.8 7.3-5 7.5-4 8.5-1.5 4-1.7 6.5 1.5-2.3 3.5-3 6-3.2 8.7-2.3 11.3-0.2 4.5 1.2 2 0 4.7 1 0.8 0.5 3 0.8 4.7 2.2 3.3 2.5 2 0.5 2 1 0.7 0 1 1 1.5 0.5 1.3 1.5 1 0.3 2.5 3 2.5 0.7 1 1.5 1.7 0.8 3.5 4.2 2.8 1.3 0.7 0.7 1.3 2.5 2.7 2.8 2.5 1.5 2 3.7 2.5 2.8 3 2.5 4 7.2 3 3 1.5 2.8 2.5 2.7 3.5 7 0.8 2.3 2 2.5 1.7 3.2 2.5 3.5 3.5 7 2.8 7.3 4 5.7 6 10.5 2.2 1.8 6 3.5 6.8-0.5 6.2-4.3 4.8-9.2 1.5-9 0-5.5 0.2-0.3 0-6.7-0.2-0.3-0.3-7.5-0.5-2-1-9-2.5-11.7-3.2-10.3-3-7.2-6.5-12.8-5.5-9.2-6.8-9-8.7-9.5-7.3-6.5-9.2-6.8-8.3-4.2-2.2-1.5-7.3-2.3-6.2-2.5-9-1.7-12.5-0.5-9.5 1.2-4.5 1.3-7.3 2.5-8.2 4.2z"/><path fill="#ff5200" d="M708.6 415.1l4 9.8 5.3 9.7 1.5 2 3.7 6.8 7.3 9.7 4.2 4.3 3.3 4 8.7 7.7 8 5.8 10.8 6 7 2.2 7.7 3 6 1.3 9.3 0.5 0.2 0.2 5.3 0 10.5-1.5 10-3.2 9.5-5 7.7-6 6.8-7 4.5-6.5 5-10 1.7-4.8 1.5-6.2-0.2-0.8-3.5 0-4.3 1.3-5 2-8 4-12.7 8.2-5.3 2.8-3 2-9.2 4.2-9 2.8-7.3 1.2-9 0.3-0.2-0.3-5.3-0.2-8.2-2-13-5-4.8-3.5-6.7-4-4.5-4.5-3.8-2.8-3.5-1.2-2.5-1.5-8.2-8.3-2.3-1.7-1.7-3.5-4.8-5.3-0.7-2.7zM738.4 238.1l-6.8 7.3-5 7.5-4 8.5-1.5 4-1.2 5 0.7-1.3 3.3-3 6.2-3.5 6-1.7 1.5 0 3-0.8 6.5 0 0.3-0.2 0.2 0.2 2.8 0 3.2 1 3.3 0.3 6.5 1.5 6.5 2.7 4.5 3.3 4 1.2 0.5 0.8 1.7 0.5 1.3 1.5 1 0.2 2 2.5 1.5 1 1.7 0.5 0.8 1.3 2 0.7 3.5 4.5 2.7 1.3 1.8 2.7 2.2 2 0.8 1.3 2.5 1.5 1.7 3.5 3.5 3.5 2 1.5 2.8 5.2 0.7 0.8 0 0.5 4 4.2 1.8 3.3 1.7 1.7 4.3 9 3 3.8 1.2 2.7 2.3 3 3.7 7.5 2.3 6 4.5 6.5 5.5 9.8 2.5 2.2 5.7 3.5 7-0.2 6.3-4.3 4.7-9.7 1.3-7.5 0-5.5 0.2-0.3 0-6.7-0.2-0.3-0.3-7.5-0.5-2-1-9-2.5-11.7-3.2-10.3-3-7.2-6.5-12.8-5.5-9.2-6.8-9-8.7-9.5-7.3-6.5-9.2-6.8-8.3-4.2-2.2-1.5-7.3-2.3-6.2-2.5-9-1.7-12.5-0.5-9.5 1.2-4.5 1.3-7.3 2.5-8.2 4.2z"/><path fill="#ff4d00" d="M708.6 415.1l4 9.8 5.3 9.7 1.5 2 3.7 6.8 7.3 9.7 4.2 4.3 3.3 4 8.7 7.7 8 5.8 10.8 6 7 2.2 7.7 3 6 1.3 9.3 0.5 0.2 0.2 5.3 0 10.5-1.5 10-3.2 9.5-5 7.7-6 7.5-8 4.8-7 4-8.5 2.5-7.5 0-1.5 0.5-1-0.3-0.5-3.2 0-5 1.5-5 2-7.8 4-7.5 4.5-4.2 3-4 2-3.5 2.2-9 4.3-9.3 3-8.7 1.5-5.8 0.2-0.2-0.2-7.8-0.3-5.7-1.2-5.8-1.8-11.2-4.7-4-3-1.3-0.5-1-1-4.7-2.8-3.3-3.5-3-2-2.2-2.2-2.8-1-2.5-1.5-8.2-8.3-2.3-1.7-1.7-3.5-4.8-5.3-0.7-2.7zM738.4 238.1l-6.8 7.3-5 7.5-4 8.5-2.5 7.7 4.3-4.2 7-3.5 4.2-1.3 1.8 0 3-0.7 7.2-0.3 1.3 0.5 1.5-0.2 2.2 0.5 0.8 0.5 3.7 0.2 7 1.8 6.3 2.7 4.5 3.3 3.2 1 0.8 0.7 1.7 0.5 1 1.3 1.5 0.5 3 3.5 2.3 0.7 0.5 1 2 0.8 4 4.7 2.2 1 0.8 0.8 1 2 1.2 0.7 2.5 3 2 1.3 1.5 3 2.3 2 1 1.5 2.5 2 3.2 6 4.3 4.5 1.7 3.2 2 2.3 3.8 8 3.2 4 1.8 3.5 2.5 3.5 1.2 3.2 2 3.5 2 5.3 4.8 6.7 5.5 9.8 3.7 3 4.3 2.5 7.2-0.3 6.5-4.7 2.8-5.5 1.5-4 1-6 0-5.5 0.2-0.3 0-6.7-0.2-0.3-0.3-7.5-0.5-2-1-9-2.5-11.7-3.2-10.3-3-7.2-6.5-12.8-5.5-9.2-6.8-9-8.7-9.5-7.3-6.5-9.2-6.8-8.3-4.2-2.2-1.5-7.3-2.3-6.2-2.5-9-1.7-12.5-0.5-9.5 1.2-4.5 1.3-7.3 2.5-8.2 4.2z"/><path fill="#ff4800" d="M708.6 415.1l4 9.8 5.3 9.7 1.5 2 3.7 6.8 7.3 9.7 4.2 4.3 3.3 4 8.7 7.7 8 5.8 10.8 6 7 2.2 7.7 3 6 1.3 9.3 0.5 0.2 0.2 5.3 0 10.5-1.5 10-3.2 9.5-5 7.7-6 7.5-8 4.8-7 4-8.5 1.7-4.8 0.5-3.5 0.5-1-3.5 0-4.2 1.3-5 2-8.8 4.5-18.7 11.2-8.8 4-7.5 2.5-10.7 2-13-0.2-8-1.8-6-2-9.5-4-3.5-2.7-7.8-4.8-3.2-3.5-3-2-2.8-3-4.5-2.2-8.2-8.3-2.3-1.7-1.7-3.5-4.8-5.3-0.7-2.7zM738.4 238.1l-6.8 7.3-5 7.5-4 8.5-2 6.2 4-3.7 4.5-2.5 7.5-2.3 2 0 1.8-0.5 7.5-0.2 1.2 0.5 1.3-0.3 2.2 0.8 7.3 1 5.7 1.7 5.3 2.5 4.7 3.5 2.3 0.5 1.5 1 1.2 0.3 1 1.2 1.5 0.5 1.8 2.3 0.7 0.2 1 1.3 1.5 0.5 0.8 1 2.5 1 2 3 2.2 2 1.8 0.7 1.5 2.3 2.5 2 1.2 2 2.3 1.5 1.2 2.5 1.8 1.2 1.2 2 3 2.5 3 5.8 4.8 5 2 3.7 1.5 1.5 3.2 7 4.3 5.5 2 4 1.7 2.3 5 11.2 5.3 7.5 5.2 9.3 5 4 3.3 2 7-0.3 6.5-4.7 2-4 2.2-6.3 0.8-4.2 0-5.5 0.2-0.3 0-6.7-0.2-0.3-0.3-7.5-0.5-2-1-9-2.5-11.7-3.2-10.3-3-7.2-6.5-12.8-5.5-9.2-6.8-9-8.7-9.5-7.3-6.5-9.2-6.8-8.3-4.2-2.2-1.5-7.3-2.3-6.2-2.5-9-1.7-12.5-0.5-9.5 1.2-4.5 1.3-7.3 2.5-8.2 4.2z"/><path fill="#ff4300" d="M708.6 415.1l4 9.8 5.3 9.7 1.5 2 3.7 6.8 7.3 9.7 4.2 4.3 3.3 4 8.7 7.7 10 7 4.3 2 5 3 6.5 2 7.7 3 4.5 1 3.8 0.5 7 0.3 0.2 0.2 5.3 0 9.2-1.2 10-3 10-5 8.5-6.5 7.5-8 4.8-7 4-8.5 2-5.8 0.2-1.7-0.2-0.5-2.8 0-6.2 2-11.5 5.5-9.8 6-10 5.5-7.7 3.5-6.8 2.2-4 1-8.5 1.3-9.2 0-4-0.5-7.5-1.8-4.5-1.5-10.8-4.5-3.5-2.7-1.2-0.5-1.3-1.3-4.7-2.7-3.8-3.8-4.5-3.5-2-2.5-3.5-1.7-8.2-8.3-2.3-1.7-1.7-3.5-4.8-5.3-0.7-2.7zM736.6 239.9l-5 5.5-5 7.5-4 8.5-1.7 5.2 3.5-3.5 5.2-2.7 4.5-1.5 6.3-1 7.7-0.3 1.3 0.5 1-0.2 2 0.7 5.2 0.5 8 2.3 6.8 3.2 3.7 3 4.8 1.8 1.2 1.2 1 0.3 4.3 4.2 4 2 1.7 2.5 2.5 2.5 1.8 0.8 1.5 2.2 2.7 2 1.3 2 2 1.5 1 2 2.5 2 1.7 2.8 2.3 1.7 2.5 4.8 5.2 5.7 2 3.8 1.8 2 2.5 5.5 5.2 7 1.5 3.2 2 2.8 4.5 10 2 2.5 1.5 2.7 3 4.3 4 7.2 8.3 6.5 7.5-0.2 6.2-4.5 1.8-3.8 2.5-7 0.5-2.7 0-5.5 0.2-0.3 0-6.7-0.2-0.3-0.3-7.5-0.5-2-1-9-2.5-11.7-3.2-10.3-3.8-9-5.7-11-5.5-9.2-8.3-10.8-5-5.5-9.5-8.7-9.2-6.8-8.3-4.2-2.2-1.5-7.3-2.3-8-3-7.2-1.2-4.5 0-2.8-0.5-5.2 0-9.5 1.2-10 3-10 5-7.5 5.8z"/><path fill="#ff3e00" d="M708.6 415.1l4 9.8 5.3 9.7 1.5 2 3.7 6.8 7.3 9.7 4.2 4.3 3.3 4 8.7 7.7 10 7 4.3 2 5 3 16.2 5.5 4 0.8 9.3 0.5 0.2 0.2 5.3 0 10.5-1.5 8.7-2.7 10-5 8.5-6.5 6.8-7 5.5-8 4-8.5 1.5-4 0.2-2.5-0.7-0.3-1.8 0-4.5 1.3-5.5 2.2-7.5 3.8-7.7 4.7-12.5 6.8-6 2.7-8 2.8-10 2-3.3 0-0.2 0.2-7.5 0-7-1-9-2.5-12.8-5.5-2.7-2.2-1.3-0.5-1.2-1.3-1.8-0.7-1-1-2-1-4-4-4.5-3.5-0.7-1.3-2.3-2.2-2-1-8.2-8.3-2.3-1.7-1.7-3.5-4.8-5.3-0.7-2.7zM736.6 239.9l-5 5.5-5 7.5-4 8.5-1.5 4 4-3.5 4.3-2.3 4.5-1.5 3.5-0.7 2.5 0 2.7-0.5 2.8 0 0.2 0.2 2.8-0.2 1.2 0.5 8.3 1 6.5 1.7 6.5 2.8 0.7 0.7 1 0.3 1 1 0.8 0.2 2.2 2 4.3 1.5 1.2 1.3 1.5 0.5 3.8 4 4 2 2 2.7 0.7 0.3 2.3 2.5 1.2 0.5 1.8 2.2 2.2 1.5 2 3 1.5 1 0.8 1.5 3 2.5 1.5 2.5 2.5 2.3 2.2 4.2 5.3 5.5 2.5 4.8 1.2 1.2 2.3 5 6 8 1.7 3.8 1.3 1.5 4.2 9.2 2.5 3.3 4.5 7 3.5 6.5 9 7.2 7-0.2 6.3-4.5 3.7-9.8 0.8-2.7 0.2-12.5-0.2-0.3-0.3-7.5-0.5-2-1-9-2-9.7-2.7-9.3-4.8-12-5.7-11-5.5-9.2-8.3-10.8-5-5.5-7.5-7-11.2-8.5-8.3-4.2-2.2-1.5-7.3-2.3-8-3-7.2-1.2-4.5 0-2.8-0.5-5.2 0-9.5 1.2-10 3-10 5-7.5 5.8z"/><path fill="#ff3900" d="M708.6 415.1l4 9.8 5.3 9.7 1.5 2 3.7 6.8 7.3 9.7 4.2 4.3 3.3 4 8.7 7.7 10 7 4.3 2 5 3 16.2 5.5 4 0.8 9.3 0.5 0.2 0.2 5.3 0 10.5-1.5 8.7-2.7 10-5 8.5-6.5 6.8-7 5.5-8 4-8.5 1.2-3.5 0.3-1.5-1.5-0.5-3.8 0.7-3.5 1.3-12 5.7-7 4.3-10.7 5.7-7.3 3.3-8 2.7-10.5 2-5 0-0.2 0.3-7.5-0.3-5.8-1-8-2.2-13.2-5.8-4.5-3.5-5.8-3.5-2.7-3-2-1.2-1.3-1.5-1.5-1-4.5-5-1-0.5-8.2-8.3-2.3-1.7-1.7-3.5-4.8-5.3-0.7-2.7zM736.6 239.9l-5 5.5-5 7.5-5 11.2 2-2 4-2.5 6.8-2.5 7-1 4.7 0 0.3 0.3 2.2-0.3 1.3 0.5 5.7 0.5 1.3 0.5 3.5 0.5 0.7 0.5 1 0 5 1.8 6 3 4 3.2 3.8 1.3 1 1 1.5 0.5 4.7 4.7 3.3 1.5 2.2 2.8 0.8 0.2 2.5 2.8 0.7 0.2 1 1 0.3 0.8 3 2 1.7 2.7 1.8 1.5 0.2 0.8 3.5 3 1.5 2.5 2.3 2 2 3.7 5.7 6.3 3 5.5 1 1 1.5 3.5 2 2.2 1.3 2.3 3 3.7 2.5 5 1 1.3 3.5 7.7 4 5.3 1.7 3.2 2.8 4 2.5 4.8 8.7 7.2 2.3 0.3 5.2-0.3 3.3-2.2 3-2.8 4-11.2 0.2-12-0.2-0.3-0.3-7.5-0.5-2-1-9-2.5-11.7-3.2-10.3-5.8-13-9.2-16.2-8.3-10.8-5-5.5-7.5-7-11.2-8.5-8.3-4.2-2.2-1.5-7.3-2.3-8-3-7.2-1.2-4.5 0-2.8-0.5-5.2 0-9.5 1.2-10 3-10 5-7.5 5.8z"/><path fill="#ff3400" d="M708.6 415.1l4 9.8 5.3 9.7 1.5 2 3.7 6.8 7.3 9.7 4.2 4.3 3.3 4 8.7 7.7 10 7 4.3 2 5 3 16.2 5.5 4 0.8 9.3 0.5 0.2 0.2 5.3 0 10.5-1.5 8.7-2.7 7.3-3.5 3.5-2 6.2-4.8 8.3-8.2 5.5-8 4.7-10.5 0.3-1.8-2.8-0.2-3.7 1-5.5 2.2-8 4-4.8 3-4.2 2-7.5 4.3-7.8 3.5-8 2.7-6.7 1.5-5.5 0.8-5.8 0-0.2 0.2-0.5-0.2-4.8 0-6-1-10.2-3-11.8-5.3-4.5-3.5-5.7-3.5-2.8-3-5.2-4.2-2.8-3-1-1.8-9.2-9-2.3-1.7-1.7-3.5-4.8-5.3-0.7-2.7zM736.6 239.9l-5 5.5-5 7.5-4.5 10 2-2 3.8-2.3 6.2-2.2 6.8-1 8 0 2.7 0.7 6.8 0.8 7.5 2.2 7 3.3 5.2 4 2.5 0.7 1.3 1 2 0.8 5 5 3 1.2 1 1.5 1.7 1.3 2.5 3 0.8 0.2 1.5 1.8 2.5 1.5 2.7 4 1 0.7 0.3 0.8 3.5 2.7 2.2 3.5 1.8 1.5 1.5 3 2 1.8 1 1.7 3.2 3.3 2.5 4.7 1.3 1.5 1.5 3.3 2.2 2.5 1.8 3 2.7 3.5 2 4.2 1.8 2.5 2.5 5.8 5 6.7 6.2 10.8 8.8 7.2 7.5 0.5 6-5.2 2.5-6.5 1.5-5 0.2-10.5-0.2-0.3-0.3-7.5-0.5-2-1-9-2.5-11.7-3.2-10.3-5.8-13-9.2-16.2-6.8-9-6.5-7.3-9.5-8.7-9.2-6.8-8.3-4.2-2.2-1.5-7.3-2.3-8-3-7.2-1.2-4.5 0-2.8-0.5-5.2 0-9.5 1.2-10 3-10 5-7.5 5.8z"/><path fill="#ff2f00" d="M708.6 415.1l4 9.8 5.3 9.7 1.5 2 3.7 6.8 7.3 9.7 4.2 4.3 3.3 4 8.7 7.7 10 7 4.3 2 5 3 16.2 5.5 4 0.8 9.3 0.5 0.2 0.2 5.3 0 10.5-1.5 8.7-2.7 7.3-3.5 3.5-2 6.2-4.8 8.3-8.2 5.5-8 4.5-10-0.3-1-2-0.3-6.2 2-12 5.8-1.8 1.2-12.7 6.8-7.8 3.5-9.7 3.2-9 1.8-3 0-0.3 0.2-9.5 0-6.5-1-9.7-2.7-12.5-5.5-4.5-3.5-1.3-0.5-1.7-1.5-3.5-2-5.5-5.5-3-2.3-2.5-3.5-5.3-5.2-0.2-0.8-4-4-2.3-1.7-1.7-3.5-4.8-5.3-0.7-2.7zM731.6 245.4l-5 7.5-4 8.7 1.8-1.7 3.7-2.3 5.8-2 5.7-1 4.8 0 0.2-0.2 4.5 0.2 1.3 0.5 2 0 6.2 1 7.3 2.3 7.2 3.2 0.8 0.8 1.2 0.5 3.5 3 2.5 0.7 0.8 0.8 2 0.7 1.2 1.5 1.3 0.5 3 3.3 2.5 1 1.5 2 1.5 0.7 2.2 2.8 1.5 1 0.3 0.7 2.5 1.5 1.2 1.3 3.3 4.5 4 3.2 2 3.3 1.5 1.2 1.2 2.5 6.8 7.5 4.7 8.5 3.3 3.8 1.2 2.5 2.8 3.5 2.7 5.5 1 1.2 2.3 5 6 8.3 5 8.7 1.7 1.8 7.5 6.2 2.5 0 0.3 0.3 4.7 0.2 6-5.2 2.8-7.5 1-4 0.2-9-0.2-0.3-0.3-7.5-0.5-2-1-9-2.5-11.7-3.2-10.3-5.8-13-9.2-16.2-6.8-9-6.5-7.3-9.5-8.7-9.2-6.8-8.3-4.2-2.2-1.5-7.3-2.3-6.2-2.5-4-1-5-0.7-12.5-0.5-11.5 1.7-8 2.5-10 5-7.5 5.8-3.3 3z"/><path fill="#ff2a00" d="M708.6 415.1l4 9.8 5.3 9.7 1.5 2 3.7 6.8 7.3 9.7 4.2 4.3 3.3 4 8.7 7.7 10 7 4.3 2 5 3 16.2 5.5 4 0.8 9.3 0.5 0.2 0.2 5.3 0 10.5-1.5 8.7-2.7 7.3-3.5 3.5-2 6.2-4.8 8.3-8.2 5.5-8 4.2-9.5-2.7-0.3-3.8 1-6 2.5-7.5 3.8-13.7 7.5-7.8 3.5-9.5 3.2-8.5 1.8-5.2 0.2-0.3 0.3-8.2 0-9-1.5-9-2.8-12.3-5.5-4-3.2-1.2-0.5-1.3-1.3-4.2-2.5-1.5-2-1.3-0.7-1.7-2-2.8-2-2-2-1.5-2.5-4.7-4.5-1.3-2.5-5.5-5-1.7-3.5-4.8-5.3-0.7-2.7zM731.6 245.4l-5 7.5-3.5 7.5 1.5-1.5 5-2.8 4.8-1.5 7.2-1 7.8 0.3 1.5 0.5 2.5 0 5.5 1 7.7 2.5 6.8 3 1 1 1 0.2 2 1.5 1.7 1.8 2 0.5 0.8 0.7 2 0.8 1.5 1.5 1.2 0.5 2 2.5 3.3 1.7 1.7 2 1.3 0.5 4.2 4.8 2.5 1.5 1.3 1.2 2.5 3.8 4.7 4 4.3 6.2 3.5 3.5 1.5 2.5 2.5 2.5 4.2 7.8 3.8 4.2 1.2 2.5 2.8 3.5 5 10 6.7 9.3 5.5 9.2 8.8 7.5 7.7 0.3 5.8-5 2-5.5 1.7-7 0-6.5-0.2-0.3-0.3-7.5-0.5-2-1-9-2-9.7-3.7-12.3-5.8-13-9.2-16.2-6.8-9-6.5-7.3-9.5-8.7-9.2-6.8-8.3-4.2-2.2-1.5-7.3-2.3-6.2-2.5-4-1-5-0.7-12.5-0.5-11.5 1.7-8 2.5-10 5-7.5 5.8-3.3 3z"/><path fill="#ff2500" d="M708.6 415.1l4 9.8 5.3 9.7 1.5 2 3.7 6.8 7.3 9.7 4.2 4.3 3.3 4 8.7 7.7 10 7 4.3 2 5 3 16.2 5.5 4 0.8 9.3 0.5 0.2 0.2 5.3 0 10.5-1.5 8.7-2.7 7.3-3.5 3.5-2 6.2-4.8 8.3-8.2 5.5-8 3.7-8-2-0.5-5.2 1.5-4.3 1.7-13 6.5-4.7 2.8-12.8 5.7-9.5 3-7.5 1.5-6 0.3-0.2 0.2-6.5 0-11.8-2-8.2-2.7-11.8-5.5-5.7-4.5-4.5-2.8-5.3-5.2-3.7-3-1.5-2.5-4.8-4.5-2.7-4.8-4.3-3.7-1.7-3.5-4.8-5.3-0.7-2.7zM731.6 245.4l-5 7.5-2.7 6 3-2.3 2.5-1.2 5.7-1.8 1.8 0 3.2-0.7 7.3 0 4.5 0.7 2.2 0 8.5 2 8.3 3.3 4.2 2.2 4.8 3.8 4.2 1.7 1 1.3 1.3 0.5 3.7 3.7 2.3 1 1.5 1.8 1.2 0.5 3.3 4 3.5 2.2 3.7 5 4.8 4 4 6 3.5 3.3 2 3.2 2.7 3 3.3 6 4.5 5.3 1.2 2.5 3.3 4.5 4 8 3.2 4 1.5 2.7 3 4 4 7 9.5 8.5 7.5 0.3 6-5 1.3-3.5 2.2-9-0.5-12.8-0.5-2-1-9-2-9.7-3.7-12.3-5.8-13-9.2-16.2-6.8-9-6.5-7.3-9.5-8.7-9.2-6.8-8.3-4.2-2.2-1.5-7.3-2.3-6.2-2.5-4-1-5-0.7-12.5-0.5-11.5 1.7-8 2.5-10 5-7.5 5.8-3.3 3z"/><path fill="#ff2000" d="M708.6 415.1l4 9.8 5.3 9.7 1.5 2 3.7 6.8 7.3 9.7 4.2 4.3 3.3 4 8.7 7.7 10 7 4.3 2 5 3 16.2 5.5 6.3 1 12.5 0.5 10.5-1.5 10-3.2 8.7-4.5 8.5-6.5 7.5-8 4.8-7 3-6.5-0.8-0.5-1.5 0-4.2 1.2-5.5 2.3-18 9.2-8.3 3.8-12.2 4-7.8 1.5-7.2 0.2-0.3 0.3-6.5-0.3-9-1.5-8.2-2.5-12-5.5-2.3-1.2-5-4-4.7-3-4.3-4.5-4.5-3.8-1-1.7-4.7-4.8-2.5-4.2-2.8-3.3-2-1.7-1.7-3.5-4.8-5.3-0.7-2.7zM731.6 245.4l-5 7.5-2.2 4.7 4.7-3 6.8-2 7.7-0.7 0.3 0.2 4.2 0 2.3 0.5 4.2 0.3 6.5 1.5 10.5 4 2 1 0.8 0.7 1 0.3 1.5 1.2 0.5 0 3 2.8 3.7 1.5 1.3 1.2 1.2 0.5 4 4 1.8 0.8 1 1.2 2 1 3.7 4.5 3 1.8 3 4 5.5 5 3.5 5.2 4.5 4.5 2 3.3 2 2 3 5.5 5.3 6.2 2 3.8 2 2.5 3.7 7.5 4.3 5.2 8.5 13.5 9 8 7.5 0.3 6-5 3.2-12.5-0.5-11.3-0.5-2-1-9-2-9.7-3.7-12.3-5.8-13-9.2-16.2-6.8-9-6.5-7.3-9.5-8.7-9.2-6.8-8.3-4.2-2.2-1.5-7.3-2.3-6.2-2.5-4-1-5-0.7-12.5-0.5-11.5 1.7-8 2.5-10 5-7.5 5.8-3.3 3z"/><path fill="#ff1b00" d="M708.6 415.1l4 9.8 5.3 9.7 1.5 2 3.7 6.8 7.3 9.7 4.2 4.3 3.3 4 8.7 7.7 10 7 4.3 2 5 3 6.5 2 7.7 3 8.3 1.5 12.5 0.5 10.5-1.5 10-3.2 8.7-4.5 8.5-6.5 7.5-8 4.8-7 2.2-4.8 0-0.5-1.2-0.5-4.5 1.3-5 2-17.5 8.7-8.3 3.8-10 3.5-1 0-3.2 1-1.3 0-3.7 1-5 0.2-0.3 0.3-9.5 0-7-1-6.5-1.5-6.2-2.3-12.5-6-5-4-5-3.2-3.8-4-4.5-3.5-1.7-2.8-3.8-3.5-1.7-2.2-1.3-2.5-4.7-5.5-2-4-4.8-5.3-0.7-2.7zM731.6 245.4l-5 7.5-1.5 3.2 3.8-2.2 5-1.8 2.7-0.5 2 0 2.3-0.5 4.2 0 0.3 0.3 2-0.3 1.7 0.5 2.5 0 5 0.8 8.3 2.5 9 3.7 0.7 0.8 3 1.5 4.3 3.5 2.7 1 0.5 0.7 1.8 0.8 4.2 4.2 1.3 0.5 1.2 1.3 2 1 3 3.7 3.8 2.5 2.7 3.8 6 5.5 3 4.7 4.8 4.5 2.5 4 2 2.3 1.7 3.5 6.3 7.5 2.5 4.5 1.5 1.7 3.2 6.5 5 6.3 1.5 2.7 2.8 3.8 2.7 5 9.8 9 1 0.2 6.7 0.3 5.8-5 3.2-13.3-0.5-9-0.5-2-1-9-2-9.7-3.7-12.3-5.8-13-9.2-16.2-6.8-9-6.5-7.3-7.5-7-4-3.2-7.2-5.3-8.3-4.2-2.2-1.5-7.3-2.3-5.5-2.2-4.7-1.3-5-0.7-12.5-0.5-11.5 1.7-8 2.5-10 5-7.5 5.8-3.3 3z"/><path fill="#ff1600" d="M708.6 415.1l4 9.8 5.3 9.7 1.5 2 3.7 6.8 7.3 9.7 4.2 4.3 3.3 4 8.7 7.7 10 7 4.3 2 5 3 6.5 2 7.7 3 8.3 1.5 12.5 0.5 10.5-1.5 10-3.2 8.7-4.5 8.5-6.5 7.5-8 4.8-7 1.7-3.8-1.5-0.5-4.5 1.3-8.7 3.7-10.8 5.5-9.5 4.3-10 3.5-4 1-9 1.5-10.7 0.2-6.3-0.7-6.2-1.3-8.3-2.7-10-4.8-4-2.2-3.5-3-5.7-3.8-4-4.2-4.3-3.5-1-1.8-6-6.5-1.5-2.7-4.2-5-2-4.5-4.8-5.3-0.7-2.7zM731.6 245.4l-5 7.5-1 2.2 4.3-2.5 3.7-1.2 3.8-0.8 7.2-0.5 9.8 1 5.5 1.3 12 4.5 4 2 1 1 1 0.2 3.7 3.3 2.8 1 1 1 1.7 0.7 1.8 2 0.7 0.3 2.5 2.5 3.8 2.2 4.5 5 2.5 1.5 2.5 3.5 1.2 0.8 1.3 1.7 3 2.3 3 4.7 5 4.8 3 4.7 1.5 1.5 1.5 3 7 8.5 4.7 7.8 1.5 3.2 6.3 8 1.5 2.8 3 4.2 1.2 2.5 1.5 1.8 9 8.2 1.8 0 3.5 0.8 2.5 0 5.7-5.8 2.8-12.2 0-4-0.8-7.5-1.2-8.5-2.3-10.5-3.2-10.3-3.8-9-5.7-11-5.5-9.2-6.8-9-8.7-9.5-7.3-6.5-7.5-5.5-12.2-7-7.3-2.3-6.2-2.5-9-1.7-12.5-0.5-11.5 1.7-8 2.5-10 5-7.5 5.8-3.3 3z"/><path fill="#ff1100" d="M708.6 415.1l4 9.8 5.3 9.7 1.5 2 3.7 6.8 7.3 9.7 4.2 4.3 3.3 4 8.7 7.7 10 7 4.3 2 5 3 6.5 2 7.7 3 8.3 1.5 12.5 0.5 10.5-1.5 10-3.2 8.7-4.5 8.5-6.5 6.8-7 5.5-8 1-2.5-1.8-0.3-4.2 1.3-8.3 3.5-8.2 4.2-11.3 5-9.2 3.3-6.3 1.5-5.5 1-6.2 0.2-0.3 0.3-5.7 0-6.5-0.8-8.5-1.7-8.8-3.3-11.5-5.7-3.7-3.3-5.8-3.7-3.7-4-1.3-0.8-3.7-3.5-1-1.7-2.8-2.5-0.5-1-2.5-2.8-1-2-3.7-4.2-4-7.5-3.8-4.3-0.7-2.7zM731.6 245.4l-5 7.5-0.5 1.2 2.8-2 5-1.7 4.5-0.8 7.5-0.2 9.2 1 6.5 1.7 12 4.8 4.5 2.5 4.5 3.7 1.8 0.5 0.7 0.8 2.3 1 1.5 1.7 0.7 0.3 3 3 3.5 2 2.8 3.2 2.5 2.3 1.7 1 1.8 2.5 4.5 4.5 1.7 1.2 2.8 4.3 5.7 5.7 3 4.8 1.5 1.7 0.5 1.3 3.3 3.5 1.5 2.5 2.5 2.7 4.5 7.3 1.5 3.2 2.5 2.8 1 1.7 3.2 4 3.3 5.5 1.2 1.5 1.3 2.5 10 9.5 8 1 5.7-5.7 1.8-7 0.5-4.8 0.5-1.7-0.8-8.5-1.2-8.3-2.3-10.7-3.2-10.3-3.8-9-5.7-11-5.5-9.2-6.8-9-6.5-7.3-9.5-8.7-9.2-6.8-8.3-4.2-2.2-1.5-7.3-2.3-8-3-7.2-1.2-4.5 0-2.8-0.5-7.5 0.2-7.2 1-8.5 2.5-3.3 1.3-8.2 4.2-9 7z"/><path fill="#ff0c00" d="M708.6 415.1l4 9.8 5.3 9.7 1.5 2 3.7 6.8 7.3 9.7 4.2 4.3 3.3 4 8.7 7.7 10 7 4.3 2 5 3 6.5 2 7.7 3 8.3 1.5 12.5 0.5 10.5-1.5 10-3.2 8.7-4.5 8.5-6.5 6.8-7 5.7-8.5 0-0.5-1.7-0.3-4.3 1.3-5.5 2.2-8.5 4.3-4.5 1.7-6.7 3.3-10.8 3.7-8.7 2-6.5 0.8-7.3 0.2-9.2-1-8-1.7-8.5-3.3-11.8-6-3.7-3.2-6-4-2.3-2.8-1.5-1-4.5-4.2-0.5-1-2.7-2.8-0.5-1-3-3.2-1.5-2.5-2.3-2.5-2-3-2-4.3-2.5-3.7-2-2.3-0.7-2.7zM731.6 245.4l-5.2 8 1.2-1.3 2.3-1.2 4.7-1.5 4.5-0.8 8.3 0 0.2 0.3 0.5-0.3 7.8 1 4.5 1.3 13.5 5.2 2.5 1.3 0.7 0.7 1 0.3 5.3 4.2 4.2 2 1.3 1.5 1.2 0.5 3 3.3 3.3 1.7 2.2 2.8 1 0.5 2 2.2 1.8 1 1.5 2.3 1.5 1 2.7 3.2 2.3 1.8 2.2 3.5 6.3 6.2 5 7.8 2.7 2.7 2.5 3.8 2.3 2.5 4.7 7.7 0.8 1.8 3.5 4 1.5 2.5 2.5 3 5 8.2 10 9.5 8 1.3 5.7-6 1.3-4.8 1.2-8.2 0-3.3-1-7-3-15.7-3.2-10.3-3.8-9-5.7-11-5.5-9.2-6.8-9-6.5-7.3-9.5-8.7-9.2-6.8-8.3-4.2-2.2-1.5-7.3-2.3-8-3-7.2-1.2-4.5 0-2.8-0.5-7.5 0.2-7.2 1-8.5 2.5-3.3 1.3-8.2 4.2-9 7z"/><path fill="#ff0700" d="M708.6 415.1l4 9.8 5.3 9.7 1.5 2 3.7 6.8 7.3 9.7 4.2 4.3 3.3 4 8.7 7.7 10 7 4.3 2 5 3 6.5 2 7.7 3 8.3 1.5 12.5 0.5 10.5-1.5 8.7-2.7 10-5 8.5-6.5 6.8-7 5-7.3-0.5-0.5-1.3 0-4.2 1.3-24.8 11-8.5 3-10.7 2.5-7 0.7-4 0-0.3 0.3-4.5-0.3-9.5-1.2-6.2-1.5-7.8-3-12-6.3-5.7-4.7-3.8-2.3-3.2-3.5-4.3-3.7-1.7-2.3-1.8-1.5-1-1.7-3.5-3.8-0.7-1.5-2.3-2.5-1-2-1.7-2.2-1.5-3.3-4.8-7-0.7-2.7zM731.6 245.4l-4.2 6.5 1.2-1.3 5.3-2 6.2-1 6.8 0 2.5 0.5 4.5 0.3 1 0.5 1.5 0 3.5 1 16.2 6.5 1.3 1 1 0.2 1 1 1.2 0.5 3.5 3 3.8 1.8 1 1.2 1.2 0.5 3 3.3 3.3 1.7 2 2.5 1.5 0.8 2.7 3 1 0.5 0.8 1.2 2.5 2 2.2 2.8 2.8 2.5 1.5 2.5 6.7 6.7 4.3 6.8 4.5 4.7 2 3.3 2.2 2.5 4.3 7.5 4.2 5 4.5 6.2 4.3 7 3.5 3 5 5.3 1.7 1.5 7.8 1 5.7-5.8 0.8-2.5 1.7-11.7-1.2-8.8-2.8-14.2-3.2-10.3-3.8-9-5.7-11-5.5-9.2-6.8-9-6.5-7.3-9.5-8.7-9.2-6.8-8.3-4.2-2.2-1.5-7.3-2.3-8-3-7.2-1.2-4.5 0-2.8-0.5-7.5 0.2-7.2 1-8.5 2.5-3.3 1.3-8.2 4.2-9 7z"/><path fill="#ff0200" d="M708.6 415.1l4 9.8 5.3 9.7 1.5 2 3.7 6.8 7.3 9.7 4.2 4.3 3.3 4 8.7 7.7 10 7 4.3 2 5 3 6.5 2 7.7 3 8.3 1.5 12.5 0.5 10.5-1.5 8.7-2.7 10-5 8.5-6.5 6.8-7 4-6.3-1.5 0-4.3 1.3-21 9.2-11.2 4-9.5 2.3-9 1-6.8 0-10.5-1.3-8-2-8.2-3.5-3.3-2-7.5-3.7-5-4.3-4.2-2.7-5.3-5.5-2-1.5-3.2-3.5-1.3-2-3.7-4-0.3-0.8-2-2.2-1.2-2.5-2.5-3.3-1-2.5-4-5.7-1.8-5zM731.6 245.4l-3.5 5.2 1.8-1.5 5.5-1.7 6.7-0.8 9 0.5 1.5 0.5 2 0 5.5 1.5 14 5.5 6.5 3.5 3.8 3.3 3.2 1.5 1.3 1.2 1.7 0.8 3.5 3.7 2.5 1.3 8.5 8.5 3 2.2 2 2.8 2 1.7 1 1.8 3.5 3.2 1 1.5 3 3 3.5 5.5 5 5.3 2.5 4 2 2.2 3.5 6.3 5 5.7 2.5 4 2.8 3.5 2.7 4.8 3.8 3.2 6.7 6.8 8 1 5.5-5.5 2-12.5 0-3.5-0.5-1.8-0.7-6.5-1.5-6.5-0.3-2.5-3.7-12.5-3.8-9-5.7-11-5.5-9.2-6.8-9-6.5-7.3-9.5-8.7-9.2-6.8-8.3-4.2-2.2-1.5-7.3-2.3-8-3-7.2-1.2-4.5 0-2.8-0.5-7.5 0.2-7.2 1-8.5 2.5-3.3 1.3-8.2 4.2-9 7z"/><path fill="#fd0000" d="M708.6 415.1l4 9.8 5.3 9.7 1.5 2 3.7 6.8 7.3 9.7 4.2 4.3 3.3 4 8.7 7.7 10 7 4.3 2 5 3 6.5 2 7.7 3 8.3 1.5 12.5 0.5 10.5-1.5 8.7-2.7 10-5 7-5.3 8.3-8.2 3.2-4.8-1.7 0-4 1.3-18.5 8-10.3 3.7-12 3-9.7 1-8.3-0.2-9.2-1.3-6.5-1.7-5-1.8-15.3-8-4.2-3.7-4.8-3.3-5-5.2-2-1.5-2.5-2.5-1.7-2.8-4-4.2-2-2.8-1.8-3.2-2.2-2.8-0.8-2-3.5-5-1.5-3.2-1-3.3zM731.6 245.4l-2.5 3.7 1-1 3.5-1.2 6-1 8 0 2.5 0.5 2.5 0 1.3 0.5 3.5 0.5 5 2 3 0.7 5.2 2.5 6 2.3 4.5 2.5 4.3 3.7 2.5 1 1.2 1.3 1.8 0.7 4 4 2 1 1.7 2 1.5 0.8 4.5 5 3.5 2.5 3 4 1.3 1 0.5 1 3.5 3 1.7 2.5 2.8 2.7 3 4.8 6 6.5 2.5 4 1.7 2 2.5 4.5 6.5 7.7 5 7.3 1.5 2.7 6.5 6 4.3 4.5 8 1.5 5.7-6.2 1.5-10 0-3.5 0.3-0.3-1-7.7-3.3-14.8-2.2-7-3.8-9-5.7-11-5.5-9.2-6.8-9-6.5-7.3-9.5-8.7-9.2-6.8-8.3-4.2-2.2-1.5-7.3-2.3-8-3-7.2-1.2-4.5 0-2.8-0.5-7.5 0.2-7.2 1-8.5 2.5-3.3 1.3-8.2 4.2-9 7z"/><path fill="#f80000" d="M708.6 415.1l4 9.8 5.3 9.7 1.5 2 3.7 6.8 7.3 9.7 4.2 4.3 3 3.7 9 8 8.8 6.3 5.5 2.7 5 3 6.5 2 5.5 2.3 8.2 2 9.3 0.5 0.2 0.2 5.3 0 9.2-1.2 7-2 4.3-1.5 9.5-5 7.7-6 6.8-7 2.2-3.3-1.5 0-2.7 0.8-9.5 3.7-8.3 3.8-12.7 4.5-11 2.5-10 1-9.3-0.5-7.2-1-12.3-3.8-15-8-4.2-3.7-4.8-3.3-4.7-5-4.5-4-1.8-2.7-5.2-5.8-2-3.7-3.3-4.3-0.7-1.7-2-2.8-2.8-5.5-1-3.2zM731.6 245.4l-1.5 2.2 1-0.7 2.8-1 6-1 6.5 0 8.7 1 11.8 3.7 5.2 2.8 4.3 1.5 3 1.5 0.7 0.7 1 0.3 4.8 4 5 2.7 4.7 4.5 1.5 0.8 1.3 1.5 2.2 1.2 4.5 5 2.3 1.5 1.7 1.8 3.5 4.5 4.3 3.7 2.5 3.5 1.7 1.5 2.3 3.8 2 1.7 0.7 1.3 4 4.2 3.5 5.5 1 1 1.8 3.3 7.2 8.5 6 9.2 2.8 2.3 8 8 8.2 1.7 5.3-6.5 1.2-8.2 0-3.8 0.3-0.2 0-3.5-1.3-7.3-2.2-9.7-2.5-8.3-5.8-13-9.2-16.2-8.3-10.8-5-5.5-7.5-7-11.2-8.5-8.3-4.2-2.2-1.5-7.3-2.3-8-3-7.2-1.2-4.5 0-2.8-0.5-7.5 0.2-7.2 1-8.5 2.5-3.3 1.3-8.2 4.2-9 7z"/><path fill="#f30000" d="M708.6 415.1l4 9.8 5.3 9.7 1.5 2 3.7 6.8 7.3 9.7 4.2 4.3 3 3.7 9 8 8.8 6.3 5.5 2.7 5 3 6.5 2 5.5 2.3 8.2 2 9.3 0.5 0.2 0.2 5.3 0 9.2-1.2 7-2 4.3-1.5 9.5-5 7.7-6 6.8-7 1.2-1.8-1.7 0-2.5 0.8-10.8 4.2-4.7 2.3-12 4.2-5.8 1.3-2 0.7-5.5 1-7 0.8-7 0-0.2-0.3-6.3-0.2-7.7-1.5-8.8-2.8-5.2-2.2-7.5-4.5-4-2-3.8-3.3-5-3.5-4.7-5-4.5-4-1.5-2.5-5-5.2-2.3-4.3-3.5-4.5-2.2-3.7-3.3-6.5-0.5-2zM731.1 246.1l3-1.2 6-1 6.3 0 7.2 0.7 12.8 3.8 4.5 2 3.2 2 2.5 0.7 4.5 2.3 1 1 1.3 0.5 3 2.7 4.5 2.5 5.7 5.3 0.8 0.2 0.7 1 2.3 1.3 4.2 4.7 3.3 2.3 1.5 1.5 3 4 5.2 4.7 2.3 3.3 1.7 1.7 1 1.8 7.5 8.2 5.8 8.8 3.2 3.5 2.3 3.2 2.5 2.8 5.2 8 11 10.7 4.8 0.8 3.5 1 5-6 0.5-1 0.7-6.3 0-3.5 0.5-4-0.5-3.7-4.2-17.8-4-10.2-2.8-5.8-9.2-16.2-8.3-10.8-5-5.5-7.5-7-11.2-8.5-8.3-4.2-2.2-1.5-7.3-2.3-8-3-7.2-1.2-4.5 0-2.8-0.5-7.5 0.2-7.2 1-8.5 2.5-3.3 1.3-8.2 4.2-9 7z"/><path fill="#ee0000" d="M708.6 415.1l3.8 9.3 5.5 10.2 1.5 2 4.2 7.5 6.8 9 4.2 4.3 3.3 4 8.7 7.7 8.8 6.3 5.5 2.7 5 3 6.5 2 7.7 3 6 1.3 9.3 0.5 0.2 0.2 5.3 0 9.2-1.2 10-3 10-5 8.5-6.5 6.8-7-0.8-0.5-3.2 1-12.8 5.2-12.5 4.5-11.2 2.8-8 1-6 0.2-0.3-0.2-5.2 0-7-0.8-9.3-2.5-9-3.2-8.2-5-4.5-2.3-3.3-3-6.7-5-1.3-1.7-6-5.5-1.5-2.5-5.2-5.8-2.5-4.5-3.3-4-2.2-4-1-2.7-2.3-3.8-0.5-2zM732.1 244.9l3.3-1.3 5.2-0.7 3.3 0 0.2 0.2 2-0.2 8.3 1 12.2 3.5 5.5 2.5 3.5 2.2 1.3 0.3 4.7 2.2 1 1 1.3 0.5 4 3.5 3.5 1.8 1.5 1.7 1.2 0.5 3.8 3.8 3 1.7 3.2 3.8 5.3 4.2 2 2.8 6.7 6.5 4.3 5.7 4 4 1.5 2.3 3.2 3.5 4.5 7 4.3 4.5 2.7 4 1.5 1.5 5 7.5 3 2.5 8 8 8 1.5 5.3-6 0.5-2 0.7-13.5-4.7-19.8-4.3-10.5-2-4-9.2-16.2-8.3-10.8-5-5.5-7.5-7-11.2-8.5-8.3-4.2-2.2-1.5-7.3-2.3-8-3-7.2-1.2-4.5 0-2.8-0.5-7.5 0.2-7.2 1-8.5 2.5-3.3 1.3-8.2 4.2-9 7z"/><path fill="#e90000" d="M717.1 433.1l6 10.3 7.3 9.7 4.2 4.3 3.3 4 8.7 7.7 8.8 6.3 5.5 2.7 4.5 2.8 7 2.2 7.7 3 6 1.3 9.3 0.5 0.2 0.2 5.3 0 7.7-1 4.5-1 8.3-2.7 8.7-4.5 8.5-6.5 5.8-6-4.8 1.2-9 3.8-12.5 4.5-11.7 3-9.8 1.2-9.5 0-0.2-0.2-6-0.3-4.8-1-6.2-1.7-9.8-3.5-13-7.5-5.5-4.8-3.7-2.5-1.3-1.7-6.7-6.5-1-1.8-2.8-2.7-2.7-3.5-2.3-4zM709.9 418.1l2.5 6.3 4.2 7.7-2.5-5.5-2-3.2-0.2-1.3zM733.6 243.1l0.3 0.3 1.5-0.8 6.7-0.7 6.8 0.2 6.5 1 2.7 1 5.8 1.3 6 2.2 3 1.5 3.2 2.3 5.8 2.5 5 3.5 1.7 1.7 2.8 1.3 1.7 1.7 1.3 0.5 3.7 3.8 3 1.7 2.8 3.3 2.7 2.5 2.3 1.5 2.5 3.2 6.5 6 4.2 5.8 4.8 4.7 2.2 3.3 2.3 2.2 3.5 5.5 5.7 6.3 3.5 5 1.3 1.2 3 4.8 4.7 4.2 6.5 6.8 8.3 1.7 5.2-6 0.5-4.2 0-4 0.3-0.3 0-7.7-4.3-17.3-3.2-8.2-2.8-5.8-9.2-16.2-8.3-10.8-5-5.5-7.5-7-11.2-8.5-8.3-4.2-2.2-1.5-7.3-2.3-8-3-7.2-1.2-12.5-0.5-9.5 1.2-11.8 3.8-8.2 4.2-9 7z"/><path fill="#e40000" d="M718.4 435.4l5.2 8.7 6.8 9 4.2 4.3 3.3 4 8.7 7.7 8.8 6.3 5.5 2.7 4.5 2.8 7 2.2 7.7 3 6 1.3 9.3 0.5 0.2 0.2 5.3 0 7.7-1 4.5-1 8.3-2.7 8.7-4.5 8.5-6.5 4.3-4.5-4.3 1.2-4 1.8-16.2 5.7-12.3 3-9.7 1.3-6.3 0-0.2-0.3-7.8-0.2-8-1.8-6.5-2-8-3-5.2-3-0.8-0.7-2.2-1-0.8-0.8-3.5-1.7-4.7-4.3-4-2.7-8.3-8.3-1-1.7-3-3-0.7-1.5-2.3-2.5-1.7-3.3zM710.6 419.9l1.8 4.5 4.2 7.7-1.7-4-2.8-4.5-0.2-1.2zM734.6 242.1l1-0.5 5-0.7 8 0.2 6.8 1 2.7 1 5 1 5.8 2 6 3 2.2 1.8 4.8 2 0.7 0.7 1.5 0.5 1.5 1.5 1.3 0.5 2.2 2.3 2.3 1 1.5 1.5 1.7 0.7 4 4 2.3 1.3 3 3.2 1 0.5 3 3 1.2 0.8 2.3 3 1.7 1.2 5.3 5.3 3.2 4.5 5.8 5.7 2.2 3.3 2.5 2.7 2.5 4 6.8 7.3 6.5 9.2 11.7 11.3 5.8 1.5 2.5 0.2 5-6.5 0.2-7.5 0.3-0.2 0-7-2.3-9.8-3.5-11.2-2-4.8-5.7-11-5.5-9.2-6.8-9-6.5-7.3-9.5-8.7-9.2-6.8-8.3-4.2-2.2-1.5-7.3-2.3-8-3-7.2-1.2-12.5-0.5-9.5 1.2-11.8 3.8-8.2 4.2-9 7z"/><path fill="#df0000" d="M719.6 437.4l4 6.7 6.8 9 4.2 4.3 3.3 4 8.7 7.7 8.8 6.3 5.5 2.7 4.5 2.8 7 2.2 7.7 3 6 1.3 9.3 0.5 0.2 0.2 5.3 0 10.5-1.5 10-3.2 8.7-4.5 7-5.3 4.5-4.2-4.2 1.2-17 6.3-10.3 2.7-11.7 1.8-11.8 0-0.2-0.3-3 0-9.3-2-5.7-1.7-9.3-3.5-8-5-4.2-2.3-3.8-3.5-5.2-3.7-1.5-2-6.5-6.3-0.5-1-2.3-2.2-1.7-2.8-2.3-2.5-0.5-1.2zM711.9 422.9l0.7 2 4 7.2-1.7-3.7-2.3-3.5zM736.6 239.9l-0.5 0.7 4.3-0.7 3.5 0 0.2 0.2 2.3-0.2 5 0.5 10.2 2.2 9.3 3.3 4.7 2.5 3 2.2 6 2.8 1 1 1.5 0.7 3 2.8 1.8 0.7 1.2 1.3 1.8 0.7 5 4.8 1.5 0.7 2.2 2.5 1.8 1 6.7 7 1.8 1.3 1.7 2.2 3.3 3 2.2 3.3 6.8 6.7 3 4.3 1.5 1.5 1.5 2.5 8 8.7 5.5 7.8 3.7 3.2 8 8 2.8 0.5 4.7 1.5 1 0 4.5-6.2 0.5-3.3 0-12.5-5.7-19.5-7-14-5.5-9.2-6.8-9-6.5-7.3-9.5-8.7-9.2-6.8-8.3-4.2-2.2-1.5-7.3-2.3-8-3-7.2-1.2-12.5-0.5-9.5 1.2-11.8 3.8-8.2 4.2-7.5 5.8z"/><path fill="#da0000" d="M721.1 439.9l2.5 4.2 6.8 9 4.2 4.3 3.3 4 8.7 7.7 8.8 6.3 5.5 2.7 4.5 2.8 7 2.2 7.7 3 6 1.3 9.3 0.5 0.2 0.2 5.3 0 10.5-1.5 10-3.2 8.7-4.5 7-5.3 3.3-3-15 5.5-15 4.3-10 1.5-3.5 0-0.3 0.2-11.7-0.2-11.8-2.5-4.7-1.5-10.3-4-4-2.8-7.5-4.2-3.7-3.5-4.8-3.5-3.7-3.8-1-1.5-4-3.7-3-4.3-2.8-3zM737.1 239.4l3-0.5 9.5 0.2 5 0.8 1 0.5 8 1.7 8 3 4 2 4.5 3.3 2.3 0.7 3 2 1.7 0.8 4 3.5 4.3 2.5 1.7 2 1 0.5 2.3 2.2 1.5 0.8 1.5 1.7 2 1.3 6 6.2 1.5 1 5.7 5.8 2.3 3.2 7.5 7.5 5.5 7.5 4.2 4.3 4.5 5.2 4 5.8 4.5 4 7.5 7.5 6.5 1.5 1 0.5 1 0 4.8-6.5 0.2-2.3-0.2-13.2-5.8-18.5-6.2-12.3-5.5-9.2-6.8-9-6.5-7.3-9.5-8.7-9.2-6.8-8.3-4.2-2.2-1.5-7.3-2.3-8-3-7.2-1.2-12.5-0.5-9.5 1.2-11.8 3.8-8.2 4.2z"/><path fill="#d50000" d="M722.1 441.6l1.5 2.5 6.8 9 4.2 4.3 3.3 4 8.7 7.7 8.8 6.3 5.5 2.7 4.5 2.8 7 2.2 7.7 3 6 1.3 9.3 0.5 0.2 0.2 5.3 0 10.5-1.5 8.7-2.7 7.3-3.5 3.5-2 8-6.3-12.3 4.5-10.2 3-6.3 1.5-10 1.5-13.5 0-11.7-2.2-5.8-1.8-10.2-4-8.8-5.2-0.7-0.8-3-1.5-2.8-2.7-6-4.5-3-3.5-5-4.8-3-4.5-3-3.2zM738.9 237.9l3-0.3 0.2 0.3 8.3 0.2 12.7 2.8 8.8 3.2 5.7 3 3.3 2.5 6.5 3.3 5 4.2 3.2 1.8 1.5 1.7 1.5 0.8 4.5 4.2 2.8 1.8 5.7 6 1.5 1 15.8 16.7 3.7 5.3 5.8 5.7 3 4 1.7 1.8 2.8 4 12.5 12 8.2 1.7 4.8-6.2 0-7.3-0.3-0.2-0.2-8.3-5.5-17.5-5.5-10.5-5.5-9.2-6.8-9-6.5-7.3-9.5-8.7-9.2-6.8-8.3-4.2-2.2-1.5-7.3-2.3-8-3-7.2-1.2-12.5-0.5-9.5 1.2-10 3-10 5z"/><path fill="#d00000" d="M723.6 444.1l6.8 9 4.2 4.3 3 3.7 9 8 8.8 6.3 5.5 2.7 4.5 2.8 7 2.2 7.7 3 6 1.3 9.3 0.5 0.2 0.2 5.3 0 10.5-1.5 8.7-2.7 7.3-3.5 3.5-2 5.7-4.5-8 3-14.7 4.2-12.3 2-12.7 0.3-5.8-0.8-8.2-1.7-5-1.5-12.5-5-5-3.5-5.8-3.3-2.2-2.2-6.3-4.8-2-2-1-1.5-5.7-5.5-1.8-3zM740.4 236.6l8.7 0.3 5 0.7 9.3 2.3 9.2 3.5 5 2.5 4.8 3.5 5.2 2.5 1.3 1.2 1.7 1 2 2 2.5 1.3 1.8 1.7 1.5 0.8 3.2 3.2 4.3 3 5 5.3 2.7 2 6 6.7 3.8 3.3 3.2 4 2 1.7 3 4.3 7.8 8 5.7 7.5 8 7.2 4.3 4.5 8.7 2.5 2-2.7 2.5-4.3-0.2-10.2-0.5-5-4.3-13.3-1.7-4.5-9.5-16.7-8.3-10.8-5-5.5-7.5-7-11.2-8.5-8.3-4.2-2.2-1.5-7.3-2.3-8-3-7.2-1.2-12.5-0.5-9.5 1.2-10 3-10 5z"/><path fill="#cb0000" d="M725.1 446.1l5.3 7 4.2 4.3 3 3.7 9 8 8.8 6.3 5.5 2.7 4.5 2.8 7 2.2 7.7 3 6 1.3 9.3 0.5 0.2 0.2 5.3 0 9.2-1.2 11.3-3.5 8.7-4.5 4.8-3.5-7.8 2.7-10.2 3-13.5 2.5-14.8 0.3-8.2-1.3-6.5-1.5-6-2-10.8-4.5-6.5-4.5-4.5-2.5-4.5-4.2-3.2-2.3-2-2-1-1.5-5.5-5.2-2-3.3zM742.1 235.1l0 0.3 6.3 0.2 3.2 0.8 1.8 0 11.2 2.7 12 5 5.3 3.3 1.7 1.5 1.5 0.5 5 3 4 3.5 4.8 3 4 4 3.5 2.2 5 5.3 2.7 2 5 5.7 6 5.5 4 4.5 2.3 3.3 8 8 5 6.5 12.5 11.7 4.2 1 4.3 1.5 4.5-7-0.8-12.7-0.5-3.3-1.7-5.2-5.3-13-6.5-11.3-9-12-5-5.5-7.5-7-11.2-8.5-8.3-4.2-2.2-1.5-7.3-2.3-8-3-7.2-1.2-12.5-0.5-9.5 1.2-10 3-10 5z"/><path fill="#c60000" d="M726.6 448.1l3.8 5 4.2 4.3 3.3 4 8.7 7.7 8 5.8 11.3 6.2 6.5 2 7.7 3 6 1.3 9.3 0.5 0.2 0.2 5.3 0 9.2-1.2 11.3-3.5 8.7-4.5 3-2.3-1.5 0.8-11.7 3.7-15.3 3-13.5 0.5-8-1-7.5-1.5-7-2.2-12.2-5.3-4.8-3.5-5.5-3.2-9.5-8.3-1-1.5-6-6-1-1.7zM743.9 233.9l1.5 0.5 2.7 0 1.5 0.5 4.8 0.5 4.2 1.2 1.3 0 6.5 2 12.5 5.5 6 4.3 5.2 2.7 4.8 4 4 2.5 5.5 5 1.7 1 3 3.3 5.5 4.5 3 3.5 7.5 7 5.3 6.5 9.2 9.2 3.8 5 5.5 4.8 6 6 2.2 1.5 3.8 0.7 3.5 1.3 0.7-0.5 3.8-6 0-4.3-0.3-0.2-0.7-10.3-3.5-9.7-4.5-10.3-7-11.2-5.3-7-6.5-7.3-9.5-8.7-9.2-6.8-8.3-4.2-2.2-1.5-7.3-2.3-6.2-2.5-7-1.5-6.5-0.2-2.8-0.5-5.2 0-8 1-10 2.7-3.3 1.3-8.2 4.2z"/><path fill="#c10000" d="M734.6 457.6l3.3 3.8 8.7 7.7 8.8 6.3 5.5 2.7 5 3 16.2 5.5 4 0.8 9.3 0.5 0.2 0.2 5.3 0 9.2-1.2 11.3-3.5 9.7-5.3-10.2 3.5-15.3 3-7.2 0.3-0.3 0.2-6.7 0-13.8-2-8.2-2.5-11.5-5.2-1.8-0.5-4.2-3.3-6.3-3.7-3-3-4.7-3.8zM745.6 232.6l1.3 0.5 3.2 0.3 9.5 2 6.5 2 9.5 4 5 2.5 5.5 4 4.5 2.2 5.3 4.5 3.5 2 2.5 2.5 5 3.8 2 2.2 2 1.3 2.7 3 1.5 1 2.8 3.2 1.7 1.3 2.3 2.5 3.2 2.7 4 5 7 6.8 4.5 5 2 2.7 7.3 6.3 5.5 5.5 8 2.2 1-0.5 3.7-6.2-1-10-0.7-4.8-6.5-16.5-8.5-13.2-3.8-5-6.5-7.3-9.5-8.7-9.2-6.8-8.3-4.2-2.2-1.5-7.3-2.3-6.2-2.5-7-1.5-6.5-0.2-2.8-0.5-5.2 0-11.5 1.7-9.8 3.3-8.2 4.2z"/><path fill="#bc0000" d="M737.6 461.1l9 8 10 7 4.3 2 5 3 16.2 5.5 4 0.8 9.3 0.5 0.2 0.2 5.3 0 10.5-1.5 8.7-2.7 7.5-3.8-4.2 1.5-12 2.8-11.5 1.2-10.8-0.2-11.5-1.8-7.5-2.2-14.5-6.5-2.7-2.3-6.5-4-2.5-2.5zM747.9 230.9l0 0.7 10.7 2.3 6.8 2 15.7 7 2.8 2 0.5 0 3 2.5 3.2 1.5 1.3 1.2 2.2 1.3 3 2.7 2 1 9.5 8.3 2 1.2 15.8 15.3 1.2 1.7 9 8.8 6.3 7.2 2.5 1.8 9 8.5 8.7 2.7 3.8-7.2-0.8-7.3-1.5-8-4.5-11-2.5-5-8.5-12.7-8-9.3-9.5-8.7-9.2-6.8-8.3-4.2-2.2-1.5-7.3-2.3-6.2-2.5-7-1.5-6.5-0.2-2.8-0.5-5.2 0-11.5 1.7-8 2.5z"/><path fill="#b70000" d="M738.6 461.9l8 7.2 10 7 4.3 2 5 3 16.2 5.5 6.3 1 12.5 0.5 10.5-1.5 8.7-2.7 5.3-2.5-4.5 1.5-10 2.2-9.8 1-11.7-0.2-10.8-1.5-5.5-1.5-4.7-1.8-12.8-6-4.5-3.5-5-3zM750.1 229.9l0 0.5 1 0.5 12.8 3.2 7.2 3 3.3 1.8 5.2 2 3.8 2 0.7 0.7 0.5 0 4 3.3 4.8 2.5 4.7 4 5.3 3.5 3.7 3.7 4.3 3 5.2 5.5 2.8 2 6.7 6.8 1.5 2 2.3 1.7 7.2 7.3 4.5 5.2 4 3 7.8 7.3 8.2 2.5 0.5-0.3 3.5-6.5-0.2-3-2-11.5-7.3-15.7-8.5-12.5-6.5-7.3-9.5-8.7-9.2-6.8-8.3-4.2-2.2-1.5-7.3-2.3-6.2-2.5-7-1.5-6.5-0.2-2.8-0.5-5.2 0-9.5 1.2-10 3z"/><path fill="#b20000" d="M746.1 468.6l9.3 6.8 5.5 2.7 5 3 6.5 2 7.7 3 4.5 1 3.8 0.5 7 0.3 0.2 0.2 5.3 0 10.5-1.5 8.7-2.7 2.8-1.3-8.8 2.5-12.2 1.5-8.5 0-0.3-0.2-3.5 0-6.7-0.8-13.8-3.7-7.7-4-5.8-2.5-3.7-3-2-1zM752.4 228.6l-0.3 0.5 1.3 0.8 8.5 2.2 3.5 1.3 1.7 1 4.8 1.5 4 2 1.2 1 6.5 2.7 0.8 0.8 0.5 0 2.2 1.5 3 2.5 3.5 1.7 5.8 4.8 4 2.5 4.7 4.5 3 2 5 5 4.5 3.5 7 7.5 1.8 1.2 8.2 8.3 2.5 3 6.8 5.2 5.5 5.3 8.5 2.2 3.2-6 0-1.7-0.7-3-0.5-4.3-1.8-6.7-2.7-6.3-4.3-8.2-7-10-6.5-7.3-9-8.2-9.2-6.8-8.3-4.2-2.2-1.5-7.3-2.3-6.2-2.5-9-1.7-12.5-0.5-9.5 1.2-10 3z"/><path fill="#ad0000" d="M755.1 475.1l10.8 6 6.5 2 7.7 3 6 1.3 9.3 0.5 0.2 0.2 5.3 0 9.2-1.2 7-2-4.7 1-10 1.2-7.5 0-0.3-0.2-4.5 0-5-0.5-16.7-4.5zM755.1 227.1l-0.2 1 1 0.8 8 2.5 2.5 1.2 5 1.5 4 1.8 4.5 3 5.7 2.5 4 2.7 1.3 1.3 3 1.5 1 1 2.2 1.2 3.3 3 3 1.8 6.2 5.5 2 1.2 3.8 3.8 5.2 4.2 6.3 6.5 3.5 2.8 8.2 8.7 3.3 2.3 9 8 2.2 0.5 6.3 2.2 3-6.5 0-1.7-1-5.5-2-7.5-6.8-13.5-6-8.3-4.7-5.5-10.3-9.7-9.2-6.8-8.3-4.2-2.2-1.5-7.3-2.3-6.2-2.5-9-1.7-12.5-0.5-8 1-6 1.5z"/><path fill="#a90000" d="M768.9 482.1l3.5 1 7.7 3 8.3 1.5 12.5 0.5 9.2-1.2 3.8-1-9 1.5-14 0-7.8-1.3zM756.4 475.9l9 5 1.5 0.5zM757.6 226.6l0 0.5 1.8 1.3 3.2 1 3.8 1.7 4.5 1.3 6.2 2.7 3.3 2 1.7 1.5 1.8 0.5 2 1 0.7 0.8 1 0.2 4.5 3.5 2 1 1 1 1.8 0.8 2.7 2.5 0.8 0.2 1.2 1.3 2.5 1.5 1.8 1.7 1.7 1 6.3 5.8 2 1.2 4.7 4.3 3.8 4 5.5 4.5 7.2 7.5 5.3 3.7 6.2 5.8 1.3 0.7 8 2.3 2.7-6 0-1.8-3-12.2-5-9.5-5.5-8.3-6.2-7.5-9.3-8.7-9.2-6.8-8.3-4.2-2.2-1.5-7.3-2.3-6.2-2.5-9-1.7-12.5-0.5-8 1-6 1.5-3.8 1.2z"/><path fill="#a40000" d="M772.6 483.4l7.5 2.7 6 1.3 9.3 0.5 0.2 0.2 5.3 0 4-0.5-3.8 0-0.2 0.3-10.8-0.3-9-1.7zM760.4 225.9l0.7 1 1.3 0.7 2.2 0.8 2.3 1.2 0.7 0 6 2.3 4.8 2.2 4 2.5 1.7 1.5 3.5 1.5 4.5 3 2 1.8 3.3 1.7 1.5 1.5 1.5 0.8 4.7 4 2.3 1.2 4.5 4.3 4.2 3 7 6.7 2.5 1.8 5.5 5 4.3 4.5 1.7 1 2.5 2.2 3.3 2.3 4.5 4.2 3.5 1.3 3.5 0.7 1.5 0.8 2.2-4.5 0.5-2.8-3.2-11.7-3.5-6.8-5.8-9-6.5-7.7-7.7-7.3-9.5-7-8.3-4.2-2.2-1.5-7.3-2.3-6.2-2.5-7-1.5-6.5-0.2-2.8-0.5-5.2 0-9.5 1.2-4.5 1.3-1.8 0.7z"/><path fill="#9f0000" d="M775.4 484.4l6.7 2.2 4 0.8 4.8 0.2-8.5-1.2zM763.9 224.9l0.2 1 2.5 1.7 6.8 2.5 6.7 3.3 3.3 2 2.7 2.2 3.8 1.8 3 2 3 2.5 1.2 0.5 1.8 1.5 2.2 1.2 2.8 2.5 4.5 3 2.7 2.8 5.3 3.7 4.2 4.3 6.8 5.2 6 6 4.7 3.3 7.3 6.2 8.7 2.8 2.3-6.5-3.3-10.8-2.7-5.5-4.5-7.2-6.3-7.5-8.7-8.5-8.3-6-10.7-6-7.3-2.3-6.2-2.5-4-1-5-0.7-12.5-0.5-9 1.2-2 0.5z"/><path fill="#9a0000" d="M777.4 485.1l2.7 1 4.5 1 5.5 0.5-5-0.5zM767.6 224.1l-0.2 0.8 1.2 1.2 14.3 7 3 2 2.2 2 4.5 2.3 4.8 3.7 3.2 1.8 1.5 1.5 1.8 1 6 5 1.7 1 2.8 2.5 2.2 1.5 3 3 7.5 5.7 4.3 4.3 6.5 4.5 5.5 4.7 8.2 2.5 2.3-6.2-4.3-11.8-4.7-7.5-5.5-7-7.8-7.7-8.7-6.8-11-6.2-7.3-2.3-6.2-2.5-4-1-5-0.7-12.5-0.5-5.3 0.7-2.7 0.8z"/><path fill="#950000" d="M771.4 223.9l0.2 0.7 2 1.8 5.3 3.2 6.7 3.3 4.8 3.7 4.2 2.3 7 5.2 2 1 4 3.5 4.3 2.8 6.2 5.5 3.5 2.2 7.5 6.8 3.3 2 7.7 6.2 9 3.3 1.5-6.3-3.5-9-2.7-5-5.8-7.7-8.5-8.5-8.2-6.3-10.3-5.7-4.2-1.3-8.3-3.2-4.7-1.3-5-0.7-12.8-0.3-4 0.8z"/><path fill="#900000" d="M776.1 223.9l0.3 1.2 1 1 3 1.3 2.5 2.5 5.2 2.5 4.3 3.5 2.2 1 1.5 1.2 1.3 0.5 3.2 2.8 2.8 1.5 6.2 5 2.5 1.5 3 2.7 7 5 4 3.8 6.3 4 5.5 4.5 7.7 2.2 1.5-4.7 0-1-5-10.5-6.5-8.3-6.2-6.2-8-6.3-10.3-5.7-4.7-1.5-7.3-3-4.7-0.5-6-1.5-7.8 0-3 0.5z"/><path fill="#8b0000" d="M781.6 224.1l0.5 0.8 2.8 1.2 0.7 0.8 1.5 3 3.5 1.7 4.3 3.5 2.5 1.3 6.5 5 3.5 2 5 4.2 3.7 2.3 6.5 5.5 4 2.2 7.8 5.8 3.2 0.7 3.5 1.5 0.8-0.2 0.7-5-1.5-3.3-4-6.7-1.7-2.3-7.5-7.7-7-5.5-10-5.8-6-2-4.3-2-8.7-0.7-5.3-1.3-3 0z"/><path fill="#860000" d="M788.6 224.6l2 4.5 2.8 1.5 4 3.5 1.2 0.5 1.8 1.5 2.2 1.3 5 4 2.8 1.5 8 6.2 7.2 4.5 3.5 2.8 2.3 0.5 5.5 2.2-0.3-5.7-2.7-4.5-4.3-5.3-2.7-2.7-7-5.8-9.3-5.5-8-2.7-1.2-0.8-1.8-0.5z"/><path fill="#810000" d="M796.6 227.6l0.3 1 4.2 4.5 2.3 1.3 7.2 5.7 3.3 1.8 8 5.7 2.7 0.8 4.8 2-1.3-5-5-5.5-5.2-4.5-9.3-5.3-9-2.7-1.7-0.3z"/></g><g fill="none" stroke="#f00" stroke-width="1.5" stroke-linecap="round" stroke-linejoin="round"><polyline points="727.5,375 670,394.6"/></g><g fill="none" stroke="#0f0" stroke-width="1.7" stroke-linecap="round" stroke-linejoin="round"><polyline points="861.1,378.7 907.6,394.6"/></g><g fill="none" stroke="#00f" stroke-width="2.0" stroke-linecap="round" stroke-linejoin="round"><polyline points="788.8,224.2 788.8,196.1"/></g><g fill="none" stroke="#00f" stroke-width="2.1" stroke-linecap="round" stroke-linejoin="round"><polyline points="679.9,391.2 691.9,394.9 704.9,398.2 718.9,400.9 733.6,403.2 748.9,404.9 764,406 780.1,406.6 796.2,406.6 811.6,406.1 827.4,405 842.7,403.3 857.5,401.1 871.5,398.4 884.7,395.2 896.7,391.6 902.3,389.6 907.6,387.5 912.6,385.3 917.2,383.1 921.5,380.7 925.4,378.3 928.9,375.8 932.1,373.3 934.8,370.7 937.2,368.1 939.1,365.4 940.7,362.7 941.8,360 942.5,357.2 942.8,354.5 942.7,351.7 942.2,349.2 941.2,346.4 940,343.9 938.2,341.3 936.1,338.6 933.5,336 930.6,333.4 927.2,330.9 923.5,328.5 919.4,326.1 914.9,323.8 910.2,321.6 905,319.4 899.6,317.4 888.3,313.8 875.5,310.5"/><polyline points="710.6,308.6 696.1,311.9 689.3,313.8 682.8,315.8 676.6,317.9 670.8,320.1 665.4,322.5 660.4,324.9 655.8,327.5 651.6,330.1 647.8,332.8 644.6,335.6 641.7,338.4 639.4,341.3 637.5,344.2 636,347.4 635.2,350.3 634.8,353.3 634.9,356.3 635.6,359.5 636.8,362.5 638.5,365.4 640.6,368.3 643.2,371.1 646.3,373.9 649.8,376.7 653.8,379.3 658.2,381.9 663,384.4 668.3,386.8 673.9,389.1 679.9,391.2"/></g><g fill="none" stroke="#f00" stroke-width="2.1" stroke-linecap="round" stroke-linejoin="round"><polyline points="897.7,391.2 897.6,384.3 897.1,376.6 896.5,369.4 895.6,362.3 894.5,355.1 893.1,348 891.3,340.2 889.4,333 887.1,325.3 884.7,318.3 882.1,311.4 879.3,304.6 876.3,297.9 873.1,291.3 869.4,284.3 865.8,278 862,271.9 858.1,266 854,260.3 849.3,254.4 844.9,249.1 840.3,244.2 835.3,239 830.5,234.6 825.6,230.4 820.6,226.5 815.1,222.6 810,219.3 804.9,216.4 799.7,213.7 794,211.2 788.8,209.3 783.1,207.5 777.9,206.3 772.7,205.4 767.6,204.8 762,204.6 757,204.7 752,205.2 747.1,206.1 742.3,207.2 737.7,208.7 732.7,210.8 728.3,213 724,215.5 719.9,218.4 715.6,221.8 711.8,225.3 708.2,229.1 704.5,233.6 701.3,238 698.3,242.6 695.5,247.5 692.9,252.7 690.5,258.1 688.2,264.2 686.3,270 684.5,276.6 683.1,282.9 682,289.2 681.1,295.8 680.5,302.4 680,309.9 679.9,316.8 680,323.7 680.5,331.4 681.1,338.6 682,345.7 683.1,352.9 684.5,360 686.3,367.8 688.2,375 690.5,382.7 692.9,389.7 695.5,396.6 698.3,403.4 701.3,410.1 704.5,416.7 707.9,423.2 711.8,430 715.6,436.1 719.5,442 723.6,447.7 728.3,453.6 733.1,459.3 737.7,464.3 742.3,469 747.1,473.4 752.5,478 757.4,481.8 762.5,485.4 767.6,488.7 772.7,491.6 777.9,494.3 783.1,496.6 788.8,498.7 794.5,500.5 799.7,501.7 804.9,502.6 810,503.2 815.1,503.4 820.2,503.3 825.6,502.8 830.5,501.9 835.7,500.6 840.3,499.1 844.9,497.2 849.3,495 853.6,492.5 857.7,489.6 861.7,486.5 865.8,482.7 869.7,478.5 873.1,474.4 876.3,470 879.3,465.4 882.1,460.5 884.7,455.3 887.1,449.9 889.4,443.8 891.3,438 893.1,431.4 894.5,425.1 895.6,418.8 896.5,412.2 897.1,405.6 897.6,398.1 897.7,391.2"/></g><g fill="none" stroke="#0f0" stroke-width="2.1" stroke-linecap="round" stroke-linejoin="round"><polyline points="679.9,391.2 680.1,381.7 680.8,372.7 681.9,362.9 683.4,353.8 685.2,344.7 687.7,335 690.5,325.3 693.6,316.4 697,307.7 701,298.5 705.4,289.5 709.8,281.4 714.5,273.6 719.5,266 725.2,258.3 730.7,251.5 736.4,245 742.8,238.6 749.3,232.6 755.6,227.5 762.5,222.6 769,218.5 775.5,214.9 782.6,211.6 789.3,209.1 796.4,207 803.5,205.6 810,204.8 816.5,204.6 823.4,204.9 829.6,205.9 835.7,207.4 841.6,209.4 847.7,212.1 853.6,215.5 858.8,219.2 864.1,223.7 868.8,228.4 873.4,234 877.5,239.6 881.4,246.2 884.7,252.7 887.7,259.6 890.3,266.8 892.7,275 894.5,282.9 896,291.6 896.9,300 897.5,308.6 897.7,318 897.4,326.9 896.7,336.6 895.6,345.7 894,355.5 891.9,365.2 889.6,374.3 886.7,384 883.6,392.8 880.1,401.6 876.1,410.7 871.6,419.7 867.1,427.7 862.4,435.5 857,443.5"/><polyline points="814.2,486 808.2,489.8 802.1,493.1 795.9,496 789.8,498.4 784.1,500.2 777.9,501.7 771.8,502.8 765.7,503.3 759.7,503.4 753.8,503 748,502.1 742.3,500.8 736.8,498.9 731.5,496.7 726.3,493.9 721.4,490.7 716.6,487.1 712.1,483 707.9,478.5 703.9,473.6 700.1,468.4 696.7,462.7 693.6,456.7 690.7,450.4 688.2,443.8 686,436.9 684.1,429.7 682.7,422.8 681.5,415.2 680.6,407.4 680.1,399.4 679.9,391.2"/></g><g font-family="Liberation Sans, sans-serif" fill="#141414"><text x="667.6" y="378.4" font-size="9.6">el</text><text x="681.9" y="403.5" font-size="10">az</text><text x="657.9" y="403.7" font-size="10.2">x</text><text x="913.6" y="401.9" font-size="10.4">y</text><text x="789.2" y="191.6" font-size="8.2">z</text></g><path d="M674.9 380.6 L676.9 387.6 L673.2 388.3 Z" fill="#111"/><path d="M675.4 392.6 Q678.5 395.6 683.6 395.4" fill="none" stroke="#111" stroke-width="1.7" stroke-linecap="round"/><path d="M685.6 396.9 L681.6 393.6 L681.2 397.2 Z" fill="#111"/></svg>
</body></html>
